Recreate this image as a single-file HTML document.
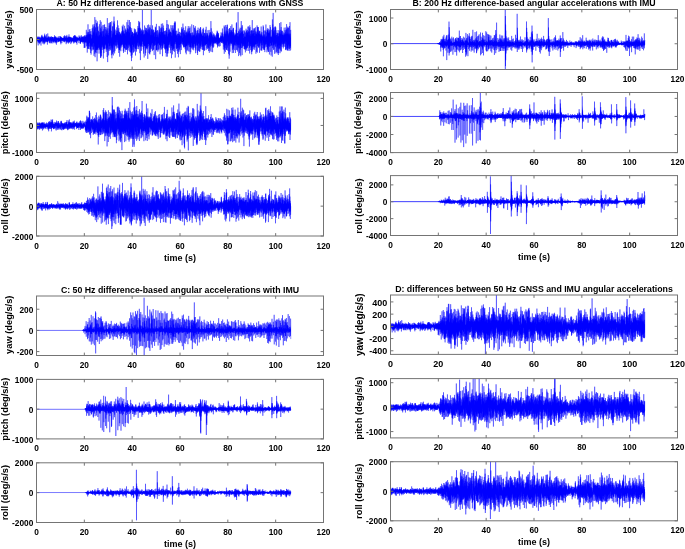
<!DOCTYPE html><html><head><meta charset="utf-8"><style>html,body{margin:0;padding:0;background:#fff;overflow:hidden}svg{display:block;will-change:transform}text{font-family:'Liberation Sans',sans-serif;font-weight:bold}</style></head><body>
<svg width="685" height="549" viewBox="0 0 685 549">
<rect width="685" height="549" fill="#fff"/>
<path transform="translate(36.75 0) scale(0.5 0.1)" d="M0 380l1-3 1 9 1 3 1-6 1 1 1 6 1 11 1-16 1-11 1 6 1-6 1 7 1-4 1 4 1 10 1-35 1 26 1 4 1 1 1-6 1 2 1-9 1 6 1-2 1 5 1 8 1-1 1-17 1 20 1-10 1 0 1 3 1-7 1 15 1 0 1-23 1 10 1 3 1-2 1 0 1 10 1-3 1-8 1 8 1 0 1-4 1-15 1 16 1-1 1-5 1-1 1 3 1 4 1-2 1 4 1-14 1 9 1-1 1-7 1 8 1 5 1-7 1 10 1-16 1-4 1 10 1 0 1-1 1 11 1-7 1-3 1 10 1 1 1-24 1 16 1-18 1 15 1 3 1-6 1 10 1-2 1-4 1 6 1-2 1-16 1 13 1 0 1 5 1-4 1-2 1 0 1-7 1 11 1 4 1-28 1 31 1-26 1 8 1 2 1-13 1-22 1 43 1-50 1 43 1 14 1-52 1 5 1 34 1 9 1 5 1-5 1-37 1-46 1 47 1-25 1 5 1 5 1 32 1-33 1-1 1 16 1 75 1-47 1-13 1-27 1 28 1-30 1-14 1-13 1 32 1 33 1-5 1-35 1 24 1-1 1 31 1-65 1 53 1-19 1-52 1 57 1-35 1 30 1-6 1-12 1-41 1-28 1 75 1 43 1-21 1 22 1-47 1 28 1-39 1-72 1 74 1 18 1 9 1 19 1-43 1-2 1 13 1-67 1 65 1 52 1-45 1-8 1 5 1 7 1 5 1-28 1-16 1 19 1 29 1-28 1-6 1 58 1-68 1 60 1-59 1-11 1 43 1-57 1 81 1-51 1 8 1 53 1-34 1 0 1-11 1-20 1 35 1 11 1 14 1-46 1 27 1-13 1-24 1 25 1 32 1-39 1 5 1-26 1 9 1-32 1-45 1 101 1-16 1 11 1-16 1-21 1 10 1 18 1 24 1-12 1-24 1 37 1-67 1 10 1 46 1-36 1 3 1 39 1-60 1 10 1 43 1-55 1 73 1-14 1-23 1 43 1-73 1 25 1 18 1 30 1-18 1-29 1 59 1-12 1-11 1 6 1-22 1-14 1 51 1-70 1 2 1 42 1-45 1-36 1 53 1-10 1 9 1 15 1 24 1-15 1-13 1 29 1 1 1 4 1-62 1-1 1 63 1-8 1-38 1 2 1-8 1 38 1-43 1 43 1-3 1 7 1-24 1-49 1 39 1 6 1 27 1-60 1 50 1-5 1 7 1 54 1-47 1-4 1-4 1-17 1 21 1 20 1-21 1-5 1-73 1 31 1 72 1-2 1-66 1 18 1 14 1 41 1-42 1 14 1-18 1 16 1-20 1-6 1-14 1 47 1-60 1 33 1 10 1 35 1-36 1 30 1-17 1-8 1-3 1 17 1-47 1 54 1-7 1-27 1 30 1-6 1-45 1 3 1 53 1 21 1-49 1-27 1-33 1 65 1-4 1 5 1 2 1 5 1-24 1 35 1-6 1-1 1-22 1 16 1 22 1-19 1-28 1 39 1 23 1-74 1 30 1 26 1-60 1 14 1 31 1-3 1 29 1-21 1 19 1-16 1-2 1 8 1 16 1-10 1-19 1-25 1 8 1 32 1-2 1 22 1-24 1 7 1-14 1-10 1 13 1-18 1 4 1 31 1-11 1-84 1 80 1 31 1-63 1 5 1-16 1-34 1 37 1 25 1-35 1 13 1-6 1 21 1-18 1-10 1-20 1 58 1-17 1-67 1 81 1-2 1 30 1-35 1 14 1-71 1 46 1 29 1-11 1 12 1-14 1-15 1 18 1-14 1-17 1-15 1 25 1-23 1 4 1 85 1-27 1-22 1 10 1 7 1-20 1-51 1 67 1-52 1 21 1-29 1 53 1-3 1-11 1-19 1 56 1-25 1-15 1-2 1 2 1-12 1 23 1-3 1 12 1-33 1 34 1-7 1-23 1 16 1 28 1-52 1 18 1-6 1 12 1 6 1-3 1-48 1 60 1-11 1 29 1-40 1 26 1-20 1 35 1-41 1 44 1-19 1 2 1-53 1-9 1-3 1 36 1-2 1-12 1 36 1 1 1 5 1 37 1-74 1-48 1 80 1-18 1-30 1 40 1-6 1 4 1 22 1-8 1-23 1 29 1-21 1 17 1-44 1 9 1 23 1-30 1-11 1 31 1-4 1-3 1 63 1-42 1-20 1 24 1-38 1 51 1-43 1 13 1 5 1-37 1 7 1 29 1-20 1 39 1 3 1-22V468l-1-9 -1 6 -1-41 -1 52 -1-62 -1 5 -1 73 -1-56 -1-34 -1 44 -1-42 -1 14 -1-31 -1 42 -1 18 -1-45 -1 24 -1-10 -1 38 -1-33 -1 77 -1-59 -1-23 -1 60 -1-52 -1 59 -1-19 -1-73 -1 101 -1-73 -1 19 -1 10 -1-56 -1 88 -1-54 -1-13 -1-6 -1 41 -1 7 -1-31 -1 7 -1-28 -1 56 -1-3 -1-37 -1 32 -1 1 -1-25 -1-8 -1-9 -1 23 -1 11 -1-30 -1 46 -1-73 -1 30 -1-24 -1 31 -1-6 -1 8 -1-28 -1 56 -1-51 -1-4 -1 5 -1 27 -1 8 -1-42 -1 48 -1-7 -1-3 -1 5 -1 15 -1-1 -1-28 -1 15 -1 22 -1 20 -1-92 -1 67 -1-37 -1 52 -1-61 -1 1 -1 4 -1 2 -1 39 -1 23 -1-95 -1 59 -1 41 -1-30 -1-51 -1 40 -1-21 -1 12 -1 20 -1-43 -1 22 -1 39 -1 0 -1-38 -1-55 -1 92 -1-57 -1-1 -1 66 -1-61 -1-18 -1 32 -1-25 -1 33 -1 3 -1 30 -1-87 -1 28 -1 71 -1-74 -1-8 -1 28 -1-15 -1-12 -1 64 -1-26 -1-14 -1-1 -1-25 -1 7 -1 38 -1-35 -1 36 -1 15 -1-41 -1-5 -1 14 -1-27 -1 14 -1-10 -1 1 -1-7 -1-1 -1 5 -1 17 -1-13 -1 26 -1 18 -1-65 -1 27 -1 2 -1 4 -1-21 -1 12 -1 3 -1 15 -1-12 -1 53 -1-59 -1-5 -1 26 -1 2 -1-4 -1-28 -1 88 -1-16 -1-70 -1 26 -1-16 -1 21 -1-1 -1 6 -1-7 -1 0 -1-21 -1 6 -1 21 -1-32 -1 43 -1-60 -1 41 -1 28 -1-56 -1 20 -1 24 -1-24 -1 10 -1 13 -1 3 -1-40 -1 21 -1 22 -1 0 -1-61 -1 41 -1 6 -1-6 -1 37 -1-34 -1-31 -1 42 -1 9 -1 12 -1-45 -1 39 -1-47 -1 36 -1-7 -1-30 -1 35 -1 2 -1 11 -1 14 -1-10 -1-56 -1 12 -1 15 -1-14 -1-14 -1-59 -1 84 -1 6 -1-6 -1 9 -1 7 -1-31 -1 45 -1-41 -1 55 -1-44 -1 14 -1-56 -1 47 -1-24 -1 36 -1-38 -1 56 -1-24 -1 10 -1 3 -1-1 -1-40 -1-23 -1 15 -1 13 -1-6 -1 57 -1-16 -1 48 -1-34 -1 12 -1-43 -1 39 -1-52 -1 15 -1-18 -1-6 -1 0 -1-9 -1 9 -1-21 -1 19 -1 46 -1-18 -1-35 -1 22 -1-11 -1 19 -1-11 -1 63 -1-54 -1 12 -1-45 -1 13 -1 34 -1-27 -1 33 -1-56 -1 27 -1-3 -1 33 -1 14 -1-6 -1-19 -1-12 -1-3 -1 1 -1 1 -1 5 -1 22 -1-37 -1 31 -1 1 -1-8 -1-40 -1 35 -1 0 -1-47 -1 20 -1-2 -1 44 -1-53 -1 55 -1-7 -1-37 -1-16 -1-18 -1 34 -1 19 -1 27 -1-44 -1 76 -1-112 -1 92 -1-56 -1 46 -1 2 -1-31 -1 12 -1 61 -1 13 -1-57 -1-5 -1-20 -1 4 -1-10 -1-41 -1 59 -1-31 -1 56 -1-46 -1-12 -1 45 -1 7 -1-42 -1 27 -1 9 -1-47 -1-23 -1 3 -1 43 -1-6 -1-18 -1 65 -1 14 -1-60 -1 34 -1-48 -1-28 -1-24 -1 55 -1 0 -1-17 -1 82 -1-93 -1 64 -1-33 -1 36 -1 40 -1-57 -1 25 -1-43 -1-10 -1 42 -1-16 -1-28 -1 14 -1 24 -1 28 -1-69 -1 70 -1-53 -1-9 -1 15 -1 36 -1 11 -1-58 -1 11 -1 37 -1-41 -1-4 -1 145 -1-133 -1 21 -1 34 -1-73 -1 47 -1 20 -1-22 -1-4 -1 28 -1-48 -1 59 -1-10 -1-50 -1-18 -1 0 -1-18 -1 51 -1-13 -1 20 -1-11 -1-25 -1-10 -1 11 -1 8 -1-12 -1 30 -1-29 -1-24 -1 17 -1-7 -1 11 -1-4 -1-2 -1-12 -1 5 -1-2 -1 5 -1-4 -1-11 -1 13 -1 17 -1-36 -1-4 -1 13 -1-5 -1 0 -1 4 -1 12 -1-6 -1-4 -1 10 -1-20 -1 22 -1-7 -1 0 -1 0 -1-6 -1 7 -1 4 -1-7 -1-7 -1 13 -1-4 -1-11 -1 14 -1-16 -1 23 -1-12 -1 9 -1-14 -1-1 -1-1 -1 10 -1-16 -1 9 -1-2 -1-5 -1 5 -1 2 -1 17 -1-27 -1 14 -1 0 -1 3 -1-18 -1 5 -1 3 -1 7 -1 11 -1-2 -1-11 -1 1 -1 3 -1 8 -1-23 -1 12 -1-7 -1 9 -1 5 -1-16 -1 1 -1 7 -1 2 -1-5 -1-6 -1 11 -1 11 -1-10 -1 2 -1-8 -1 3 -1-3 -1 6 -1-4 -1 12 -1-15 -1 0 -1 2 -1 9 -1-11 -1 18 -1 0 -1-18 -1 10 -1 4 -1-10 -1-5 -1 11z" fill="#0000ff"/>
<path transform="scale(0.08333333333333333 0.1)" d="M438 363l1 50 1 22 1-54 1 16 1-35 1 15 1 29 1-5 1-25 1-5 1 35 1-2 1-18 1 6 1 14 1-28 1 43 1 2 1-54 1 85 1-74 1 36 1-27 1-5 1 41 1-53 1 20 1 28 1-56 1 17 1 16 1-10 1 43 1-32 1-26 1 48 1-45 1 67 1-62 1 51 1-25 1-2 1 21 1-25 1 21 1-20 1 6 1-31 1 37 1-37 1 24 1-14 1 62 1 7 1-55 1 13 1-48 1 16 1-9 1-16 1 59 1-23 1-9 1-3 1 24 1-56 1 54 1-12 1-16 1-3 1 52 1-53 1 18 1-25 1 42 1-3 1-7 1 43 1-73 1 24 1 41 1-46 1 33 1-16 1-24 1 38 1-33 1 29 1-37 1 70 1-52 1 17 1-32 1 10 1 30 1-64 1 81 1-97 1 96 1-45 1-32 1 46 1-26 1 22 1-32 1 56 1-40 1 18 1 13 1-41 1 35 1-14 1-38 1 68 1-55 1 19 1 18 1 7 1-29 1 26 1-67 1 41 1 37 1-3 1-36 1 27 1-26 1 37 1-36 1-3 1 66 1-72 1 36 1 11 1-87 1 24 1 50 1 2 1-24 1-2 1-4 1 34 1-51 1 40 1-15 1-19 1 36 1-1 1-33 1 31 1-18 1 42 1-42 1-18 1 17 1 49 1-41 1-17 1 25 1 21 1-28 1 7 1-4 1 13 1-31 1 13 1 43 1-20 1-41 1 31 1-32 1 27 1-25 1 51 1-24 1-40 1 54 1-21 1 12 1 27 1-48 1 14 1-23 1-5 1 39 1-36 1 27 1 34 1-51 1-14 1 29 1-27 1 15 1 32 1-22 1 1 1 14 1-41 1 43 1-40 1 12 1-6 1 34 1-16 1 22 1-29 1 28 1 14 1-44 1 18 1 10 1 5 1-52 1 33 1-18 1-31 1 54 1 3 1-42 1 43 1-32 1-7 1 53 1-30 1 24 1-43 1 18 1 26 1-57 1 21 1 49 1-16 1-49 1 32 1-30 1 50 1-38 1 2 1 63 1-58 1 19 1 19 1-46 1 4 1-6 1 24 1-14 1 4 1 13 1-7 1-7 1-13 1 11 1-1 1 34 1-17 1-32 1 46 1-39 1 25 1-41 1-2 1 27 1 29 1-40 1 32 1-18 1-5 1 16 1 9 1-15 1 10 1-20 1 25 1-31 1 7 1 12 1 7 1-23 1 29 1-54 1 17 1 14 1-28 1 51 1-44 1 34 1 4 1-41 1 61 1-48 1 63 1-45 1-11 1 12 1-26 1 36 1 1 1-32 1-9 1 32 1-24 1 23 1 31 1-50 1 19 1-10 1 14 1-26 1 1 1 18 1 9 1-17 1-7 1 27 1-30 1 23 1 11 1-27 1-5 1 20 1 3 1-19 1 9 1-4 1-8 1 34 1-21 1-33 1 52 1-48 1 45 1-20 1 32 1-35 1-21 1 34 1-49 1 49 1 2 1-28 1 45 1-37 1-20 1 40 1-4 1-17 1 21 1-21 1 22 1-22 1-18 1 44 1-26 1 35 1 25 1-67 1-14 1 62 1-7 1-41 1 29 1-21 1-34 1 59 1 23 1-49 1 7 1 3 1-18 1 46 1-16 1-21 1-2 1 28 1-25 1-9 1 38 1-52 1 39 1 27 1-36 1 45 1-61 1 24 1-26 1 46 1-19 1-34 1-22 1 46 1-19 1 53 1-44 1 31 1 9 1-29 1-23 1 35 1 23 1-59 1 34 1-28 1-1 1 42 1-1 1-32 1 28 1-35 1 30 1-28 1 65 1-61 1 0 1 17 1-21 1 43 1-23 1 22 1-7 1-27 1 45 1-47 1-9 1 34 1 0 1-26 1 28 1-30 1-2 1 22 1-8 1 18 1-20 1 25 1-29 1 29 1-29 1 31 1-24 1 18 1-23 1 28 1-5 1-50 1 37 1 38 1-19 1-58 1 67 1-50 1 6 1 44 1-41 1 19 1-47 1 39 1-42 1 58 1-23 1-22 1 51 1-64 1 67 1-39 1-9 1 43 1-56 1 33 1 27 1-49 1 29 1-15 1 22 1-36 1 59 1-56 1 5 1 46 1 5 1-30 1-15 1 31 1-51 1 82 1-24 1-42 1 23 1-16 1 25 1-37 1 24 1-17 1-8 1 32 1 7 1-33 1 5 1 9 1 3 1 4 1 1 1-18 1 14 1-16 1 22 1-18 1-7 1 52 1-28 1-49 1 37 1-26 1 30 1-21 1 35 1-19 1-6 1-15 1 14 1 24 1-36 1 30 1-21 1 56 1-46 1 48 1-9 1-41 1 40 1-18 1 3 1-52 1 52 1-19 1 4 1-47 1 33 1 20 1 16 1-45 1 7 1 34 1-45 1 41 1-23 1 15 1-39 1 55 1 4 1-53 1 46 1-39 1 33 1-36 1 18 1-23 1 53 1-59 1 73 1-64 1 40 1-17 1-3 1 28 1-21 1-34 1 0 1 35 1 19 1-58 1 118 1-111 1 53 1-70 1 70 1 54 1-80 1-15 1 46 1-32 1-33 1 115 1-43 1-26 1-2 1-43 1-9 1 64 1-47 1 44 1-40 1 43 1-49 1 63 1-34 1-21 1-79 1 153 1 12 1-99 1 41 1-53 1 58 1-60 1 79 1-94 1-18 1 209 1-90 1-55 1 107 1-139 1-15 1 104 1-31 1 51 1-215 1 241 1-163 1 107 1 33 1-117 1 34 1 110 1-86 1-80 1 56 1 62 1 51 1-143 1 56 1-107 1 111 1 24 1-73 1 107 1-42 1-84 1 76 1-126 1 122 1-67 1-30 1 182 1-154 1 147 1-6 1-64 1 110 1-151 1-36 1 108 1-140 1 235 1-66 1-92 1-9 1 74 1-6 1-50 1 29 1-77 1 158 1-114 1 76 1-77 1-108 1 127 1 54 1-44 1-12 1-57 1 86 1-87 1-105 1 251 1-215 1 156 1 55 1-227 1 126 1 35 1 68 1-167 1 62 1 37 1-17 1-93 1 241 1-208 1-109 1 225 1-29 1-179 1 165 1-134 1 206 1 43 1-367 1 166 1 0 1 235 1-117 1-183 1 182 1 71 1-79 1-74 1 150 1-244 1 142 1-222 1 304 1-119 1-11 1-49 1 11 1 166 1-91 1 87 1-264 1 300 1-299 1 219 1-92 1 253 1-71 1-149 1-179 1 228 1 53 1-222 1 153 1 75 1-9 1-228 1 208 1-93 1 97 1-113 1 120 1-176 1 125 1-66 1-52 1 91 1-31 1 54 1-18 1 126 1-186 1 148 1-32 1-224 1 125 1 97 1 22 1-61 1 44 1-148 1 70 1 52 1-106 1-135 1 297 1-101 1 179 1-281 1-18 1 300 1-255 1 234 1-266 1 239 1-312 1 179 1-7 1 81 1-129 1 222 1-129 1-114 1-57 1 120 1 92 1-92 1-12 1 127 1-185 1 131 1-6 1-71 1 2 1 47 1 49 1-217 1 184 1-119 1 114 1-120 1 27 1 250 1-173 1 76 1-109 1 107 1-194 1 239 1-282 1 190 1 55 1-136 1 24 1 107 1-31 1-214 1 164 1-9 1-10 1 93 1-36 1-176 1 173 1-108 1 25 1-67 1 37 1 124 1-77 1 64 1-77 1 51 1 78 1-221 1 86 1 160 1-145 1 113 1-121 1-63 1 145 1-95 1 67 1-133 1 213 1-148 1 219 1-141 1-248 1 297 1-112 1 32 1 223 1-306 1-8 1 153 1-177 1 210 1-19 1-116 1 75 1-52 1 18 1 155 1-135 1-90 1 89 1-187 1 155 1 124 1-62 1-191 1 75 1 51 1 80 1-174 1 10 1 195 1-261 1 260 1-70 1-202 1 109 1-79 1 77 1 130 1-237 1 282 1-58 1-77 1 11 1-70 1 23 1 151 1-176 1 137 1-35 1 143 1-92 1-48 1 34 1-233 1 93 1 277 1-106 1-87 1 90 1 48 1-191 1 78 1 128 1-278 1 139 1 77 1-217 1 202 1-36 1-114 1 53 1 38 1-36 1 183 1-91 1-131 1 49 1-154 1 293 1-248 1-106 1 281 1-234 1 186 1-81 1 127 1-203 1 292 1-42 1-158 1-21 1 196 1-144 1 33 1-51 1 68 1-119 1 114 1-55 1 99 1-103 1 105 1-29 1-62 1 12 1 89 1-61 1-55 1 30 1 74 1-147 1 61 1 118 1-212 1 71 1 27 1-42 1 63 1 3 1-61 1 112 1-144 1-99 1 248 1 25 1-171 1 93 1-51 1 73 1-167 1 19 1 162 1-24 1 71 1-111 1 67 1-92 1 184 1-249 1 135 1 12 1-47 1 117 1-180 1 94 1 88 1-176 1 71 1 172 1-214 1 27 1 121 1-176 1 50 1 109 1-116 1-28 1 112 1-58 1-57 1 128 1-57 1 104 1-162 1 93 1-107 1 139 1-103 1 83 1-86 1 83 1-127 1 56 1 55 1-43 1-81 1 131 1-48 1-5 1-132 1 185 1-133 1 137 1-176 1 149 1-102 1 92 1-111 1 168 1-130 1-91 1 261 1 5 1-195 1 212 1-157 1-32 1 109 1 9 1-150 1 27 1 119 1 26 1-144 1 95 1-93 1 145 1-225 1 31 1 92 1 100 1-103 1 12 1 129 1-56 1 30 1-135 1 87 1-159 1 121 1-103 1 194 1-114 1 69 1-154 1 121 1-95 1 129 1-45 1 24 1 66 1-176 1 172 1-82 1-36 1-155 1 124 1 118 1-152 1 111 1-138 1 145 1 113 1-188 1 134 1-205 1 88 1-173 1 99 1 96 1 110 1-253 1 228 1-186 1 94 1 65 1-73 1 27 1 30 1-118 1 10 1 137 1-50 1-87 1 118 1-246 1 196 1-132 1 174 1 77 1-111 1-130 1 34 1 154 1-33 1 93 1-301 1 240 1-1 1-187 1 34 1 175 1-74 1 117 1-101 1 135 1-199 1-33 1-24 1 277 1 31 1-304 1-25 1 229 1-53 1 120 1-74 1-180 1 223 1-202 1 105 1-132 1 57 1-54 1 77 1 34 1-58 1 123 1-38 1-96 1 61 1 101 1-39 1-123 1 30 1 131 1-193 1 71 1-64 1 129 1-129 1 72 1 11 1-90 1-46 1 150 1-106 1 186 1-66 1-84 1-73 1 186 1-163 1 38 1-11 1 148 1-131 1 114 1 82 1-261 1 189 1-107 1-50 1 99 1-94 1 90 1-86 1 159 1-53 1-68 1 143 1-195 1 120 1 24 1-17 1-67 1-66 1 90 1 85 1-144 1 45 1 63 1-102 1 67 1-69 1 77 1-70 1-96 1 124 1-57 1-46 1 181 1-142 1 10 1 28 1 133 1-283 1 262 1-68 1-121 1 151 1-153 1 23 1 116 1-192 1 227 1-10 1-187 1-39 1 264 1 50 1-220 1 125 1-117 1 143 1-66 1-119 1 323 1-202 1-57 1-51 1 176 1-22 1-40 1-99 1 149 1-79 1 78 1-146 1 200 1-117 1 51 1-145 1 120 1-80 1 122 1-110 1 121 1-77 1-77 1 72 1-293 1 229 1 60 1 29 1-84 1-33 1 144 1-68 1-58 1 21 1 152 1 8 1-149 1 190 1-233 1 88 1-20 1 61 1 22 1-109 1 107 1 123 1-195 1 19 1-54 1 116 1-206 1 206 1-41 1-83 1 63 1-31 1 108 1-175 1 152 1-7 1 109 1-98 1-182 1 255 1-138 1 44 1-135 1 93 1 32 1-141 1 208 1-46 1-136 1 169 1-152 1-49 1 164 1 35 1-95 1 85 1-147 1-5 1 125 1 49 1-239 1 185 1-140 1 13 1 279 1-248 1 134 1-29 1-82 1 95 1-132 1 15 1 94 1-191 1 195 1-5 1-146 1 107 1 59 1 75 1-246 1 71 1 52 1-106 1 158 1 78 1-133 1 46 1-180 1 274 1-215 1-77 1 242 1-25 1-167 1-20 1 171 1-103 1 172 1-148 1 66 1 42 1-107 1 30 1 20 1-47 1-283 1 266 1 127 1 4 1-194 1 149 1-156 1 47 1 90 1 2 1-134 1 135 1-78 1 28 1 130 1-257 1 73 1 52 1 123 1-98 1-96 1 37 1 119 1-22 1-147 1 38 1 164 1-146 1 46 1-97 1 194 1-163 1 96 1-46 1 123 1 47 1-158 1 61 1-126 1 66 1 63 1-41 1-84 1-13 1 58 1 67 1-95 1-32 1 90 1-140 1 131 1-122 1 183 1 133 1-199 1 59 1-146 1 91 1-26 1 15 1 98 1 17 1-262 1 110 1 154 1-193 1 191 1-131 1 124 1-120 1 57 1-85 1 108 1-16 1-40 1-96 1 95 1-22 1-4 1 146 1-111 1-101 1 138 1 60 1-178 1 20 1 78 1-39 1 109 1-70 1 10 1 1 1-52 1 3 1-126 1 62 1 114 1-19 1-74 1 105 1-151 1 156 1-185 1 56 1 172 1-149 1 196 1-176 1 75 1 38 1-132 1 48 1 73 1-148 1 99 1-71 1-67 1 46 1 120 1-163 1 213 1-259 1 162 1 57 1-52 1-72 1 97 1-27 1-131 1 8 1 210 1-163 1 58 1 95 1-160 1 242 1-175 1-153 1 157 1 72 1-122 1 137 1-117 1-43 1 46 1-109 1 191 1-37 1-127 1 145 1-52 1 63 1-86 1 37 1-78 1 91 1 76 1-33 1-98 1 91 1-95 1-32 1 63 1-27 1 141 1-149 1 155 1-116 1 54 1 62 1-184 1 219 1-178 1 26 1 47 1 7 1-129 1 74 1 99 1-101 1 193 1-186 1 105 1-167 1 84 1-123 1 194 1 8 1-281 1 335 1-123 1-173 1 268 1-99 1 157 1-104 1-87 1 20 1 88 1-68 1-57 1 176 1-164 1 136 1-133 1-35 1 113 1-205 1 173 1-44 1-75 1 148 1-68 1-43 1 40 1-91 1 139 1-100 1 152 1-180 1 86 1-39 1 68 1 32 1-129 1 130 1-78 1 5 1 1 1-56 1 215 1-15 1-193 1 82 1-86 1 179 1-248 1 209 1-93 1 48 1 64 1-123 1 70 1 156 1-254 1 118 1-36 1 52 1-181 1 168 1-33 1 42 1-203 1 116 1 173 1-137 1 41 1 52 1-196 1 199 1-160 1-45 1 174 1-220 1 239 1-184 1 176 1-70 1-128 1 225 1-137 1-52 1 95 1-73 1 142 1-153 1 78 1-179 1 288 1-23 1-271 1 145 1 66 1-18 1-113 1-93 1 230 1-132 1 266 1-97 1-255 1 196 1-46 1 20 1-43 1 62 1-90 1-17 1 80 1-41 1 133 1-25 1-98 1 136 1-129 1 75 1-62 1-66 1 176 1-126 1 151 1-29 1-101 1 61 1 48 1 49 1-194 1 40 1 96 1-142 1 88 1-90 1 139 1-8 1-102 1-80 1 288 1-150 1-38 1-47 1 81 1 101 1-159 1 47 1 97 1-185 1 155 1-41 1-90 1 150 1-120 1 72 1-98 1-30 1 131 1-80 1 50 1-62 1 115 1 69 1-116 1-61 1 79 1 31 1-68 1-78 1 82 1-81 1 102 1-74 1 144 1-132 1 68 1-51 1-33 1-5 1-77 1 74 1-60 1 12 1 118 1-16 1-46 1-61 1 135 1 16 1-62 1 33 1-25 1 63 1-216 1 204 1-68 1 49 1-90 1 62 1 68 1-82 1 96 1-198 1 148 1 44 1-148 1 18 1 94 1 33 1-164 1 52 1 59 1-68 1 74 1 53 1-119 1-48 1 145 1-62 1 91 1 14 1-69 1-16 1-26 1-30 1 174 1-263 1 191 1-125 1 136 1-11 1-38 1-98 1 225 1-183 1 100 1-8 1-104 1-24 1 163 1 20 1-176 1 86 1-111 1 80 1-62 1 69 1 52 1-101 1 154 1-51 1-50 1-112 1 178 1-77 1 126 1-58 1-193 1 108 1-45 1 0 1 89 1-24 1 58 1-29 1-134 1 96 1-13 1 149 1-206 1 95 1 66 1-120 1 77 1-95 1 93 1-148 1 117 1-132 1 119 1 160 1-135 1 64 1-127 1 10 1 113 1-134 1 190 1-134 1 38 1-97 1 156 1-85 1 34 1 38 1-84 1-36 1 55 1 23 1-187 1 20 1 110 1 104 1-82 1 30 1-102 1 115 1-63 1 84 1 36 1-139 1 116 1-146 1 135 1-114 1 83 1 5 1-54 1 103 1-127 1 74 1-181 1 252 1-104 1 69 1-113 1-7 1 93 1 37 1-93 1-31 1 82 1-14 1-145 1 48 1 68 1-110 1 155 1-59 1 69 1-43 1 57 1-200 1 196 1-76 1 150 1-168 1 121 1-188 1 159 1 48 1-193 1 14 1 122 1-102 1 65 1 3 1-59 1-22 1 45 1 19 1 53 1 10 1-105 1 99 1-84 1 159 1-174 1-49 1 245 1-79 1-147 1-23 1 136 1-110 1-50 1 57 1 105 1 67 1-113 1-60 1 94 1-19 1 100 1-118 1 37 1-14 1-60 1 124 1-138 1 96 1 83 1-231 1 96 1-28 1 72 1-97 1 185 1-202 1 140 1-75 1 106 1-80 1-128 1-5 1 192 1-188 1 141 1-112 1 184 1-37 1-105 1 83 1 6 1 32 1-110 1-14 1 55 1-64 1 112 1-74 1-19 1 17 1-48 1 59 1 117 1-113 1 81 1-55 1-51 1 104 1-172 1 39 1 166 1-54 1-73 1 128 1-157 1-63 1 274 1-130 1-81 1-44 1 167 1-76 1 71 1-83 1 47 1-27 1 105 1-172 1 72 1 108 1-179 1 29 1 87 1-51 1-11 1-46 1 116 1-85 1 55 1-55 1 80 1 5 1-157 1 31 1 116 1 3 1-100 1-16 1 170 1-233 1 166 1-71 1 75 1-29 1 30 1-64 1 60 1 47 1-150 1 86 1-61 1 70 1-77 1 141 1-106 1-51 1 117 1-98 1 118 1-37 1-132 1 83 1 98 1-75 1-31 1 24 1-44 1 33 1 120 1-55 1-38 1 61 1-78 1-7 1-72 1-22 1 221 1 8 1-73 1-49 1-53 1 102 1-130 1 45 1 42 1-26 1 122 1-147 1 92 1-75 1 46 1-102 1 91 1 54 1-68 1 52 1-240 1 165 1 143 1-52 1-184 1 153 1-100 1 74 1-38 1-26 1 21 1 13 1 58 1 22 1-105 1-39 1 96 1-48 1 51 1 45 1 62 1-153 1 35 1 70 1-128 1 14 1 28 1-37 1 126 1-47 1-38 1 45 1-68 1-35 1 132 1-33 1-36 1-22 1 48 1-45 1 52 1-85 1 51 1 11 1-46 1 30 1 46 1-64 1 60 1-33 1 29 1-76 1 50 1-14 1-23 1 37 1 21 1-47 1 54 1-45 1 39 1-14 1 23 1-47 1 21 1 36 1-98 1 75 1-54 1-33 1 88 1-18 1-20 1 21 1-47 1-51 1 135 1-124 1 73 1 84 1-157 1 10 1 128 1-5 1-100 1 87 1-55 1-31 1 110 1-35 1-89 1 79 1-87 1 82 1-27 1-7 1 54 1-42 1 38 1-38 1 76 1-51 1 10 1-17 1-30 1 1 1 33 1 5 1-41 1 17 1-13 1 81 1-75 1-6 1 39 1-15 1-49 1 34 1 20 1 11 1-54 1 45 1-88 1 33 1 71 1-65 1 46 1-33 1 23 1 29 1-18 1-76 1 98 1-11 1-18 1-45 1 59 1 8 1-139 1 125 1-21 1-64 1 109 1-28 1-45 1-19 1 71 1-12 1 38 1 57 1-131 1 31 1 23 1 21 1-71 1 3 1 95 1-15 1-97 1-100 1 283 1-114 1-156 1 238 1-74 1-93 1 144 1-92 1-35 1 90 1-130 1 167 1-75 1-74 1 187 1-107 1-163 1 164 1-70 1-5 1 86 1 30 1-104 1 97 1-145 1 41 1 153 1-37 1-93 1 127 1-224 1 105 1-60 1 184 1-248 1 162 1-78 1-90 1 135 1-44 1 140 1-48 1-117 1 21 1 154 1 23 1-119 1-29 1 95 1-68 1-34 1 46 1 137 1-107 1-139 1 27 1 125 1-104 1 105 1 142 1-260 1 227 1-274 1 124 1-83 1 50 1-87 1 50 1 104 1-45 1 124 1-162 1 63 1-118 1 121 1-16 1-85 1 113 1-172 1 100 1 94 1-3 1-126 1 30 1 82 1-131 1 78 1 45 1-128 1 33 1 75 1 28 1-194 1 121 1 57 1-67 1 176 1-163 1 130 1-69 1-109 1 80 1-105 1 121 1-53 1 31 1-67 1 61 1-110 1 215 1-212 1 248 1-167 1 113 1-125 1-7 1 51 1 56 1-117 1-7 1 119 1 10 1-95 1 44 1 5 1 93 1-94 1-58 1 40 1-53 1 72 1-54 1 41 1-43 1 177 1-72 1-105 1 96 1-112 1 63 1-31 1 91 1-162 1 42 1 102 1-210 1 170 1 18 1-197 1 276 1-162 1 109 1-102 1-5 1 160 1-126 1 52 1-30 1 120 1-153 1 53 1-84 1 121 1-123 1 103 1-7 1-304 1 171 1 122 1-40 1 75 1-137 1 249 1-185 1 97 1 2 1-108 1 116 1-112 1-53 1 63 1-26 1-61 1 235 1-166 1-26 1 115 1-60 1-47 1 204 1-272 1 168 1-140 1 61 1 129 1-40 1-123 1 48 1 183 1-64 1-188 1-30 1 199 1-5 1-264 1 216 1-110 1 119 1-96 1 73 1-84 1 151 1-138 1-77 1 119 1 167 1-300 1 131 1 74 1-141 1 159 1-11 1-155 1 15 1 113 1-20 1 47 1-12 1-72 1-38 1 83 1-87 1 108 1-64 1 78 1-76 1 74 1-156 1 189 1-85 1-95 1 73 1 81 1 28 1-123 1 44 1 54 1-144 1 78 1 85 1-115 1 130 1-126 1 1 1 148 1-47 1-43 1-108 1 70 1 90 1-101 1-35 1-63 1 99 1-79 1-2 1 179 1 10 1-153 1-28 1 168 1-95 1 124 1-50 1-108 1 124 1-156 1-20 1 85 1-60 1 151 1-135 1 55 1-24 1 87 1-42 1-149 1 123 1-128 1 194 1-145 1 48 1 43 1-38 1 145 1-81 1-76 1 71 1-67 1-37 1 92 1 1 1-51 1 116 1-195 1 252 1-282 1 117 1 103 1-203 1 75 1 96 1-133 1 113 1-7 1 45 1-101 1 31 1 112 1-117 1 74 1-118 1 32 1 2 1 17 1 44 1-126 1 210 1-216 1 240 1-172 1-67 1 179 1-20 1-92 1 128 1-298 1 134 1 179 1-125 1 80 1-162 1 73 1-39 1 102 1-113 1 96 1 8 1-150 1 105 1 82 1-71 1-94 1 155 1-32 1 59 1-88 1 35 1-104 1 169 1-207 1 148 1 16 1-176 1 87 1 105 1-98 1 72 1-56 1 32 1 52 1-56 1-107 1 123 1-162 1 172 1-76 1 69 1-102 1-12 1 213 1 0 1-129 1 35 1-106 1 78 1-74 1-4 1 181 1-93 1-110 1 25 1 56 1 43 1-185 1 101 1 96 1 75 1-257 1 139 1-23 1-53 1 125 1-183 1 186 1-13 1-144 1 101 1-53 1 119 1-200 1 79 1 128 1-151 1 56 1 42 1-80 1 6 1 126 1-133 1 60 1-96 1 153 1 68 1-119 1-93 1 138 1-144 1 154 1-75 1-28 1-9 1 84 1-61 1 23 1-61 1 89 1-3 1 81 1-146 1 41 1-1 1-88 1-45 1 164 1-65 1 87 1-106 1 160 1-81 1-40 1 121 1-183 1 50 1-24 1 8 1 127 1-124 1 67 1 27 1-77 1 17 1-24 1 23 1 43 1-44 1-15 1-122 1 229 1-104 1-112 1 143 1 85 1-120 1 54 1-52 1-69 1 99 1 93 1-91 1-67 1 134 1-122 1 144 1-109 1 55 1-71 1 148 1-184 1-35 1 173 1-44 1-74 1-45 1 130 1-50 1 9 1-16 1 68 1 2 1-210 1 198 1-73 1 3 1 95 1-61 1-84 1 67 1 31 1-62 1 82 1-66 1 148 1-69 1-92 1-67 1 176 1-168 1 108 1-106 1 146 1 41 1-211 1 222 1-172 1 147 1-121 1 159 1-216 1-8 1 127 1 101 1-140 1-50 1 126 1 2 1-129 1 130 1-87 1 18 1-73 1-20 1 248 1-142 1-80 1 147 1-138 1-24 1 80 1-137 1 180 1 0 1-63 1 4 1 88 1-189 1 143 1 10 1-55 1 149 1-144 1 58 1 123 1-86 1-171 1 110 1-34 1 74 1-82 1 86 1-42 1 48 1-37 1-14 1-51 1 15 1 196 1-230 1-143 1 180 1-86 1 193 1-236 1 177 1-67 1 14 1 57 1-297 1 325 1-138 1 131 1-171 1 224 1-166 1 107 1-29 1 80 1-31 1-149 1 104 1-78 1-37 1 89 1-1 1 149 1-177 1 87 1-180 1 149 1 21 1-83 1-79 1 184 1-196 1 119 1-24 1 112 1-6 1-191 1 145 1-28 1 142 1-230 1 78 1 139 1-28 1-142 1 86 1-45 1-5 1-36 1 23 1 18 1-59 1 132 1 49 1-122 1-63 1 205 1-28 1-168 1 123 1-81 1 7 1 98 1-61 1-123 1 58 1 66 1 126 1-179 1 4 1 156 1-171 1 88 1-111 1 154 1-161 1 64 1 22 1-85 1-25 1 176 1-61 1-190 1 254 1-133 1 97 1-128 1 211 1-144 1 110 1-135 1-23 1 106 1 12 1-59 1-101 1 138 1-72 1-143 1 186 1 104 1-240 1 245 1-62 1-145 1 12 1 69 1 33 1-70 1 113 1-84 1-76 1 113 1 15 1-83 1 92 1-94 1 53 1-91 1 73 1 18 1-56 1 96 1-33 1 61 1-146 1 160 1-37 1-92 1 7 1 47 1 35 1-66 1-32 1 117 1-116 1 37 1-108 1 152 1-97 1 56 1 42 1-56 1 67 1-97 1 73 1-67 1 121 1-66 1-104 1 93 1-4 1-72 1 74 1 110 1-55 1-171 1 9 1 213 1-156 1 149 1-11 1-144 1 67 1-105 1 57 1-113 1 161 1 51 1-85 1 99 1 15 1-191 1 211 1-94 1 98 1-165 1 138 1-132 1-70 1 225 1-236 1 153 1-81 1 45 1 70 1-172 1 29 1 131 1-83 1 118 1 11 1-210 1 85 1 147 1-7 1-131 1 111 1-146 1 88 1-135 1-29 1 230 1-84 1-29 1-23 1 111 1-243 1 237 1 48 1-93 1-77 1 128 1 14 1-121 1-59 1 199" fill="none" stroke="#0000ff" stroke-width="0.42" vector-effect="non-scaling-stroke"/>
<path d="M36.50 69.5v-2.9M36.50 9.5v2.9M84.33 69.5v-2.9M84.33 9.5v2.9M132.17 69.5v-2.9M132.17 9.5v2.9M180.00 69.5v-2.9M180.00 9.5v2.9M227.83 69.5v-2.9M227.83 9.5v2.9M275.67 69.5v-2.9M275.67 9.5v2.9M323.50 69.5v-2.9M323.50 9.5v2.9M36.5 69.50h2.9M323.5 69.50h-2.9M36.5 39.50h2.9M323.5 39.50h-2.9M36.5 9.50h2.9M323.5 9.50h-2.9" fill="none" stroke="#747474" stroke-width="1"/>
<rect x="36.5" y="9.5" width="287.0" height="60.00" fill="none" stroke="#747474" stroke-width="1"/>
<text x="36.50" y="82.00" font-size="8.3" text-anchor="middle">0</text>
<text x="84.33" y="82.00" font-size="8.3" text-anchor="middle">20</text>
<text x="132.17" y="82.00" font-size="8.3" text-anchor="middle">40</text>
<text x="180.00" y="82.00" font-size="8.3" text-anchor="middle">60</text>
<text x="227.83" y="82.00" font-size="8.3" text-anchor="middle">80</text>
<text x="275.67" y="82.00" font-size="8.3" text-anchor="middle">100</text>
<text x="323.50" y="82.00" font-size="8.3" text-anchor="middle">120</text>
<text x="33.30" y="73.10" font-size="8.3" text-anchor="end">-500</text>
<text x="33.30" y="43.10" font-size="8.3" text-anchor="end">0</text>
<text x="33.30" y="13.10" font-size="8.3" text-anchor="end">500</text>
<text transform="translate(11.70,39.50) rotate(-90)" font-size="9.3" text-anchor="middle">yaw (deg/s/s)</text>
<text x="180.00" y="6.10" font-size="8.77" text-anchor="middle">A: 50 Hz difference-based angular accelerations with GNSS</text>
<path transform="translate(36.75 0) scale(0.5 0.1)" d="M0 1250l1-8 1 9 1 3 1-11 1-7 1 1 1 8 1-3 1 0 1-2 1-6 1-7 1 25 1-8 1-1 1 1 1 0 1 11 1-5 1 5 1 0 1-9 1 14 1-25 1 0 1 1 1 4 1-16 1 16 1-10 1-6 1 29 1-13 1 9 1-2 1-5 1 0 1-10 1 10 1-9 1 6 1 1 1-25 1 32 1 4 1-4 1 3 1-3 1-19 1 13 1 8 1-8 1 6 1-1 1-2 1-3 1-5 1 14 1-11 1-7 1 15 1 3 1-11 1-3 1-7 1 1 1 0 1 5 1 4 1 9 1-12 1 13 1-19 1 8 1-4 1 8 1-7 1 7 1-7 1 12 1-9 1 5 1-8 1 8 1-6 1 8 1-15 1 8 1 3 1-3 1 20 1-11 1-10 1 3 1-8 1 16 1 1 1 14 1-43 1 2 1-10 1 4 1 1 1-33 1 36 1-41 1 68 1-15 1-31 1 20 1-7 1-1 1 15 1 5 1 15 1-39 1-3 1 58 1-52 1 1 1 18 1-3 1 3 1 34 1-21 1-20 1 9 1-22 1 16 1 30 1-49 1 12 1-22 1-60 1 109 1-25 1-22 1-69 1 96 1-16 1-2 1 43 1-77 1 45 1-39 1 0 1 12 1 26 1-26 1-45 1-67 1 106 1-3 1-48 1 55 1 30 1 35 1-71 1 11 1 45 1-45 1-38 1-8 1 58 1-50 1 39 1-13 1 89 1-81 1 3 1-12 1 39 1-40 1 27 1-52 1 2 1 17 1-32 1 48 1-39 1 49 1 28 1-104 1 71 1-6 1 5 1 2 1 60 1-98 1 65 1-38 1 35 1-32 1-33 1 42 1-131 1 109 1 23 1-11 1-19 1 15 1-15 1-10 1 59 1-3 1-7 1-2 1-4 1-10 1 43 1-106 1 122 1-31 1 26 1-70 1 11 1 24 1-31 1 8 1-36 1 64 1-53 1 54 1-9 1-28 1 43 1-18 1-11 1 16 1 3 1-6 1 19 1-18 1 1 1-42 1-15 1 96 1-20 1-31 1-7 1 32 1 15 1-23 1-35 1 25 1-13 1 43 1 2 1-19 1 8 1-66 1 31 1 29 1-9 1-24 1 41 1-17 1 29 1-21 1-53 1 60 1 33 1-12 1-31 1 11 1-34 1 45 1-35 1 46 1-40 1-25 1 34 1 23 1-65 1 38 1 32 1-45 1 2 1 40 1-53 1 11 1-32 1-3 1 94 1-65 1-27 1 57 1-39 1 48 1-51 1 48 1-6 1-13 1 4 1 10 1-35 1 4 1-42 1 93 1-75 1 22 1 28 1-84 1 84 1-21 1 33 1 10 1-23 1-38 1 48 1 6 1-47 1 24 1-31 1 11 1 31 1-16 1 57 1-88 1 38 1 71 1-58 1-61 1 55 1-24 1 2 1-50 1 25 1-17 1 67 1-7 1 2 1-31 1 11 1 3 1 30 1 3 1-3 1-29 1-3 1 13 1 23 1-2 1-17 1 11 1-30 1 39 1-18 1-10 1 7 1 16 1-5 1 6 1-16 1 41 1-37 1 31 1-17 1-13 1 2 1 7 1-1 1 29 1-39 1 13 1 8 1-2 1-14 1 7 1 11 1-18 1 33 1-59 1 21 1-9 1 4 1-19 1 59 1-37 1-21 1 24 1-29 1-16 1 81 1-64 1-9 1-2 1 6 1-20 1 61 1-35 1-64 1 49 1 13 1 20 1-5 1 2 1-29 1 39 1-11 1-41 1-12 1 91 1-43 1 45 1-50 1 18 1-76 1 32 1 28 1-31 1 76 1-86 1 24 1 15 1 48 1-49 1-6 1 39 1 1 1-43 1 25 1-34 1 25 1 10 1-43 1 40 1-8 1-12 1 35 1-22 1 61 1-27 1-48 1 25 1-17 1 10 1 59 1-72 1 33 1-40 1 21 1-20 1 44 1-23 1-18 1 23 1-37 1 57 1-21 1 20 1-39 1 2 1-22 1 59 1-1 1 1 1-101 1 67 1 20 1-13 1-2 1 5 1-103 1 97 1-12 1-30 1-2 1 1 1 43 1-65 1 80 1 0 1-54 1 31 1 21 1-1 1 21 1 11 1 8 1-39 1 5 1 5 1 27 1-55 1-1 1-81 1 90 1 42 1-90 1 16 1-40 1 88 1-70 1 65 1 44 1-89 1 36 1 4 1 15 1-2 1-32 1 32 1 35 1-31 1 12 1-21 1 60V1290l-1 32 -1-20 -1 1 -1 25 -1-61 -1 10 -1 9 -1 14 -1-22 -1-11 -1 11 -1 44 -1-25 -1-14 -1 3 -1 7 -1 57 -1-25 -1-9 -1-46 -1 68 -1-48 -1-5 -1 85 -1-29 -1-12 -1-38 -1 3 -1 38 -1-13 -1-48 -1 22 -1-4 -1 27 -1-44 -1 41 -1-28 -1-1 -1-2 -1 47 -1-130 -1 92 -1 5 -1 9 -1-52 -1 46 -1 6 -1 1 -1-36 -1 24 -1 52 -1-14 -1-56 -1-10 -1 61 -1-57 -1 42 -1-42 -1-5 -1-6 -1 4 -1 19 -1 119 -1-77 -1 6 -1 1 -1-29 -1-21 -1 4 -1 39 -1-2 -1-64 -1 32 -1-41 -1 37 -1 25 -1-9 -1 3 -1 10 -1-7 -1 19 -1-14 -1 58 -1-79 -1 2 -1 13 -1-23 -1-9 -1 27 -1-31 -1-11 -1 42 -1-25 -1 40 -1-32 -1 20 -1-53 -1 36 -1-46 -1 43 -1 11 -1-20 -1 70 -1-25 -1-35 -1 3 -1 33 -1-16 -1 4 -1 2 -1-17 -1 20 -1-35 -1 28 -1 0 -1 0 -1-20 -1 24 -1 5 -1-35 -1 6 -1 17 -1 12 -1 19 -1-66 -1 118 -1-50 -1-14 -1-19 -1-27 -1 26 -1-27 -1 15 -1-26 -1-12 -1 24 -1-19 -1 25 -1-2 -1 8 -1-2 -1 0 -1-14 -1-14 -1 44 -1-24 -1-26 -1 23 -1 19 -1-24 -1 10 -1 5 -1 20 -1-40 -1 5 -1-15 -1 41 -1-12 -1-25 -1 22 -1-16 -1 17 -1-6 -1 17 -1-4 -1 9 -1-14 -1 2 -1 5 -1 10 -1 17 -1 7 -1-49 -1 31 -1-38 -1 60 -1-73 -1 59 -1-5 -1 38 -1-27 -1-19 -1-32 -1 1 -1 15 -1 39 -1 34 -1-14 -1-62 -1 24 -1 22 -1-17 -1 6 -1-54 -1 68 -1-28 -1 2 -1 9 -1-23 -1 19 -1-20 -1 1 -1-36 -1 21 -1 16 -1 8 -1 72 -1-100 -1 23 -1-33 -1 25 -1 7 -1 42 -1-57 -1 53 -1-4 -1 34 -1-52 -1-24 -1 40 -1-9 -1-1 -1-32 -1 61 -1-107 -1 24 -1 36 -1-14 -1 31 -1 5 -1-78 -1 50 -1-23 -1 46 -1-1 -1-44 -1 30 -1-14 -1 20 -1-42 -1 6 -1 16 -1-18 -1 20 -1 6 -1 11 -1 22 -1-26 -1-34 -1 40 -1-56 -1 37 -1 21 -1-13 -1-23 -1-23 -1 5 -1 24 -1-4 -1 42 -1-43 -1-23 -1 31 -1 7 -1-36 -1 20 -1 32 -1 3 -1-38 -1 50 -1-25 -1 2 -1 7 -1 7 -1-34 -1 22 -1 12 -1-31 -1-23 -1 19 -1-26 -1 33 -1-25 -1 59 -1 7 -1-23 -1-1 -1 51 -1-110 -1 75 -1-9 -1-20 -1-2 -1 20 -1-53 -1 85 -1-85 -1 50 -1 21 -1-33 -1-14 -1-2 -1 49 -1-19 -1 36 -1-71 -1-10 -1 8 -1-13 -1 47 -1 15 -1-103 -1 86 -1 24 -1 37 -1-10 -1-122 -1 97 -1-18 -1-5 -1-26 -1 66 -1-20 -1-72 -1 25 -1 40 -1-5 -1-31 -1-33 -1 76 -1-8 -1-8 -1-9 -1-18 -1 15 -1 3 -1 15 -1-20 -1 24 -1 31 -1-58 -1 19 -1-35 -1 14 -1-10 -1-30 -1 18 -1 48 -1-71 -1 69 -1 26 -1 23 -1-79 -1-2 -1 68 -1-49 -1-33 -1 4 -1 26 -1 14 -1 25 -1-112 -1 59 -1 39 -1 8 -1-47 -1 75 -1-35 -1-27 -1 13 -1 24 -1-44 -1-26 -1 9 -1 11 -1 4 -1-54 -1 46 -1 0 -1 49 -1-34 -1 9 -1 12 -1-4 -1 39 -1-62 -1-3 -1-1 -1-14 -1 43 -1-34 -1 39 -1 3 -1-42 -1 12 -1-15 -1-2 -1 1 -1-25 -1 59 -1 2 -1-42 -1 24 -1-27 -1 27 -1-9 -1-13 -1 18 -1 15 -1-8 -1-15 -1-20 -1-10 -1 23 -1-28 -1 13 -1 10 -1 7 -1-8 -1 7 -1-18 -1-1 -1 4 -1 11 -1-16 -1 18 -1-1 -1-6 -1-6 -1-4 -1-3 -1 13 -1 3 -1-3 -1-15 -1 20 -1-4 -1 9 -1-10 -1 11 -1-19 -1 1 -1 1 -1-4 -1 30 -1 2 -1-28 -1-2 -1-2 -1 8 -1 7 -1 0 -1-10 -1 12 -1 0 -1-10 -1 0 -1 2 -1-7 -1 1 -1 2 -1 8 -1 8 -1-4 -1-2 -1 3 -1-4 -1-14 -1 4 -1-10 -1 17 -1 0 -1-3 -1 12 -1-19 -1 13 -1-3 -1 10 -1-14 -1 5 -1-5 -1-10 -1 26 -1-20 -1 13 -1-7 -1 0 -1-3 -1 14 -1-10 -1 3 -1 6 -1-8 -1 9 -1 1 -1-17 -1 14 -1-1 -1-3 -1-3 -1 10 -1-11 -1 6 -1-2 -1-2 -1 2 -1 2 -1 2z" fill="#0000ff"/>
<path transform="scale(0.08333333333333333 0.1)" d="M438 1250l1 49 1-36 1-12 1 50 1-65 1 3 1 24 1-29 1 54 1-35 1-11 1 47 1-55 1-9 1 35 1 11 1-20 1 3 1 15 1-36 1 56 1-19 1-16 1 30 1-41 1 28 1-25 1-19 1 47 1-2 1-34 1-2 1 60 1-23 1-47 1 11 1 35 1-27 1 50 1-37 1-30 1 14 1 37 1-40 1 49 1-35 1 16 1-1 1-27 1 35 1-12 1-6 1-27 1 46 1-27 1-17 1 51 1-58 1 45 1-7 1 24 1-60 1 36 1-24 1 19 1-28 1 44 1-41 1 43 1-50 1 78 1-49 1 18 1-49 1 40 1-39 1 22 1 46 1-32 1 16 1-11 1-2 1-34 1 32 1 14 1 14 1-52 1 3 1 3 1-24 1 47 1-25 1 30 1 2 1-36 1 26 1-25 1-1 1 44 1-5 1-26 1-22 1 35 1 10 1-25 1 32 1-37 1 17 1-18 1 23 1-24 1 21 1 26 1 0 1-31 1 11 1-22 1-2 1 12 1-32 1 37 1 0 1-21 1 13 1 11 1-37 1 37 1-13 1 15 1-7 1 5 1-20 1 38 1-51 1 21 1-4 1 18 1-19 1 48 1-37 1 13 1 18 1-61 1-11 1 41 1 53 1-57 1 17 1-38 1 48 1-66 1 59 1-53 1 67 1-37 1-14 1 38 1-66 1 37 1 34 1-48 1 24 1-23 1 31 1-26 1 1 1 27 1-50 1 51 1 19 1-44 1 44 1-65 1 36 1-64 1 45 1 33 1-26 1 67 1-11 1-78 1 61 1-66 1 10 1 48 1-78 1 58 1-34 1 47 1-63 1 67 1 3 1-85 1 60 1 18 1 7 1-38 1 33 1-30 1-20 1 17 1 13 1 36 1-26 1-27 1 55 1-49 1 7 1 42 1-11 1-40 1 25 1-13 1-5 1 33 1-38 1 42 1-20 1-45 1 33 1 31 1-45 1 24 1-32 1 50 1-12 1-24 1 14 1-32 1 6 1 24 1-31 1 26 1 45 1-65 1 74 1-53 1-10 1 16 1-52 1 49 1-31 1 33 1-16 1 45 1-49 1 34 1-25 1 19 1 12 1-44 1 26 1-22 1 61 1-73 1 15 1 35 1 8 1-68 1-4 1 85 1-86 1 62 1-42 1 52 1-30 1 13 1-18 1 32 1-1 1 5 1-22 1-30 1 40 1-20 1 19 1-23 1 21 1 27 1-68 1 44 1-31 1 18 1-6 1 32 1-34 1 15 1-16 1 43 1-32 1-15 1-36 1 65 1-31 1-21 1 78 1-43 1-35 1 36 1-49 1 41 1-9 1 19 1-3 1 46 1-49 1 19 1 3 1-32 1-15 1 35 1-23 1 23 1 26 1-38 1-19 1 60 1-25 1-37 1 57 1-18 1-28 1 55 1-11 1-40 1-7 1 58 1-56 1 20 1 24 1-33 1-15 1 54 1-60 1 31 1-13 1 27 1-4 1-32 1 42 1-55 1 61 1-47 1-18 1 63 1-14 1-36 1 11 1 12 1-15 1 35 1-22 1 8 1-8 1-36 1 18 1 47 1-28 1-32 1 49 1-51 1 35 1-42 1 35 1 37 1-89 1 60 1-12 1 14 1 17 1-20 1-10 1 18 1 35 1-62 1 24 1 34 1-1 1-58 1 53 1-42 1-29 1 18 1 8 1-42 1 33 1 33 1-7 1-19 1-10 1 47 1-57 1 66 1-37 1-60 1 88 1-52 1-5 1 32 1 17 1-49 1 16 1 36 1-56 1 67 1-36 1-23 1 4 1 38 1-43 1 52 1 2 1-24 1-14 1 31 1-20 1-32 1 50 1-34 1 7 1 38 1-24 1-30 1 28 1 30 1-54 1 25 1 10 1-46 1 45 1-32 1 8 1 22 1 11 1-12 1-19 1 48 1-38 1-42 1 74 1-58 1-1 1 9 1 25 1-46 1 66 1-46 1 1 1 29 1-45 1 53 1-2 1-39 1-28 1 64 1-31 1 58 1-16 1-48 1 19 1 15 1-14 1-24 1 20 1-14 1 28 1-10 1-16 1 23 1 3 1-21 1-12 1 18 1-1 1-15 1 16 1 18 1-5 1-43 1 73 1-34 1 11 1-26 1 24 1-39 1 53 1-64 1 22 1 35 1-34 1 40 1-5 1-40 1 48 1-47 1 16 1 23 1-14 1-25 1 43 1-34 1-14 1 19 1 17 1-11 1 17 1-34 1 62 1-76 1 38 1-17 1 5 1-24 1 54 1-43 1 15 1 10 1-10 1-22 1-1 1 39 1 0 1-58 1 41 1-39 1 43 1 45 1-16 1-81 1 69 1-38 1 4 1 38 1-12 1 26 1-54 1 24 1 11 1-41 1 47 1-63 1 24 1 43 1-42 1 46 1-26 1-13 1 12 1 27 1-23 1 9 1-16 1-8 1 36 1-31 1-44 1 52 1-13 1-10 1 47 1-49 1 9 1-11 1 29 1 21 1-8 1-39 1 41 1-39 1 31 1-53 1 40 1-33 1 9 1 20 1-8 1 14 1 10 1-22 1 16 1-12 1-5 1 8 1 7 1 37 1-15 1-64 1-2 1 47 1 3 1 57 1-48 1 26 1 5 1-102 1 101 1-77 1 85 1-94 1 111 1-108 1 79 1-81 1-63 1 86 1 29 1-103 1 106 1-33 1-49 1 104 1-81 1 111 1-35 1-105 1 45 1 53 1 29 1-138 1 145 1-74 1 47 1-79 1 40 1-73 1 142 1-153 1 13 1 83 1-55 1 81 1 6 1-79 1-111 1 206 1-207 1 131 1 106 1-120 1-97 1 142 1 42 1-65 1 97 1-89 1 46 1-82 1 31 1 132 1-57 1-126 1 6 1 61 1-77 1 62 1-33 1 64 1-53 1-30 1 131 1-138 1 56 1-39 1 12 1 55 1 18 1-67 1-29 1 77 1-29 1 71 1-117 1 91 1-127 1 113 1 21 1-85 1 47 1-20 1-16 1 125 1-57 1-103 1 15 1 131 1-102 1 54 1-22 1-72 1 33 1 96 1-78 1 85 1 8 1-65 1-94 1 119 1 39 1-142 1 135 1-82 1 56 1-116 1 55 1 33 1 20 1-100 1 68 1 30 1 26 1-169 1 125 1 69 1-63 1-77 1 8 1 111 1-58 1-140 1 11 1 148 1 20 1-65 1-35 1 52 1-82 1 68 1 81 1-92 1 76 1-56 1 77 1-84 1-22 1 67 1 38 1-121 1 25 1 122 1-130 1 222 1-214 1 120 1-159 1 120 1-47 1 104 1-212 1 159 1-7 1-42 1-23 1-71 1 80 1 95 1-76 1-82 1 37 1 86 1 3 1-95 1-3 1 85 1-5 1-65 1-87 1 130 1 75 1-202 1 172 1-162 1 189 1-110 1 46 1-111 1 54 1 41 1-69 1 125 1-85 1 41 1-66 1 57 1 72 1-86 1-48 1 25 1-37 1 64 1-75 1 85 1-67 1 138 1-155 1 116 1-79 1 64 1 31 1-219 1 98 1 92 1-12 1-98 1-59 1 213 1-253 1 229 1-95 1-77 1 108 1 78 1-73 1-48 1 49 1 12 1-19 1 45 1-86 1 207 1-61 1-231 1 215 1-205 1 71 1 163 1-177 1 133 1 6 1-222 1 28 1 179 1-184 1 200 1 29 1-153 1 64 1-80 1 132 1-87 1 9 1-122 1 214 1-124 1 68 1 57 1-124 1 255 1-324 1 69 1 150 1-94 1 19 1-32 1 21 1 44 1-127 1 63 1-59 1 143 1-162 1 245 1-89 1-228 1 114 1 114 1-8 1-142 1 75 1 114 1-34 1-87 1-68 1 183 1-158 1-38 1 106 1-68 1-42 1 80 1-23 1-100 1 72 1 144 1-120 1 137 1 34 1-253 1 4 1 110 1-4 1 101 1-211 1 107 1-102 1 165 1 10 1-131 1 114 1-105 1-23 1 162 1-185 1 125 1-12 1-125 1 117 1 53 1 11 1-346 1 293 1-208 1 244 1-174 1 198 1-175 1 174 1-135 1-21 1 184 1 21 1-187 1-89 1 248 1-160 1 141 1-188 1 162 1-16 1-184 1 204 1-111 1-85 1 250 1-261 1 172 1-46 1 146 1 2 1-142 1 136 1-213 1 219 1-76 1-90 1 170 1-128 1 95 1-132 1 130 1-153 1 66 1-132 1 200 1 3 1-116 1-69 1 86 1-44 1 253 1-209 1 88 1-79 1 167 1-108 1 67 1-150 1 106 1-46 1-194 1 80 1 141 1-64 1-96 1 115 1-183 1 225 1-80 1 79 1-141 1 185 1-268 1 204 1-142 1 79 1 99 1 38 1-198 1 138 1-105 1 232 1-254 1-81 1 279 1-80 1-107 1-67 1 217 1-122 1 114 1-75 1 129 1 34 1-215 1 65 1 138 1-117 1-156 1 236 1-128 1 200 1-264 1 145 1 111 1-282 1 187 1-94 1 89 1-130 1 196 1-82 1-109 1 93 1-87 1-56 1 362 1-186 1-134 1-73 1 218 1 9 1-152 1 138 1-99 1 85 1-97 1 49 1-73 1 29 1-67 1 192 1-103 1 84 1-139 1 161 1-136 1 75 1-73 1-26 1 147 1-102 1 82 1-29 1-136 1-2 1 245 1 33 1-313 1 51 1 156 1-172 1 166 1-45 1 66 1-243 1 230 1 14 1-155 1-38 1 210 1-23 1-221 1 309 1-149 1-15 1-95 1 38 1 111 1-180 1 194 1-172 1 143 1-176 1 242 1-170 1 98 1-98 1 177 1-230 1 182 1 12 1-123 1 116 1-81 1 112 1-195 1 76 1 139 1-261 1 159 1 11 1 120 1-169 1-150 1 276 1-137 1-85 1 70 1 29 1 68 1-118 1 234 1-238 1 109 1-96 1 180 1-154 1 128 1-149 1 199 1-374 1 351 1-195 1 102 1 59 1-231 1 181 1-90 1 122 1-56 1 120 1-191 1 112 1-64 1-17 1 144 1-95 1-151 1 264 1-247 1 83 1 93 1 38 1-168 1 143 1-103 1-1 1-64 1 27 1 71 1 115 1-259 1 239 1-215 1 331 1-272 1 41 1 153 1-139 1-102 1 127 1 112 1-179 1-28 1-25 1 191 1-202 1 180 1-250 1 369 1-246 1 103 1 166 1-255 1 64 1-189 1-94 1 210 1-84 1 128 1 99 1-279 1 91 1 217 1-270 1 200 1-83 1 96 1-15 1-157 1 107 1-54 1 190 1-222 1-30 1 83 1 123 1-205 1 218 1-127 1-130 1 308 1-46 1-302 1 168 1-58 1 54 1 152 1-203 1 190 1-101 1-77 1 121 1-123 1 89 1-133 1 18 1 237 1-285 1 144 1-108 1 222 1-19 1-133 1-49 1 141 1 45 1-172 1 39 1 118 1-142 1 131 1-99 1 107 1-148 1 224 1-318 1 213 1-21 1-137 1 62 1 68 1-149 1 149 1-35 1 21 1-56 1 77 1-137 1 140 1 6 1-90 1-78 1 258 1-190 1 148 1-15 1-129 1 82 1-128 1 173 1-216 1 268 1-170 1 74 1-40 1 15 1-245 1 240 1-120 1 60 1 119 1-81 1 122 1-10 1-73 1-124 1 222 1-144 1 15 1-67 1 74 1 68 1-56 1 57 1-83 1 79 1-110 1 84 1 130 1-142 1-101 1 158 1-150 1-29 1 131 1-60 1-78 1 100 1 66 1-123 1 106 1 20 1-155 1 13 1 139 1-43 1 59 1-65 1 145 1-1 1-138 1 29 1-128 1 186 1-173 1 91 1-80 1 55 1-207 1 95 1 222 1-234 1 261 1-24 1-148 1-36 1 116 1-93 1 214 1-107 1-68 1 106 1-101 1-76 1 134 1-214 1 158 1 98 1-167 1 63 1 83 1 17 1-160 1 33 1 113 1-10 1-122 1 174 1-94 1 123 1-222 1-7 1 106 1-89 1 69 1 11 1-37 1-53 1 115 1 38 1-119 1 1 1 52 1-75 1 64 1 45 1-117 1 104 1-84 1-67 1 217 1-23 1-150 1 142 1-103 1 49 1-121 1 152 1-61 1-31 1 97 1-107 1 94 1 10 1-68 1-133 1 213 1-97 1 149 1-86 1 64 1 17 1-136 1-2 1 88 1-75 1 121 1-75 1-93 1 140 1-40 1-71 1 60 1 50 1-109 1-42 1 96 1-103 1 170 1-115 1-63 1-13 1 200 1-170 1 81 1 49 1-147 1 126 1 66 1-222 1 105 1 21 1 106 1-116 1 59 1 21 1-208 1 245 1-144 1-29 1 140 1-94 1 103 1-59 1-118 1 207 1-164 1-12 1 153 1-165 1 145 1-83 1-50 1 76 1 64 1-169 1 86 1 92 1-81 1-31 1 85 1-70 1 108 1-91 1-31 1-44 1 185 1-73 1-97 1-6 1 200 1-174 1 31 1 78 1-178 1 100 1 25 1-70 1-25 1 29 1 115 1-137 1 116 1-14 1-111 1 80 1-75 1-39 1 146 1-94 1 106 1-55 1 134 1-152 1 32 1 38 1-73 1 44 1 105 1-51 1-110 1 27 1 94 1-53 1-72 1 125 1-105 1-76 1 161 1-25 1-5 1-89 1 98 1-23 1-64 1 67 1-126 1 96 1 38 1-20 1-115 1 63 1 47 1-62 1 139 1-149 1 47 1-29 1 144 1-153 1 94 1-8 1-56 1 5 1 120 1-44 1-130 1-44 1 145 1 62 1-129 1 139 1-157 1 125 1-243 1 128 1 127 1-118 1 85 1-63 1 63 1-93 1 18 1 85 1-104 1 50 1 32 1-93 1 128 1-129 1 84 1-2 1 125 1-173 1 137 1-175 1 89 1 86 1-215 1 145 1-120 1 195 1-196 1 141 1-168 1 88 1 186 1-82 1-232 1 127 1 110 1 21 1-166 1 151 1-46 1-14 1-23 1 27 1-52 1 44 1-70 1 90 1 28 1-144 1 91 1 94 1-157 1 82 1-74 1-53 1 114 1-7 1-102 1 58 1 115 1-149 1 184 1-194 1 196 1-90 1-96 1 80 1-27 1-14 1 90 1-35 1-77 1 30 1-74 1 37 1 76 1-82 1 77 1 0 1 81 1-155 1 109 1-68 1 35 1 13 1-46 1-59 1 138 1-75 1-172 1 132 1 115 1-156 1 86 1 56 1-153 1 209 1-107 1 112 1-151 1 51 1-105 1-42 1 150 1 45 1-42 1-34 1 125 1-76 1-236 1 316 1-144 1-102 1 194 1-201 1 155 1-38 1-18 1-11 1 73 1 93 1-232 1 107 1 41 1-56 1 124 1-7 1-159 1 56 1-35 1-24 1 66 1-61 1 196 1-184 1 173 1-71 1-111 1 123 1-74 1-35 1 118 1 18 1-137 1 88 1-105 1-56 1 166 1-47 1-120 1-3 1 123 1 80 1-106 1-97 1 250 1-226 1 99 1-33 1-125 1 80 1 167 1-176 1 75 1-93 1 190 1-177 1 88 1 11 1 94 1-4 1-57 1 55 1-312 1 251 1-38 1 71 1-195 1 184 1-137 1-4 1 144 1 7 1-174 1-30 1 279 1-145 1 116 1-140 1 179 1-84 1-113 1-30 1 181 1-172 1 151 1-17 1-173 1 190 1-96 1-83 1 131 1-64 1 97 1-159 1 237 1-116 1-116 1 15 1 136 1-83 1 216 1-191 1-86 1-36 1 236 1-131 1 94 1 16 1-138 1 96 1-176 1 137 1 96 1-76 1-93 1 153 1-185 1 85 1-37 1-2 1 74 1-6 1-151 1 80 1 224 1-146 1 50 1-122 1 252 1-316 1 331 1-187 1-179 1 73 1 59 1-102 1 152 1-8 1-10 1-45 1-43 1-41 1 195 1-184 1 197 1-246 1 150 1-70 1 123 1 22 1-72 1-27 1 28 1 28 1-126 1 104 1-129 1 8 1 134 1-210 1 338 1-223 1 204 1-125 1-118 1 3 1 218 1-154 1 82 1 61 1-124 1 149 1-163 1-167 1 161 1 284 1-435 1 210 1-38 1-24 1 62 1-66 1 142 1-149 1-75 1 69 1 58 1 65 1-87 1-3 1 43 1 18 1-90 1-45 1 199 1-28 1-137 1 50 1 135 1-114 1 28 1-72 1 99 1 12 1-121 1 47 1 54 1-184 1 91 1 90 1-82 1-44 1 153 1-138 1 83 1-109 1 168 1 30 1-111 1-46 1 96 1-70 1 70 1-89 1 134 1-212 1 149 1 43 1-250 1 152 1 98 1-167 1 120 1-203 1 376 1-121 1-119 1-60 1 56 1 12 1 57 1 85 1-275 1 177 1-53 1-39 1 173 1-159 1 203 1-137 1 55 1-110 1 178 1-108 1-64 1-6 1 127 1-165 1 214 1-172 1 147 1-55 1-58 1 23 1 45 1-39 1 42 1 47 1-197 1 122 1-108 1 26 1 231 1-219 1 132 1-134 1 178 1 60 1-246 1 220 1-144 1 161 1-403 1 322 1-59 1 73 1-147 1 23 1 76 1-173 1 197 1-247 1 169 1-73 1 101 1-13 1-125 1 31 1 79 1 60 1-74 1-42 1 21 1 84 1-118 1-6 1 74 1 36 1-192 1 94 1 198 1-185 1 81 1-8 1-157 1 218 1-207 1 115 1-210 1 275 1-209 1 54 1 202 1-290 1 315 1-291 1 168 1-349 1 460 1-151 1-81 1-54 1 245 1-71 1-53 1 92 1-160 1 49 1 149 1-105 1-32 1-45 1 71 1-4 1 125 1-232 1 124 1 142 1-167 1 102 1-168 1 47 1 75 1-23 1-76 1-79 1 168 1 39 1-72 1 62 1-108 1-39 1 179 1-151 1 106 1-89 1 42 1 66 1-121 1 179 1-172 1 34 1 94 1 73 1-194 1 114 1-115 1 187 1-204 1 189 1-123 1-3 1 55 1 144 1-388 1 57 1 184 1-120 1 110 1-96 1 206 1-109 1-85 1-24 1 103 1 63 1-111 1-39 1 81 1-27 1-57 1 100 1-114 1 88 1 68 1-40 1-63 1-46 1 184 1-145 1 50 1 11 1-108 1 55 1 110 1-72 1-41 1 71 1-154 1 156 1-69 1-21 1 70 1-59 1 67 1-18 1-48 1-8 1 115 1-140 1 121 1-34 1-88 1 106 1-103 1 6 1 62 1-29 1 54 1-67 1 65 1-119 1 134 1 29 1-114 1 29 1-45 1-9 1 72 1-126 1 178 1-109 1 46 1-66 1 92 1-65 1 69 1-27 1 111 1-56 1-81 1-57 1 94 1-52 1 80 1-36 1-34 1-44 1 73 1 33 1-55 1-48 1 156 1-100 1 29 1 77 1-146 1 50 1-46 1 103 1-94 1 87 1-60 1 17 1 32 1 29 1-14 1-48 1-22 1 56 1-46 1 30 1-66 1 84 1-79 1 41 1 40 1-48 1 20 1 30 1-53 1-10 1 41 1-49 1 50 1-106 1 93 1-47 1 78 1 26 1-82 1-53 1 49 1 3 1 48 1-10 1-76 1 130 1-71 1 9 1-42 1 5 1 32 1-63 1 45 1 34 1-70 1 98 1-79 1 92 1-80 1 90 1-72 1 46 1-125 1 122 1-41 1-43 1 40 1 36 1-41 1 7 1-74 1 76 1-28 1 91 1-95 1 44 1-62 1 76 1-40 1-20 1 108 1-131 1 89 1-40 1 24 1-98 1 120 1 0 1-89 1 20 1 59 1-64 1 65 1-72 1 93 1-32 1-90 1 8 1 84 1-49 1 89 1-72 1 68 1-100 1 116 1-61 1-42 1-31 1 59 1 36 1-48 1-2 1-35 1 56 1 30 1-38 1 36 1-26 1-65 1 6 1 95 1-79 1-55 1 14 1 56 1-30 1 67 1-11 1-46 1 93 1-92 1 71 1-33 1-102 1 97 1 75 1-196 1 26 1 111 1-40 1 57 1-75 1 16 1-1 1-75 1 45 1 133 1 25 1-178 1 79 1 1 1 56 1-101 1 66 1-41 1-18 1 106 1 41 1-87 1-77 1 72 1 132 1-165 1 85 1-238 1 110 1 126 1-162 1 216 1-12 1-34 1-153 1 134 1-135 1 136 1 129 1-166 1-116 1 282 1-214 1-133 1 235 1-96 1-58 1 93 1 66 1-114 1 84 1-103 1 55 1 156 1-37 1-197 1 64 1-60 1 145 1-32 1 37 1-230 1 113 1-57 1 161 1-136 1-30 1 103 1 38 1-118 1 122 1-24 1-117 1 255 1-157 1-49 1-41 1 115 1-108 1 235 1-240 1 148 1 1 1-179 1 82 1 155 1-297 1 183 1 130 1-135 1 19 1-109 1 28 1 186 1-243 1 186 1-91 1 189 1-114 1-209 1 214 1-239 1 146 1 59 1 29 1 41 1-134 1-67 1 45 1 57 1-63 1 225 1-80 1-157 1 176 1-200 1 109 1-47 1-25 1 80 1-39 1 86 1 92 1-236 1 160 1-123 1 173 1-157 1-128 1 156 1-42 1 122 1-151 1 110 1-4 1-115 1 254 1-114 1-30 1 78 1-70 1-72 1-30 1 174 1-173 1 100 1-73 1 109 1 50 1-192 1-18 1 157 1-142 1 205 1-31 1-211 1 8 1 115 1 64 1-174 1 206 1-285 1 182 1 72 1-84 1 37 1 44 1-177 1 44 1 148 1-154 1 60 1 94 1-139 1-85 1 306 1-43 1-138 1 5 1 97 1-166 1 96 1-17 1 69 1-93 1-51 1 60 1 117 1-141 1-13 1-17 1 112 1 14 1-89 1-239 1 212 1-73 1 97 1-51 1 69 1-67 1 87 1-6 1-143 1 117 1 81 1-130 1 85 1 79 1-192 1 99 1-82 1-4 1 163 1-252 1 168 1-61 1 121 1-14 1-121 1 77 1 128 1-20 1-260 1 84 1 149 1-176 1 98 1 67 1-151 1-63 1 217 1-58 1 199 1-203 1-59 1 78 1 80 1-220 1 126 1-16 1 55 1-105 1 126 1-70 1-46 1 96 1-56 1-49 1 51 1-115 1 140 1-3 1-97 1 141 1-150 1 67 1 41 1 58 1-100 1 25 1-55 1 107 1-97 1-60 1 110 1 17 1-112 1 76 1 83 1 9 1-184 1 117 1 12 1-90 1 145 1 4 1-130 1 109 1-137 1 34 1 72 1-146 1 115 1 41 1-147 1 208 1-177 1-9 1 146 1-147 1 132 1-92 1 69 1 115 1-138 1-115 1 230 1-212 1 307 1-305 1 91 1 89 1-144 1-93 1 227 1 24 1-176 1 148 1-155 1 109 1-69 1 96 1-104 1-6 1 138 1-21 1-121 1 77 1-93 1 14 1 127 1 13 1-165 1 13 1 166 1-40 1-63 1-16 1 68 1 7 1-97 1 132 1-151 1 121 1-116 1 89 1-48 1 57 1 109 1-127 1 71 1-59 1-56 1 78 1-105 1 92 1-53 1 17 1-96 1 47 1 58 1-26 1 10 1 22 1-137 1 180 1-124 1 40 1 153 1-194 1 109 1-3 1-177 1 133 1-52 1 123 1-73 1-83 1 177 1 30 1-218 1 87 1 82 1-83 1 105 1-46 1-32 1-124 1 148 1-144 1 137 1 3 1-85 1 53 1 47 1 14 1-126 1 20 1 25 1-30 1 171 1-75 1-182 1 210 1-147 1-18 1 190 1-108 1 96 1-12 1-167 1 188 1-184 1 31 1 184 1-53 1-140 1 42 1 36 1-81 1 259 1-183 1 167 1 17 1-236 1-1 1 205 1-229 1 173 1-102 1-94 1 122 1-92 1 113 1-75 1 32 1-57 1 14 1 57 1-153 1 191 1-81 1-77 1 80 1-58 1 38 1 63 1-41 1 22 1 77 1-161 1 35 1 53 1-119 1 166 1-71 1 29 1-55 1 58 1-41 1 123 1-163 1 120 1 3 1-60 1-51 1 136 1-70 1-74 1-28 1 201 1 29 1-125 1 113 1-245 1 42 1 35 1 70 1-112 1 26 1-33 1 53 1 50 1 70 1-165 1 64 1 35 1-68 1 77 1 61 1-112 1 79 1 25 1-6 1-175 1 189 1-179 1 134 1 106 1-172 1 95 1-36 1-211 1 278 1-146 1 8 1-146 1 135 1 58 1-112 1 112 1-69 1 108 1-136 1 101 1 23 1 21 1-1 1-117 1 177 1-230 1 97 1 61 1 3 1-102 1 34 1 112 1-250 1 211 1-145 1 131 1 17 1-120 1 57 1-42 1 102 1-118 1 71 1 20 1 124 1-318 1 241 1-225 1 222 1-125 1 29 1 62 1-52 1-116 1 93 1-28 1 175 1-235 1 158 1-100 1-22 1 107 1-113 1 98 1-62 1-106 1-30 1 282 1-183 1 167 1-137 1 147 1-227 1 145 1 92 1-189 1 2 1 123 1-53 1 113 1-109 1-33 1 107 1-109 1 119 1-199 1 238 1-207 1 133 1-157 1 261 1-178 1 102 1-89 1 55 1-152 1 48 1 97 1-112 1 236 1-54 1-97 1 21 1-100 1 161 1-177 1 193 1-197 1 84 1 162 1-103 1-125 1 33 1 74 1-71 1 96 1-3 1-62 1-13 1 121 1-78 1 26 1-96 1 35 1 13 1 40 1 33 1-92 1 109 1-49 1-103 1 147 1 38 1-66 1 34 1-81 1-69 1 169 1-109 1 159 1-56 1-86 1-103 1 108 1-54 1 112 1 62 1-183 1 92 1-73 1 30 1 165 1-243 1 86 1 114 1-111 1-63 1 148 1-90 1 87 1 3 1-105 1 16 1 127 1-128 1 160 1-121 1-123 1 30 1 118 1-22 1-180 1 83 1 78 1-98 1 78 1 111 1-120 1 42 1-152 1-74 1 311 1-108 1-100 1-60 1 253 1-133 1 43 1 73 1-151 1 16 1 134 1-26 1-77 1 116 1-105 1-118 1 171 1 127 1-208 1 66 1-128 1-95 1 260 1-260 1 150 1-78 1 262 1-9 1-152 1 127 1-250 1 21 1 149 1 124 1-295 1 64 1 140 1-102 1 75 1-15 1-51 1-5 1 93 1 26 1-114 1 21 1-150 1 187 1-162 1 234 1-162 1 104 1-68 1 37 1 56 1 110 1-247 1 251 1-240 1 82 1-104 1 163 1-196 1-65 1 178 1 104 1-109 1-116 1 152 1-18 1-57 1-7 1 87 1-61 1 64 1-15 1-87 1 115 1-97 1 107 1-87 1 56 1-109 1 51 1 68 1-71 1 34 1 39 1-115 1 123 1-129 1 23 1 106 1-113 1 15 1 60 1-95 1 139 1-98 1 103 1-89 1-41 1 156 1-81 1 75 1-45 1 22 1-102 1 75 1-22 1 56 1-96 1 93 1-58 1-28 1 71 1-180 1 217 1-92 1 153 1-135 1-91 1 95 1 78 1-161 1 104 1 12 1-12 1-96" fill="none" stroke="#0000ff" stroke-width="0.42" vector-effect="non-scaling-stroke"/>
<path d="M36.50 152.5v-2.9M36.50 93.0v2.9M84.33 152.5v-2.9M84.33 93.0v2.9M132.17 152.5v-2.9M132.17 93.0v2.9M180.00 152.5v-2.9M180.00 93.0v2.9M227.83 152.5v-2.9M227.83 93.0v2.9M275.67 152.5v-2.9M275.67 93.0v2.9M323.50 152.5v-2.9M323.50 93.0v2.9M36.5 152.50h2.9M323.5 152.50h-2.9M36.5 125.45h2.9M323.5 125.45h-2.9M36.5 98.41h2.9M323.5 98.41h-2.9" fill="none" stroke="#747474" stroke-width="1"/>
<rect x="36.5" y="93.0" width="287.0" height="59.50" fill="none" stroke="#747474" stroke-width="1"/>
<text x="36.50" y="165.00" font-size="8.3" text-anchor="middle">0</text>
<text x="84.33" y="165.00" font-size="8.3" text-anchor="middle">20</text>
<text x="132.17" y="165.00" font-size="8.3" text-anchor="middle">40</text>
<text x="180.00" y="165.00" font-size="8.3" text-anchor="middle">60</text>
<text x="227.83" y="165.00" font-size="8.3" text-anchor="middle">80</text>
<text x="275.67" y="165.00" font-size="8.3" text-anchor="middle">100</text>
<text x="323.50" y="165.00" font-size="8.3" text-anchor="middle">120</text>
<text x="33.30" y="156.10" font-size="8.3" text-anchor="end">-1000</text>
<text x="33.30" y="129.05" font-size="8.3" text-anchor="end">0</text>
<text x="33.30" y="102.01" font-size="8.3" text-anchor="end">1000</text>
<text transform="translate(7.60,122.75) rotate(-90)" font-size="9.3" text-anchor="middle">pitch (deg/s/s)</text>
<path transform="translate(36.75 0) scale(0.5 0.1)" d="M0 2040l1 22 1-15 1-2 1-6 1 10 1 9 1 2 1-9 1-7 1 14 1-18 1 10 1-7 1 19 1-5 1-3 1-11 1-4 1 7 1 8 1-7 1 8 1 2 1 7 1-7 1-5 1-1 1 8 1-9 1-1 1 2 1 4 1-7 1 3 1 3 1 1 1 1 1 2 1-8 1-6 1 8 1-7 1 11 1-10 1 11 1-5 1 0 1 8 1-17 1 5 1 3 1-7 1 8 1-6 1 10 1 9 1 0 1-19 1 11 1-7 1-1 1 2 1 16 1-9 1-18 1 10 1 5 1 2 1-3 1 3 1-13 1 5 1 6 1-3 1 7 1-10 1 0 1 1 1-10 1 16 1 0 1-17 1 19 1-7 1 4 1-5 1 4 1-4 1 4 1-13 1 7 1 9 1-11 1 4 1 1 1 8 1-6 1-6 1-12 1 29 1-27 1 18 1 4 1-13 1 3 1-13 1 15 1-48 1 18 1 18 1-51 1 33 1-8 1 5 1-8 1 37 1 22 1-15 1-33 1 42 1-24 1-39 1 44 1-11 1-18 1 2 1-6 1 27 1-37 1 32 1-14 1-81 1 51 1 21 1 24 1-18 1 31 1-7 1-29 1-41 1-32 1 50 1 15 1-37 1 71 1-63 1 41 1 10 1 9 1-49 1 26 1-44 1 76 1 12 1-53 1 0 1 32 1-34 1 63 1-98 1 17 1-32 1 173 1-51 1-65 1-60 1 87 1 4 1-4 1-17 1-35 1 2 1 57 1-9 1-40 1-28 1 18 1-16 1 30 1-22 1 21 1 68 1-55 1 30 1 6 1-69 1 58 1 1 1-108 1 69 1 25 1 33 1-48 1-24 1-22 1 48 1 28 1-41 1 71 1-45 1 2 1 41 1-3 1-48 1 25 1-53 1 15 1 24 1-45 1-23 1 88 1-42 1 25 1 28 1-30 1 89 1-132 1 11 1 48 1-30 1 25 1 5 1-17 1 51 1-45 1-22 1 20 1 0 1 18 1-35 1 25 1-8 1-31 1 22 1 5 1-17 1 19 1 29 1-115 1 82 1 0 1-58 1 17 1 24 1 16 1-13 1 1 1-37 1 80 1-44 1-21 1 48 1-37 1 3 1 53 1-22 1-67 1 79 1-20 1-83 1 98 1-34 1-16 1-8 1 35 1-18 1 36 1 23 1-41 1-4 1 13 1-3 1-24 1-54 1 6 1 79 1 27 1-35 1 55 1-74 1 60 1-34 1-36 1 24 1 12 1 22 1-53 1 2 1 33 1-18 1-28 1 24 1-56 1 99 1-32 1 39 1-58 1 22 1 13 1 16 1-32 1-66 1 52 1 22 1-53 1 38 1 6 1-24 1 36 1-5 1-65 1 70 1-107 1 109 1-6 1 17 1-14 1-12 1 11 1 9 1 17 1-77 1 72 1-49 1 36 1 16 1-36 1-1 1 14 1 17 1-73 1-1 1 52 1 57 1-81 1 36 1-25 1 13 1-13 1 10 1 25 1-11 1 0 1 21 1-1 1-28 1 27 1-33 1-14 1 55 1-20 1-24 1 37 1 2 1-15 1-5 1-1 1 16 1 5 1-20 1-9 1 3 1 30 1-15 1 5 1-18 1-2 1 3 1-46 1 52 1-2 1-5 1 6 1-20 1-38 1 60 1-29 1 32 1-116 1 51 1 52 1 6 1-1 1-27 1 7 1 34 1-89 1 55 1 1 1-29 1 67 1-41 1-27 1 10 1 8 1-5 1 29 1-10 1 18 1 14 1-29 1 15 1 27 1-7 1-65 1 13 1 45 1-40 1-13 1 50 1-22 1-18 1 1 1 13 1-1 1 15 1-26 1 16 1 13 1 44 1-72 1 20 1 11 1-13 1-4 1 10 1-29 1-38 1 75 1-12 1-13 1 8 1-15 1 25 1 13 1-55 1-2 1 26 1-20 1-2 1 22 1 27 1-54 1 9 1 30 1-1 1 11 1 14 1 2 1-18 1-35 1 3 1 27 1-6 1 24 1-38 1 40 1-60 1 50 1-6 1 10 1-14 1-16 1-48 1 64 1-78 1 81 1 19 1-41 1 21 1 11 1-13 1 7 1-35 1 34 1 21 1-27 1-15 1 0 1-11 1 59 1-31 1-11 1 5 1-2 1-21 1 18 1-5 1 9 1 14 1-44 1 20 1 20 1 20 1-51 1 33 1-33 1 17 1 21 1-11 1-12 1 21 1-35 1 37 1-22 1-44 1 61 1 29V2079l-1 29 -1-22 -1 24 -1-34 -1 8 -1-3 -1-2 -1 67 -1-36 -1-11 -1 13 -1 10 -1-38 -1 15 -1 2 -1 18 -1-20 -1 3 -1-3 -1-24 -1-2 -1 19 -1-9 -1 35 -1-42 -1 8 -1 16 -1-33 -1 54 -1-52 -1 25 -1 43 -1-52 -1-8 -1 3 -1 8 -1 2 -1-3 -1-12 -1 48 -1-23 -1-62 -1 70 -1-12 -1 23 -1-56 -1 51 -1-42 -1 47 -1 6 -1-30 -1 27 -1-24 -1 6 -1 9 -1-18 -1-22 -1 7 -1 2 -1-1 -1-11 -1 39 -1-17 -1 5 -1 11 -1-11 -1 16 -1-30 -1-21 -1 44 -1-46 -1 72 -1-61 -1 45 -1 2 -1 10 -1-23 -1 18 -1-51 -1 26 -1-2 -1-1 -1 24 -1-37 -1 54 -1-20 -1-2 -1 8 -1 19 -1-32 -1-21 -1 17 -1 0 -1 2 -1 26 -1-20 -1-12 -1-6 -1 14 -1-32 -1 9 -1 7 -1-34 -1 46 -1 24 -1-19 -1 6 -1-23 -1 37 -1-25 -1-28 -1 41 -1-28 -1-1 -1-14 -1 18 -1 47 -1-74 -1 9 -1 31 -1-60 -1 54 -1-6 -1 5 -1 21 -1-22 -1-7 -1-4 -1-48 -1 98 -1-62 -1 36 -1-32 -1 19 -1-11 -1-14 -1-7 -1 5 -1 18 -1-26 -1 8 -1 3 -1 13 -1 13 -1 12 -1-29 -1-8 -1-12 -1 15 -1 3 -1-11 -1 24 -1-11 -1-2 -1 3 -1-9 -1-10 -1 41 -1-20 -1-10 -1 17 -1-9 -1 15 -1 47 -1-40 -1-10 -1 27 -1-38 -1 14 -1 22 -1 3 -1 20 -1-69 -1 36 -1-12 -1 24 -1-7 -1-17 -1-1 -1-7 -1 1 -1 42 -1-29 -1-14 -1 23 -1 7 -1-38 -1 16 -1 27 -1-55 -1 95 -1-54 -1 12 -1-27 -1-22 -1 39 -1 25 -1-39 -1 10 -1-9 -1 4 -1 7 -1 25 -1-15 -1-18 -1-40 -1 15 -1 62 -1-3 -1-33 -1-26 -1 35 -1-4 -1 10 -1-35 -1 52 -1-15 -1-34 -1-4 -1-6 -1 48 -1 10 -1-84 -1 69 -1 12 -1-34 -1 32 -1 10 -1-21 -1 21 -1-27 -1-8 -1-7 -1 1 -1 1 -1-27 -1 33 -1-20 -1 30 -1 16 -1 5 -1-68 -1 25 -1 32 -1-3 -1-51 -1-12 -1 65 -1-78 -1 71 -1-36 -1 21 -1 25 -1-66 -1 91 -1-78 -1 69 -1-49 -1-3 -1 41 -1-38 -1 45 -1-43 -1-39 -1 47 -1-7 -1-42 -1 67 -1-37 -1 76 -1-43 -1-60 -1 68 -1-4 -1-31 -1-7 -1 23 -1-16 -1 44 -1 15 -1 22 -1-46 -1-32 -1 41 -1-14 -1-57 -1 35 -1 4 -1 1 -1-36 -1 22 -1 68 -1-57 -1 36 -1-14 -1-26 -1 31 -1-49 -1 14 -1 40 -1 32 -1 1 -1-55 -1-42 -1 71 -1-45 -1 20 -1 24 -1 25 -1-54 -1 21 -1 1 -1-43 -1 32 -1-23 -1 36 -1-8 -1 16 -1-61 -1 49 -1 2 -1-14 -1-45 -1-3 -1 56 -1-25 -1 13 -1-15 -1-8 -1 13 -1-24 -1-10 -1 34 -1 60 -1-51 -1 22 -1-60 -1-6 -1 17 -1 99 -1-79 -1-52 -1 21 -1 82 -1 24 -1-66 -1-75 -1 24 -1 50 -1 19 -1-47 -1-18 -1 76 -1-10 -1-6 -1-29 -1 67 -1-4 -1 19 -1-91 -1 37 -1-18 -1-35 -1-5 -1 80 -1-69 -1 93 -1-8 -1-2 -1-15 -1-43 -1-25 -1 20 -1-14 -1-55 -1 95 -1-18 -1-18 -1 16 -1 40 -1-80 -1 15 -1 5 -1 21 -1 5 -1-43 -1 30 -1 80 -1-17 -1-64 -1 66 -1-34 -1-29 -1-18 -1-7 -1 0 -1-6 -1 14 -1 28 -1-41 -1 6 -1 44 -1-31 -1 14 -1-13 -1 2 -1-11 -1-1 -1-13 -1 4 -1 8 -1-4 -1-2 -1-4 -1 1 -1-8 -1 3 -1 15 -1-7 -1-5 -1 1 -1 14 -1-20 -1-2 -1 10 -1-4 -1-6 -1 7 -1-4 -1-9 -1 26 -1-23 -1 15 -1-8 -1 7 -1-3 -1-6 -1 3 -1 6 -1-9 -1 5 -1 3 -1-9 -1 1 -1 10 -1-9 -1 10 -1-5 -1 2 -1-9 -1 21 -1-10 -1-11 -1 7 -1-5 -1 1 -1 0 -1 3 -1-15 -1 15 -1-4 -1 17 -1-10 -1-10 -1 0 -1 0 -1 10 -1-8 -1 6 -1-5 -1 7 -1-6 -1 2 -1-9 -1-4 -1 20 -1-10 -1-1 -1 6 -1-1 -1-1 -1 2 -1 9 -1-4 -1 1 -1 11 -1-25 -1 3 -1 12 -1-10 -1-1 -1 0 -1 12 -1-4 -1-16 -1 10 -1-2 -1 14 -1-9 -1-10 -1 13 -1-5 -1-5 -1 5 -1 2 -1 5 -1 9 -1-17z" fill="#0000ff"/>
<path transform="scale(0.08333333333333333 0.1)" d="M438 2091l1-68 1 44 1-20 1-7 1 36 1-24 1 50 1-43 1 16 1-10 1 31 1-49 1 34 1-40 1 41 1-10 1-35 1 48 1-40 1-16 1 65 1-52 1 31 1-42 1 40 1 2 1-47 1 55 1-31 1 23 1-10 1-33 1 38 1-18 1 16 1-28 1 39 1-19 1 22 1-27 1 16 1-4 1 23 1 1 1-41 1 15 1-6 1-8 1 15 1 8 1-21 1-17 1 29 1-19 1 14 1-24 1 61 1-22 1-34 1 17 1 32 1-6 1-19 1 42 1-70 1-3 1 28 1 8 1-28 1 65 1-54 1 19 1-22 1 2 1 16 1 7 1-32 1 2 1 28 1-51 1 31 1 12 1-21 1 18 1 29 1-7 1-20 1-19 1 25 1 6 1-36 1 42 1 9 1-26 1-11 1-3 1 12 1 7 1-10 1 22 1-26 1 22 1-28 1 32 1-37 1 25 1-27 1-4 1 67 1-28 1-56 1 48 1-29 1 26 1-22 1 42 1-39 1 36 1-39 1 21 1-14 1 21 1-24 1 33 1-26 1 10 1-25 1 12 1 25 1-57 1 39 1-31 1 62 1-33 1 46 1-5 1-45 1 35 1-30 1 27 1-30 1 17 1-23 1 31 1-9 1-12 1 8 1-2 1 13 1 8 1-28 1-2 1 40 1-14 1-35 1 7 1 19 1-28 1 16 1 21 1-36 1 23 1-25 1 27 1-19 1-6 1 44 1-12 1-26 1 10 1 12 1-2 1-22 1-2 1 25 1 3 1-25 1-11 1 36 1-7 1-37 1 18 1 13 1 18 1-36 1 0 1 11 1 16 1-19 1-7 1 36 1-25 1-7 1 41 1-36 1 23 1-17 1-8 1 14 1-22 1 11 1 23 1-35 1 31 1-24 1-5 1 23 1-8 1-9 1 18 1-18 1-4 1 29 1-3 1-19 1-5 1 18 1-7 1 24 1-39 1 14 1 21 1-25 1 5 1-4 1-2 1 23 1-11 1 18 1-17 1-12 1-4 1 14 1 7 1-26 1 38 1-40 1 32 1-26 1 16 1-28 1 5 1 43 1-10 1-32 1 8 1 32 1-10 1-24 1 13 1-14 1 25 1-29 1-33 1 69 1-17 1-15 1 15 1-5 1-2 1 28 1-28 1-6 1 19 1-27 1 9 1-24 1 22 1 30 1 2 1-25 1 17 1-16 1 3 1-15 1 6 1 44 1-56 1 45 1-33 1 24 1-20 1 28 1-43 1 26 1-31 1 33 1-9 1 35 1-45 1 22 1-8 1-18 1 4 1-6 1-3 1 29 1-34 1 39 1-15 1-16 1 27 1-26 1 32 1-14 1 5 1-17 1 28 1-41 1 41 1-29 1 18 1-28 1 2 1 20 1 8 1-18 1 11 1-9 1-2 1-21 1 33 1 19 1-9 1-15 1-4 1-15 1 10 1 32 1-24 1 8 1-18 1 10 1 4 1-6 1 21 1-9 1 9 1-33 1 23 1-2 1 21 1-44 1 19 1 24 1-20 1 32 1-32 1-35 1 12 1 23 1 10 1-29 1-6 1 49 1-32 1 15 1 4 1-34 1 0 1 40 1-5 1-31 1 23 1-8 1-23 1 39 1 8 1-37 1 12 1 34 1-17 1-26 1-13 1 33 1-17 1 13 1 20 1-20 1 9 1-19 1 11 1 7 1-14 1-4 1-7 1 33 1-15 1-8 1 11 1-46 1 40 1-25 1-7 1 19 1-28 1 50 1-15 1 41 1-13 1-39 1 42 1-38 1 2 1 8 1 9 1-14 1 9 1-9 1 10 1-20 1 39 1-41 1 21 1-22 1 1 1 30 1 6 1-27 1-2 1 31 1-25 1-1 1-16 1 28 1-12 1 13 1-1 1-27 1 24 1-24 1 28 1-21 1 41 1-35 1 17 1-49 1 24 1 37 1-45 1 28 1 28 1-24 1 11 1-17 1 3 1-27 1 17 1-9 1 10 1 22 1-1 1-39 1 6 1 29 1-37 1 17 1-7 1 28 1 8 1-41 1 5 1 39 1-57 1 46 1-28 1 40 1-19 1-24 1 11 1-8 1 24 1-22 1-24 1 50 1 9 1-42 1 20 1-42 1 50 1-13 1-7 1 45 1-37 1-13 1 16 1-12 1 7 1 19 1-12 1-29 1 3 1 45 1-46 1 32 1-11 1-20 1 51 1-34 1-9 1 26 1-8 1 10 1-25 1 14 1-30 1 48 1-13 1-8 1-4 1 9 1-15 1 14 1-10 1 22 1-43 1 30 1-11 1 36 1-3 1-36 1 34 1-32 1 21 1-19 1 18 1-28 1-4 1 47 1-32 1 23 1-8 1-32 1 30 1-14 1 4 1 25 1-50 1 37 1-1 1 14 1-19 1-43 1 20 1 44 1-37 1 34 1-14 1-22 1 10 1 14 1 1 1-16 1 9 1-7 1 9 1-10 1-11 1 28 1-31 1 41 1-37 1 33 1-29 1 22 1-22 1 48 1-54 1 17 1 8 1 32 1-18 1-43 1-9 1 45 1-51 1 48 1 32 1-62 1 24 1 39 1-13 1-41 1 46 1-68 1 30 1 22 1-8 1-11 1-35 1 54 1-1 1-39 1-11 1 46 1-10 1-32 1 49 1-74 1 73 1-6 1 12 1-59 1 26 1 64 1-90 1 71 1-2 1-99 1 73 1-36 1 23 1-85 1 67 1 39 1 50 1-36 1-22 1 29 1-107 1 66 1-17 1 77 1-71 1 61 1 34 1-127 1 88 1-107 1 100 1-47 1 65 1-71 1 1 1 34 1-35 1 77 1 16 1-159 1 96 1-46 1 73 1-50 1-12 1 47 1-49 1 40 1-79 1 73 1 15 1-85 1-13 1 126 1-95 1 98 1-124 1 119 1-19 1 27 1-46 1-62 1 72 1-71 1 25 1 119 1-181 1 73 1 102 1-103 1-4 1-82 1 59 1 88 1-92 1 49 1-74 1 84 1 51 1-100 1-10 1-41 1 191 1-123 1-2 1-106 1 184 1-87 1 80 1-97 1-13 1 98 1 51 1-180 1 115 1-29 1-32 1 104 1-80 1 88 1 10 1-103 1 119 1-77 1-60 1 162 1 11 1-176 1 25 1 78 1-35 1-94 1 90 1 60 1 14 1-177 1 191 1-134 1 84 1-142 1 75 1 120 1 40 1-124 1-100 1 96 1 8 1-86 1 24 1 50 1 77 1-124 1-20 1 49 1 39 1-110 1 23 1-159 1 331 1-151 1 30 1-75 1 115 1-54 1 91 1-118 1 76 1-106 1 125 1-102 1 52 1-114 1 179 1-151 1 33 1 149 1-91 1-71 1 98 1-166 1 170 1-61 1-60 1 102 1-39 1-34 1-44 1 103 1-43 1 96 1-105 1 150 1-23 1-124 1-19 1 103 1-115 1 236 1-319 1 190 1 2 1-68 1-9 1 59 1 34 1-110 1 27 1-43 1-78 1 225 1-65 1 28 1-273 1 291 1 97 1-287 1 3 1 217 1-126 1-43 1 90 1-103 1 90 1-138 1 64 1 135 1-161 1 104 1-29 1 97 1-116 1 101 1-16 1-104 1 31 1 49 1-67 1 199 1-133 1-68 1 43 1-66 1 139 1-134 1 31 1 84 1-64 1 33 1 17 1 8 1-89 1 187 1-238 1 231 1-133 1 110 1-162 1 236 1-82 1-284 1 55 1 236 1-35 1-208 1 240 1-145 1-157 1 326 1-283 1 269 1-241 1 171 1 67 1-196 1 76 1-110 1 44 1 146 1-98 1 113 1-148 1-158 1 242 1 154 1-170 1-105 1 213 1-256 1 80 1-37 1 68 1 89 1-99 1 121 1-102 1 33 1 29 1 43 1-227 1 209 1-247 1 228 1-96 1 114 1-154 1 213 1-189 1 111 1-141 1 124 1-7 1-226 1 173 1 70 1-29 1 138 1-20 1-278 1 119 1 14 1-78 1 147 1-157 1 331 1-90 1-215 1 211 1-145 1 212 1-349 1 97 1 14 1 70 1-202 1 277 1-176 1-27 1 205 1-129 1 88 1-17 1-139 1 165 1-95 1 10 1 81 1-132 1 202 1-120 1 83 1-293 1 267 1-75 1 164 1-86 1-144 1-17 1 51 1-101 1 151 1-49 1 80 1-83 1 45 1-73 1 101 1-108 1 95 1-159 1 200 1-171 1 278 1-242 1 187 1-71 1-30 1 10 1-33 1 73 1-188 1-12 1 93 1 63 1-127 1-14 1 115 1 44 1-109 1 41 1-117 1 47 1 48 1 108 1-46 1-132 1 183 1-255 1 225 1 56 1-240 1 253 1 14 1-63 1 105 1-43 1-113 1-72 1 159 1-43 1-39 1-117 1 217 1-170 1 58 1-168 1 182 1-146 1 123 1-210 1 303 1-75 1-115 1 106 1-87 1 55 1 213 1-108 1-76 1 18 1 164 1-61 1-251 1 307 1-294 1 24 1 281 1-216 1 34 1 20 1-31 1-49 1 96 1-182 1 137 1-42 1 73 1-148 1 137 1-136 1 98 1 114 1-112 1-214 1 332 1-24 1-153 1 169 1-189 1 151 1-112 1 166 1-119 1 62 1-117 1-10 1 184 1-3 1-134 1 144 1-205 1-15 1 159 1-140 1 112 1 69 1-164 1-53 1 113 1 31 1-119 1 108 1-170 1 80 1 82 1 18 1-138 1 187 1-121 1-76 1 92 1-60 1 249 1-108 1-77 1 126 1-140 1-27 1 119 1-69 1-59 1 229 1-283 1 144 1-34 1-65 1 130 1-149 1 205 1-201 1 163 1-124 1 78 1 44 1-54 1 122 1-136 1 30 1-71 1 154 1-257 1 154 1 115 1-53 1-122 1 42 1 78 1 25 1-106 1 15 1-68 1 68 1 34 1-32 1-50 1-1 1 199 1-228 1 112 1 73 1-93 1-113 1 281 1-249 1 179 1-123 1 92 1-215 1 177 1-35 1 72 1-99 1 188 1-172 1-65 1-151 1 376 1-337 1 185 1 196 1-216 1 205 1-188 1 136 1-196 1-45 1 112 1-86 1 58 1 178 1-139 1-88 1 91 1 39 1-62 1 78 1 8 1-143 1 200 1-108 1-48 1 152 1-192 1 0 1 94 1-68 1 97 1-145 1 148 1 29 1-228 1 115 1 49 1 74 1-258 1 52 1 128 1 42 1-179 1-22 1 272 1-193 1 127 1-1 1-148 1 137 1-90 1 40 1 80 1-158 1 118 1 15 1-142 1 133 1-147 1 81 1 114 1-147 1 216 1-126 1 87 1-207 1 161 1-121 1 116 1-201 1 142 1-117 1 148 1-30 1 43 1-23 1-97 1 193 1-196 1 97 1-41 1 34 1-84 1 145 1-131 1 115 1-77 1 120 1-150 1-23 1-10 1 69 1-49 1 139 1-118 1 70 1-60 1-61 1 152 1-151 1 169 1-55 1-173 1 50 1 218 1-286 1 293 1-302 1 263 1 92 1-179 1-145 1 229 1 3 1-147 1-69 1 181 1 7 1-36 1-152 1 289 1-267 1 119 1 136 1-186 1 36 1-132 1-186 1 416 1-163 1-61 1-10 1 184 1 15 1-95 1 90 1-96 1 52 1 58 1-152 1 23 1 77 1-146 1 72 1 181 1-320 1 257 1-76 1-78 1 63 1 89 1-103 1 99 1-148 1 193 1-276 1 170 1-104 1 129 1 125 1-137 1 22 1 56 1-16 1-138 1 177 1-256 1 109 1 114 1-265 1 365 1-306 1 139 1-22 1-52 1 86 1-112 1 162 1-167 1 53 1 66 1-74 1 130 1-151 1 66 1-67 1 102 1-20 1 75 1-62 1-193 1 136 1 63 1-121 1 195 1-236 1 92 1-15 1 76 1-50 1 41 1-27 1-42 1 183 1-91 1-51 1-84 1 17 1 132 1 9 1-62 1-36 1 100 1-35 1-164 1 147 1-96 1 209 1-173 1 198 1-212 1-8 1-55 1 223 1-142 1 164 1-183 1-5 1 39 1 9 1 132 1 4 1-103 1-56 1 114 1-155 1 203 1-47 1-180 1 49 1 91 1 40 1-55 1 49 1-125 1-8 1 127 1-67 1-68 1 91 1-131 1 152 1-126 1 95 1-158 1 110 1 80 1-40 1-43 1-39 1 208 1-182 1 65 1-212 1 232 1-29 1 41 1-142 1 94 1-50 1 165 1 7 1-200 1 134 1-177 1 90 1-61 1 172 1-125 1 8 1 127 1-98 1-54 1-39 1 198 1-131 1 87 1-167 1 166 1-88 1 116 1-16 1-120 1 46 1 110 1-121 1 116 1 13 1-190 1-63 1 222 1-233 1 124 1-30 1 211 1-311 1 236 1-121 1 17 1-40 1 183 1-181 1 88 1-31 1-31 1 63 1-68 1-110 1 236 1-48 1-136 1 136 1-148 1 110 1 45 1 69 1-195 1 80 1-118 1 62 1 93 1-49 1-63 1 111 1-95 1 93 1 65 1-140 1 71 1 4 1-88 1-14 1 156 1-79 1-84 1 199 1-136 1-47 1 113 1-102 1 39 1-129 1 187 1 119 1-170 1 84 1-178 1-33 1 203 1-83 1 102 1-16 1-193 1 147 1-43 1 22 1 120 1-153 1 88 1-175 1 57 1-35 1 73 1-100 1 178 1 62 1-53 1-56 1-36 1-6 1 105 1-180 1 160 1-21 1-160 1 46 1 154 1-66 1 149 1-219 1 117 1-194 1 204 1-80 1-92 1 112 1-62 1 164 1-125 1 85 1-24 1-133 1 150 1-37 1-97 1 62 1 58 1-141 1-109 1 93 1 269 1-158 1-70 1 162 1-264 1 183 1-32 1 76 1-201 1 309 1-188 1-16 1 32 1-41 1 27 1 108 1-165 1 142 1-214 1 28 1 231 1-120 1 10 1 105 1-128 1 0 1-7 1 42 1-86 1-24 1 81 1 114 1-149 1-21 1 136 1-52 1 104 1-293 1 157 1-5 1-101 1 200 1-7 1-150 1 142 1-148 1 124 1-134 1 215 1-161 1 65 1-16 1-67 1 135 1-191 1 155 1-60 1-37 1 73 1-45 1 85 1-71 1 196 1-99 1-79 1 71 1-78 1-11 1 141 1-64 1-153 1 40 1 172 1-162 1 102 1-80 1 87 1-127 1 181 1-116 1-68 1 30 1 125 1-92 1-52 1 102 1-76 1-53 1 144 1-89 1 41 1 22 1-193 1 164 1-70 1 67 1 122 1-208 1 123 1-28 1-45 1-122 1 255 1-61 1-157 1 156 1-50 1-113 1 154 1 51 1-248 1 213 1-78 1 64 1-83 1 151 1-146 1 123 1-149 1 2 1 197 1-126 1 48 1 32 1-189 1-78 1 323 1-118 1-28 1 82 1-187 1 192 1-193 1 130 1 36 1 30 1-148 1 86 1 56 1 54 1-197 1 95 1 45 1 40 1-178 1 2 1 89 1-58 1 54 1 16 1-164 1 215 1-115 1-49 1 122 1-130 1 211 1-196 1 161 1-24 1-206 1 199 1-110 1 4 1 157 1-142 1 168 1-390 1 240 1 4 1-110 1 79 1 153 1-171 1 155 1-37 1-72 1-153 1 308 1-167 1 166 1-106 1-181 1 162 1-100 1-69 1 301 1-212 1 99 1-51 1 53 1-81 1 49 1 50 1-87 1-25 1 25 1-17 1 75 1 23 1-36 1 114 1-210 1 159 1-174 1 93 1 28 1 16 1-95 1 211 1-137 1 57 1-137 1 181 1-200 1-52 1 115 1-160 1 201 1-99 1 66 1 32 1 46 1 6 1-84 1 40 1-137 1 47 1 113 1-60 1 198 1-98 1-128 1 97 1-161 1 133 1-21 1-88 1 199 1-234 1 94 1-45 1 34 1-14 1 168 1-165 1 81 1 13 1-107 1 165 1-103 1 90 1-151 1 126 1-136 1 198 1-148 1 71 1 64 1-220 1 106 1-53 1 59 1-74 1 216 1-265 1 81 1-132 1 179 1-130 1 110 1-115 1 114 1-57 1 119 1-96 1 75 1-153 1 91 1 82 1-80 1-16 1 94 1 35 1-200 1 196 1-100 1 84 1-173 1-31 1 279 1-84 1-147 1 25 1 10 1-2 1 186 1-191 1 22 1 132 1-115 1 33 1-111 1 106 1-81 1 106 1-134 1 27 1 180 1-48 1-174 1 89 1 44 1-70 1 98 1-88 1 80 1-79 1 88 1-14 1-133 1-66 1 238 1 89 1-224 1-43 1 221 1-68 1-135 1 122 1-70 1-18 1 118 1-246 1 236 1-46 1-203 1 234 1-87 1 78 1-64 1 122 1-126 1 87 1-108 1-11 1 56 1 19 1 52 1-105 1 143 1-71 1-64 1 101 1-84 1 103 1-212 1 223 1-142 1 11 1 161 1-79 1 60 1-247 1 149 1-23 1 62 1-196 1 151 1 75 1-268 1 254 1-83 1-43 1 222 1-184 1 61 1-85 1 80 1 52 1-110 1 70 1-45 1 40 1-168 1 55 1 82 1-113 1 164 1 37 1-159 1-20 1 67 1 8 1 133 1-57 1-80 1-68 1 122 1-65 1 101 1-63 1-101 1 115 1-90 1 104 1-87 1-59 1 134 1-56 1 168 1-152 1 85 1-64 1-78 1 125 1 131 1-195 1 27 1 49 1-177 1 178 1-117 1-27 1 101 1 46 1-197 1 92 1 42 1 24 1-84 1 144 1-166 1 38 1 48 1-53 1 94 1-28 1-44 1 58 1-180 1 208 1-159 1 90 1-146 1 69 1 168 1-69 1 127 1-240 1 158 1-222 1 153 1-106 1 113 1 50 1-94 1-17 1 99 1-71 1 72 1-6 1 32 1 14 1-224 1 23 1 165 1-40 1-102 1 31 1 175 1-59 1-115 1 35 1 39 1 68 1 28 1-211 1 163 1-17 1-18 1-77 1 127 1-12 1-102 1 45 1-68 1 160 1-131 1-64 1 152 1-107 1 94 1-7 1-37 1-60 1 85 1 16 1-37 1 4 1-67 1 109 1-123 1-41 1 175 1 12 1-59 1-40 1 60 1-89 1 91 1-62 1 65 1 5 1-135 1 22 1 119 1-63 1 65 1-55 1 95 1-206 1 201 1-47 1-68 1 82 1-86 1 27 1 42 1 65 1-139 1 59 1-131 1 145 1-66 1-4 1 101 1-91 1 55 1-126 1 159 1-36 1-16 1-78 1 98 1-1 1-162 1 141 1-50 1 64 1-28 1 119 1-177 1 75 1-69 1 133 1-76 1 35 1-115 1 123 1-73 1 26 1-20 1-61 1 87 1-9 1 62 1-99 1 81 1-39 1-73 1 116 1-117 1 36 1 67 1-34 1 17 1-31 1 58 1-19 1-21 1 55 1-71 1-20 1 46 1 17 1-28 1 24 1-40 1 31 1-90 1 98 1-72 1 99 1-106 1 57 1 39 1-56 1 61 1-45 1-46 1 21 1 41 1 10 1-32 1-49 1 77 1 9 1-31 1 49 1-49 1 4 1 15 1-8 1-44 1 40 1-28 1 39 1-41 1 20 1-12 1-15 1 36 1-51 1 66 1-1 1-34 1 51 1-87 1 44 1 2 1-41 1 89 1-69 1 46 1-18 1 77 1-96 1 69 1-12 1-71 1-5 1 86 1-63 1 71 1-2 1-105 1 41 1 48 1-63 1 34 1-37 1 34 1 31 1-69 1-4 1 71 1-12 1-69 1 47 1-33 1 16 1 37 1-48 1 35 1 7 1-54 1 7 1 26 1-35 1 106 1-38 1-115 1 122 1-128 1 111 1-72 1 106 1-80 1 8 1 30 1 2 1-42 1-10 1 38 1-20 1 42 1 9 1-56 1 9 1-16 1 28 1 39 1-32 1-50 1 22 1 35 1 15 1 28 1-14 1-88 1-3 1 100 1 38 1-118 1 116 1-162 1 122 1-121 1-61 1 153 1 64 1-78 1-111 1 138 1 28 1-84 1 166 1-188 1 60 1-42 1 63 1-84 1 100 1-107 1 25 1 190 1-169 1 92 1 24 1-232 1 40 1 44 1 122 1-243 1 293 1-205 1-57 1 165 1-43 1 23 1 24 1-59 1 58 1-93 1 112 1-90 1 101 1-67 1-16 1 60 1-4 1-96 1 39 1 104 1-147 1 88 1 45 1-72 1-51 1 101 1-133 1 155 1-117 1 81 1-18 1-81 1 120 1-95 1 86 1-87 1 84 1-96 1 210 1-163 1 68 1-76 1 32 1-113 1 73 1-80 1 93 1-28 1 102 1-105 1 89 1-82 1 108 1-132 1 69 1-82 1 20 1 168 1-141 1 136 1-221 1 167 1-50 1-77 1 37 1-14 1 44 1 84 1-40 1-98 1 84 1 85 1-38 1-81 1 87 1-124 1-103 1 142 1-82 1 168 1-188 1 92 1 71 1-107 1 59 1-90 1-14 1 126 1 90 1-158 1-41 1 60 1-34 1 99 1-90 1 103 1-203 1 203 1-117 1 148 1-45 1-110 1-13 1 96 1-47 1 20 1 61 1-113 1 155 1-92 1 82 1-158 1 35 1 85 1 112 1-122 1-30 1-166 1 133 1 98 1-158 1 121 1 97 1-122 1-37 1 51 1-23 1-118 1 200 1-134 1 59 1 111 1-60 1-40 1-7 1-102 1 143 1-51 1-1 1 43 1-44 1 108 1-23 1-53 1 25 1-98 1 17 1 172 1-101 1-47 1-89 1 84 1 6 1-73 1 11 1 96 1 0 1-99 1-53 1 208 1-143 1 51 1 0 1 47 1-65 1 61 1-122 1 86 1-65 1 78 1-69 1 60 1-35 1 142 1-208 1 159 1-129 1 112 1 38 1-149 1 97 1-42 1-55 1 128 1 5 1-123 1-22 1 87 1-47 1 166 1-67 1-121 1 160 1-94 1 43 1-105 1-26 1 81 1 44 1-98 1 156 1-189 1 165 1-117 1 83 1-90 1 117 1-143 1 124 1-93 1 22 1 134 1-204 1 71 1-24 1 84 1 84 1-146 1 78 1-108 1 92 1-82 1 65 1-84 1 57 1-58 1 142 1-110 1 87 1-122 1 106 1-80 1-9 1 139 1-236 1 229 1-166 1 159 1-76 1 75 1-49 1 32 1-124 1 122 1 40 1-79 1 31 1-94 1 141 1-125 1 50 1-133 1 139 1-69 1 16 1 117 1-125 1 113 1-8 1-87 1 80 1-232 1 275 1-153 1 67 1-57 1-99 1 142 1 27 1-44 1 94 1-84 1 54 1-130 1 173 1-179 1 147 1-128 1 93 1-60 1 69 1-98 1 166 1-163 1 87 1-100 1-26 1 142 1-2 1-200 1 245 1-110 1-101 1 145 1 78 1-165 1 10 1 60 1-29 1 20 1-43 1 156 1-53 1-133 1 171 1-109 1 95 1-146 1 104 1-63 1-36 1 81 1 68 1-144 1 44 1 73 1 51 1-254 1 156 1-118 1-7 1 192 1-22 1-115 1 77 1-35 1 96 1-190 1 53 1 113 1-18 1-43 1-56 1 93 1-30 1-11 1 0 1-136 1 209 1-155 1 176 1-138 1 64 1-92 1 43 1-129 1 98 1 128 1-106 1 86 1 47 1-152 1 2 1 48 1-53 1 122 1-47 1-59 1 0 1-28 1 95 1-89 1-82 1 184 1 3 1-103 1 147 1-152 1 48 1 74 1 10 1-161 1 83 1 52 1 48 1-80 1-42 1 127 1-42 1-139 1 163 1-101 1 102 1-157 1-29 1 154 1-9 1-96 1 21 1 93 1-112 1 93 1 24 1-63 1 40 1-55 1 25 1 113 1-146 1 72 1 31 1-159 1 125 1-99 1 95 1-80 1 56 1-20 1 4 1 12 1 47 1-32 1-6 1-32 1 74 1-89 1 140 1-110 1 24 1-37 1-26 1 108 1-159 1 82 1 41 1-53 1 56 1-125 1 106 1-122 1 109 1-9 1 26 1-73 1-2 1 161 1-188 1 130 1-109 1 115 1-31 1 65 1-114 1 107 1-36 1-77 1 160 1-107 1 33 1-143 1 119 1-82 1 104 1-60 1 87 1-76 1 38 1-109 1 132 1-127 1 130 1-38 1 7 1-97 1 55 1 36 1 44 1-63 1 157 1-288 1 186 1-190 1 278 1-220 1 150 1-149 1 125 1-78 1 11 1 83 1-69 1 80 1-161 1 87 1-35 1 69 1 18 1-77 1 1 1 66 1 20 1-101 1 13 1 33 1-46 1 73 1-102 1 57 1-58 1 100 1 29 1-115 1 22 1 182 1-269 1 124 1 74 1-173 1 119 1-130 1 67 1 93 1-3 1-64 1 46 1-165 1 108 1-159 1 27 1 197 1-150 1 72 1 127 1-138 1 76 1-64 1 111 1-108 1 69 1-54 1 9 1 98 1-22 1-108 1 45 1-65 1 102 1-99 1 61 1-168 1 122 1 62 1-4 1-48 1-28 1 179 1-192 1 131 1-39 1-44 1 63 1-55 1 6 1-71 1 132 1-64 1 52 1-80 1 12 1 129 1-74 1-59 1 43 1-82 1 79 1-76 1 83 1-88 1 85 1-40 1 72 1-99 1 10 1 61 1 35 1-77 1 17 1 99 1 2 1-66 1-148 1 125 1-7 1 95 1-81 1-130 1 191 1-95 1 188 1-166 1 0 1-10 1-143 1 104 1 150 1-163 1 175 1-129 1-15 1 55 1-36 1-75 1 152 1-146 1 86 1-32 1 64 1-81 1-20 1 99 1-11 1-25 1-35 1 88 1-73 1 54 1-16 1-65 1 103 1-100 1 2 1 31 1 57 1-136 1 142 1-89 1 160 1-234 1 110 1-45 1 7 1 130 1-157 1 67 1-44 1 127 1-185 1 43 1 141 1-169 1 67 1 47 1-108 1 55 1 26 1 29 1-23 1-77 1 21 1 103 1 16 1-161 1 80 1-19 1 66 1-172 1 34 1 157 1-22 1-53 1 56 1-60 1 2 1 20 1-90 1 154 1 8 1-139 1 1 1 101 1 15 1-118 1 123 1-56 1-116 1 160 1 75 1-164 1-45 1 128 1 23 1-76 1-52 1 71 1 26 1-51 1 26 1 97 1-121 1 88 1-126 1 133 1-55 1-77 1-27 1 157 1-127 1 112 1-58 1 68 1-92 1 117 1 29 1-282 1 216 1-113 1-17 1 79 1 30 1-143 1 152 1-56 1-21 1 44 1 35 1-134 1 57 1 40 1 89 1-81 1 83 1-113 1-54 1 161 1-12 1-112 1 45 1-75 1 92 1-48 1-95 1 156 1-28 1-94 1 103 1-68 1 21 1 95 1-41 1-82 1 54 1 15 1-91 1 29 1 23 1 37 1-19 1-24 1 8 1 87 1-76 1-117 1 143 1 26 1-39 1 92 1-67 1-47 1-165 1 232 1-94 1-56 1 153 1-111 1 100 1-65 1 146 1-139 1-18 1 116 1-61 1-24" fill="none" stroke="#0000ff" stroke-width="0.42" vector-effect="non-scaling-stroke"/>
<path d="M36.50 236.0v-2.9M36.50 176.3v2.9M84.33 236.0v-2.9M84.33 176.3v2.9M132.17 236.0v-2.9M132.17 176.3v2.9M180.00 236.0v-2.9M180.00 176.3v2.9M227.83 236.0v-2.9M227.83 176.3v2.9M275.67 236.0v-2.9M275.67 176.3v2.9M323.50 236.0v-2.9M323.50 176.3v2.9M36.5 236.00h2.9M323.5 236.00h-2.9M36.5 206.15h2.9M323.5 206.15h-2.9M36.5 176.30h2.9M323.5 176.30h-2.9" fill="none" stroke="#747474" stroke-width="1"/>
<rect x="36.5" y="176.3" width="287.0" height="59.70" fill="none" stroke="#747474" stroke-width="1"/>
<text x="36.50" y="248.50" font-size="8.3" text-anchor="middle">0</text>
<text x="84.33" y="248.50" font-size="8.3" text-anchor="middle">20</text>
<text x="132.17" y="248.50" font-size="8.3" text-anchor="middle">40</text>
<text x="180.00" y="248.50" font-size="8.3" text-anchor="middle">60</text>
<text x="227.83" y="248.50" font-size="8.3" text-anchor="middle">80</text>
<text x="275.67" y="248.50" font-size="8.3" text-anchor="middle">100</text>
<text x="323.50" y="248.50" font-size="8.3" text-anchor="middle">120</text>
<text x="33.30" y="239.60" font-size="8.3" text-anchor="end">-2000</text>
<text x="33.30" y="209.75" font-size="8.3" text-anchor="end">0</text>
<text x="33.30" y="179.90" font-size="8.3" text-anchor="end">2000</text>
<text transform="translate(8.00,206.15) rotate(-90)" font-size="9.3" text-anchor="middle">roll (deg/s/s)</text>
<text x="180.00" y="260.60" font-size="9" text-anchor="middle">time (s)</text>
<path transform="translate(390.75 0) scale(0.5 0.1)" d="M0 435l1 0 1 0 1 0 1 0 1 0 1 0 1 0 1 0 1 0 1 0 1 0 1 0 1 0 1 0 1 0 1 0 1 0 1 0 1 0 1 0 1 0 1 0 1 0 1 0 1 0 1 0 1 0 1 0 1 0 1 0 1 0 1 0 1 0 1 0 1 0 1 0 1 0 1 0 1 0 1 0 1 0 1 0 1 0 1 0 1 0 1 0 1 0 1 0 1 0 1 0 1 0 1 0 1 0 1 0 1 0 1 0 1 0 1 0 1 0 1 0 1 0 1 0 1 0 1 0 1 0 1 0 1 0 1 0 1 0 1 0 1 0 1 0 1 0 1 0 1 0 1 0 1 0 1 0 1 0 1 0 1 0 1 0 1 0 1 0 1 0 1 0 1 0 1 0 1 0 1 0 1 0 1 0 1 0 1 0 1-1 1 1 1-1 1 0 1-3 1 1 1-2 1-8 1 7 1-18 1 12 1-2 1 2 1 8 1-6 1 0 1 1 1 1 1-2 1-4 1-12 1 1 1-110 1 100 1 19 1 9 1-4 1-9 1 16 1 2 1 0 1-7 1 1 1-2 1-1 1 4 1-9 1 1 1 4 1 7 1-6 1 0 1-6 1 1 1-14 1 9 1 9 1 8 1-6 1-1 1 0 1 3 1 7 1-6 1 1 1-24 1 16 1-7 1 1 1 5 1 7 1 4 1-45 1 2 1 29 1 13 1-4 1 3 1-5 1-15 1 15 1 4 1-4 1 2 1-3 1 5 1 1 1-52 1 35 1 4 1 13 1-3 1-4 1 6 1 2 1-14 1 12 1 0 1-8 1-35 1 37 1 10 1-6 1-7 1 5 1 5 1 1 1-9 1 6 1 1 1-1 1-58 1 44 1 14 1-3 1-7 1 10 1 2 1-1 1-14 1 9 1 0 1-14 1 9 1 10 1-57 1 51 1 9 1-1 1-6 1 4 1 2 1-10 1 0 1 7 1-3 1-12 1 14 1 3 1-8 1 5 1-3 1 7 1 1 1-212 1 89 1 85 1 29 1-12 1 15 1-7 1 10 1 1 1-6 1-3 1 6 1 3 1-3 1 4 1-10 1 5 1 5 1 0 1 1 1-5 1-14 1 12 1 0 1-131 1 99 1 34 1-4 1 8 1-9 1 5 1-10 1 7 1-1 1 6 1 1 1-1 1 4 1-4 1 1 1-1 1-3 1 1 1-108 1 78 1 24 1 9 1-2 1-6 1 10 1-3 1-8 1-14 1 16 1-107 1 81 1 18 1 15 1 0 1 2 1-12 1 10 1-3 1 1 1-1 1 3 1-4 1-3 1 1 1 0 1-1 1 5 1 0 1-19 1 20 1-2 1-3 1 7 1-5 1-5 1 7 1 3 1 1 1-8 1 3 1 0 1-13 1-60 1 57 1 7 1 12 1-3 1 5 1-3 1-1 1 1 1 1 1-1 1 1 1-1 1 0 1-40 1 39 1-10 1-4 1 2 1 7 1 2 1-4 1 2 1-21 1 15 1 11 1-9 1 9 1-6 1 4 1-10 1 13 1-4 1 5 1-6 1 6 1 2 1-1 1-1 1 4 1-3 1 2 1 0 1-1 1-2 1 3 1 1 1-4 1 3 1-2 1 4 1-5 1 3 1-5 1 0 1-4 1 7 1 2 1 1 1-7 1-1 1-3 1 10 1-7 1-3 1 3 1-3 1 3 1-5 1 6 1 4 1-5 1-1 1 6 1-4 1-2 1 0 1 4 1-3 1 4 1-1 1-5 1 8 1-3 1-6 1 6 1 4 1-5 1-24 1 20 1 5 1-5 1 4 1 1 1 6 1-23 1 14 1 0 1-6 1 4 1 1 1-5 1 10 1-1 1 3 1-3 1 1 1-4 1-13 1 10 1-12 1 9 1 7 1 3 1-5 1 4 1-4 1 5 1-4 1 3 1-8 1 4 1 2 1 5 1-2 1-9 1-1 1 7 1 1 1-4 1 4 1 1 1-1 1-1 1-4 1 7 1-1 1-5 1 8 1-2 1 2 1 2 1 1 1-1 1-2 1-4 1 3 1 3 1-1 1-3 1 3 1-3 1 1 1 2 1-9 1 0 1 4 1-11 1 4 1-3 1 1 1 1 1 7 1 7 1-3 1-2 1-1 1-3 1 2 1 0 1 0 1 2 1-7 1 2 1-6 1-6 1 10 1 2 1 4 1-2 1-8 1-5 1 14 1 3 1 1 1-5 1-7 1-6 1 12 1 6 1-6 1-3 1 2V444l-1 6 -1-3 -1-3 -1 5 -1 7 -1 1 -1-8 -1-1 -1-1 -1 11 -1-8 -1 4 -1-2 -1-7 -1 12 -1-9 -1 5 -1-2 -1 10 -1-8 -1-10 -1 9 -1 0 -1-6 -1-2 -1 12 -1-5 -1-2 -1-7 -1 9 -1 7 -1 6 -1-8 -1-3 -1 5 -1-14 -1 5 -1-6 -1 1 -1-3 -1 4 -1-4 -1 0 -1 3 -1-4 -1 3 -1 2 -1-5 -1 1 -1 0 -1-1 -1 2 -1 1 -1 2 -1 7 -1-9 -1 1 -1 2 -1 6 -1-4 -1-4 -1 3 -1 7 -1-8 -1-2 -1 14 -1-6 -1-9 -1 3 -1 0 -1 11 -1-3 -1-5 -1-2 -1-1 -1-2 -1 5 -1-1 -1-1 -1 3 -1 3 -1 3 -1-5 -1 8 -1 5 -1-19 -1-1 -1 3 -1-2 -1 0 -1 3 -1 1 -1 4 -1-4 -1-2 -1 1 -1 2 -1-4 -1 1 -1 1 -1 3 -1-5 -1 1 -1 7 -1-7 -1-3 -1 2 -1 3 -1-1 -1-3 -1 15 -1-13 -1-1 -1 4 -1-5 -1 0 -1 2 -1-2 -1 5 -1-4 -1 2 -1 1 -1-6 -1 5 -1 6 -1-6 -1-2 -1 1 -1-1 -1-5 -1 11 -1-7 -1 0 -1-4 -1 1 -1 5 -1 5 -1-12 -1 5 -1-1 -1-2 -1 0 -1 3 -1-2 -1-2 -1 1 -1 7 -1-8 -1-1 -1 1 -1 2 -1 0 -1 1 -1 0 -1 1 -1 2 -1-2 -1-1 -1 3 -1-2 -1 0 -1 4 -1-3 -1 2 -1 1 -1-2 -1 3 -1 20 -1 23 -1-42 -1-2 -1-2 -1 3 -1 19 -1-20 -1-5 -1 9 -1 15 -1-26 -1 9 -1-9 -1 5 -1 0 -1 5 -1-6 -1-1 -1-5 -1 4 -1-1 -1 16 -1 0 -1 7 -1 19 -1-38 -1 5 -1 5 -1-12 -1 3 -1-3 -1 2 -1 3 -1 3 -1-2 -1-9 -1 7 -1-3 -1 4 -1-4 -1 14 -1-3 -1-9 -1 1 -1-3 -1 1 -1-2 -1 0 -1 3 -1-2 -1 4 -1 2 -1-7 -1 0 -1 9 -1 28 -1 66 -1-85 -1 9 -1-19 -1-10 -1 1 -1 5 -1 3 -1-4 -1 0 -1 8 -1 36 -1-46 -1 0 -1 4 -1 3 -1 1 -1-11 -1 3 -1-1 -1 0 -1 8 -1 7 -1-14 -1 4 -1-5 -1 9 -1 0 -1-3 -1-1 -1 39 -1-41 -1 3 -1 8 -1-11 -1-6 -1 4 -1-4 -1 7 -1 0 -1-5 -1 3 -1-1 -1 9 -1-5 -1 5 -1 3 -1-12 -1 13 -1-11 -1 1 -1 3 -1 23 -1 119 -1-2 -1-143 -1 0 -1 4 -1-1 -1 8 -1-12 -1-3 -1 11 -1-2 -1-5 -1 0 -1 4 -1-4 -1-2 -1-2 -1 1 -1-3 -1 14 -1 48 -1-60 -1 9 -1-4 -1 16 -1-9 -1-5 -1-8 -1 7 -1-3 -1 4 -1-5 -1 0 -1 6 -1 30 -1-37 -1 1 -1-3 -1 19 -1-19 -1-1 -1-1 -1 12 -1-8 -1 4 -1 1 -1 32 -1-34 -1-2 -1 6 -1-2 -1-4 -1 3 -1 2 -1 0 -1-8 -1 6 -1 23 -1 16 -1-46 -1 3 -1 11 -1-10 -1-1 -1 1 -1 2 -1 2 -1 2 -1-7 -1 3 -1-6 -1 9 -1 24 -1-22 -1-12 -1 8 -1-4 -1 7 -1-5 -1 24 -1-1 -1-24 -1-1 -1-5 -1 5 -1 3 -1-3 -1 0 -1-2 -1 3 -1 14 -1 8 -1 10 -1-31 -1 4 -1-6 -1 2 -1 4 -1 3 -1 1 -1-4 -1-8 -1 9 -1-8 -1 3 -1-6 -1 1 -1 4 -1 5 -1-6 -1-4 -1 12 -1 10 -1 52 -1-59 -1-3 -1-6 -1 0 -1 1 -1 1 -1 2 -1-5 -1-3 -1-3 -1 13 -1 7 -1-10 -1 4 -1-2 -1-9 -1 6 -1-6 -1-2 -1-1 -1-1 -1 0 -1 0 -1 0 -1 0 -1 0 -1 0 -1 0 -1 0 -1 0 -1 0 -1 0 -1 0 -1 0 -1 0 -1 0 -1 0 -1 0 -1 0 -1 0 -1 0 -1 0 -1 0 -1 0 -1 0 -1 0 -1 0 -1 0 -1 0 -1 0 -1 0 -1 0 -1 0 -1 0 -1 0 -1 0 -1 0 -1 0 -1 0 -1 0 -1 0 -1 0 -1 0 -1 0 -1 0 -1 0 -1 0 -1 0 -1 0 -1 0 -1 0 -1 0 -1 0 -1 0 -1 0 -1 0 -1 0 -1 0 -1 0 -1 0 -1 0 -1 0 -1 0 -1 0 -1 0 -1 0 -1 0 -1 0 -1 0 -1 0 -1 0 -1 0 -1 0 -1 0 -1 0 -1 0 -1 0 -1 0 -1 0 -1 0 -1 0 -1 0 -1 0 -1 0 -1 0 -1 0 -1 0 -1 0 -1 0 -1 0 -1 0 -1 0 -1 0 -1 0 -1 0 -1 0 -1 0z" fill="#0000ff"/>
<path transform="scale(0.08333333333333333 0.1)" d="M4686 437l1 0 1 0 1 0 1 0 1 0 1 0 1 0 1 0 1 0 1 0 1 0 1 0 1 0 1 0 1 0 1 0 1 0 1 0 1 0 1 0 1 0 1 0 1 0 1 0 1 0 1 0 1 0 1 0 1 0 1 0 1 0 1 0 1 0 1 0 1 0 1 0 1 0 1 0 1 0 1 0 1 0 1 0 1 0 1 0 1 0 1 0 1 0 1 0 1 0 1 0 1 0 1 0 1 0 1 0 1 0 1 0 1 0 1 0 1 0 1 0 1 0 1 0 1 0 1 0 1 0 1 0 1 0 1 0 1 0 1 0 1 0 1 0 1 0 1 0 1 0 1 0 1 0 1 0 1 0 1 0 1 0 1 0 1 0 1 0 1 0 1 0 1 0 1 0 1 0 1 0 1 0 1 0 1 0 1 0 1 0 1 0 1 0 1 0 1 0 1 0 1 0 1 0 1 0 1 0 1 0 1 0 1 0 1 0 1 0 1 0 1 0 1 0 1 0 1 0 1 0 1 0 1 0 1 0 1 0 1 0 1 0 1 0 1 0 1 0 1 0 1 0 1 0 1 0 1 0 1 0 1 0 1 0 1 0 1 0 1 0 1 0 1 0 1 0 1 0 1 0 1 0 1 0 1 0 1 0 1 0 1 0 1 0 1 0 1 0 1 0 1 0 1 0 1 0 1 0 1 0 1 0 1 0 1 0 1 0 1 0 1 0 1 0 1 0 1 0 1 0 1 0 1 0 1 0 1 0 1 0 1 0 1 0 1 0 1 0 1 0 1 0 1 0 1 0 1 0 1 0 1 0 1 0 1 0 1 0 1 0 1 0 1 0 1 0 1 0 1 0 1 0 1 0 1 0 1 0 1 0 1 0 1 0 1 0 1 0 1 0 1 0 1 0 1 0 1 0 1 0 1 0 1 0 1 0 1 0 1 0 1 0 1 0 1 0 1 0 1 0 1 0 1 0 1 0 1 0 1 0 1 0 1 0 1 0 1 0 1 0 1 0 1 0 1 0 1 0 1 0 1 0 1 0 1 0 1 0 1 0 1 0 1 0 1 0 1 0 1 0 1 0 1 0 1 0 1 0 1 0 1 0 1 0 1 0 1 0 1 0 1 0 1 0 1 0 1 0 1 0 1 0 1 0 1 0 1 0 1 0 1 0 1 0 1 0 1 0 1 0 1 0 1 0 1 0 1 0 1 0 1 0 1 0 1 0 1 0 1 0 1 0 1 0 1 0 1 0 1 0 1 0 1 0 1 0 1 0 1 0 1 0 1 0 1 0 1 0 1 0 1 0 1 0 1 0 1 0 1 0 1 0 1 0 1 0 1 0 1 0 1 0 1 0 1 0 1 0 1 0 1 0 1 0 1 0 1 0 1 0 1 0 1 0 1 0 1 0 1 0 1 0 1 0 1 0 1 0 1 0 1 0 1 0 1 0 1 0 1 0 1 0 1 0 1 0 1 0 1 0 1 0 1 0 1 0 1 0 1 0 1 0 1 0 1 0 1 0 1 0 1 0 1 0 1 0 1 0 1 0 1 0 1 0 1 0 1 0 1 0 1 0 1 0 1 0 1 0 1 0 1 0 1 0 1 0 1 0 1 0 1 0 1 0 1 0 1 0 1 0 1 0 1 0 1 0 1 0 1 0 1 0 1 0 1 0 1 0 1 0 1 0 1 0 1 0 1 0 1 0 1 0 1 0 1 0 1 0 1 0 1 0 1 0 1 0 1 0 1 0 1 0 1 0 1 0 1 0 1 0 1 0 1 0 1 0 1 0 1 0 1 0 1 0 1 0 1 0 1 0 1 0 1 0 1 0 1 0 1 0 1 0 1 0 1 0 1 0 1 0 1 0 1 0 1 0 1 0 1 0 1 0 1 0 1 0 1 0 1 0 1 0 1 0 1 0 1 0 1 0 1 0 1 0 1 0 1 0 1 0 1 0 1 0 1 0 1 0 1 0 1 0 1 0 1 0 1 0 1 0 1 0 1 0 1 0 1 0 1 0 1 0 1 0 1 0 1 0 1 0 1 0 1 0 1 0 1 0 1 0 1 0 1 0 1 0 1 0 1 0 1 0 1 0 1 0 1 0 1 0 1 0 1 0 1 0 1 0 1 0 1 0 1 0 1 0 1 0 1 0 1 0 1 0 1 0 1 0 1 0 1 0 1 0 1 0 1 0 1 0 1 0 1 0 1 0 1 0 1 0 1 0 1 0 1 0 1 0 1 0 1 0 1 0 1 0 1 0 1 0 1 0 1 0 1 0 1 0 1 0 1 0 1 0 1 0 1 0 1 0 1 0 1 0 1 0 1 0 1 0 1 0 1 0 1 0 1 0 1 0 1 0 1 0 1 0 1 0 1 0 1 0 1 0 1 0 1 0 1 0 1 0 1 0 1 0 1 0 1 0 1 0 1 0 1 0 1 0 1 0 1 0 1 0 1 0 1 0 1 0 1 0 1 0 1 0 1 0 1 0 1 0 1 0 1 0 1 0 1 0 1 0 1 1 1-1 1 3 1-4 1 0 1 3 1 2 1-8 1 6 1-5 1 8 1-7 1 4 1-9 1 5 1 6 1-6 1 6 1-11 1 14 1-2 1-13 1 10 1-7 1-1 1 11 1-21 1 19 1-5 1 7 1 4 1-23 1 2 1 25 1-19 1 17 1-4 1-16 1 17 1-15 1-18 1 103 1-83 1 46 1-85 1 75 1-24 1-11 1 13 1-16 1-1 1 24 1-54 1 65 1-75 1 66 1 2 1-31 1 48 1-63 1-12 1 80 1-71 1 63 1-81 1 71 1-55 1 45 1 8 1-96 1 136 1-123 1 34 1 153 1-73 1-100 1 31 1 48 1-15 1-106 1 75 1 63 1-95 1 91 1-25 1-47 1 41 1-33 1 13 1 42 1-28 1-28 1-23 1 86 1-55 1 26 1-7 1-34 1 19 1 17 1 13 1-43 1-31 1 120 1-53 1-26 1-60 1 93 1-36 1 45 1-40 1 24 1-99 1 248 1-149 1-98 1 55 1 48 1 5 1-39 1 30 1-32 1-24 1 51 1 4 1-26 1-23 1 124 1-70 1-48 1 76 1-88 1-51 1 135 1-88 1 94 1-97 1 71 1-3 1-54 1-188 1 339 1-21 1-262 1 21 1 238 1-55 1-103 1 91 1-79 1 20 1 56 1-4 1-38 1 36 1-49 1-14 1 126 1-67 1-28 1 4 1 22 1-47 1 40 1-58 1 131 1-101 1 38 1-7 1-18 1-13 1 40 1-25 1 30 1-92 1 139 1-56 1-27 1 0 1 34 1-26 1 10 1-8 1 10 1 10 1-17 1-52 1 163 1-101 1-13 1 14 1-15 1 9 1-41 1-26 1 121 1-35 1-34 1 22 1-22 1 45 1-53 1 24 1-16 1 27 1-26 1 35 1-41 1 7 1 26 1-60 1 127 1-68 1-37 1 17 1 12 1 1 1-65 1 71 1-67 1 91 1-78 1 27 1 45 1-72 1 122 1-91 1 17 1 11 1-40 1 78 1-88 1 149 1-182 1 42 1 40 1-40 1 36 1 4 1-40 1-38 1 118 1-86 1 47 1-9 1-24 1 3 1 25 1-6 1-33 1 49 1-34 1-48 1 126 1-128 1 69 1-67 1 80 1-35 1 40 1-17 1-29 1 50 1-54 1-109 1 217 1-107 1 34 1-4 1-26 1-56 1 141 1-112 1 78 1-1 1-69 1 70 1-54 1-57 1 141 1-91 1 60 1-55 1 46 1-11 1-21 1 17 1-65 1 113 1-93 1 41 1-10 1-11 1 26 1-16 1 20 1-29 1 38 1-35 1 25 1-52 1 45 1-58 1 145 1-130 1 78 1-12 1-55 1 14 1 24 1-33 1 50 1 34 1-133 1 81 1-24 1 40 1-49 1 12 1 45 1-39 1 12 1-21 1 15 1 4 1-14 1-52 1 112 1-60 1 17 1-16 1 23 1 22 1-63 1 7 1 30 1-40 1 40 1-29 1 147 1-170 1 123 1-24 1-167 1 161 1-84 1 115 1-107 1-6 1 147 1-94 1-81 1 157 1-141 1 14 1 37 1-35 1 32 1-29 1 56 1-5 1-125 1 79 1 26 1 1 1-21 1-51 1 187 1-137 1 25 1-21 1 24 1-96 1 134 1-56 1 8 1-1 1-15 1 4 1 13 1 4 1-16 1 2 1 19 1-121 1 176 1-2 1-141 1 111 1-108 1 33 1 63 1-47 1 41 1-6 1-35 1 53 1-81 1 53 1-16 1-10 1 34 1-17 1 13 1 4 1-23 1 89 1-143 1 95 1-45 1 28 1-27 1 5 1 17 1-83 1 138 1-143 1 120 1-58 1 33 1-1 1-27 1-17 1 43 1-25 1 38 1-166 1 209 1-47 1-31 1-13 1 33 1-28 1 33 1 14 1-44 1-23 1 44 1-18 1 41 1-19 1-24 1 101 1-129 1 57 1-43 1 13 1 32 1 1 1-31 1 32 1-32 1 66 1-171 1 160 1-83 1 26 1 41 1-34 1 17 1-64 1 101 1-51 1 12 1 1 1-16 1 14 1-15 1-7 1 23 1 86 1-218 1 211 1-154 1 9 1 98 1-77 1 87 1-77 1 66 1-69 1 53 1-55 1 49 1-94 1 143 1-81 1 20 1-12 1 14 1-26 1 25 1 7 1-23 1-72 1 132 1-63 1 28 1-24 1 23 1-22 1 22 1-109 1 132 1-57 1 54 1-4 1-57 1 39 1-30 1 46 1-37 1-20 1 40 1 3 1-33 1 0 1 35 1-129 1 228 1-92 1-49 1 5 1 40 1-29 1 32 1-93 1 174 1-75 1-56 1-10 1 61 1-13 1-20 1 43 1-46 1 21 1-37 1 55 1-43 1-36 1 112 1-169 1 202 1-19 1-133 1 105 1-82 1 62 1-42 1 30 1-39 1 35 1-95 1 202 1-160 1 53 1-40 1 46 1-19 1 12 1-48 1 16 1 38 1-5 1-21 1 24 1-30 1 42 1-104 1 22 1 92 1-77 1 50 1-17 1 15 1 2 1-25 1 28 1-18 1 0 1 11 1-129 1 192 1-77 1 24 1-19 1 17 1 0 1-41 1 14 1 91 1-189 1 189 1-82 1 34 1 6 1-43 1-6 1 20 1 11 1-36 1 32 1-18 1-91 1 172 1-68 1-13 1-5 1 22 1 5 1-45 1 20 1 21 1-103 1 149 1-125 1 113 1 7 1-144 1 141 1-83 1 51 1-36 1 27 1-26 1 25 1-25 1 27 1-21 1-74 1 125 1-71 1 38 1-40 1 43 1 13 1-39 1-12 1 38 1-29 1 36 1 59 1-156 1 128 1-82 1 26 1 18 1-45 1 48 1-9 1-13 1-30 1 128 1-95 1 24 1-27 1 20 1-4 1-18 1 4 1 17 1-63 1 102 1-75 1 41 1-51 1 63 1-40 1 27 1 8 1-35 1-47 1 97 1-8 1-43 1-5 1 54 1 26 1-77 1-23 1 45 1-22 1 37 1-108 1 199 1-68 1-72 1 94 1-147 1 67 1 27 1 8 1-38 1 28 1-29 1 10 1 25 1-11 1-33 1-109 1 231 1-27 1-167 1 140 1-72 1 51 1-36 1 38 1-33 1 17 1-217 1 275 1-91 1 22 1 11 1 3 1-15 1 23 1-27 1 21 1-23 1 40 1-33 1-4 1 25 1-73 1 107 1-62 1 16 1-15 1 31 1-9 1-48 1 55 1-36 1 49 1-43 1 40 1-34 1 88 1-130 1 61 1-31 1 48 1-46 1 2 1 22 1-26 1 42 1-115 1 162 1-99 1 59 1-89 1 67 1 11 1-63 1 27 1 89 1-86 1 33 1-58 1 111 1-54 1-46 1-21 1 67 1-101 1 122 1-64 1 53 1-65 1 44 1 19 1-46 1 63 1-56 1 29 1-35 1 11 1 24 1-22 1 27 1-103 1 152 1-101 1 71 1-18 1-41 1-24 1 93 1-33 1-31 1 36 1-32 1 27 1-48 1-24 1 127 1-60 1-33 1 14 1 27 1-6 1-19 1-49 1 102 1-82 1 53 1-23 1 18 1-27 1 23 1-7 1-346 1 600 1-535 1 501 1-415 1 357 1-298 1 31 1 199 1-171 1 141 1-121 1 91 1-65 1 55 1-10 1-34 1 2 1 37 1-8 1-23 1 20 1-23 1-49 1 79 1-35 1 30 1-30 1 37 1-26 1 71 1-89 1 33 1 24 1-83 1 89 1-64 1 46 1-42 1 9 1 30 1-82 1 68 1-16 1 33 1-6 1-29 1 50 1-59 1 58 1-50 1-21 1 65 1-5 1-38 1 32 1-35 1 32 1-41 1-4 1 61 1-48 1 36 1-40 1 35 1 9 1-34 1 69 1-95 1 27 1 22 1-21 1 17 1 18 1-36 1 27 1-33 1-63 1 148 1-91 1 33 1-23 1 36 1-35 1 34 1-34 1 21 1-31 1 30 1-55 1 86 1-29 1-28 1 3 1 23 1 18 1-39 1-41 1 83 1-22 1-16 1-4 1 17 1 1 1-19 1 44 1-35 1-5 1 17 1-36 1 65 1-45 1 12 1 1 1-13 1 1 1 19 1-26 1 28 1 34 1-63 1 24 1-21 1-78 1 126 1-75 1 46 1-39 1 62 1-8 1-41 1 32 1-35 1 9 1 59 1-35 1-27 1-2 1 34 1-74 1 93 1-29 1-22 1-284 1 382 1-19 1-223 1 73 1 115 1-73 1 82 1-55 1 30 1 7 1-52 1 23 1 43 1 24 1-71 1-20 1 74 1-13 1-42 1-1 1 33 1-27 1 67 1-80 1 48 1-36 1 27 1-33 1 45 1-68 1 84 1-69 1 32 1 8 1-26 1-8 1 39 1-1 1-76 1-16 1 96 1-48 1 38 1-26 1 28 1 12 1-41 1-9 1 75 1-30 1-37 1 30 1-31 1 43 1-45 1-24 1 69 1-20 1-51 1 36 1 17 1 2 1-19 1 90 1-109 1 22 1 18 1-22 1 14 1 4 1-18 1 56 1-84 1 29 1 20 1-4 1-16 1 21 1-17 1 8 1-18 1 5 1 17 1 12 1-45 1 48 1-37 1 0 1 29 1-25 1 25 1-23 1 36 1-93 1 103 1-51 1 20 1-16 1 25 1 3 1-45 1 38 1-23 1 16 1-30 1 14 1 22 1-4 1-31 1 61 1-92 1-168 1 310 1-246 1 226 1-186 1 171 1-9 1-108 1 83 1-65 1 10 1 49 1 43 1-87 1 15 1 35 1-10 1-31 1 30 1-19 1 2 1 24 1-3 1-24 1 30 1-27 1-40 1 92 1-34 1-18 1 22 1-29 1 72 1-91 1 50 1-27 1 8 1 44 1-31 1-17 1 36 1-56 1 16 1 21 1 19 1-96 1 76 1-29 1 26 1-15 1 20 1-40 1-2 1 54 1-57 1 74 1 11 1-67 1 97 1-193 1 101 1 44 1-62 1 82 1-22 1-70 1-141 1 306 1 62 1-312 1 236 1-207 1 160 1-118 1 22 1 90 1-102 1 72 1 34 1-96 1 13 1 38 1-38 1 28 1 5 1-31 1 5 1 47 1-39 1 22 1-9 1-14 1-36 1 76 1-22 1-17 1-7 1 25 1 15 1-47 1 43 1-24 1 24 1-41 1-7 1 40 1-24 1 22 1-31 1 27 1 1 1-20 1 81 1-99 1 18 1 29 1 6 1-74 1 60 1-37 1 4 1 42 1-44 1 27 1-8 1 15 1-2 1-18 1-89 1 133 1-66 1 49 1 6 1-50 1 39 1-19 1 3 1 14 1 2 1-27 1 34 1-49 1 50 1-31 1 23 1-28 1 35 1-34 1-38 1 96 1-75 1 40 1 16 1-40 1 10 1 27 1-53 1 114 1-112 1 54 1-44 1 42 1-55 1 56 1 29 1-101 1 147 1-113 1 54 1-59 1 29 1-23 1 27 1-22 1 23 1-25 1 31 1-67 1 112 1-94 1 43 1-75 1 46 1 24 1-38 1 74 1-71 1 54 1-41 1 33 1-23 1 15 1-22 1 20 1-3 1-53 1 57 1-22 1 2 1 33 1-42 1 34 1-49 1 64 1-14 1-95 1 62 1 51 1-9 1-38 1 1 1 21 1 20 1-74 1 62 1-38 1-19 1 54 1 7 1-44 1 30 1-16 1 16 1-19 1 16 1-20 1 27 1-20 1 2 1 20 1-46 1 90 1-70 1 26 1-6 1-18 1 21 1-18 1 21 1-46 1 86 1-95 1 26 1 55 1-69 1 70 1 8 1-60 1-37 1 67 1-5 1-29 1 6 1 22 1-6 1-55 1 86 1-57 1 12 1 18 1-34 1 39 1-272 1 330 1-236 1 240 1-49 1-106 1 12 1 98 1-71 1 88 1-99 1 172 1-101 1-60 1 70 1-66 1 12 1 54 1-48 1 98 1-92 1 26 1-23 1 15 1-20 1 18 1 1 1-19 1-29 1 72 1-17 1-24 1 16 1-12 1 17 1-20 1 17 1-27 1 7 1 18 1-12 1 14 1 13 1-64 1 89 1-59 1 7 1 27 1-36 1 24 1 19 1-34 1 32 1-34 1 76 1-93 1 42 1-37 1 27 1-17 1 23 1-25 1 25 1-19 1 15 1-22 1-40 1 87 1-58 1 29 1-23 1 74 1-50 1-13 1 29 1-30 1-57 1 100 1-48 1 27 1-28 1 24 1-23 1 31 1-13 1-18 1-70 1 123 1-99 1 81 1-4 1-49 1 92 1-82 1 27 1-15 1 37 1-40 1 22 1-28 1 27 1-41 1 48 1-43 1 52 1-58 1 45 1-22 1 26 1-47 1 57 1-53 1-4 1 63 1 36 1-99 1 45 1-38 1 38 1-28 1-2 1 35 1-48 1 79 1-69 1 36 1-10 1-57 1 62 1-24 1-25 1 83 1-67 1 39 1 20 1-55 1 31 1-37 1 9 1 28 1-47 1 60 1-2 1-107 1 214 1-187 1 32 1 105 1-131 1 73 1-6 1-38 1 38 1-30 1-4 1 59 1-16 1-44 1-2 1 72 1-110 1 79 1-15 1-22 1 6 1 27 1-4 1-27 1-12 1 34 1-39 1 46 1-28 1 26 1-130 1 159 1-50 1 13 1 8 1-22 1 23 1-67 1 14 1 108 1-91 1 31 1 8 1-55 1 13 1 32 1-17 1 27 1-1 1-31 1 24 1-31 1-2 1 46 1 10 1-42 1 22 1-20 1 26 1-30 1 40 1-46 1 2 1 23 1-1 1-28 1 36 1-20 1-1 1 16 1-2 1-24 1 7 1 24 1-53 1 62 1-6 1-29 1 20 1-22 1 26 1-27 1 18 1-10 1-3 1 20 1-20 1 15 1-32 1 68 1-31 1-18 1 26 1-27 1 20 1-20 1 19 1-14 1 10 1-15 1 16 1-18 1 29 1-29 1 2 1 20 1-18 1 13 1-1 1-13 1 3 1 12 1-12 1 13 1-41 1 55 1-32 1 16 1-12 1 9 1-17 1 20 1-2 1-12 1 18 1-16 1-12 1 24 1-24 1 49 1-19 1-17 1 13 1-31 1 19 1 15 1-6 1-11 1 9 1-7 1-16 1 35 1-23 1 11 1 2 1-13 1 15 1-12 1-8 1 19 1-12 1 13 1 0 1-12 1-3 1 17 1-25 1 31 1-9 1-15 1 15 1-11 1 15 1-15 1 19 1-16 1 36 1-50 1 28 1-20 1 4 1 14 1 0 1-17 1 1 1 12 1-16 1 18 1 1 1-35 1 9 1 24 1-2 1-15 1-6 1 22 1 1 1-24 1-5 1 65 1-59 1 32 1-39 1 46 1-4 1-25 1-9 1 28 1-4 1-32 1 49 1-41 1 21 1-14 1-7 1 19 1 2 1-10 1-6 1 16 1-15 1 17 1-26 1 39 1-30 1 12 1-25 1 37 1-8 1-33 1 9 1 26 1 23 1-69 1 10 1 52 1-9 1-36 1 30 1-30 1-7 1 28 1 2 1-8 1 14 1-28 1 11 1 40 1-98 1 120 1-71 1 27 1 18 1-45 1-8 1 67 1-65 1 36 1-34 1 43 1-14 1-23 1-38 1 89 1-53 1 35 1 11 1-48 1-17 1 64 1-10 1-28 1-11 1 47 1-6 1-37 1-7 1 36 1-98 1 96 1 45 1-86 1 20 1 25 1-29 1 26 1 25 1-51 1 26 1-25 1 0 1 33 1 2 1-31 1-12 1 32 1-41 1 56 1 19 1-57 1-1 1 35 1-34 1 32 1-12 1-36 1 47 1-24 1-4 1 19 1-20 1 32 1-32 1 24 1-27 1 27 1-26 1 18 1-18 1 22 1-70 1 110 1-30 1-54 1 14 1 27 1-20 1 31 1-7 1-20 1 18 1-38 1 21 1 16 1 15 1-44 1-5 1 57 1-63 1 63 1-10 1-40 1 9 1 20 1-24 1 50 1-27 1-25 1-10 1 84 1-70 1 22 1 2 1-43 1 9 1 47 1 19 1-84 1 70 1-61 1 80 1-63 1 30 1-20 1-14 1 26 1-16 1 34 1 43 1-99 1 47 1-25 1-21 1 52 1 22 1-64 1 34 1-29 1 2 1 32 1-61 1 70 1-21 1-13 1 29 1-29 1 22 1-26 1 20 1-17 1-3 1 28 1-42 1 55 1-22 1-31 1 8 1 53 1 28 1-117 1-3 1 52 1-31 1 64 1-11 1-43 1 12 1 26 1-28 1 22 1-2 1-22 1 0 1 24 1 12 1-61 1 0 1 57 1-5 1-36 1 53 1-39 1 19 1-31 1 11 1 28 1-61 1 71 1-8 1-34 1-9 1 35 1 1 1-18 1 15 1-19 1 17 1-18 1 18 1-47 1 28 1 23 1 44 1-92 1 16 1 36 1-4 1-33 1 12 1 17 1 6 1-25 1-5 1 49 1-2 1-55 1 33 1-32 1-13 1 67 1-51 1 55 1 11 1-60 1 36 1-108 1 109 1-57 1 9 1 42 1-5 1-27 1 3 1 24 1-44 1 47 1-44 1 40 1-23 1 25 1-4 1-20 1 23 1-22 1-10 1 37 1 10 1-34 1-34 1 81 1-68 1 38 1 13 1-33 1 2 1 39 1-23 1-23 1 5 1 26 1-8 1-19 1 13 1-27 1 54 1-50 1 10 1 18 1-20 1 24 1 30 1-102 1 50 1 44 1-95 1 113 1-97 1 75 1 4 1-109 1 39 1 70 1-5 1-51 1 36 1-28 1-12 1 48 1 51 1-137 1 83 1-45 1 0 1 88 1-99 1 57 1 42 1-91 1-2 1 53 1-32 1 57 1-92 1 84 1-55 1 32 1 35 1-63 1 25 1-26 1 23 1-28 1 0 1 29 1 42 1-72 1-10 1 42 1-33 1 43 1-11 1-27 1 34 1-23 1 19 1-21 1-13 1 110 1-78 1-25 1-5 1 35 1 16 1-42 1-3 1 29 1-1 1-30 1 5 1 38 1-90 1 72 1-46 1 55 1-36 1 44 1-69 1 48 1-65 1 78 1 1 1-38 1 2 1 27 1 31 1-73 1 50 1-33 1 47 1-55 1 30 1-25 1-1 1 25 1 27 1-61 1 12 1 28 1-20 1 21 1-23 1 16 1 0 1-17 1 2 1 16 1-6 1-16 1 31 1-56 1 74 1-64 1 62 1-48 1-24 1 58 1-59 1 84 1-63 1 41 1-37 1 42 1-47 1 28 1-3 1-20 1 21 1-30 1 33 1-29 1 6 1 31 1-32 1 34 1-3 1-51 1-5 1 67 1-3 1-40 1 5 1 27 1-25 1 28 1 2 1-32 1 22 1-33 1-14 1 46 1-3 1-23 1-33 1 67 1-29 1 26 1-27 1 29 1 17 1-62 1 8 1 38 1-69 1 83 1-49 1 23 1-46 1 47 1-16 1 19 1 26 1-62 1 7 1 42 1-41 1 41 1-18 1-24 1 6 1 19 1-30 1 43 1-5 1-55 1 20 1 27 1-13 1 15 1 5 1-26 1 22 1-25 1-13 1 39 1-6 1-21 1 23 1-23 1 19 1-11 1-1 1 17 1-29 1 25 1 2 1-13 1 20 1-18 1 16 1-13 1 4 1-5 1 10 1-15 1 12 1-7 1 6 1-10 1 3 1 8 1 3 1-13 1-1 1 13 1-4 1-12 1 2 1 15 1-3 1-8 1 13 1-41 1 44 1-26 1 5 1 24 1-34 1 24 1-13 1 12 1-10 1 8 1-8 1 10 1-10 1 12 1 9 1-20 1 14 1-14 1-5 1 18 1-36 1 39 1-5 1-19 1 24 1-21 1-1 1 15 1 5 1-16 1 2 1 11 1-22 1 48 1-57 1 58 1-25 1-26 1 8 1 13 1-13 1 13 1 1 1-23 1 60 1-63 1 17 1 11 1-14 1 16 1 48 1-61 1-15 1 29 1 18 1-41 1-75 1 160 1-95 1 47 1-49 1 37 1-21 1 24 1-8 1-15 1 21 1-36 1 39 1-52 1 61 1-52 1 99 1-97 1 51 1-48 1 52 1-48 1 34 1-33 1 54 1-55 1 51 1-90 1 27 1 56 1-106 1 107 1-49 1 59 1-55 1 68 1-90 1 80 1-57 1 46 1-1 1-100 1 195 1-141 1-19 1 73 1-44 1 16 1 13 1-33 1 22 1-23 1-1 1 19 1-11 1 16 1-35 1 61 1-58 1 41 1-5 1-26 1 43 1-51 1 7 1 36 1-68 1 130 1-72 1-27 1 23 1-12 1 9 1-18 1 20 1-26 1-53 1 94 1-14 1-19 1 33 1-39 1-4 1 38 1 1 1-30 1 39 1-36 1-14 1 37 1-29 1 36 1-93 1 114 1-23 1-30 1-8 1 26 1 0 1-22 1-5 1 27 1 36 1-75 1 14 1 34 1-32 1 42 1-49 1 70 1-84 1 143 1-84 1-42 1-13 1 81 1-10 1-68 1-15 1 58 1 23 1-75 1-9 1 84 1-23 1-45 1 45 1-52 1 23 1 36 1 3 1-86 1 118 1-79 1 8 1 71 1-48 1-52 1 30 1 46 1-13 1-76 1 79 1-43 1 36 1-110 1 51 1 104 1-65 1 25 1-56 1 57 1-30 1 39 1-15 1-46 1 6 1 38 1-72 1 108 1-37 1-46 1 25 1 33 1 1 1-30 1 77 1-121 1 59 1-34 1 11 1 28 1-25 1 21 1 7 1-26 1 19 1-15 1 19 1-23 1-13 1 67 1-21 1-58 1 17 1 22 1 15 1-39 1-53 1 103 1-51 1 47 1-58 1 59 1-19 1-26 1-39 1 108 1-75 1 36 1-31 1 31 1-21 1 23 1-4 1-16 1-4 1 15 1-40 1 44 1 55 1-96 1 17 1 42 1-9 1-41 1 36 1-35 1 38 1-27 1-94 1 149 1-74 1 32 1 6 1-44 1 9 1 0" fill="none" stroke="#0000ff" stroke-width="0.42" vector-effect="non-scaling-stroke"/>
<path d="M390.50 69.5v-2.9M390.50 9.5v2.9M438.33 69.5v-2.9M438.33 9.5v2.9M486.17 69.5v-2.9M486.17 9.5v2.9M534.00 69.5v-2.9M534.00 9.5v2.9M581.83 69.5v-2.9M581.83 9.5v2.9M629.67 69.5v-2.9M629.67 9.5v2.9M677.50 69.5v-2.9M677.50 9.5v2.9M390.5 69.50h2.9M677.5 69.50h-2.9M390.5 43.75h2.9M677.5 43.75h-2.9M390.5 18.00h2.9M677.5 18.00h-2.9" fill="none" stroke="#747474" stroke-width="1"/>
<rect x="390.5" y="9.5" width="287.0" height="60.00" fill="none" stroke="#747474" stroke-width="1"/>
<text x="390.50" y="82.00" font-size="8.3" text-anchor="middle">0</text>
<text x="438.33" y="82.00" font-size="8.3" text-anchor="middle">20</text>
<text x="486.17" y="82.00" font-size="8.3" text-anchor="middle">40</text>
<text x="534.00" y="82.00" font-size="8.3" text-anchor="middle">60</text>
<text x="581.83" y="82.00" font-size="8.3" text-anchor="middle">80</text>
<text x="629.67" y="82.00" font-size="8.3" text-anchor="middle">100</text>
<text x="677.50" y="82.00" font-size="8.3" text-anchor="middle">120</text>
<text x="387.30" y="73.10" font-size="8.3" text-anchor="end">-1000</text>
<text x="387.30" y="47.35" font-size="8.3" text-anchor="end">0</text>
<text x="387.30" y="21.60" font-size="8.3" text-anchor="end">1000</text>
<text transform="translate(361.10,39.50) rotate(-90)" font-size="9.3" text-anchor="middle">yaw (deg/s/s)</text>
<text x="534.00" y="6.10" font-size="8.77" text-anchor="middle">B: 200 Hz difference-based angular accelerations with IMU</text>
<path transform="translate(390.75 0) scale(0.5 0.1)" d="M0 1162l1 0 1 0 1 0 1 0 1 0 1 0 1 0 1 0 1 0 1 0 1 0 1 0 1 0 1 0 1 0 1 0 1 0 1 0 1 0 1 0 1 0 1 0 1 0 1 0 1 0 1 0 1 0 1 0 1 0 1 0 1 0 1 0 1 0 1 0 1 0 1 0 1 0 1 0 1 0 1 0 1 0 1 0 1 0 1 0 1 0 1 0 1 0 1 0 1 0 1 0 1 0 1 0 1 0 1 0 1 0 1 0 1 0 1 0 1 0 1 0 1 0 1 0 1 0 1 0 1 0 1 0 1 0 1 0 1 0 1 0 1 0 1 0 1 0 1 0 1 0 1 0 1 0 1 0 1 0 1 0 1 0 1 0 1 0 1 0 1 0 1 0 1 0 1 0 1 0 1 0 1 0 1 0 1 0 1 0 1 0 1 0 1 0 1-10 1-1 1 0 1 1 1-1 1 2 1 6 1 0 1-12 1-1 1 11 1 0 1 3 1-3 1 2 1-1 1-1 1-10 1 11 1-6 1 10 1-4 1-1 1-5 1 4 1 2 1-5 1 0 1-1 1 1 1-6 1-8 1 11 1-13 1 7 1 4 1 10 1-13 1 12 1-1 1-19 1 21 1-7 1 4 1-1 1-7 1 5 1-4 1-9 1 13 1 1 1 7 1-16 1 9 1 0 1 0 1-2 1 7 1 3 1-4 1 1 1-3 1 3 1-2 1-5 1-5 1 3 1 1 1 5 1-6 1 4 1 0 1 2 1-24 1 23 1 1 1-3 1 1 1 4 1-4 1-19 1 15 1-72 1 64 1 14 1-3 1-2 1 3 1-3 1 5 1 3 1-1 1 2 1-1 1-1 1 1 1-1 1 0 1-4 1 0 1 6 1-2 1-6 1-11 1 16 1-1 1 2 1 1 1-2 1 3 1-5 1-4 1 6 1-3 1 3 1 0 1 0 1 0 1 0 1 2 1-3 1-3 1 4 1 1 1 1 1-3 1-14 1-2 1 17 1 1 1-2 1-2 1 0 1 0 1 4 1-1 1-2 1 0 1-9 1 9 1 2 1-7 1 4 1 8 1-1 1-25 1 9 1 4 1-3 1 3 1 5 1 2 1-2 1-3 1 6 1-5 1-2 1-3 1-1 1 11 1-3 1 1 1-3 1 6 1-6 1 2 1 2 1 6 1-3 1 0 1-1 1-2 1-3 1 6 1-3 1 5 1-1 1-5 1 5 1-4 1-62 1 23 1 40 1-7 1 6 1-2 1 0 1 5 1-6 1-15 1 21 1-1 1 0 1-8 1-5 1 1 1 11 1-4 1 0 1 1 1 2 1-2 1-8 1 7 1 5 1-11 1 3 1 11 1-2 1-5 1 3 1-1 1 2 1-6 1 4 1-1 1-6 1 8 1-3 1 2 1-12 1 11 1 2 1-5 1-6 1 5 1 5 1-5 1 4 1 1 1-85 1 56 1 28 1 2 1-6 1 0 1 4 1-4 1 4 1 5 1-2 1-104 1 54 1 28 1 18 1 6 1-1 1 0 1-1 1-3 1 3 1 2 1-1 1-2 1 4 1 0 1 0 1 1 1 1 1-1 1-1 1 1 1 0 1-2 1-2 1 2 1-1 1 2 1-2 1 4 1-3 1 2 1 0 1-2 1 2 1-6 1-4 1 5 1 4 1-32 1 20 1 11 1 3 1-2 1 2 1-104 1 65 1 34 1 1 1 1 1 1 1-4 1 3 1-2 1 2 1 2 1-4 1 1 1-3 1 2 1 1 1-1 1 3 1 1 1-2 1 0 1-4 1 2 1-2 1 6 1-84 1 57 1 19 1 6 1-1 1 0 1 4 1-3 1 0 1-5 1 1 1 2 1-75 1 50 1 23 1-2 1 7 1-7 1 4 1-2 1 4 1-2 1 3 1-1 1 0 1 1 1-1 1 3 1 0 1-3 1-1 1 2 1-3 1 0 1-32 1 32 1 4 1-1 1 1 1-2 1 2 1-1 1 2 1 0 1-59 1 37 1 19 1 0 1 2 1-7 1 2 1 4 1 0 1-1 1 2 1 1 1-3 1 1 1-3 1 4 1-1 1 0 1-28 1-44 1 65 1 4 1 5 1-2 1 0 1-1 1 1 1-3 1-73 1 65 1 8 1 4 1-3 1-1 1 3 1-2 1-74 1 44 1 24 1 8 1 0 1 1 1-2 1 1 1 0 1 1 1-2 1 2 1-5 1 5 1-1 1-4 1 5 1-3 1-2 1 2 1 3V1168l-1 2 -1 0 -1 1 -1-1 -1-1 -1 1 -1 3 -1 0 -1-1 -1-5 -1 0 -1 0 -1 0 -1 3 -1-1 -1 0 -1 2 -1 3 -1 22 -1 28 -1-52 -1-1 -1 2 -1-1 -1-3 -1 1 -1 16 -1 31 -1-44 -1-2 -1 1 -1 0 -1-3 -1 2 -1 1 -1 11 -1 38 -1 55 -1-108 -1 0 -1 1 -1 2 -1-1 -1-3 -1 0 -1 0 -1 2 -1-2 -1 1 -1 1 -1 1 -1 3 -1-5 -1 6 -1 12 -1 28 -1-47 -1 1 -1 0 -1 1 -1 1 -1-1 -1-1 -1-1 -1 3 -1 35 -1-36 -1 7 -1-9 -1 4 -1 2 -1-6 -1 1 -1 1 -1-2 -1 1 -1 2 -1-1 -1 6 -1 2 -1-8 -1 0 -1 2 -1 5 -1 2 -1-3 -1 13 -1 56 -1-67 -1-8 -1 2 -1-2 -1-2 -1 2 -1-1 -1-1 -1 1 -1 4 -1 14 -1 42 -1-57 -1-1 -1 3 -1-3 -1 1 -1-2 -1-1 -1 2 -1 1 -1 1 -1-4 -1 4 -1 2 -1 0 -1-6 -1 0 -1 3 -1-3 -1 3 -1 0 -1-3 -1 3 -1 1 -1 31 -1 34 -1-69 -1 0 -1 1 -1 5 -1 8 -1 16 -1-26 -1-3 -1 4 -1 3 -1-7 -1 0 -1-1 -1 0 -1-1 -1 5 -1-2 -1-1 -1 3 -1-4 -1 1 -1 6 -1-6 -1-2 -1 0 -1 1 -1 1 -1-2 -1 3 -1-2 -1-1 -1 2 -1 1 -1 2 -1-2 -1 3 -1 3 -1-7 -1 1 -1 0 -1 9 -1 26 -1 68 -1 34 -1-136 -1 0 -1 4 -1 3 -1 1 -1-5 -1 6 -1-5 -1 0 -1 73 -1 31 -1-102 -1-4 -1 1 -1 2 -1 7 -1-9 -1 2 -1-3 -1 5 -1-1 -1-5 -1 2 -1 1 -1 3 -1 6 -1-15 -1 5 -1-1 -1 0 -1 6 -1 1 -1-8 -1-2 -1 15 -1-10 -1-2 -1 6 -1-2 -1 1 -1-4 -1-2 -1 7 -1-6 -1 3 -1 2 -1 10 -1-14 -1 1 -1-4 -1 0 -1 4 -1 14 -1-17 -1-1 -1 2 -1-1 -1 0 -1 9 -1 16 -1 57 -1-81 -1 3 -1-5 -1-2 -1 2 -1 0 -1 5 -1-3 -1 0 -1 3 -1-1 -1-6 -1 2 -1 7 -1 1 -1-7 -1 2 -1 0 -1-1 -1-1 -1 7 -1 2 -1-3 -1-1 -1 0 -1-2 -1 1 -1 5 -1-5 -1 5 -1 6 -1-3 -1 3 -1 25 -1 26 -1-67 -1 2 -1-1 -1 8 -1-7 -1 2 -1-2 -1 4 -1 1 -1-3 -1-4 -1 5 -1-2 -1 1 -1 3 -1-5 -1 4 -1 4 -1-9 -1 1 -1-2 -1 4 -1-1 -1-1 -1-2 -1 2 -1-1 -1 0 -1 3 -1-2 -1 1 -1-2 -1 7 -1-6 -1 6 -1-4 -1-7 -1 7 -1 0 -1-5 -1 8 -1 31 -1-35 -1-3 -1 4 -1-2 -1 0 -1-3 -1 1 -1 6 -1-8 -1 3 -1-1 -1 5 -1-4 -1-1 -1 8 -1-8 -1 7 -1-5 -1 0 -1 30 -1 98 -1-123 -1 7 -1-5 -1 1 -1-4 -1 1 -1-2 -1 1 -1-3 -1-4 -1 2 -1 0 -1 1 -1 8 -1-2 -1-1 -1-6 -1 5 -1 2 -1-6 -1 3 -1-3 -1-2 -1-2 -1 4 -1 1 -1 1 -1 1 -1-4 -1 3 -1-2 -1 7 -1-4 -1 3 -1-2 -1 3 -1-4 -1-5 -1 6 -1 5 -1-9 -1 4 -1-4 -1 2 -1-6 -1 6 -1-4 -1 5 -1 21 -1-15 -1-5 -1 2 -1-1 -1-3 -1 6 -1-5 -1 1 -1-1 -1-4 -1-3 -1 3 -1-4 -1 4 -1 2 -1 8 -1-8 -1-3 -1 2 -1-2 -1-2 -1 2 -1 10 -1-5 -1-5 -1 2 -1 5 -1 4 -1-5 -1-3 -1 0 -1 2 -1 0 -1-9 -1 0 -1 0 -1 0 -1 0 -1 0 -1 0 -1 0 -1 0 -1 0 -1 0 -1 0 -1 0 -1 0 -1 0 -1 0 -1 0 -1 0 -1 0 -1 0 -1 0 -1 0 -1 0 -1 0 -1 0 -1 0 -1 0 -1 0 -1 0 -1 0 -1 0 -1 0 -1 0 -1 0 -1 0 -1 0 -1 0 -1 0 -1 0 -1 0 -1 0 -1 0 -1 0 -1 0 -1 0 -1 0 -1 0 -1 0 -1 0 -1 0 -1 0 -1 0 -1 0 -1 0 -1 0 -1 0 -1 0 -1 0 -1 0 -1 0 -1 0 -1 0 -1 0 -1 0 -1 0 -1 0 -1 0 -1 0 -1 0 -1 0 -1 0 -1 0 -1 0 -1 0 -1 0 -1 0 -1 0 -1 0 -1 0 -1 0 -1 0 -1 0 -1 0 -1 0 -1 0 -1 0 -1 0 -1 0 -1 0 -1 0 -1 0 -1 0 -1 0 -1 0 -1 0 -1 0 -1 0 -1 0z" fill="#0000ff"/>
<path transform="scale(0.08333333333333333 0.1)" d="M4686 1164l1 0 1 0 1 0 1 0 1 0 1 0 1 0 1 0 1 0 1 0 1 0 1 0 1 0 1 0 1 0 1 0 1 0 1 0 1 0 1 0 1 0 1 0 1 0 1 0 1 0 1 0 1 0 1 0 1 0 1 0 1 0 1 0 1 0 1 0 1 0 1 0 1 0 1 0 1 0 1 0 1 0 1 0 1 0 1 0 1 0 1 0 1 0 1 0 1 0 1 0 1 0 1 0 1 0 1 0 1 0 1 0 1 0 1 0 1 0 1 0 1 0 1 0 1 0 1 0 1 0 1 0 1 0 1 0 1 0 1 0 1 0 1 0 1 0 1 0 1 0 1 0 1 0 1 0 1 0 1 0 1 0 1 0 1 0 1 0 1 0 1 0 1 0 1 0 1 0 1 0 1 0 1 0 1 0 1 0 1 0 1 0 1 0 1 0 1 0 1 0 1 0 1 0 1 0 1 0 1 0 1 0 1 0 1 0 1 0 1 0 1 0 1 0 1 0 1 0 1 0 1 0 1 0 1 0 1 0 1 0 1 0 1 0 1 0 1 0 1 0 1 0 1 0 1 0 1 0 1 0 1 0 1 0 1 0 1 0 1 0 1 0 1 0 1 0 1 0 1 0 1 0 1 0 1 0 1 0 1 0 1 0 1 0 1 0 1 0 1 0 1 0 1 0 1 0 1 0 1 0 1 0 1 0 1 0 1 0 1 0 1 0 1 0 1 0 1 0 1 0 1 0 1 0 1 0 1 0 1 0 1 0 1 0 1 0 1 0 1 0 1 0 1 0 1 0 1 0 1 0 1 0 1 0 1 0 1 0 1 0 1 0 1 0 1 0 1 0 1 0 1 0 1 0 1 0 1 0 1 0 1 0 1 0 1 0 1 0 1 0 1 0 1 0 1 0 1 0 1 0 1 0 1 0 1 0 1 0 1 0 1 0 1 0 1 0 1 0 1 0 1 0 1 0 1 0 1 0 1 0 1 0 1 0 1 0 1 0 1 0 1 0 1 0 1 0 1 0 1 0 1 0 1 0 1 0 1 0 1 0 1 0 1 0 1 0 1 0 1 0 1 0 1 0 1 0 1 0 1 0 1 0 1 0 1 0 1 0 1 0 1 0 1 0 1 0 1 0 1 0 1 0 1 0 1 0 1 0 1 0 1 0 1 0 1 0 1 0 1 0 1 0 1 0 1 0 1 0 1 0 1 0 1 0 1 0 1 0 1 0 1 0 1 0 1 0 1 0 1 0 1 0 1 0 1 0 1 0 1 0 1 0 1 0 1 0 1 0 1 0 1 0 1 0 1 0 1 0 1 0 1 0 1 0 1 0 1 0 1 0 1 0 1 0 1 0 1 0 1 0 1 0 1 0 1 0 1 0 1 0 1 0 1 0 1 0 1 0 1 0 1 0 1 0 1 0 1 0 1 0 1 0 1 0 1 0 1 0 1 0 1 0 1 0 1 0 1 0 1 0 1 0 1 0 1 0 1 0 1 0 1 0 1 0 1 0 1 0 1 0 1 0 1 0 1 0 1 0 1 0 1 0 1 0 1 0 1 0 1 0 1 0 1 0 1 0 1 0 1 0 1 0 1 0 1 0 1 0 1 0 1 0 1 0 1 0 1 0 1 0 1 0 1 0 1 0 1 0 1 0 1 0 1 0 1 0 1 0 1 0 1 0 1 0 1 0 1 0 1 0 1 0 1 0 1 0 1 0 1 0 1 0 1 0 1 0 1 0 1 0 1 0 1 0 1 0 1 0 1 0 1 0 1 0 1 0 1 0 1 0 1 0 1 0 1 0 1 0 1 0 1 0 1 0 1 0 1 0 1 0 1 0 1 0 1 0 1 0 1 0 1 0 1 0 1 0 1 0 1 0 1 0 1 0 1 0 1 0 1 0 1 0 1 0 1 0 1 0 1 0 1 0 1 0 1 0 1 0 1 0 1 0 1 0 1 0 1 0 1 0 1 0 1 0 1 0 1 0 1 0 1 0 1 0 1 0 1 0 1 0 1 0 1 0 1 0 1 0 1 0 1 0 1 0 1 0 1 0 1 0 1 0 1 0 1 0 1 0 1 0 1 0 1 0 1 0 1 0 1 0 1 0 1 0 1 0 1 0 1 0 1 0 1 0 1 0 1 0 1 0 1 0 1 0 1 0 1 0 1 0 1 0 1 0 1 0 1 0 1 0 1 0 1 0 1 0 1 0 1 0 1 0 1 0 1 0 1 0 1 0 1 0 1 0 1 0 1 0 1 0 1 0 1 0 1 0 1 0 1 0 1 0 1 0 1 0 1 0 1 0 1 0 1 0 1 0 1 0 1 0 1 0 1 0 1 0 1 0 1 0 1 0 1 0 1 0 1 0 1 0 1 0 1 0 1 0 1 0 1 0 1 0 1 0 1 0 1 0 1 0 1 0 1 0 1 0 1 0 1 0 1 0 1 0 1 0 1 0 1 0 1 0 1 0 1 0 1 0 1 0 1 0 1 0 1 0 1 0 1 0 1 0 1 0 1 0 1 0 1 0 1 0 1 0 1 0 1 0 1 0 1 0 1 0 1 0 1 0 1 0 1 0 1 0 1 0 1 0 1 0 1 0 1 2 1-2 1-2 1 6 1-9 1 13 1-20 1 38 1 2 1-89 1 45 1 45 1-17 1-21 1 29 1-61 1 19 1 35 1-21 1 18 1-51 1 132 1-107 1 34 1-7 1-30 1 34 1-26 1-11 1 33 1-28 1 60 1-64 1 40 1-9 1-27 1 41 1-65 1 99 1-82 1 13 1 29 1-7 1-16 1 34 1-46 1-11 1 47 1-6 1-20 1 18 1-17 1 22 1-33 1 43 1-57 1 125 1-144 1 66 1-33 1-14 1 45 1-34 1 37 1-5 1-38 1 52 1-32 1 21 1-26 1-19 1 88 1-75 1 33 1 0 1-28 1 22 1-23 1 7 1 13 1-14 1 19 1-4 1-44 1 45 1-16 1-29 1 105 1-38 1-42 1 4 1 19 1-18 1 16 1-22 1 22 1-6 1-17 1-1 1 19 1 17 1-36 1-8 1 33 1-15 1 19 1 22 1-52 1 27 1-58 1-10 1 132 1-54 1-39 1 31 1-29 1-1 1 42 1-11 1-34 1 5 1 30 1-76 1 139 1-83 1 11 1-11 1 8 1-9 1 9 1 8 1-15 1 11 1-19 1 22 1-17 1-36 1 106 1-50 1-23 1-2 1 20 1-33 1 38 1-54 1 52 1-24 1 20 1 3 1-42 1 44 1-27 1-66 1 215 1-79 1-79 1 40 1-32 1 11 1 53 1-35 1-20 1 20 1-22 1-8 1 92 1-60 1-26 1-6 1 33 1-185 1 304 1-124 1-22 1-8 1 31 1 4 1-37 1 37 1-29 1 25 1-39 1-10 1 55 1 10 1-37 1 17 1-35 1 49 1-42 1-36 1 71 1 247 1-336 1 57 1 62 1-31 1-40 1 11 1 32 1 29 1-58 1-28 1 74 1-63 1 32 1-32 1 68 1-158 1 349 1-261 1 40 1-39 1 147 1-138 1 35 1-40 1 32 1 0 1-41 1 18 1 25 1 7 1-28 1-4 1 34 1-39 1 41 1-15 1-14 1 221 1-293 1 170 1-116 1 53 1-33 1 20 1-23 1 2 1 66 1-72 1 25 1-20 1 24 1-3 1-32 1 42 1-49 1 8 1 43 1-120 1 287 1-203 1 21 1 0 1-34 1 50 1-43 1-5 1 49 1-36 1 28 1-155 1 399 1-275 1 26 1 8 1-30 1-2 1 37 1-42 1 52 1-20 1-34 1 21 1-13 1 9 1 12 1-78 1 306 1-248 1 34 1-37 1 29 1-28 1 26 1 22 1-58 1-23 1 54 1 26 1-57 1-7 1 74 1-25 1-46 1 332 1-443 1 149 1-29 1 42 1-43 1 35 1-26 1-23 1 48 1 28 1-51 1-99 1 287 1-103 1-90 1 22 1-17 1 17 1-15 1 20 1-24 1 15 1-27 1 33 1-20 1-102 1 379 1-285 1 25 1-23 1 24 1 9 1-29 1 34 1-33 1 21 1-28 1-11 1 73 1-9 1-47 1-122 1 325 1-207 1 25 1 0 1-73 1 25 1 47 1-36 1 44 1-29 1 35 1-11 1-21 1 23 1-24 1 15 1-13 1-1 1 14 1-14 1 15 1-20 1 15 1 16 1-25 1-103 1 281 1-176 1 9 1-14 1 19 1 14 1-31 1-23 1 37 1 11 1-27 1 0 1 77 1-84 1 32 1-24 1 20 1-17 1 15 1 9 1-27 1 181 1-285 1 107 1 20 1 8 1-78 1 46 1 23 1-30 1 40 1-50 1 40 1 37 1-90 1 55 1-31 1-169 1 475 1-299 1 37 1-44 1 29 1-3 1-19 1 26 1-48 1-10 1 70 1-57 1 90 1-80 1 44 1-49 1 53 1 1 1-49 1-73 1 236 1-153 1 24 1-33 1 26 1 11 1-37 1 44 1-55 1 16 1 26 1-27 1 20 1-56 1 71 1-3 1-35 1-13 1 32 1-13 1 23 1 33 1-90 1-23 1 335 1-172 1-142 1 58 1-39 1 44 1-32 1 3 1 37 1-38 1 31 1-1 1-27 1 87 1-93 1 83 1-83 1 71 1-71 1 25 1-72 1 306 1-319 1 58 1 35 1-29 1 37 1-37 1 42 1-40 1 26 1-26 1 49 1-32 1-26 1-5 1 107 1-41 1-54 1-46 1 75 1-115 1 332 1-284 1 208 1-171 1 29 1-3 1-29 1-224 1 446 1 33 1-372 1 269 1-222 1 169 1-133 1 11 1 83 1 65 1-258 1 164 1-35 1 2 1 35 1-27 1 27 1-8 1-25 1 23 1-28 1 79 1-73 1-13 1 38 1-32 1 41 1 115 1-178 1 29 1 29 1-3 1-18 1 19 1-70 1 45 1 25 1-28 1 26 1-26 1 82 1-104 1 52 1-33 1 30 1-3 1-18 1 18 1-26 1 8 1 17 1 30 1-55 1 11 1 18 1-17 1 27 1 1 1-31 1 21 1-22 1-3 1 20 1-45 1 51 1-22 1 16 1 19 1-64 1 45 1-14 1 14 1-14 1-3 1 18 1-21 1 14 1 5 1-14 1 1 1 20 1-21 1 35 1-38 1 26 1-42 1 47 1-33 1 20 1-15 1 21 1 9 1-31 1-7 1 46 1-39 1 14 1-1 1-13 1-2 1 23 1 2 1-53 1 5 1 48 1-6 1-16 1-15 1 31 1-15 1 19 1-5 1-30 1 37 1-31 1 26 1-33 1 5 1 59 1-32 1-24 1 2 1 23 1-13 1 19 1 15 1-103 1 139 1-111 1 100 1-83 1 54 1-43 1 38 1-42 1 12 1 23 1-28 1 20 1-20 1 25 1-7 1-16 1 22 1-35 1 35 1-19 1 41 1-81 1 63 1-18 1-9 1 24 1 16 1-36 1 19 1-18 1-7 1 18 1-12 1 15 1-17 1 17 1-3 1-10 1 43 1-46 1 31 1-33 1-12 1 41 1 3 1-31 1 29 1-31 1 31 1-66 1 22 1 82 1-48 1-40 1 24 1 35 1-39 1 26 1 13 1-34 1-17 1 54 1-43 1 21 1 0 1-24 1 26 1-23 1 8 1 14 1 6 1-38 1 39 1-24 1 19 1-30 1 40 1-54 1 24 1 30 1-38 1 27 1-2 1-20 1 1 1 23 1 3 1-23 1-6 1 25 1-23 1 20 1 7 1-46 1 36 1-22 1 28 1-18 1-2 1 23 1-6 1-16 1-6 1 21 1-28 1 28 1-1 1-29 1 36 1-40 1 38 1-24 1 23 1-24 1 6 1 21 1-1 1-25 1 25 1-24 1 25 1-48 1 15 1 34 1-30 1 26 1-21 1 18 1 2 1-35 1 20 1 14 1-1 1-20 1-12 1 32 1 11 1-47 1-13 1 49 1-31 1 48 1 3 1-74 1 15 1 43 1 36 1-131 1 35 1 71 1-8 1-26 1 24 1-32 1 37 1-32 1 7 1 23 1-28 1 20 1-31 1 40 1-30 1 23 1 41 1-60 1 107 1-107 1 29 1-25 1 18 1-24 1-10 1 29 1 15 1-34 1 54 1-57 1-2 1 33 1-40 1 40 1-56 1 57 1-29 1 24 1 8 1-40 1-1 1 37 1-12 1-12 1 1 1 26 1-30 1 25 1-4 1-45 1 54 1-54 1 53 1-26 1-11 1 45 1-7 1-29 1-7 1 30 1 2 1-70 1 69 1-17 1 11 1-70 1 73 1-39 1 37 1-20 1-5 1 44 1-20 1-29 1 39 1-28 1 4 1 14 1-98 1 102 1-38 1 40 1-40 1 59 1 30 1-72 1 16 1-23 1 25 1-31 1 43 1-33 1 22 1-16 1-2 1 25 1-31 1 46 1-43 1 22 1-20 1 17 1-18 1 14 1-23 1 28 1-60 1 163 1-149 1 111 1 3 1-109 1 81 1-79 1 17 1 64 1-21 1-60 1-9 1 76 1 7 1-95 1 31 1 44 1 21 1-74 1 60 1-96 1 32 1 67 1-64 1 57 1-44 1 44 1-14 1-22 1 33 1-42 1 37 1-45 1 9 1 42 1-103 1 84 1-17 1 33 1-5 1-53 1 21 1 72 1-26 1-49 1 47 1-54 1 45 1-94 1 34 1 56 1-55 1 56 1-31 1 25 1 6 1-27 1 44 1-48 1-4 1 30 1 3 1-32 1 53 1-59 1 42 1-56 1 16 1 33 1 2 1-40 1-18 1 58 1 12 1-58 1-22 1 83 1 4 1-84 1 84 1-46 1 47 1-44 1 32 1-28 1-10 1 31 1-3 1-83 1 78 1-28 1 36 1-27 1-1 1 24 1 0 1-38 1 44 1-29 1 25 1-85 1 52 1 61 1-72 1 35 1 5 1-23 1 27 1-39 1 15 1 20 1 29 1-114 1 83 1-19 1-31 1 54 1 7 1-49 1 7 1 82 1-72 1 43 1 0 1-48 1 2 1 29 1-25 1 26 1-20 1 13 1 7 1-34 1 27 1-16 1 18 1-12 1 8 1-16 1 18 1-16 1 1 1 71 1-73 1 21 1-28 1 32 1-30 1 38 1-32 1 63 1-64 1 24 1-1 1-26 1 30 1-28 1 27 1-25 1-7 1 33 1-36 1 33 1-5 1-37 1 20 1 41 1-40 1 19 1 1 1-21 1 34 1-63 1 28 1 22 1-23 1 17 1 48 1-60 1 1 1 12 1 24 1-44 1 4 1 15 1-16 1 14 1-21 1 27 1-27 1 26 1-28 1 24 1 4 1-20 1 27 1-29 1 37 1-35 1 3 1 20 1-16 1 12 1 8 1-41 1 40 1-55 1 6 1 44 1-131 1 247 1-206 1 169 1-161 1 135 1-97 1 72 1-70 1 51 1-39 1 50 1-45 1 32 1-40 1 34 1 15 1-47 1 30 1-62 1 57 1-23 1 27 1-27 1 7 1 18 1-16 1 24 1 2 1-42 1 33 1-33 1 50 1-45 1-12 1 44 1-27 1 27 1-3 1-20 1 5 1 22 1-7 1-24 1 28 1-23 1 57 1-60 1 38 1-52 1-10 1 69 1-172 1 154 1-41 1 50 1-32 1 25 1-8 1-15 1-1 1 16 1 8 1-23 1-10 1 28 1-3 1-15 1 28 1-31 1 4 1 49 1-79 1 61 1-14 1-21 1 20 1-24 1 26 1-32 1 77 1-76 1-18 1 64 1-58 1 59 1-55 1 98 1-100 1 43 1-40 1 70 1-16 1-50 1 43 1-31 1-7 1 25 1 9 1-19 1 6 1-22 1 3 1 31 1-6 1-22 1-12 1 79 1-68 1 31 1-37 1 56 1-53 1 45 1-13 1-59 1 65 1-32 1 21 1-23 1 24 1-21 1 26 1-27 1-2 1 28 1-2 1-25 1-8 1 54 1-20 1-39 1 0 1 37 1-50 1 81 1-29 1-30 1-46 1 154 1-119 1 41 1-25 1 39 1-13 1-31 1 23 1-15 1 51 1-69 1 3 1 33 1 13 1-53 1 72 1-86 1 28 1 35 1 1 1-47 1 15 1 23 1-16 1 13 1-5 1-13 1 18 1-16 1-6 1 22 1-16 1 50 1-51 1 35 1 56 1-143 1 30 1 36 1 4 1-27 1-11 1 54 1-7 1-27 1 19 1-55 1 64 1-44 1 40 1-28 1 4 1 24 1-9 1-17 1 3 1 22 1-33 1 55 1-3 1-64 1 12 1 38 1-8 1-27 1 7 1 13 1 3 1-30 1-9 1 44 1-57 1 88 1-17 1-35 1 31 1-89 1 50 1 36 1-5 1-65 1 68 1-32 1 35 1-37 1 8 1 16 1-16 1 22 1-1 1-24 1-2 1 23 1-2 1-20 1 23 1-26 1 25 1-39 1 46 1-79 1 80 1-47 1 51 1-60 1 20 1 41 1-33 1 51 1-28 1-23 1-2 1 33 1-15 1-16 1 2 1 23 1 3 1-36 1 5 1 30 1-30 1 28 1-31 1 38 1-55 1 49 1 8 1-51 1 54 1-97 1 92 1-52 1 21 1 73 1-77 1 26 1-26 1 30 1 4 1-44 1 57 1-42 1 34 1-44 1-19 1 47 1-39 1 45 1-9 1-24 1 26 1-24 1 52 1-61 1 42 1-29 1-5 1 29 1-23 1 16 1 3 1-205 1 428 1-354 1 268 1-214 1 23 1 99 1-81 1 63 1-51 1 88 1-62 1-17 1 20 1-26 1 28 1-25 1-2 1 38 1-49 1 46 1 11 1-49 1-14 1 49 1-36 1 24 1 25 1-68 1 49 1-36 1 16 1 24 1-2 1-44 1 9 1 38 1 8 1-39 1-3 1 32 1 1 1-32 1 24 1-47 1 67 1-50 1 38 1-29 1 27 1-40 1 32 1-14 1-11 1 33 1-24 1 14 1 22 1-37 1 16 1-19 1-14 1 31 1 1 1-10 1 9 1-176 1 395 1-354 1 287 1-244 1 20 1 176 1-157 1 123 1-24 1-92 1 10 1 81 1-27 1-58 1 53 1-39 1 6 1 30 1-24 1 23 1-6 1-19 1 3 1 12 1-27 1 30 1 0 1-21 1 5 1 16 1-20 1 16 1 1 1-11 1 17 1-31 1 27 1-13 1-1 1 21 1-23 1 31 1 31 1-75 1 11 1 57 1-30 1-27 1 1 1 19 1-18 1 15 1 2 1-19 1 20 1-17 1-3 1 20 1-13 1 10 1-24 1 28 1-16 1 12 1 11 1-34 1 9 1 30 1-11 1-32 1 13 1 13 1 10 1-23 1-3 1 17 1-3 1-12 1 4 1 9 1-7 1 7 1-10 1 16 1-6 1-11 1 13 1-12 1-1 1 13 1-9 1 11 1-5 1-34 1 38 1-14 1 3 1 10 1 31 1-42 1 3 1 8 1 5 1-13 1-6 1 12 1 4 1-19 1 16 1-10 1 8 1-7 1-2 1 14 1-2 1-9 1-1 1 15 1-6 1-11 1 9 1-16 1-8 1 27 1-8 1 21 1-12 1-12 1 18 1-25 1 32 1-25 1 20 1-20 1 10 1-14 1 0 1 23 1-23 1 16 1 3 1-20 1-1 1 15 1-28 1 28 1-7 1 11 1 0 1-18 1 32 1-26 1 15 1-16 1 13 1-16 1-1 1 14 1-16 1 18 1-15 1 12 1-10 1 13 1 2 1-21 1 17 1-11 1-3 1 34 1-20 1-13 1-13 1 26 1-1 1-6 1 6 1-16 1 4 1 13 1-1 1-20 1 14 1 13 1-15 1 19 1-24 1 14 1-10 1 14 1-18 1 17 1-16 1 34 1-35 1 21 1-25 1 19 1-14 1 14 1 6 1-17 1 20 1-19 1 21 1-34 1 53 1-66 1 41 1-27 1 2 1 23 1 0 1-23 1 19 1-32 1 40 1-15 1-9 1 24 1-20 1 15 1-12 1 22 1-5 1-23 1-62 1 132 1-101 1 81 1-10 1-55 1 5 1 34 1 5 1-52 1 50 1-22 1-1 1 17 1-3 1-17 1 3 1 13 1-18 1 25 1-9 1-13 1-7 1 20 1-15 1 21 1-2 1-12 1 14 1-14 1 10 1-10 1 1 1 6 1-7 1 8 1 0 1-206 1 84 1 241 1-54 1-131 1 24 1 76 1-57 1 38 1-7 1-24 1 19 1-17 1 19 1-17 1-5 1 63 1-43 1-20 1 1 1 22 1-27 1 21 1 2 1-17 1 15 1-14 1 18 1-15 1 14 1-13 1 16 1-23 1 5 1 19 1-4 1-22 1 30 1-25 1 13 1-9 1-1 1 36 1-39 1 17 1-2 1-25 1 32 1-21 1 28 1-28 1 5 1 14 1-20 1 18 1-11 1 6 1 0 1-7 1-3 1 11 1 2 1-14 1 14 1-11 1 26 1-38 1 28 1-19 1 1 1 69 1-53 1-23 1 2 1 29 1-34 1 19 1-40 1 52 1-2 1-21 1-13 1 29 1 8 1-21 1 8 1-17 1 31 1-34 1 35 1-36 1 5 1 21 1-33 1 31 1-11 1 16 1-21 1 21 1-3 1-43 1 30 1 15 1-16 1 18 1-15 1 7 1 2 1-12 1 4 1 12 1-3 1-16 1 15 1-8 1 5 1-16 1 2 1 18 1-16 1 32 1-28 1 21 1-23 1 13 1 0 1-20 1 26 1-62 1 41 1 27 1-22 1 25 1-8 1-28 1 20 1-32 1 47 1-39 1 29 1-14 1 17 1-20 1 14 1-12 1-2 1 14 1-155 1 239 1-16 1-162 1 23 1 105 1-91 1 85 1-11 1-54 1 6 1 48 1-44 1 32 1-3 1-21 1 31 1-25 1-2 1 12 1 28 1-38 1 1 1 13 1-1 1-18 1 3 1 43 1-32 1-14 1-12 1 27 1 3 1-15 1 20 1-27 1 23 1-11 1 9 1-12 1 9 1-7 1-1 1 10 1-12 1 10 1 1 1-10 1 19 1-24 1 15 1-14 1 28 1-25 1 27 1-36 1 5 1 18 1 56 1-79 1-10 1 34 1-17 1 22 1-1 1-27 1 45 1-43 1 1 1 25 1 5 1-159 1 26 1 235 1-213 1 173 1-139 1 109 1-96 1 122 1-115 1 63 1-43 1 31 1 7 1-31 1 36 1-45 1 34 1-21 1-18 1 45 1-41 1 47 1-6 1-31 1 5 1 28 1-9 1-30 1 33 1-21 1-11 1 32 1-1 1-74 1 18 1 47 1 8 1-23 1 20 1-20 1-1 1 20 1-28 1 30 1-2 1-20 1 16 1-10 1 22 1-21 1-1 1 11 1-29 1 49 1-37 1 38 1 8 1-49 1 24 1-21 1 24 1-20 1 12 1-11 1 1 1 13 1-1 1-21 1 20 1-18 1 19 1-14 1 15 1-18 1 18 1-35 1 38 1-16 1 2 1 9 1-14 1 13 1 4 1-19 1 3 1 13 1-12 1 17 1 6 1-23 1 4 1 17 1-21 1 11 1-19 1 19 1-2 1-5 1 4 1-4 1 10 1-14 1-3 1 20 1-17 1 19 1 3 1-23 1 19 1-27 1 9 1 20 1-18 1 11 1-24 1 32 1-10 1-36 1 47 1-22 1-4 1 34 1-33 1 21 1 18 1-42 1 5 1 17 1 17 1-38 1 17 1-127 1 27 1 164 1-22 1-87 1 13 1 44 1 4 1-33 1 5 1 12 1-1 1-13 1 13 1-9 1 0 1 8 1 1 1-7 1-4 1 11 1-1 1-15 1 6 1 12 1 7 1-21 1 13 1-12 1 10 1-9 1 14 1-27 1 11 1 12 1-11 1 17 1-14 1 7 1-9 1 27 1-43 1 26 1 1 1-10 1 8 1-15 1 5 1 9 1-6 1 9 1-11 1 12 1-10 1 7 1 5 1-13 1 12 1-13 1 2 1 6 1 1 1-5 1-123 1 221 1-22 1-143 1 29 1 77 1-62 1 53 1-53 1 35 1 3 1-21 1 19 1-17 1-10 1 25 1-19 1 28 1-24 1 8 1 3 1-12 1 22 1-27 1 20 1-16 1 3 1 21 1-41 1 30 1-24 1 23 1-15 1 27 1-26 1 23 1 3 1-26 1 1 1 15 1-13 1 10 1 3 1-18 1 4 1 18 1 3 1-20 1 0 1 12 1-16 1 13 1-12 1 19 1-4 1-16 1 14 1-11 1 3 1 8 1 1 1-11 1 4 1 6 1 2 1-9 1-2 1 9 1-1 1-5 1 6 1-11 1 4 1 6 1 2 1-10 1 11 1-11 1 17 1-20 1 16 1-20 1 3 1 39 1-40 1 17 1-14 1 23 1-20 1 9 1 0 1-9 1 0 1 28 1-18 1-25 1 14 1 16 1-17 1 23 1-19 1 6 1-11 1 14 1-31 1 29 1 0 1-15 1 16 1-12 1-187 1 362 1-266 1 191 1-158 1 117 1-17 1-81 1 79 1-58 1 43 1-30 1 6 1 38 1-40 1 34 1-38 1 25 1-24 1 28 1-6 1-20 1 18 1-19 1 16 1-9 1-5 1 15 1-1 1-10 1-4 1 13 1 6 1-20 1-15 1 41 1-9 1-13 1 25 1-51 1-8 1 48 1-1 1-14 1-29 1 43 1-15 1 22 1-22 1 21 1 9 1-34 1 2 1 16 1-20 1 25 1-8 1-165 1 272 1-193 1 133 1-96 1 84 1-65 1 44 1-33 1 62 1-78 1 43 1-21 1 62 1-62 1-1 1 14 1 2 1-15 1 5 1 10 1 1 1-16 1 16 1-20 1-13 1 59 1-18 1-26 1 21 1-39 1 40 1-18 1 15 1-16 1 2 1 16 1-4 1-12 1 1 1 13 1 5 1-21 1 16 1-16 1-7 1 25 1 1 1-26 1-115 1 222 1-22 1-151 1 135 1-110 1 17 1 68 1-5 1-51 1 46 1-41 1-3 1 31 1-17 1 20 1-15 1 15 1-37 1 34 1 2 1-13 1-21 1 33 1-12 1 12 1-15 1 11 1-6 1 7 1-12 1 18 1 12 1-25 1 8 1-15 1 2 1 15 1-13 1 11 1-12 1 9 1 6 1-14 1 10 1-12 1 13 1-11 1 2 1 9 1-1 1-12 1 12 1-6 1 14 1-20 1 12 1-9 1-3 1 27 1-23 1 13 1-6 1-12 1 1 1 25 1-23 1 12 1 3 1-13 1 14 1-19 1-9 1 34 1-29 1 34 1-6 1-23 1 4 1 23 1-26 1 15 1-13 1 9 1 3 1-13 1 18 1-23 1 28 1-28 1 16 1-17 1 19 1-23 1 10 1 17 1-24 1 24 1-6 1-12 1 3 1 15 1-21 1 17 1-16 1 10 1-11 1 17 1-16 1 20 1-83 1 80 1-18 1 22 1-19 1 15 1-5 1-28 1 20 1 41 1-27 1-35 1 25 1 0" fill="none" stroke="#0000ff" stroke-width="0.42" vector-effect="non-scaling-stroke"/>
<path d="M390.50 152.6v-2.9M390.50 92.5v2.9M438.33 152.6v-2.9M438.33 92.5v2.9M486.17 152.6v-2.9M486.17 92.5v2.9M534.00 152.6v-2.9M534.00 92.5v2.9M581.83 152.6v-2.9M581.83 92.5v2.9M629.67 152.6v-2.9M629.67 92.5v2.9M677.50 152.6v-2.9M677.50 92.5v2.9M390.5 152.60h2.9M677.5 152.60h-2.9M390.5 134.52h2.9M677.5 134.52h-2.9M390.5 116.45h2.9M677.5 116.45h-2.9M390.5 98.37h2.9M677.5 98.37h-2.9" fill="none" stroke="#747474" stroke-width="1"/>
<rect x="390.5" y="92.5" width="287.0" height="60.10" fill="none" stroke="#747474" stroke-width="1"/>
<text x="390.50" y="165.10" font-size="8.3" text-anchor="middle">0</text>
<text x="438.33" y="165.10" font-size="8.3" text-anchor="middle">20</text>
<text x="486.17" y="165.10" font-size="8.3" text-anchor="middle">40</text>
<text x="534.00" y="165.10" font-size="8.3" text-anchor="middle">60</text>
<text x="581.83" y="165.10" font-size="8.3" text-anchor="middle">80</text>
<text x="629.67" y="165.10" font-size="8.3" text-anchor="middle">100</text>
<text x="677.50" y="165.10" font-size="8.3" text-anchor="middle">120</text>
<text x="387.30" y="156.20" font-size="8.3" text-anchor="end">-4000</text>
<text x="387.30" y="138.12" font-size="8.3" text-anchor="end">-2000</text>
<text x="387.30" y="120.05" font-size="8.3" text-anchor="end">0</text>
<text x="387.30" y="101.97" font-size="8.3" text-anchor="end">2000</text>
<text transform="translate(361.10,122.55) rotate(-90)" font-size="9.3" text-anchor="middle">pitch (deg/s/s)</text>
<path transform="translate(390.75 0) scale(0.5 0.1)" d="M0 2015l1 0 1 0 1 0 1 0 1 0 1 0 1 0 1 0 1 0 1 0 1 0 1 0 1 0 1 0 1 0 1 0 1 0 1 0 1 0 1 0 1 0 1 0 1 0 1 0 1 0 1 0 1 0 1 0 1 0 1 0 1 0 1 0 1 0 1 0 1 0 1 0 1 0 1 0 1 0 1 0 1 0 1 0 1 0 1 0 1 0 1 0 1 0 1 0 1 0 1 0 1 0 1 0 1 0 1 0 1 0 1 0 1 0 1 0 1 0 1 0 1 0 1 0 1 0 1 0 1 0 1 0 1 0 1 0 1 0 1 0 1 0 1 0 1 0 1 0 1 0 1 0 1 0 1 0 1 0 1 0 1 0 1 0 1 0 1 0 1 0 1 0 1 0 1 0 1 0 1 0 1 0 1 0 1 0 1 0 1 0 1-1 1 1 1 0 1 0 1-1 1-2 1 2 1-1 1 2 1-4 1 3 1-1 1-3 1 2 1 2 1-7 1 5 1 1 1-3 1-3 1 5 1-7 1 4 1 1 1 0 1 1 1 1 1 2 1-1 1-3 1 0 1 3 1 0 1 2 1-1 1 0 1 0 1-2 1 0 1 1 1-2 1 1 1-4 1-2 1 5 1-24 1 21 1 1 1-2 1-1 1 7 1-3 1-2 1 4 1-2 1 3 1-1 1 1 1-5 1-1 1 2 1 1 1-2 1 4 1-4 1 1 1 2 1-2 1 0 1-2 1 1 1 6 1 0 1-3 1-4 1 4 1-2 1 4 1-3 1 2 1-2 1-2 1-2 1 1 1-3 1-4 1 9 1 2 1-1 1-7 1 2 1 6 1-2 1-5 1 6 1 1 1-3 1-35 1 12 1 20 1 2 1 4 1 0 1-7 1-83 1 67 1 19 1 4 1 0 1 0 1 1 1 0 1 0 1-4 1 5 1-3 1-5 1 2 1 2 1 5 1-4 1 3 1-2 1 1 1 1 1-2 1-6 1 5 1-1 1 2 1-7 1 2 1 2 1 3 1 0 1 2 1-2 1 1 1-1 1-5 1 7 1 1 1-4 1-1 1-2 1-133 1 45 1 66 1 24 1-1 1 4 1-2 1 3 1 0 1 1 1-3 1-11 1-47 1 21 1 27 1 9 1 0 1-1 1-1 1 3 1-72 1 63 1 9 1-2 1 3 1 0 1-7 1 2 1 4 1-2 1-78 1 34 1 35 1 11 1 5 1-4 1 0 1 0 1-2 1 1 1 1 1-3 1 3 1-46 1 33 1 12 1 3 1 0 1 0 1-3 1 2 1-2 1 0 1-2 1-6 1 7 1 4 1-2 1-2 1 0 1 3 1-3 1-1 1-3 1 6 1-1 1-5 1 7 1-2 1-5 1 8 1-1 1 0 1-2 1-25 1 21 1 7 1-3 1-2 1 0 1 3 1-3 1 1 1 3 1 1 1-1 1 0 1-3 1-1 1 0 1 1 1 4 1-1 1-2 1 3 1 0 1 2 1-1 1-4 1 0 1-37 1 23 1 10 1 0 1 4 1 3 1-1 1-1 1 1 1 1 1-1 1 1 1 0 1 1 1 0 1 0 1 0 1 0 1 0 1-1 1 1 1 0 1 0 1-1 1 1 1 0 1 0 1 0 1 0 1 0 1 0 1-1 1-2 1 3 1-1 1-2 1-1 1 2 1-3 1-7 1 6 1 5 1-2 1-3 1 2 1-1 1-8 1 8 1 1 1-1 1 3 1-2 1-4 1 4 1 2 1-2 1 3 1-2 1-2 1-4 1 1 1 1 1-2 1 8 1 0 1-7 1 3 1 0 1 2 1-1 1-1 1-3 1 0 1 3 1 2 1-1 1-1 1 4 1-1 1 1 1-45 1 35 1 0 1-1 1 6 1 2 1 2 1-11 1 8 1-6 1 3 1 6 1-1 1-6 1-3 1-2 1 13 1-8 1 2 1 4 1-4 1 5 1-3 1 1 1-1 1 3 1 2 1-4 1-4 1-3 1 8 1-28 1 8 1 18 1 1 1 4 1 0 1 0 1 0 1 0 1-1 1 1 1-1 1 1 1 0 1 0 1 0 1-1 1-4 1 4 1-3 1-1 1-1 1 0 1 4 1 0 1-5 1 0 1 2 1-3 1 2 1-2 1 4 1 1 1 2 1-2 1-4 1 1 1 2 1-5 1 4 1 0 1-2 1-2 1-6 1 13 1-3 1-2 1 1 1-2 1-7 1 4 1-3 1 2 1 6 1-2 1 4 1-11V2027l-1 0 -1-4 -1 2 -1 0 -1 2 -1 3 -1-3 -1 1 -1 6 -1-5 -1-4 -1 3 -1-2 -1 7 -1-3 -1-4 -1-4 -1 5 -1-2 -1 1 -1-1 -1-2 -1 0 -1 0 -1 5 -1 0 -1 4 -1-7 -1-3 -1 3 -1-1 -1-1 -1 1 -1 0 -1 1 -1 2 -1-3 -1 2 -1 2 -1-6 -1-2 -1 0 -1 0 -1 1 -1-1 -1 1 -1-1 -1 0 -1 1 -1 0 -1 0 -1 0 -1 1 -1 3 -1 5 -1 19 -1-22 -1-3 -1 3 -1 1 -1-5 -1 0 -1 0 -1 0 -1 1 -1 1 -1-2 -1 4 -1-5 -1 2 -1 1 -1 5 -1-6 -1 2 -1-4 -1 5 -1 0 -1 10 -1-11 -1 1 -1 5 -1-6 -1 3 -1-5 -1 5 -1 10 -1 28 -1-45 -1 2 -1-2 -1 1 -1 1 -1 0 -1-2 -1 3 -1-1 -1-1 -1 1 -1 1 -1-1 -1 1 -1-1 -1-3 -1 2 -1 6 -1 1 -1 3 -1-5 -1-2 -1 0 -1-1 -1-4 -1 7 -1-4 -1 6 -1-6 -1-2 -1 5 -1-2 -1 1 -1 0 -1-3 -1 1 -1 0 -1-1 -1 0 -1 0 -1 0 -1 3 -1-2 -1-2 -1-2 -1 3 -1-3 -1-1 -1 0 -1 1 -1 1 -1 0 -1 0 -1-1 -1 1 -1-1 -1 1 -1-1 -1 0 -1 1 -1-1 -1 0 -1 0 -1 1 -1-1 -1 0 -1 2 -1-2 -1 0 -1 2 -1 0 -1 4 -1-2 -1-3 -1-1 -1 1 -1 6 -1 5 -1 10 -1 19 -1-36 -1-2 -1-1 -1-1 -1 0 -1-1 -1 4 -1-2 -1-1 -1 2 -1 0 -1 4 -1-1 -1-2 -1-1 -1 0 -1 0 -1 1 -1 1 -1 7 -1-6 -1-3 -1 1 -1-1 -1 3 -1 26 -1-31 -1 1 -1 0 -1 0 -1 0 -1-1 -1 0 -1 5 -1-2 -1-4 -1 5 -1 4 -1-3 -1 0 -1 3 -1-1 -1-3 -1-3 -1 4 -1 4 -1-5 -1 1 -1 3 -1-7 -1 1 -1-3 -1 2 -1 0 -1 2 -1 19 -1 4 -1-17 -1-1 -1-6 -1 1 -1-1 -1-1 -1 5 -1-5 -1 3 -1-1 -1 17 -1 74 -1-63 -1-28 -1 2 -1-3 -1 2 -1-1 -1-1 -1 2 -1-2 -1 2 -1 37 -1-36 -1-1 -1-1 -1 4 -1 5 -1 5 -1 34 -1 35 -1-84 -1 1 -1 1 -1 0 -1-1 -1-1 -1 0 -1-1 -1 8 -1 6 -1 40 -1 47 -1-96 -1 2 -1-4 -1-4 -1 1 -1 2 -1 4 -1-2 -1-1 -1-1 -1-1 -1 1 -1 2 -1 0 -1 11 -1-11 -1-2 -1 3 -1-2 -1 0 -1 3 -1-3 -1 3 -1-6 -1 0 -1 7 -1-5 -1 6 -1-4 -1-1 -1 1 -1-3 -1 1 -1-2 -1 10 -1-8 -1-1 -1 2 -1 3 -1 22 -1 150 -1-172 -1-3 -1 1 -1-3 -1 6 -1 36 -1-19 -1-21 -1-2 -1 1 -1 2 -1 2 -1-3 -1-2 -1 8 -1-5 -1-4 -1 3 -1 5 -1 1 -1 1 -1-1 -1 1 -1-8 -1 2 -1-5 -1 2 -1 1 -1-1 -1 1 -1 0 -1-2 -1-1 -1 6 -1-3 -1 3 -1 0 -1-1 -1-2 -1-1 -1 2 -1 2 -1-3 -1 1 -1-3 -1 5 -1-3 -1-4 -1 5 -1 1 -1 4 -1-3 -1-2 -1-3 -1 7 -1 3 -1-5 -1 8 -1 2 -1-12 -1 5 -1-4 -1-2 -1-2 -1 2 -1-1 -1-1 -1-1 -1 1 -1-1 -1 0 -1 1 -1 5 -1-1 -1-3 -1-2 -1 0 -1 0 -1 1 -1 3 -1-2 -1 1 -1-3 -1 2 -1 2 -1-3 -1 4 -1-3 -1 1 -1-2 -1 1 -1 2 -1-1 -1-3 -1-1 -1 1 -1 1 -1 0 -1-2 -1 1 -1 0 -1-1 -1 0 -1 0 -1 0 -1 0 -1 0 -1 0 -1 0 -1 0 -1 0 -1 0 -1 0 -1 0 -1 0 -1 0 -1 0 -1 0 -1 0 -1 0 -1 0 -1 0 -1 0 -1 0 -1 0 -1 0 -1 0 -1 0 -1 0 -1 0 -1 0 -1 0 -1 0 -1 0 -1 0 -1 0 -1 0 -1 0 -1 0 -1 0 -1 0 -1 0 -1 0 -1 0 -1 0 -1 0 -1 0 -1 0 -1 0 -1 0 -1 0 -1 0 -1 0 -1 0 -1 0 -1 0 -1 0 -1 0 -1 0 -1 0 -1 0 -1 0 -1 0 -1 0 -1 0 -1 0 -1 0 -1 0 -1 0 -1 0 -1 0 -1 0 -1 0 -1 0 -1 0 -1 0 -1 0 -1 0 -1 0 -1 0 -1 0 -1 0 -1 0 -1 0 -1 0 -1 0 -1 0 -1 0 -1 0 -1 0 -1 0 -1 0 -1 0 -1 0 -1 0 -1 0 -1 0 -1 0 -1 0 -1 0z" fill="#0000ff"/>
<path transform="scale(0.08333333333333333 0.1)" d="M4686 2018l1 0 1 0 1 0 1 0 1 0 1 0 1 0 1 0 1 0 1 0 1 0 1 0 1 0 1 0 1 0 1 0 1 0 1 0 1 0 1 0 1 0 1 0 1 0 1 0 1 0 1 0 1 0 1 0 1 0 1 0 1 0 1 0 1 0 1 0 1 0 1 0 1 0 1 0 1 0 1 0 1 0 1 0 1 0 1 0 1 0 1 0 1 0 1 0 1 0 1 0 1 0 1 0 1 0 1 0 1 0 1 0 1 0 1 0 1 0 1 0 1 0 1 0 1 0 1 0 1 0 1 0 1 0 1 0 1 0 1 0 1 0 1 0 1 0 1 0 1 0 1 0 1 0 1 0 1 0 1 0 1 0 1 0 1 0 1 0 1 0 1 0 1 0 1 0 1 0 1 0 1 0 1 0 1 0 1 0 1 0 1 0 1 0 1 0 1 0 1 0 1 0 1 0 1 0 1 0 1 0 1 0 1 0 1 0 1 0 1 0 1 0 1 0 1 0 1 0 1 0 1 0 1 0 1 0 1 0 1 0 1 0 1 0 1 0 1 0 1 0 1 0 1 0 1 0 1 0 1 0 1 0 1 0 1 0 1 0 1 0 1 0 1 0 1 0 1 0 1 0 1 0 1 0 1 0 1 0 1 0 1 0 1 0 1 0 1 0 1 0 1 0 1 0 1 0 1 0 1 0 1 0 1 0 1 0 1 0 1 0 1 0 1 0 1 0 1 0 1 0 1 0 1 0 1 0 1 0 1 0 1 0 1 0 1 0 1 0 1 0 1 0 1 0 1 0 1 0 1 0 1 0 1 0 1 0 1 0 1 0 1 0 1 0 1 0 1 0 1 0 1 0 1 0 1 0 1 0 1 0 1 0 1 0 1 0 1 0 1 0 1 0 1 0 1 0 1 0 1 0 1 0 1 0 1 0 1 0 1 0 1 0 1 0 1 0 1 0 1 0 1 0 1 0 1 0 1 0 1 0 1 0 1 0 1 0 1 0 1 0 1 0 1 0 1 0 1 0 1 0 1 0 1 0 1 0 1 0 1 0 1 0 1 0 1 0 1 0 1 0 1 0 1 0 1 0 1 0 1 0 1 0 1 0 1 0 1 0 1 0 1 0 1 0 1 0 1 0 1 0 1 0 1 0 1 0 1 0 1 0 1 0 1 0 1 0 1 0 1 0 1 0 1 0 1 0 1 0 1 0 1 0 1 0 1 0 1 0 1 0 1 0 1 0 1 0 1 0 1 0 1 0 1 0 1 0 1 0 1 0 1 0 1 0 1 0 1 0 1 0 1 0 1 0 1 0 1 0 1 0 1 0 1 0 1 0 1 0 1 0 1 0 1 0 1 0 1 0 1 0 1 0 1 0 1 0 1 0 1 0 1 0 1 0 1 0 1 0 1 0 1 0 1 0 1 0 1 0 1 0 1 0 1 0 1 0 1 0 1 0 1 0 1 0 1 0 1 0 1 0 1 0 1 0 1 0 1 0 1 0 1 0 1 0 1 0 1 0 1 0 1 0 1 0 1 0 1 0 1 0 1 0 1 0 1 0 1 0 1 0 1 0 1 0 1 0 1 0 1 0 1 0 1 0 1 0 1 0 1 0 1 0 1 0 1 0 1 0 1 0 1 0 1 0 1 0 1 0 1 0 1 0 1 0 1 0 1 0 1 0 1 0 1 0 1 0 1 0 1 0 1 0 1 0 1 0 1 0 1 0 1 0 1 0 1 0 1 0 1 0 1 0 1 0 1 0 1 0 1 0 1 0 1 0 1 0 1 0 1 0 1 0 1 0 1 0 1 0 1 0 1 0 1 0 1 0 1 0 1 0 1 0 1 0 1 0 1 0 1 0 1 0 1 0 1 0 1 0 1 0 1 0 1 0 1 0 1 0 1 0 1 0 1 0 1 0 1 0 1 0 1 0 1 0 1 0 1 0 1 0 1 0 1 0 1 0 1 0 1 0 1 0 1 0 1 0 1 0 1 0 1 0 1 0 1 0 1 0 1 0 1 0 1 0 1 0 1 0 1 0 1 0 1 0 1 0 1 0 1 0 1 0 1 0 1 0 1 0 1 0 1 0 1 0 1 0 1 0 1 0 1 0 1 0 1 0 1 0 1 0 1 0 1 0 1 0 1 0 1 0 1 0 1 0 1 0 1 0 1 0 1 0 1 0 1 0 1 0 1 0 1 0 1 0 1 0 1 0 1 0 1 0 1 0 1 0 1 0 1 0 1 0 1 0 1 0 1 0 1 0 1 0 1 0 1 0 1 0 1 0 1 0 1 0 1 0 1 0 1 0 1 0 1 0 1 0 1 0 1 0 1 0 1 0 1 0 1 0 1 0 1 0 1 0 1 0 1 0 1 0 1 0 1 0 1 0 1 0 1 0 1 0 1 0 1 0 1 0 1 0 1 0 1 0 1 0 1 0 1 0 1 0 1 0 1 0 1 0 1 0 1 0 1 0 1 0 1 0 1 0 1 0 1 0 1 0 1 0 1 0 1 0 1 0 1 0 1 0 1 0 1 0 1 0 1 0 1 0 1 0 1 0 1 1 1-2 1 2 1-2 1 2 1-2 1 2 1-6 1-1 1 12 1-5 1-3 1 5 1-5 1 1 1 2 1-3 1 5 1-16 1 16 1-6 1 5 1-4 1 4 1-5 1 7 1 10 1-19 1 0 1 7 1-6 1 13 1-3 1-11 1 9 1-10 1 7 1-22 1 11 1 15 1-2 1-17 1 19 1-12 1 15 1-15 1 12 1-19 1 8 1 15 1-14 1 10 1-2 1-8 1 18 1-18 1 8 1-6 1-12 1 19 1-14 1 13 1 1 1-27 1 26 1-11 1-1 1 16 1-12 1 15 1-2 1-21 1 7 1 16 1-3 1-13 1-1 1 14 1-15 1 46 1-59 1 31 1-5 1-20 1 28 1-54 1 33 1 13 1-1 1-8 1 10 1-19 1 36 1-42 1 23 1-13 1 24 1-37 1 30 1-23 1 17 1-21 1 13 1 17 1-24 1 29 1-13 1-36 1 28 1 19 1-4 1-22 1 24 1-41 1 40 1-22 1 15 1-14 1-15 1 28 1-20 1 33 1-27 1 24 1-6 1-33 1 31 1-56 1 45 1 19 1-30 1 31 1-69 1 68 1-1 1-33 1 29 1-20 1 1 1 32 1-30 1 23 1-6 1-33 1 14 1 23 1-40 1 43 1-7 1-17 1 1 1 23 1-27 1 17 1-13 1 13 1 18 1-39 1 7 1 13 1 1 1-19 1 9 1 25 1-28 1 12 1-9 1 14 1-1 1-14 1 2 1 10 1 14 1-26 1 12 1-29 1 17 1 15 1 3 1-27 1 27 1-20 1-2 1 17 1-19 1 20 1-22 1 24 1-18 1 28 1-28 1 22 1-1 1-21 1 31 1-37 1 18 1-12 1 16 1-22 1 18 1-13 1 7 1 8 1-4 1-8 1-2 1 15 1-1 1-10 1-12 1 19 1 9 1-16 1 8 1-13 1 13 1-8 1-2 1 11 1 0 1-9 1 13 1-13 1-5 1 14 1 0 1-10 1-7 1 27 1-22 1 14 1-17 1 31 1-12 1-17 1-6 1 27 1-3 1-17 1 11 1-10 1 0 1 16 1-5 1-12 1-7 1 18 1 2 1-20 1 10 1 39 1-7 1-45 1 24 1-14 1 17 1-28 1 3 1 25 1 18 1-39 1 19 1-32 1 45 1-33 1 42 1-40 1 3 1 19 1-6 1-20 1 22 1-19 1 19 1-15 1 11 1-72 1 124 1-96 1 63 1-40 1 35 1-28 1-15 1 31 1 18 1-36 1 21 1-23 1 24 1-21 1-24 1 49 1 29 1-57 1-4 1 54 1-60 1 39 1-27 1 68 1-70 1 25 1-5 1-15 1 1 1 14 1-11 1 15 1-7 1-16 1 49 1-47 1-1 1 27 1-25 1 18 1 13 1-70 1 36 1 24 1 18 1-34 1 19 1-27 1-7 1 25 1-19 1 24 1 4 1-34 1-21 1 47 1-14 1 17 1-2 1-18 1 0 1 32 1-19 1-9 1 2 1 7 1 5 1-14 1 9 1-7 1 18 1-28 1 3 1 21 1-24 1 23 1-25 1 28 1-20 1 23 1 3 1-30 1 26 1-35 1 18 1 16 1-7 1-15 1-34 1 54 1-27 1 67 1-63 1 25 1-21 1 21 1 14 1-44 1-7 1 37 1-28 1 25 1-19 1 31 1-25 1 13 1-26 1 18 1-5 1 13 1 0 1-20 1 22 1-37 1 31 1-15 1-5 1 29 1-26 1 36 1-33 1 15 1-12 1 14 1 3 1-22 1-6 1 39 1-36 1 36 1-1 1-27 1-8 1 25 1-31 1 39 1-36 1 34 1-33 1 26 1-23 1 29 1-27 1 17 1 8 1-43 1 14 1 24 1-17 1 24 1-26 1 21 1-33 1 28 1-4 1-11 1 3 1 12 1 1 1-15 1 13 1-14 1-2 1 26 1-31 1 18 1 6 1-16 1 3 1 13 1 1 1-24 1 70 1-72 1 29 1-48 1 52 1-32 1 24 1-26 1 23 1-10 1 13 1-23 1 30 1-24 1 26 1-37 1 42 1-51 1 24 1 15 1-4 1-22 1 20 1-17 1 22 1-21 1 17 1-13 1 13 1-19 1 8 1 26 1-28 1 19 1 4 1-30 1 26 1-23 1 25 1-32 1 45 1-32 1 27 1-40 1-11 1 52 1-4 1-49 1 11 1 43 1 11 1-57 1 48 1-32 1-8 1 34 1-5 1-50 1 28 1 21 1-43 1 58 1-44 1 37 1-42 1 42 1-41 1 31 1 6 1-37 1 27 1-23 1 9 1 14 1 4 1-23 1 29 1-40 1 35 1-19 1 11 1-51 1 68 1-27 1 14 1-17 1-2 1 28 1-51 1 78 1-31 1-28 1 38 1-36 1-4 1 24 1-29 1 29 1-21 1 20 1 3 1-19 1-3 1 24 1 0 1-23 1 32 1-77 1 63 1-10 1-6 1 23 1-37 1 41 1-41 1 31 1-36 1 45 1-37 1 31 1-23 1 18 1-17 1 18 1 2 1-19 1 21 1-19 1 17 1-14 1 22 1-34 1 25 1-22 1 24 1-20 1 3 1 17 1 7 1-21 1-95 1 210 1-32 1-136 1 112 1-87 1 11 1 49 1-51 1 49 1-69 1 59 1-28 1 26 1-36 1 75 1-47 1-16 1-7 1 39 1-8 1-19 1 16 1-19 1 0 1 25 1-36 1 35 1-8 1-14 1 1 1 14 1-19 1 74 1-77 1 38 1-19 1-259 1 576 1-496 1 370 1-296 1 38 1 143 1-26 1-97 1 3 1 73 1-13 1-41 1 7 1 38 1-8 1-43 1 20 1 19 1-1 1-14 1 19 1-30 1-21 1 41 1-20 1 20 1 3 1-20 1 17 1-14 1 34 1-36 1 0 1 12 1-21 1 32 1-30 1 40 1-38 1 43 1-45 1 30 1-23 1 19 1-6 1-18 1 4 1 16 1 26 1-39 1-6 1 22 1-6 1-8 1-28 1 50 1-31 1 19 1 7 1-22 1 2 1 23 1-21 1 14 1-19 1 24 1-4 1-28 1 10 1 24 1-8 1-26 1 30 1-33 1 65 1-52 1-11 1 54 1-48 1 41 1-43 1 32 1-40 1 44 1-14 1-17 1 7 1 24 1-34 1 76 1-68 1 25 1-32 1 20 1-16 1 20 1-28 1 25 1-4 1-14 1-10 1 26 1 3 1-19 1 21 1-16 1-5 1 14 1-19 1 26 1-17 1 17 1 4 1-28 1-11 1 32 1 23 1-44 1 39 1-35 1 23 1-39 1 13 1 32 1-11 1-24 1-39 1 68 1-19 1 13 1-29 1 46 1-34 1 20 1-4 1-24 1 25 1-26 1 30 1-30 1 17 1 18 1-2 1-27 1-27 1 42 1 4 1-19 1 25 1-27 1 23 1-18 1-30 1 50 1-22 1 25 1-28 1 75 1-29 1-74 1 109 1-86 1 0 1 37 1-13 1-19 1 29 1-27 1 29 1-34 1 5 1 21 1-14 1 14 1 15 1-39 1 4 1 20 1-3 1-22 1 9 1 17 1 3 1-22 1 23 1-21 1 17 1-21 1-6 1 22 1-10 1 23 1-52 1 45 1-18 1 14 1 1 1-19 1-17 1 38 1-1 1-18 1 22 1-17 1-15 1 100 1-59 1-38 1 27 1-35 1 8 1 34 1-46 1 36 1-15 1 14 1 2 1-17 1 0 1 16 1-13 1 5 1-8 1 12 1-7 1 9 1-3 1-12 1 20 1-21 1 17 1-17 1 0 1 23 1-27 1 22 1-19 1 29 1-4 1-28 1-16 1 66 1-51 1 28 1-6 1-18 1 64 1-68 1-247 1 367 1 42 1-347 1 46 1 240 1-195 1 182 1-28 1-113 1 109 1-81 1 4 1 54 1-45 1 38 1 3 1-38 1 7 1 38 1-32 1 27 1-33 1 23 1 13 1-29 1-2 1 17 1 13 1-27 1-11 1 32 1-16 1 14 1 7 1-27 1 23 1-25 1 29 1-56 1 58 1-30 1-29 1 47 1 2 1-21 1 19 1-17 1-29 1 48 1-15 1 63 1-50 1-11 1 18 1-31 1 11 1 20 1-26 1 17 1 3 1-51 1 50 1-19 1 14 1-54 1 57 1-23 1 42 1-42 1 36 1-23 1-101 1 249 1-227 1 187 1-163 1 141 1-19 1-103 1 6 1 77 1-15 1-44 1-14 1 61 1-10 1-56 1 21 1 49 1-44 1 31 1-5 1-23 1 56 1-60 1 25 1-30 1 27 1-37 1 13 1 26 1-26 1 18 1 9 1-78 1 84 1-53 1 21 1 19 1-14 1 11 1-11 1 27 1-17 1-16 1-11 1 35 1-182 1 281 1-209 1 150 1-104 1 86 1-55 1 39 1-49 1 39 1-13 1 14 1-3 1-14 1 3 1 16 1-2 1-21 1 22 1-18 1 23 1-31 1 5 1 22 1-1 1-17 1-9 1 24 1-34 1 29 1 4 1-15 1-2 1 30 1-31 1 18 1 4 1-32 1 25 1-35 1 11 1 32 1-3 1-29 1 6 1 20 1-20 1 26 1 6 1-28 1 23 1-21 1 0 1 28 1-34 1 24 1-19 1 24 1-7 1-30 1 10 1 19 1-15 1 17 1-172 1 387 1-63 1-233 1 181 1-164 1 19 1 96 1-103 1 88 1-7 1-55 1-6 1 40 1-31 1 24 1 0 1-30 1 19 1 11 1-1 1-12 1 16 1-14 1 8 1-9 1-1 1 13 1-1 1-15 1 11 1-19 1 10 1 17 1-3 1-18 1-1 1 15 1-12 1 13 1-12 1 11 1-16 1 16 1 7 1-21 1 20 1-18 1-6 1 17 1 4 1-23 1-2 1 29 1-9 1-13 1 31 1-33 1 1 1 16 1-22 1 29 1 0 1-36 1 14 1 22 1-41 1 45 1-39 1 48 1 1 1-46 1 15 1 26 1-8 1-34 1 50 1-124 1 154 1-114 1 93 1-69 1 57 1-50 1 9 1 34 1-12 1-17 1 2 1 24 1-23 1 20 1-24 1 16 1-12 1 12 1-9 1 9 1-11 1 15 1-3 1-13 1 9 1-9 1 0 1 10 1 0 1-8 1-2 1 15 1-3 1-13 1 4 1 9 1-20 1 25 1 23 1-39 1-14 1 24 1 2 1-18 1 33 1-29 1-6 1 39 1-46 1 39 1 4 1-30 1 0 1 30 1-10 1-20 1-11 1 26 1-13 1 20 1-3 1-23 1 5 1 21 1-1 1-49 1 17 1 73 1-31 1-30 1 19 1-30 1 19 1-22 1 24 1-7 1 11 1-22 1 6 1 17 1-1 1-16 1 18 1-14 1 20 1-22 1 15 1-19 1 3 1 22 1-30 1 29 1 12 1-33 1-18 1 42 1-41 1 41 1-24 1 30 1-26 1 12 1-12 1 12 1 4 1-42 1 72 1-51 1-6 1 28 1-30 1 21 1-39 1 41 1 28 1-43 1-11 1 22 1-15 1 26 1-25 1 27 1-21 1 13 1-19 1 15 1 1 1-14 1 5 1 11 1 2 1-19 1-14 1 35 1 2 1-37 1 54 1-39 1-3 1 24 1-3 1-16 1 15 1-13 1 9 1-11 1-3 1 16 1 1 1-16 1 14 1-11 1-6 1 25 1-32 1 28 1 1 1-31 1 26 1-11 1 1 1 16 1 6 1-20 1 9 1-18 1 8 1 10 1 2 1-16 1 14 1-11 1-2 1 15 1 2 1-15 1-4 1 14 1 10 1-49 1 42 1-14 1-49 1 85 1 20 1-89 1 5 1 60 1-45 1 36 1-8 1-20 1 47 1-45 1 22 1-20 1 18 1-22 1 19 1-11 1-5 1 21 1-21 1 19 1-20 1 23 1-24 1 18 1 3 1-22 1 18 1-27 1 9 1 20 1 4 1-22 1 23 1-25 1 33 1-34 1 33 1-34 1 6 1 21 1-28 1 23 1-13 1 14 1-30 1 44 1-1 1-57 1 20 1 21 1 1 1-18 1 19 1-18 1 23 1-18 1 10 1-14 1 15 1-11 1 11 1-15 1 14 1-12 1 14 1-14 1 4 1 8 1-14 1 14 1-10 1 14 1-17 1 14 1 5 1-24 1 8 1 18 1-1 1-40 1 34 1-17 1 17 1-12 1 16 1-26 1 5 1 35 1-18 1-18 1 24 1-34 1 32 1-17 1-2 1 19 1-19 1 24 1-29 1 19 1 3 1-11 1-5 1 12 1 3 1-13 1 1 1 7 1-10 1 18 1-3 1-13 1-8 1 26 1 4 1-23 1-7 1 36 1-25 1 7 1-2 1-32 1 33 1-7 1-1 1 8 1 1 1-19 1 10 1 9 1-6 1 3 1 3 1-9 1 12 1-10 1 0 1 14 1-18 1 14 1-2 1-11 1 1 1 13 1-3 1-14 1-39 1 60 1-2 1-20 1 7 1 22 1-29 1 16 1-16 1 24 1-97 1 164 1 2 1-136 1 13 1 76 1-15 1-40 1-2 1 43 1-49 1 51 1-37 1 24 1-26 1 59 1-9 1-58 1 32 1-48 1 28 1 25 1-10 1-13 1-1 1 19 1-3 1-12 1 1 1 8 1-7 1 8 1-2 1-7 1 9 1-6 1 6 1-12 1 0 1 11 1-7 1 14 1-5 1-15 1 20 1-32 1 15 1 18 1-19 1 18 1 1 1-19 1 18 1-15 1-3 1 9 1 12 1-23 1 18 1-13 1 9 1-17 1 1 1 21 1-7 1-9 1 14 1-12 1 1 1 12 1-4 1-9 1 7 1-5 1 0 1 6 1 1 1-28 1 43 1-22 1 9 1-14 1 13 1-9 1 6 1-4 1-1 1 4 1 6 1-12 1 11 1-24 1 16 1 4 1 0 1-4 1 6 1-6 1 3 1-4 1 4 1-3 1 11 1-12 1 9 1-12 1 10 1-6 1-1 1 12 1-17 1 10 1-13 1 23 1-11 1-5 1 7 1-8 1 6 1-3 1-1 1 7 1-2 1-4 1 4 1-7 1 9 1-7 1 6 1-5 1 5 1-11 1 10 1-6 1-3 1 9 1-13 1 15 1 1 1-8 1-2 1 10 1-8 1 6 1-6 1 3 1 2 1-6 1 2 1 3 1 1 1-3 1-1 1 5 1-5 1 4 1-4 1 9 1-6 1-6 1 1 1 9 1-7 1 5 1-8 1 8 1-10 1 9 1 1 1-10 1 5 1 6 1-1 1-10 1 1 1 9 1-6 1 7 1-8 1 6 1 0 1-10 1 10 1-5 1 1 1 6 1-9 1 8 1-8 1 5 1-9 1 11 1 0 1-6 1 7 1-9 1 10 1-6 1 4 1-5 1 6 1-8 1 2 1 17 1-19 1 12 1-12 1 7 1-8 1 11 1-14 1 12 1 4 1-16 1 0 1 15 1-15 1 14 1-31 1 35 1-20 1 22 1-16 1 19 1 6 1-32 1 6 1 15 1-1 1-18 1-5 1 77 1-84 1 32 1-2 1-26 1 9 1 17 1 18 1-62 1 31 1 8 1 32 1-48 1 7 1 8 1 12 1-18 1 0 1 11 1 4 1-18 1 2 1 10 1-16 1 16 1-22 1 25 1-39 1 52 1-44 1 29 1 16 1-35 1 23 1-21 1-2 1 26 1-22 1 17 1-3 1-13 1-12 1 29 1-29 1 31 1-42 1 53 1-15 1-23 1 34 1-31 1-2 1 36 1-33 1 27 1-4 1-26 1 10 1 24 1-13 1-18 1 0 1 20 1-20 1 51 1-71 1 49 1-7 1-18 1 13 1-17 1 3 1 13 1-10 1 15 1 0 1-35 1 19 1 13 1-18 1 17 1 9 1-28 1-26 1 68 1-17 1-24 1 21 1-16 1 15 1-15 1 22 1-22 1 30 1-54 1 27 1 23 1-47 1 37 1-28 1 23 1 2 1-16 1 5 1 21 1-10 1-20 1 11 1 14 1-19 1 17 1-13 1 25 1-10 1-24 1 30 1-26 1 15 1-14 1-13 1 31 1 28 1-59 1 12 1 20 1 16 1-46 1 46 1-47 1-9 1 45 1-32 1 38 1 14 1-44 1 25 1-34 1-45 1 75 1 4 1-34 1 5 1 24 1 13 1-48 1 37 1-21 1 4 1 9 1-9 1 9 1-15 1 13 1-7 1 9 1-14 1 21 1-25 1 23 1-26 1 22 1 3 1-20 1 1 1 21 1-6 1-22 1 27 1-21 1 2 1 33 1 19 1-80 1 48 1-14 1-13 1 39 1-16 1-17 1-1 1 23 1-19 1 14 1-15 1 13 1 7 1-20 1 13 1-17 1 22 1-25 1-4 1 32 1-28 1 31 1-1 1-26 1 16 1-25 1 6 1 26 1-5 1-21 1 29 1-34 1 23 1-22 1 30 1-26 1 8 1 12 1-21 1 25 1-4 1-12 1 0 1 15 1-25 1 22 1-20 1 25 1-20 1 23 1-28 1 25 1-6 1-17 1 29 1-25 1 1 1 16 1-13 1 17 1-30 1 21 1 5 1-14 1-1 1 21 1-8 1-37 1 26 1 8 1-11 1 11 1 9 1-22 1 12 1-20 1-97 1 221 1-172 1 114 1-76 1 62 1-10 1-37 1 24 1-26 1 72 1-91 1 16 1 34 1-26 1 21 1-50 1 106 1-91 1 29 1-26 1 29 1-26 1 38 1-9 1-21 1-11 1 38 1-28 1 22 1-3 1-20 1 29 1-33 1 36 1-29 1 89 1-86 1 11 1-32 1 38 1-31 1-20 1 50 1 0 1-27 1 28 1-23 1 3 1 18 1-22 1 25 1 9 1-49 1 15 1 36 1-96 1 110 1-26 1-24 1 21 1-26 1 5 1 28 1-8 1-23 1 7 1 25 1-26 1 18 1 13 1-30 1-6 1 23 1-19 1 13 1 5 1-36 1 14 1 61 1-38 1-24 1 3 1 21 1-26 1 30 1-34 1 61 1-17 1-40 1 28 1-44 1 45 1-31 1 16 1 23 1-16 1-20 1 3 1 23 1-4 1-53 1 35 1 29 1-53 1 53 1 3 1-54 1 38 1-14 1 19 1-26 1 24 1-15 1 0 1 24 1-7 1-19 1 23 1-52 1 45 1-23 1 3 1 38 1-28 1 9 1-15 1 28 1-6 1-21 1 21 1-20 1 0 1 14 1-17 1 17 1-20 1 19 1 16 1-30 1 31 1-31 1 1 1 13 1-24 1 38 1-29 1 15 1-10 1 16 1-17 1 9 1 3 1-14 1 16 1-16 1 13 1-9 1 16 1-15 1-5 1 16 1 12 1-31 1-7 1 40 1-45 1 47 1-42 1 36 1-9 1-32 1-4 1 36 1 1 1-36 1 16 1 18 1 0 1-25 1 33 1-35 1 3 1 29 1-13 1-10 1-58 1 118 1 12 1-112 1 74 1-61 1 48 1-37 1 35 1-21 1 2 1 18 1-21 1 21 1-15 1 30 1-40 1 21 1 4 1-17 1 13 1-11 1 13 1-13 1 4 1 7 1-9 1 8 1-12 1 13 1-8 1 9 1-7 1 4 1-8 1 10 1 3 1-8 1-14 1 17 1-4 1 7 1-3 1-8 1 3 1 6 1 0 1-5 1-1 1 4 1 0 1-11 1 4 1 7 1-9 1 9 1 2 1-8 1 2 1 7 1-9 1 10 1-2 1-8 1 7 1-6 1 1 1 5 1-7 1 6 1 1 1-5 1 6 1-12 1 14 1-8 1 0 1 4 1 1 1-4 1 0 1 4 1-4 1 6 1-13 1 12 1-1 1-5 1 8 1-15 1-10 1 22 1-4 1 6 1 5 1-15 1-9 1 20 1-9 1 26 1-31 1 31 1-9 1-24 1 34 1-35 1 43 1-40 1 5 1 41 1-43 1 14 1 9 1-24 1-2 1 17 1-2 1-16 1 19 1-49 1 60 1-28 1-7 1 20 1-17 1 23 1 12 1-55 1 48 1-33 1 23 1-20 1 22 1-25 1 23 1-20 1 24 1-25 1-22 1 44 1 9 1-30 1 19 1-12 1 2 1 11 1-1 1-14 1 27 1-27 1 29 1-32 1 30 1-31 1 30 1-23 1 13 1-22 1 24 1-21 1 16 1-12 1-7 1 21 1-25 1 29 1-21 1 28 1-36 1 29 1-23 1 19 1-29 1 58 1-48 1 24 1 12 1-38 1 36 1-46 1-8 1 56 1-8 1-21 1-8 1 28 1-24 1 31 1-10 1-18 1-26 1 40 1-2 1-12 1-2 1 15 1-12 1 16 1-7 1-16 1 28 1-18 1-9 1 22 1-18 1 13 1-14 1 17 1-3 1-22 1 30 1-38 1 35 1-25 1 6 1 32 1-16 1-24 1 5 1 38 1-18 1-15 1 14 1-16 1 17 1-18 1-6 1 49 1-15 1-35 1-4 1 35 1-11 1-26 1 28 1-19 1 4 1 18 1-30 1 31 1 4 1-26 1-7 1 36 1 4 1-46 1 10 1 46 1-37 1 15 1 9 1-31 1 42 1-55 1 50 1-39 1-82 1 108 1-51 1 59 1 50 1-86 1 13 1 46 1-54 1 23 1 5 1-45 1 35 1-19 1 3 1 21 1-42 1 40 1 24 1-54 1 45 1-64 1 58 1-27 1-4 1 33 1-3 1-27 1-7 1 41 1-11 1-24 1-11 1 35 1 13 1-60 1 53 1-61 1 52 1-50 1 23 1 77 1-79 1 32 1 6 1-33 1 33 1-32 1-19 1 55 1-106 1 105 1-39 1 27 1-28 1 31 1 1 1-31 1-11 1 42 1-21 1 26 1-13 1-20 1 23 1-52 1 28 1 23 1-22 1 28 1-47 1 43 1-14 1 14 1-17 1 25 1-36 1 31 1-116 1 132 1-12 1-80 1 56 1 0" fill="none" stroke="#0000ff" stroke-width="0.42" vector-effect="non-scaling-stroke"/>
<path d="M390.50 235.5v-2.9M390.50 175.6v2.9M438.33 235.5v-2.9M438.33 175.6v2.9M486.17 235.5v-2.9M486.17 175.6v2.9M534.00 235.5v-2.9M534.00 175.6v2.9M581.83 235.5v-2.9M581.83 175.6v2.9M629.67 235.5v-2.9M629.67 175.6v2.9M677.50 235.5v-2.9M677.50 175.6v2.9M390.5 235.50h2.9M677.5 235.50h-2.9M390.5 218.63h2.9M677.5 218.63h-2.9M390.5 201.75h2.9M677.5 201.75h-2.9M390.5 184.88h2.9M677.5 184.88h-2.9" fill="none" stroke="#747474" stroke-width="1"/>
<rect x="390.5" y="175.6" width="287.0" height="59.90" fill="none" stroke="#747474" stroke-width="1"/>
<text x="390.50" y="248.00" font-size="8.3" text-anchor="middle">0</text>
<text x="438.33" y="248.00" font-size="8.3" text-anchor="middle">20</text>
<text x="486.17" y="248.00" font-size="8.3" text-anchor="middle">40</text>
<text x="534.00" y="248.00" font-size="8.3" text-anchor="middle">60</text>
<text x="581.83" y="248.00" font-size="8.3" text-anchor="middle">80</text>
<text x="629.67" y="248.00" font-size="8.3" text-anchor="middle">100</text>
<text x="677.50" y="248.00" font-size="8.3" text-anchor="middle">120</text>
<text x="387.30" y="239.10" font-size="8.3" text-anchor="end">-4000</text>
<text x="387.30" y="222.23" font-size="8.3" text-anchor="end">-2000</text>
<text x="387.30" y="205.35" font-size="8.3" text-anchor="end">0</text>
<text x="387.30" y="188.48" font-size="8.3" text-anchor="end">2000</text>
<text transform="translate(361.60,206.05) rotate(-90)" font-size="9.3" text-anchor="middle">roll (deg/s/s)</text>
<text x="534.00" y="260.10" font-size="9" text-anchor="middle">time (s)</text>
<path transform="translate(36.75 0) scale(0.5 0.1)" d="M0 3303l1 0 1 0 1 0 1 0 1 0 1 0 1 0 1 0 1 0 1 0 1 0 1 0 1 0 1 0 1 0 1 0 1 0 1 0 1 0 1 0 1 0 1 0 1 0 1 0 1 0 1 0 1 0 1 0 1 0 1 0 1 0 1 0 1 0 1 0 1 0 1 0 1 0 1 0 1 0 1 0 1 0 1 0 1 0 1 0 1 0 1 0 1 0 1 0 1 0 1 0 1 0 1 0 1 0 1 0 1 0 1 0 1 0 1 0 1 0 1 0 1 0 1 0 1 0 1 0 1 0 1 0 1 0 1 0 1 0 1 0 1 0 1 0 1 0 1 0 1 0 1 0 1 0 1 0 1 0 1 0 1 0 1 0 1 0 1 0 1 0 1 0 1 0 1 0 1 0 1 0 1 0 1 0 1-1 1-3 1 4 1-3 1 2 1-5 1 1 1-1 1-7 1-28 1 34 1-6 1-12 1 24 1-52 1 14 1 7 1 17 1 4 1 3 1-22 1 25 1 2 1-6 1-10 1-158 1 148 1-28 1 49 1-32 1 39 1-21 1 9 1 8 1-7 1-13 1 1 1 5 1 11 1-26 1 26 1-28 1 34 1-2 1 3 1 0 1-20 1 6 1 2 1 10 1 3 1-14 1-10 1 18 1-2 1-7 1 16 1-11 1 3 1 8 1-22 1 19 1-19 1-11 1 25 1 1 1-7 1-5 1 12 1-14 1 0 1 16 1-5 1-14 1 12 1 1 1-4 1 14 1-9 1 0 1-2 1-1 1-16 1-11 1 31 1-1 1-1 1-2 1 2 1 13 1-29 1 17 1 0 1 0 1 9 1-16 1 6 1 10 1-38 1 21 1-10 1 25 1-49 1 39 1 9 1-54 1 55 1-13 1 24 1-51 1 31 1 1 1-5 1-38 1 33 1-30 1 37 1 11 1-38 1 28 1-15 1 24 1-91 1 53 1 37 1 2 1-5 1-5 1-8 1 12 1-27 1 31 1-22 1 14 1-5 1 12 1-143 1 121 1-8 1 30 1-23 1 22 1 5 1-38 1 31 1-31 1 37 1-28 1 25 1 0 1-39 1 33 1-6 1 2 1-33 1 42 1-37 1 20 1 11 1 3 1-6 1 5 1-19 1 28 1-51 1 48 1-77 1 66 1-18 1 26 1-20 1-3 1 28 1-30 1 9 1 3 1-6 1 8 1 15 1-107 1 58 1 6 1 20 1 7 1-7 1 19 1-53 1 54 1-68 1 61 1-11 1 3 1 11 1-48 1 38 1 24 1-54 1 34 1 3 1-4 1 10 1-53 1 38 1 7 1-9 1 14 1 0 1-33 1 42 1-15 1-1 1-14 1 27 1-31 1 28 1-5 1 2 1-51 1 11 1 30 1 3 1-25 1 19 1-41 1 11 1 28 1 22 1-15 1-4 1 14 1-31 1 30 1-46 1 46 1 5 1-4 1 2 1-31 1 30 1-4 1 0 1 6 1-22 1 22 1-7 1 10 1-45 1 39 1-13 1 14 1-11 1-3 1 12 1-4 1 9 1-35 1 34 1-18 1 9 1 15 1-4 1-35 1 0 1 32 1-1 1-2 1 3 1-14 1 21 1-39 1 36 1-17 1 21 1-38 1 34 1-19 1 13 1-16 1 18 1-10 1 9 1 5 1-4 1 2 1 8 1-27 1-2 1 25 1-4 1-16 1 12 1-14 1 9 1-4 1 2 1-13 1 16 1-4 1 0 1 14 1-12 1 13 1-14 1-7 1 16 1-6 1-11 1 22 1-4 1-3 1-7 1-10 1 8 1 11 1-7 1-8 1 11 1-16 1 32 1-19 1-2 1 3 1-9 1 19 1-9 1 10 1-17 1 15 1-26 1 27 1-21 1 18 1-2 1-8 1 10 1 10 1-19 1 4 1 3 1-8 1 6 1-16 1-2 1 8 1 6 1-16 1 21 1-19 1 13 1 6 1-1 1-22 1 14 1 7 1-8 1-4 1 12 1-26 1 34 1-5 1-22 1 19 1-2 1-7 1 11 1-12 1 4 1 7 1 1 1-26 1 27 1-46 1 47 1-19 1 15 1 1 1-10 1-2 1-7 1 31 1-20 1 3 1-11 1 16 1-19 1 16 1-32 1 24 1-3 1 15 1-2 1 2 1-17 1-9 1 24 1-2 1-6 1-16 1 40 1-17 1-5 1-8 1 15 1-3 1-15 1 25 1-10 1 7 1-46 1 20 1-13 1 46 1-13 1-4 1 2 1-40V3362l-1-48 -1-1 -1 6 -1-2 -1-8 -1-3 -1 11 -1 8 -1-21 -1 39 -1-14 -1-18 -1 20 -1-24 -1 4 -1 25 -1-15 -1 20 -1-22 -1-9 -1-3 -1 12 -1 22 -1-34 -1 28 -1-23 -1 2 -1-6 -1 75 -1-78 -1-8 -1 12 -1 2 -1 8 -1-11 -1 5 -1 17 -1-5 -1-18 -1 13 -1-11 -1 14 -1-3 -1-17 -1 0 -1 20 -1-18 -1 2 -1 12 -1 14 -1-19 -1-4 -1 1 -1-2 -1 13 -1-9 -1-3 -1 7 -1 7 -1-9 -1 7 -1-8 -1-13 -1 23 -1-6 -1-6 -1 7 -1 3 -1-10 -1 12 -1-9 -1 2 -1-13 -1 4 -1 8 -1-3 -1-4 -1 10 -1-2 -1 1 -1-4 -1-5 -1 3 -1-9 -1 19 -1-9 -1 0 -1 5 -1-7 -1-2 -1-4 -1 11 -1-1 -1-3 -1 8 -1 10 -1-6 -1-6 -1 6 -1-15 -1 3 -1 6 -1 1 -1-12 -1 6 -1 0 -1 0 -1 0 -1 5 -1-3 -1-2 -1-4 -1 2 -1 7 -1-11 -1 13 -1-2 -1 0 -1-9 -1 18 -1-11 -1 0 -1-13 -1 9 -1 0 -1 5 -1 4 -1-4 -1 11 -1-7 -1-8 -1 7 -1-11 -1 4 -1-4 -1 11 -1-4 -1-7 -1 4 -1 12 -1-12 -1 17 -1-14 -1-4 -1-3 -1 18 -1-13 -1-3 -1-4 -1 5 -1-1 -1 2 -1 18 -1-20 -1-1 -1 10 -1-13 -1 1 -1 4 -1 7 -1-5 -1 10 -1-13 -1 7 -1-4 -1-6 -1 8 -1 0 -1 7 -1-10 -1 7 -1 1 -1-13 -1 15 -1-20 -1 8 -1 4 -1 9 -1-12 -1 8 -1-10 -1 5 -1 6 -1 9 -1-20 -1 6 -1-3 -1-5 -1 5 -1 9 -1-6 -1-24 -1 18 -1 38 -1 1 -1-38 -1 13 -1-3 -1 3 -1-13 -1 10 -1-4 -1 1 -1-15 -1 11 -1 27 -1-31 -1 6 -1 4 -1-9 -1 6 -1-7 -1 7 -1 5 -1-14 -1 13 -1 7 -1-21 -1 16 -1-2 -1-15 -1 14 -1-5 -1 31 -1-44 -1 16 -1 8 -1-14 -1 15 -1-20 -1-1 -1 4 -1 11 -1-9 -1 42 -1-17 -1-28 -1 24 -1-4 -1-8 -1-1 -1 7 -1 4 -1-15 -1-12 -1 6 -1 17 -1-17 -1 11 -1-8 -1 15 -1-7 -1-2 -1-16 -1 9 -1 13 -1-9 -1-13 -1 19 -1-4 -1-1 -1 0 -1-4 -1-8 -1 10 -1-10 -1 1 -1 10 -1-4 -1 0 -1 1 -1 5 -1-2 -1 3 -1 7 -1-15 -1 6 -1-2 -1 5 -1-14 -1 12 -1-8 -1 14 -1-10 -1 4 -1 14 -1-16 -1 8 -1-18 -1 8 -1 6 -1 27 -1 20 -1-51 -1-9 -1 6 -1 31 -1-31 -1-1 -1 2 -1-9 -1 38 -1-27 -1 4 -1-10 -1-3 -1 15 -1 8 -1-5 -1-6 -1-6 -1 0 -1 19 -1-19 -1 9 -1-10 -1 3 -1-2 -1-4 -1 34 -1-29 -1 14 -1-14 -1-7 -1 1 -1 12 -1-3 -1-14 -1 27 -1-16 -1 2 -1-12 -1 36 -1-28 -1 15 -1-21 -1 21 -1-8 -1-14 -1 3 -1 0 -1 3 -1-1 -1 3 -1 1 -1-6 -1-2 -1 5 -1 0 -1 1 -1-4 -1 0 -1 21 -1-18 -1 2 -1-1 -1 8 -1 5 -1-2 -1-16 -1 4 -1 15 -1 15 -1-26 -1 6 -1-8 -1-7 -1 9 -1 12 -1-18 -1 2 -1 8 -1 5 -1-13 -1 1 -1 7 -1-3 -1 4 -1-10 -1 6 -1-7 -1 11 -1 0 -1-11 -1 9 -1-5 -1-3 -1 15 -1 11 -1 4 -1-29 -1 1 -1 1 -1-2 -1 21 -1-16 -1-2 -1 5 -1 19 -1-3 -1-34 -1 12 -1 5 -1-7 -1 7 -1 1 -1-11 -1 0 -1 15 -1-16 -1 2 -1 0 -1 0 -1-3 -1-1 -1 0 -1 0 -1 0 -1 0 -1 0 -1 0 -1 0 -1 0 -1 0 -1 0 -1 0 -1 0 -1 0 -1 0 -1 0 -1 0 -1 0 -1 0 -1 0 -1 0 -1 0 -1 0 -1 0 -1 0 -1 0 -1 0 -1 0 -1 0 -1 0 -1 0 -1 0 -1 0 -1 0 -1 0 -1 0 -1 0 -1 0 -1 0 -1 0 -1 0 -1 0 -1 0 -1 0 -1 0 -1 0 -1 0 -1 0 -1 0 -1 0 -1 0 -1 0 -1 0 -1 0 -1 0 -1 0 -1 0 -1 0 -1 0 -1 0 -1 0 -1 0 -1 0 -1 0 -1 0 -1 0 -1 0 -1 0 -1 0 -1 0 -1 0 -1 0 -1 0 -1 0 -1 0 -1 0 -1 0 -1 0 -1 0 -1 0 -1 0 -1 0 -1 0 -1 0 -1 0 -1 0 -1 0 -1 0 -1 0 -1 0 -1 0 -1 0 -1 0 -1 0z" fill="#0000ff"/>
<path transform="scale(0.08333333333333333 0.1)" d="M438 3304l1 0 1 0 1 0 1 0 1 0 1 0 1 0 1 0 1 0 1 0 1 0 1 0 1 0 1 0 1 0 1 0 1 0 1 0 1 0 1 0 1 0 1 0 1 0 1 0 1 0 1 0 1 0 1 0 1 0 1 0 1 0 1 0 1 0 1 0 1 0 1 0 1 0 1 0 1 0 1 0 1 0 1 0 1 0 1 0 1 0 1 0 1 0 1 0 1 0 1 0 1 0 1 0 1 0 1 0 1 0 1 0 1 0 1 0 1 0 1 0 1 0 1 0 1 0 1 0 1 0 1 0 1 0 1 0 1 0 1 0 1 0 1 0 1 0 1 0 1 0 1 0 1 0 1 0 1 0 1 0 1 0 1 0 1 0 1 0 1 0 1 0 1 0 1 0 1 0 1 0 1 0 1 0 1 0 1 0 1 0 1 0 1 0 1 0 1 0 1 0 1 0 1 0 1 0 1 0 1 0 1 0 1 0 1 0 1 0 1 0 1 0 1 0 1 0 1 0 1 0 1 0 1 0 1 0 1 0 1 0 1 0 1 0 1 0 1 0 1 0 1 0 1 0 1 0 1 0 1 0 1 0 1 0 1 0 1 0 1 0 1 0 1 0 1 0 1 0 1 0 1 0 1 0 1 0 1 0 1 0 1 0 1 0 1 0 1 0 1 0 1 0 1 0 1 0 1 0 1 0 1 0 1 0 1 0 1 0 1 0 1 0 1 0 1 0 1 0 1 0 1 0 1 0 1 0 1 0 1 0 1 0 1 0 1 0 1 0 1 0 1 0 1 0 1 0 1 0 1 0 1 0 1 0 1 0 1 0 1 0 1 0 1 0 1 0 1 0 1 0 1 0 1 0 1 0 1 0 1 0 1 0 1 0 1 0 1 0 1 0 1 0 1 0 1 0 1 0 1 0 1 0 1 0 1 0 1 0 1 0 1 0 1 0 1 0 1 0 1 0 1 0 1 0 1 0 1 0 1 0 1 0 1 0 1 0 1 0 1 0 1 0 1 0 1 0 1 0 1 0 1 0 1 0 1 0 1 0 1 0 1 0 1 0 1 0 1 0 1 0 1 0 1 0 1 0 1 0 1 0 1 0 1 0 1 0 1 0 1 0 1 0 1 0 1 0 1 0 1 0 1 0 1 0 1 0 1 0 1 0 1 0 1 0 1 0 1 0 1 0 1 0 1 0 1 0 1 0 1 0 1 0 1 0 1 0 1 0 1 0 1 0 1 0 1 0 1 0 1 0 1 0 1 0 1 0 1 0 1 0 1 0 1 0 1 0 1 0 1 0 1 0 1 0 1 0 1 0 1 0 1 0 1 0 1 0 1 0 1 0 1 0 1 0 1 0 1 0 1 0 1 0 1 0 1 0 1 0 1 0 1 0 1 0 1 0 1 0 1 0 1 0 1 0 1 0 1 0 1 0 1 0 1 0 1 0 1 0 1 0 1 0 1 0 1 0 1 0 1 0 1 0 1 0 1 0 1 0 1 0 1 0 1 0 1 0 1 0 1 0 1 0 1 0 1 0 1 0 1 0 1 0 1 0 1 0 1 0 1 0 1 0 1 0 1 0 1 0 1 0 1 0 1 0 1 0 1 0 1 0 1 0 1 0 1 0 1 0 1 0 1 0 1 0 1 0 1 0 1 0 1 0 1 0 1 0 1 0 1 0 1 0 1 0 1 0 1 0 1 0 1 0 1 0 1 0 1 0 1 0 1 0 1 0 1 0 1 0 1 0 1 0 1 0 1 0 1 0 1 0 1 0 1 0 1 0 1 0 1 0 1 0 1 0 1 0 1 0 1 0 1 0 1 0 1 0 1 0 1 0 1 0 1 0 1 0 1 0 1 0 1 0 1 0 1 0 1 0 1 0 1 0 1 0 1 0 1 0 1 0 1 0 1 0 1 0 1 0 1 0 1 0 1 0 1 0 1 0 1 0 1 0 1 0 1 0 1 0 1 0 1 0 1 0 1 0 1 0 1 0 1 0 1 0 1 0 1 0 1 0 1 0 1 0 1 0 1 0 1 0 1 0 1 0 1 0 1 0 1 0 1 0 1 0 1 0 1 0 1 0 1 0 1 0 1 0 1 0 1 0 1 0 1 0 1 0 1 0 1 0 1 0 1 0 1 0 1 0 1 0 1 0 1 0 1 0 1 0 1 0 1 0 1 0 1 0 1 0 1 0 1 0 1 0 1 0 1 0 1 0 1 0 1 0 1 0 1 0 1 0 1 0 1 0 1 0 1 0 1 0 1 0 1 0 1 0 1 0 1 0 1 0 1 0 1 0 1 0 1 0 1 0 1 0 1 0 1 0 1 0 1 0 1 0 1 0 1 0 1 0 1 0 1 0 1 0 1 0 1 0 1 0 1 0 1 0 1 0 1 0 1 0 1 0 1 0 1 0 1 0 1 0 1 0 1 0 1 0 1 0 1 0 1 0 1 0 1 0 1 0 1 0 1 0 1 0 1 0 1 0 1-6 1 12 1-9 1 4 1 1 1-4 1 3 1-4 1 2 1-13 1 35 1-29 1 10 1-7 1 1 1 9 1-6 1 5 1-3 1 6 1-16 1 12 1-7 1 14 1-3 1-33 1 64 1-83 1 50 1-4 1 3 1-6 1 8 1-18 1 5 1 11 1-6 1-11 1 32 1-25 1-86 1 155 1-102 1 63 1-31 1 11 1 14 1-21 1 8 1-15 1 16 1-20 1 0 1 18 1 4 1-64 1 144 1-130 1-20 1 77 1-23 1 8 1-85 1 162 1-108 1 81 1-54 1 18 1-23 1 16 1-26 1 37 1-11 1-23 1-10 1 40 1-138 1 233 1-71 1-57 1 28 1-44 1 38 1-1 1 14 1-23 1-7 1-25 1-61 1 212 1-26 1-140 1-5 1 131 1-39 1-73 1 71 1-87 1 90 1-46 1 25 1-168 1 297 1-218 1 30 1 69 1 14 1-39 1 17 1-36 1 21 1-12 1-69 1 191 1-111 1 11 1-21 1 23 1 2 1-25 1 15 1-11 1-134 1 274 1-43 1-121 1 22 1 26 1-30 1 17 1 8 1-18 1 7 1 10 1-5 1-10 1 18 1-15 1-120 1 269 1-104 1-81 1 27 1 18 1-19 1 16 1 2 1-30 1 3 1 28 1 24 1-60 1-162 1 137 1 283 1-408 1 273 1-210 1 161 1-114 1 102 1-64 1-4 1 49 1 6 1-129 1 204 1-161 1 67 1-10 1 14 1-12 1-5 1 20 1-30 1 31 1-30 1-82 1 215 1-184 1 32 1 48 1-26 1 51 1-20 1-16 1-132 1 198 1-125 1 114 1-48 1-28 1 40 1-48 1 18 1 34 1-5 1-30 1 150 1-260 1 189 1-99 1 28 1 9 1 34 1-53 1 21 1-14 1 1 1-32 1 54 1-30 1 14 1 14 1-139 1 213 1-44 1-68 1 33 1-147 1 249 1-223 1 117 1-28 1 65 1-71 1 43 1 17 1-28 1-91 1 172 1-159 1 47 1 42 1-2 1-19 1 22 1-89 1 174 1-190 1 57 1 50 1 15 1-39 1 18 1-26 1 23 1-23 1-20 1 54 1-28 1 5 1 91 1-133 1 95 1-50 1 26 1-32 1 5 1 23 1-16 1 14 1-5 1-17 1 26 1-70 1 131 1-158 1 83 1-9 1 7 1-15 1 11 1 2 1-8 1 10 1-7 1 23 1 2 1-116 1 152 1-139 1 61 1 65 1-25 1-37 1-3 1 37 1-34 1 17 1-56 1 123 1-66 1-2 1-14 1 16 1 7 1-13 1-1 1 18 1-7 1-16 1 10 1 13 1-14 1 18 1-87 1 104 1-34 1 27 1-58 1 42 1-36 1 53 1-41 1 58 1-16 1-54 1-40 1 150 1-134 1 74 1-24 1-26 1 25 1 22 1 0 1-31 1 6 1 6 1-8 1-20 1 27 1-66 1 143 1-102 1 26 1-2 1-1 1 19 1-6 1-108 1 57 1 78 1-36 1-22 1 7 1 33 1-1 1-33 1 26 1-22 1 24 1-29 1 73 1-100 1 51 1-21 1 18 1-8 1 9 1-19 1 8 1-55 1 152 1-135 1 37 1 12 1 16 1-43 1 52 1-31 1-9 1 13 1-51 1 107 1-33 1-52 1 28 1-19 1 23 1-78 1 49 1 23 1 52 1-104 1 88 1-66 1 19 1 14 1-7 1-8 1 26 1-17 1 6 1-18 1-52 1 130 1-128 1 80 1-27 1 11 1 6 1-23 1 21 1-82 1 140 1-87 1 22 1 5 1 1 1-17 1 6 1-2 1 12 1-15 1-32 1 122 1-127 1 77 1-31 1 5 1-49 1 57 1-14 1-12 1-44 1 100 1-3 1-73 1 29 1 21 1-17 1 6 1-22 1 23 1 3 1-18 1-1 1 16 1-52 1 103 1-22 1-64 1 17 1 19 1-8 1-11 1 12 1 32 1-120 1 176 1-108 1 21 1 7 1-36 1 17 1 9 1 1 1-11 1-63 1 150 1-123 1 82 1-48 1 18 1 1 1 22 1-44 1 39 1-90 1 122 1-118 1 87 1-33 1 34 1-43 1 32 1-25 1 22 1-9 1-11 1 12 1 21 1 3 1-50 1-9 1 122 1-155 1 98 1-47 1 21 1 14 1-30 1-56 1 116 1-82 1 28 1-9 1 52 1-39 1-16 1-24 1 37 1-69 1 138 1-99 1 45 1 11 1-40 1 30 1-19 1 16 1-12 1-8 1 22 1-37 1 29 1 7 1-45 1 91 1-97 1 32 1 34 1-38 1-5 1 21 1-9 1-2 1 6 1-77 1 168 1-71 1-27 1-3 1 24 1-7 1 15 1 4 1-35 1 8 1 18 1-12 1-12 1-82 1 158 1-124 1 90 1-42 1 11 1 1 1-14 1-67 1 119 1-12 1-66 1 44 1 2 1-20 1 46 1-157 1 224 1-147 1 98 1-35 1-22 1-7 1 29 1-11 1 11 1-26 1 15 1-25 1 56 1-219 1 342 1-178 1 15 1 13 1-23 1 10 1-4 1 82 1-229 1 227 1-139 1 56 1 17 1 21 1-23 1-3 1-12 1-113 1 302 1-88 1-132 1 37 1 19 1-52 1 32 1-16 1 27 1-187 1 326 1-253 1 136 1-52 1 27 1 3 1-11 1 4 1 11 1 0 1-33 1 29 1 20 1-168 1 358 1-270 1 47 1 24 1-22 1-10 1 22 1-145 1 365 1-171 1-85 1 36 1-16 1 17 1-13 1-189 1 345 1-62 1-149 1 73 1-17 1-3 1 20 1-17 1 42 1-19 1-187 1 417 1-404 1 151 1 28 1-20 1-22 1 33 1-9 1-29 1 43 1-26 1 43 1-36 1-199 1 374 1-281 1 102 1-30 1 10 1 25 1 13 1-22 1 38 1-45 1 1 1 27 1 5 1-27 1-118 1 225 1-21 1-106 1 38 1-28 1-200 1 379 1-282 1 199 1-134 1 93 1-204 1 279 1-27 1-187 1 108 1-29 1 22 1-4 1 13 1-9 1 154 1-339 1 293 1-160 1 65 1-56 1 23 1 33 1-10 1-18 1 26 1-15 1 31 1-40 1 18 1-6 1 155 1-314 1 218 1-100 1 22 1 59 1-53 1 17 1 36 1-53 1-69 1 240 1-287 1 199 1-91 1 44 1-20 1-31 1 67 1-56 1 13 1 13 1 3 1-18 1 16 1-337 1 578 1-377 1 241 1-210 1 167 1-138 1 144 1-146 1 98 1-72 1 69 1-29 1 18 1-21 1-145 1 329 1-70 1-140 1 41 1-4 1 9 1-20 1 20 1-24 1 1 1 20 1-15 1-93 1 265 1-291 1 125 1-16 1 16 1 17 1-41 1 55 1-25 1-46 1 60 1-269 1 159 1 192 1-77 1-32 1 17 1-22 1 23 1-8 1-122 1 286 1-310 1 242 1-118 1 34 1-12 1-11 1 15 1-28 1 3 1 22 1 13 1-146 1 304 1-295 1 87 1 26 1-9 1 63 1-258 1 413 1-274 1 173 1-122 1 48 1-16 1-26 1-1 1 14 1-19 1 20 1-2 1 20 1-35 1 36 1-42 1-167 1 329 1-311 1 230 1-130 1 25 1 63 1-28 1-6 1 6 1 21 1 2 1-162 1 324 1-283 1 102 1 12 1 24 1-41 1 18 1-26 1 41 1-31 1-205 1 329 1-233 1 228 1-106 1-21 1 5 1 26 1-21 1 40 1-34 1 36 1-41 1 18 1 3 1-20 1-109 1 269 1-274 1 215 1-97 1-6 1 24 1-25 1 10 1-15 1 22 1-22 1-1 1 22 1-12 1-36 1-162 1 317 1-1 1-156 1 50 1-11 1 15 1-15 1-22 1 37 1-142 1 209 1-175 1 133 1-22 1-39 1 10 1 16 1 8 1-16 1-14 1 19 1 2 1-12 1 19 1-13 1-194 1 350 1-257 1 198 1-82 1-19 1-7 1 17 1-13 1 21 1-18 1 16 1 3 1-8 1-20 1 20 1 122 1-299 1 235 1-89 1 49 1-50 1 14 1 29 1 0 1-115 1 298 1-273 1 28 1 62 1 5 1-26 1 1 1 19 1 5 1-28 1-181 1 377 1-107 1-122 1 28 1 28 1-41 1 32 1-4 1-23 1 29 1-178 1 320 1-223 1 67 1 21 1-24 1-27 1 84 1-64 1-1 1 119 1-104 1 22 1-187 1 255 1-97 1 18 1 2 1-24 1 6 1-1 1-6 1 31 1-9 1-17 1-2 1-89 1 266 1-281 1 88 1 45 1-47 1 57 1-8 1-19 1 0 1 54 1-241 1 324 1-220 1 122 1-57 1 44 1-14 1-15 1 9 1 5 1 1 1-31 1 20 1-27 1-140 1 310 1-224 1 99 1-33 1 35 1-12 1-5 1-50 1 46 1-1 1 26 1-196 1 316 1-243 1 150 1-58 1 14 1-16 1 13 1-18 1 45 1-30 1-8 1-88 1 220 1-218 1 166 1-86 1 24 1 4 1-23 1-88 1 247 1-64 1-92 1 33 1-42 1 12 1 31 1-5 1-44 1-86 1 243 1-36 1-133 1 58 1-49 1 17 1 30 1-33 1-42 1 69 1-125 1 189 1-204 1 102 1 24 1 43 1-51 1-27 1 57 1-2 1-58 1 60 1-35 1-178 1 321 1-229 1 189 1-88 1-22 1 13 1 10 1-8 1 8 1 27 1-50 1 152 1-300 1 227 1-173 1 49 1 181 1-87 1-56 1 82 1-160 1 163 1-116 1 57 1-62 1 91 1-34 1 98 1-210 1 182 1-94 1 38 1-12 1-20 1 26 1-25 1 54 1-57 1 29 1-10 1-11 1-90 1 219 1-185 1 136 1-73 1 10 1 14 1-26 1 28 1-33 1 11 1-84 1 166 1-186 1 131 1-15 1 0 1-27 1 12 1 29 1-9 1-39 1 48 1-27 1-115 1 218 1-173 1 83 1 7 1-40 1 14 1 13 1-27 1 41 1-18 1-10 1 45 1-60 1 57 1-157 1 248 1-192 1 49 1 20 1 44 1-66 1 12 1 18 1 13 1-39 1 46 1-37 1-102 1 239 1-55 1-130 1 48 1-8 1 34 1-36 1 18 1 5 1-115 1 214 1 3 1-137 1 36 1 14 1 3 1-17 1 16 1-28 1-73 1 203 1-78 1-94 1 42 1 14 1-35 1 33 1-27 1 28 1-1 1 21 1-10 1-163 1 307 1-280 1 104 1 35 1-48 1 42 1-16 1 31 1-49 1 42 1-20 1 17 1-12 1-8 1-154 1 351 1-175 1-79 1 40 1 41 1-22 1 15 1-6 1-113 1 231 1-235 1 94 1 29 1-5 1-27 1-3 1 28 1 7 1-20 1 141 1-222 1 140 1-77 1 9 1 23 1-18 1 18 1 4 1-98 1 198 1-218 1 81 1 42 1-17 1 7 1-21 1 27 1 62 1-190 1 145 1-73 1 44 1-12 1 22 1-12 1 36 1-44 1-7 1 27 1-14 1 41 1-140 1 241 1-156 1 31 1-52 1 52 1-18 1 15 1-11 1-19 1-125 1 171 1-134 1 193 1-90 1 34 1-7 1-97 1 80 1-28 1 35 1-110 1 175 1-120 1 7 1 49 1 8 1-31 1 27 1-29 1 29 1-25 1 10 1 6 1-21 1 23 1-3 1-95 1 188 1-206 1 111 1-16 1 31 1-24 1-94 1 198 1-171 1 154 1-66 1-66 1 49 1-51 1 71 1-31 1 198 1-294 1 87 1 15 1-17 1 42 1-13 1-110 1 222 1-197 1 138 1-72 1-17 1 42 1-106 1 176 1-160 1 130 1-56 1-7 1-14 1 25 1-22 1 48 1-307 1 350 1-201 1 253 1-218 1 121 1-89 1 52 1-50 1 84 1-10 1-57 1-89 1 266 1-202 1 95 1-51 1 44 1-24 1 54 1-50 1 38 1-57 1 30 1-33 1 34 1-92 1 171 1-162 1 111 1-42 1 8 1-12 1 19 1-2 1-32 1-86 1 261 1-120 1-50 1 6 1 24 1-5 1-13 1-83 1 158 1-179 1 141 1-25 1-39 1 19 1 51 1-47 1 10 1 32 1-49 1 34 1-73 1-51 1 227 1-100 1-39 1 22 1-13 1 1 1 27 1-158 1 227 1-40 1-65 1 13 1 11 1-10 1-7 1 27 1-25 1 1 1 17 1 60 1-149 1 122 1-53 1 10 1 14 1-5 1-18 1-85 1 117 1-71 1 114 1-45 1-44 1 61 1-37 1 11 1-28 1 38 1-29 1-4 1 19 1 0 1-19 1-72 1 194 1-157 1 97 1-64 1 10 1-8 1 27 1 4 1-29 1 10 1 38 1-44 1 17 1-7 1-15 1-96 1 189 1-50 1-60 1 37 1-15 1 31 1-24 1-78 1 158 1-12 1-100 1 7 1 54 1-42 1 28 1-13 1 9 1-14 1-11 1 37 1-27 1 22 1-52 1-33 1 166 1-59 1-91 1 73 1-42 1 19 1 12 1-32 1 37 1-19 1 11 1-101 1 151 1-113 1 82 1 6 1-49 1-8 1 31 1-4 1-8 1 29 1-44 1-3 1 32 1-76 1 157 1-174 1 125 1-28 1-36 1 40 1-35 1 10 1 14 1-34 1 52 1-48 1 46 1-26 1 18 1 37 1-114 1 101 1-53 1 9 1 18 1-3 1-34 1 29 1 8 1 2 1-112 1 145 1-88 1-9 1 56 1 0 1-13 1 22 1-28 1 50 1-43 1-59 1 104 1-108 1 88 1-16 1-11 1 5 1-19 1 25 1-2 1 9 1-78 1 171 1-158 1 44 1 26 1-5 1-11 1-11 1 15 1 23 1-37 1 6 1 10 1-101 1 156 1-109 1 58 1-28 1 22 1 14 1-35 1 82 1-134 1 144 1-114 1 32 1 29 1-53 1 56 1-34 1 13 1-12 1 15 1-15 1 9 1-70 1 130 1-74 1 22 1-21 1 20 1 3 1-9 1 1 1-13 1-6 1 16 1-7 1 17 1 62 1-130 1 107 1-70 1 26 1-20 1-9 1 31 1 13 1-17 1-3 1 10 1-2 1-47 1-36 1 119 1 12 1-83 1 30 1-6 1-16 1 31 1-27 1 20 1 3 1-16 1-114 1 198 1-122 1 88 1-30 1 13 1-33 1 12 1 4 1-15 1-56 1 168 1-174 1 99 1-5 1-33 1 15 1-11 1 14 1-25 1 24 1-8 1 25 1-37 1-54 1 131 1-105 1 60 1-17 1-20 1 3 1 29 1-10 1 28 1-32 1-95 1 152 1-104 1 20 1 30 1 13 1-43 1 24 1 29 1-32 1-5 1 19 1 6 1-125 1 157 1-85 1 60 1-40 1 51 1-29 1-13 1-1 1 15 1-79 1 136 1-90 1 59 1-32 1 9 1-1 1-10 1-5 1 11 1-83 1 158 1-37 1-97 1 60 1 19 1-27 1-9 1 31 1-16 1 16 1-21 1 11 1-65 1 119 1-105 1 5 1 36 1 28 1-30 1-11 1 38 1-91 1 183 1-155 1 69 1-42 1 27 1-16 1 14 1-23 1 59 1-26 1-57 1 34 1 22 1-9 1-123 1 185 1-139 1 57 1-14 1 44 1-48 1 49 1-33 1 17 1-15 1-27 1 52 1-10 1-20 1-76 1 180 1-143 1 88 1-51 1 15 1 6 1-30 1-20 1 37 1 18 1-30 1 18 1-48 1 102 1-103 1 59 1-27 1-18 1 56 1-32 1 35 1-65 1 117 1-19 1-89 1 23 1 32 1-14 1-11 1 10 1-21 1 9 1-88 1 172 1-120 1 22 1 26 1 6 1-31 1 13 1 18 1-101 1 150 1-80 1 27 1-3 1-19 1 30 1-35 1 15 1 28 1-23 1-18 1 20 1-16 1-74 1 182 1-50 1-74 1 41 1-11 1-6 1 17 1 12 1-49 1 10 1 20 1-12 1-22 1 32 1-28 1-67 1 193 1-85 1-31 1 37 1-26 1-12 1 14 1-104 1 158 1-127 1 104 1 4 1-46 1-2 1 24 1 49 1-140 1 107 1-40 1 27 1-17 1 0 1 7 1 5 1-18 1 7 1 30 1-70 1 93 1-56 1 8 1-9 1 15 1-11 1 16 1-40 1 67 1-54 1 20 1 2 1-25 1-1 1 27 1-114 1 203 1-129 1 65 1-67 1 35 1 20 1-48 1 40 1-17 1 62 1-112 1 18 1 38 1 10 1-7 1-14 1 14 1-23 1 59 1-79 1 66 1-44 1 23 1-14 1 13 1-30 1 22 1 16 1-17 1-91 1 148 1-81 1 40 1-17 1 27 1-2 1-36 1 6 1 21 1-82 1 128 1-11 1-76 1 18 1 31 1-33 1 22 1 0 1 23 1-91 1 104 1-15 1-57 1 46 1-35 1 49 1-23 1-39 1 43 1-32 1 30 1-79 1 114 1-5 1-57 1 6 1 8 1 10 1-21 1-80 1 132 1-80 1 67 1-20 1-12 1-2 1 23 1-85 1 154 1-116 1 65 1-29 1-19 1 13 1-7 1 15 1-19 1 11 1 4 1-56 1 126 1-97 1 63 1-60 1 13 1-1 1 26 1-24 1 28 1 12 1-34 1 13 1-20 1 19 1-28 1-19 1 69 1-66 1 36 1 28 1-40 1-8 1 30 1-6 1-12 1 78 1-145 1 46 1 25 1-9 1 26 1-20 1-4 1-52 1 139 1-135 1 110 1-65 1 18 1-42 1 41 1-16 1 16 1-63 1 165 1-126 1 32 1-11 1-19 1 15 1 9 1-60 1 114 1-95 1 54 1-22 1 13 1 1 1-10 1-83 1 132 1-98 1 57 1-24 1 60 1-79 1 46 1-15 1-12 1-44 1 159 1-148 1 59 1-18 1 18 1-10 1-24 1 29 1-6 1-42 1 147 1-161 1 78 1-17 1-22 1 19 1 6 1-31 1 35 1-29 1 25 1-12 1-71 1 32 1 90 1-77 1 30 1-30 1 27 1-1 1-28 1 67 1-93 1 67 1-35 1 2 1 37 1 11 1-51 1 51 1-41 1 24 1-48 1 58 1-35 1-16 1 39 1-43 1 109 1-35 1-47 1 15 1-17 1 12 1-18 1 27 1-28 1 34 1-46 1-50 1 123 1-82 1 69 1-10 1-40 1 0 1 24 1-21 1 58 1-48 1 8 1-17 1 27 1-35 1 20 1-42 1 109 1-71 1-4 1 24 1-20 1-13 1 8 1-80 1 126 1-67 1 52 1-41 1 26 1 7 1-20 1-22 1 23 1-4 1 20 1-52 1 53 1 4 1-70 1 129 1-134 1 99 1-73 1 19 1 24 1 4 1-35 1 9 1 4 1-42 1 119 1-19 1-73 1 45 1-36 1 45 1-40 1 24 1-50 1-9 1 99 1-110 1 107 1-61 1 21 1-4 1-9 1 1 1 13 1 8 1-27 1 4 1-10 1 27 1-17 1-68 1 98 1 21 1-77 1 19 1 29 1-29 1 32 1-21 1-19 1 26 1-72 1 141 1-89 1 20 1-27 1-2 1 28 1-42 1 42 1-7 1-75 1 56 1 66 1-47 1 13 1-9 1-20 1 0 1 31 1-28 1 26 1-71 1 90 1 0 1-50 1 2 1 44 1-49 1 32 1-23 1 42 1-27 1-12 1 13 1-80 1 163 1-131 1 14 1 49 1-26 1 9 1 6 1-33 1-9 1 160 1-211 1 140 1-53 1 18 1-25 1 23 1-21 1-27 1 13 1 40 1-80 1 189 1-206 1 178 1-157 1 50 1-6 1 26 1-7 1-16 1-55 1 168 1-167 1 116 1-29 1-52 1-4 1 49 1-18 1-84 1 200 1-189 1 61 1 16 1-15 1 26 1-9 1-65 1 139 1-140 1 39 1 29 1-36 1 18 1 27 1-23 1 26 1-37 1 67 1-108 1 88 1-53 1-94 1 198 1-45 1-66 1 23 1 11 1-3 1 8 1-6 1-15 1 20 1-6 1-1 1-20 1 22 1-69 1-21 1 134 1-102 1 69 1-29 1 20 1 20 1-41 1 22 1-4 1-159 1 296 1-166 1 27 1-4 1 29 1-41 1 28 1-43 1 31 1-30 1 22 1 6 1-25 1-69 1 195 1 12 1-145 1 25 1 65 1-70 1 14 1 52 1-62 1 21 1-118 1 257 1-237 1 116 1-56 1 2 1 28 1 7 1-32 1 31 1-121 1 193 1-116 1 10 1 26 1-6 1 39 1-26 1-21 1 19 1-17 1-93 1 197 1-105 1 15 1 27 1-40 1 23 1-19 1-4 1 12 1-123 1 286 1-124 1-80 1 38 1 37 1 5 1-72 1 45 1-19 1-94 1 165 1-20 1-82 1 24 1 20 1-6 1-15 1-85 1 195 1-172 1 121 1-60 1 24 1-12 1-26 1 41 1-33 1 15 1 20 1-69 1 68 1-8 1-27 1 72 1-172 1 167 1-82 1 56 1-16 1-17 1 39 1-13 1 3 1-170 1 228 1-165 1 130 1-8 1-22 1-11 1 14 1-30 1 24 1 142 1-250 1 163 1-111 1 12 1 42 1-27 1 25 1-10 1 34 1-30 1-85 1 193 1-158 1 15 1 57 1-13 1 14 1-16 1-17 1-9 1 47 1-140 1 219 1-210 1 162 1-47 1 46 1-137 1 89 1-12 1 18 1-18 1-8 1 16 1-16 1 16 1-127 1 234 1-181 1 19 1 66 1 7 1-21 1-50 1 63 1-97 1 164 1-48 1-84 1 50 1-32 1-13 1 49 1-15 1 38 1-20 1-50 1-118 1 221 1 0 1-82 1 25 1 5 1 7 1-16 1-2 1 28 1-8 1-27 1 2 1 29 1-162 1 211 1-4 1-97 1 0 1 38 1-6 1 17 1-3 1-41 1 20 1 12 1-18 1 25 1 47 1-176 1 43 1 162" fill="none" stroke="#0000ff" stroke-width="0.42" vector-effect="non-scaling-stroke"/>
<path d="M36.50 355.5v-2.9M36.50 296.0v2.9M84.33 355.5v-2.9M84.33 296.0v2.9M132.17 355.5v-2.9M132.17 296.0v2.9M180.00 355.5v-2.9M180.00 296.0v2.9M227.83 355.5v-2.9M227.83 296.0v2.9M275.67 355.5v-2.9M275.67 296.0v2.9M323.50 355.5v-2.9M323.50 296.0v2.9M36.5 351.58h2.9M323.5 351.58h-2.9M36.5 330.41h2.9M323.5 330.41h-2.9M36.5 309.23h2.9M323.5 309.23h-2.9" fill="none" stroke="#747474" stroke-width="1"/>
<rect x="36.5" y="296.0" width="287.0" height="59.50" fill="none" stroke="#747474" stroke-width="1"/>
<text x="36.50" y="368.00" font-size="8.3" text-anchor="middle">0</text>
<text x="84.33" y="368.00" font-size="8.3" text-anchor="middle">20</text>
<text x="132.17" y="368.00" font-size="8.3" text-anchor="middle">40</text>
<text x="180.00" y="368.00" font-size="8.3" text-anchor="middle">60</text>
<text x="227.83" y="368.00" font-size="8.3" text-anchor="middle">80</text>
<text x="275.67" y="368.00" font-size="8.3" text-anchor="middle">100</text>
<text x="323.50" y="368.00" font-size="8.3" text-anchor="middle">120</text>
<text x="33.30" y="355.18" font-size="8.3" text-anchor="end">-200</text>
<text x="33.30" y="334.01" font-size="8.3" text-anchor="end">0</text>
<text x="33.30" y="312.83" font-size="8.3" text-anchor="end">200</text>
<text transform="translate(12.30,324.75) rotate(-90)" font-size="9.3" text-anchor="middle">yaw (deg/s/s)</text>
<text x="180.00" y="292.60" font-size="8.77" text-anchor="middle">C: 50 Hz difference-based angular accelerations with IMU</text>
<path transform="translate(36.75 0) scale(0.5 0.1)" d="M0 4090l1 0 1 0 1 0 1 0 1 0 1 0 1 0 1 0 1 0 1 0 1 0 1 0 1 0 1 0 1 0 1 0 1 0 1 0 1 0 1 0 1 0 1 0 1 0 1 0 1 0 1 0 1 0 1 0 1 0 1 0 1 0 1 0 1 0 1 0 1 0 1 0 1 0 1 0 1 0 1 0 1 0 1 0 1 0 1 0 1 0 1 0 1 0 1 0 1 0 1 0 1 0 1 0 1 0 1 0 1 0 1 0 1 0 1 0 1 0 1 0 1 0 1 0 1 0 1 0 1 0 1 0 1 0 1 0 1 0 1 0 1 0 1 0 1 0 1 0 1 0 1 0 1 0 1 0 1 0 1 0 1 0 1 0 1 0 1 0 1 0 1 0 1 0 1 0 1 0 1 0 1 0 1 0 1 0 1 0 1 0 1 0 1-2 1 0 1 5 1-34 1 25 1-7 1-14 1 8 1 10 1-37 1 35 1 6 1-13 1-14 1-1 1 28 1-11 1 9 1-16 1 18 1-11 1 4 1 11 1-12 1-1 1 2 1-18 1 0 1 23 1-30 1 27 1-39 1 32 1 17 1-33 1 14 1 13 1-46 1 39 1-2 1 2 1-16 1 15 1-19 1 10 1 26 1-45 1 27 1 3 1-12 1 2 1 2 1-2 1-1 1 21 1-22 1 13 1 4 1-17 1-11 1 32 1-52 1 34 1 16 1-13 1-11 1-6 1 32 1-53 1 27 1-1 1 11 1-11 1 40 1-88 1 30 1 36 1-27 1 38 1-15 1-22 1 18 1 13 1-25 1-29 1 43 1-11 1 26 1-19 1 18 1-15 1 13 1-24 1 21 1-18 1 15 1 0 1 9 1 7 1-16 1 9 1-11 1 4 1 0 1 5 1-1 1-20 1 14 1-17 1 16 1 6 1 0 1-13 1 29 1-29 1-11 1 24 1 1 1-25 1 23 1 1 1-39 1 41 1-14 1 5 1 7 1-10 1 4 1 7 1-12 1-2 1 17 1 3 1 0 1-10 1 6 1-7 1 4 1-20 1 5 1 21 1-31 1-1 1 17 1-2 1 6 1 2 1-10 1 6 1 3 1-5 1 13 1-1 1-9 1-14 1 13 1 11 1-13 1 9 1-3 1 1 1-11 1 9 1-4 1 3 1-3 1 3 1-13 1 5 1 16 1-12 1-9 1 16 1-17 1-3 1 23 1-13 1 4 1 3 1 5 1-11 1 3 1 7 1-3 1 10 1-31 1 23 1-13 1 5 1 0 1-31 1 23 1 22 1-5 1 1 1-5 1-5 1 6 1-12 1 13 1 12 1 4 1-15 1 2 1 4 1-1 1-17 1-1 1-7 1 18 1 9 1-14 1 3 1 8 1-19 1 4 1 9 1 2 1-1 1 9 1-9 1 10 1-17 1 11 1-1 1-5 1 9 1-41 1 34 1-42 1 29 1-43 1 52 1 6 1-5 1-2 1-9 1 21 1-15 1-24 1 7 1 13 1 11 1-2 1 6 1 0 1-17 1 18 1-1 1 6 1-6 1-12 1 4 1 8 1 5 1-5 1-3 1 4 1 4 1-9 1 4 1-1 1 7 1-3 1 1 1-2 1-2 1 8 1-15 1 3 1-1 1-3 1 10 1-12 1 13 1 0 1-3 1-10 1 16 1-2 1-3 1-6 1 2 1 2 1-3 1 3 1 4 1 3 1-9 1 0 1-1 1 4 1-9 1 6 1 5 1-6 1 3 1 4 1-23 1 16 1 3 1-1 1-4 1 8 1 1 1 2 1-4 1 3 1-11 1 3 1 3 1-2 1 4 1 9 1-12 1 8 1-12 1-2 1 7 1-11 1 15 1-17 1 14 1-40 1 29 1 16 1-9 1 2 1-1 1 5 1 3 1-4 1 8 1-21 1 13 1-14 1 10 1 1 1 4 1 1 1 3 1-6 1-6 1 9 1-3 1-2 1-4 1 7 1-8 1 1 1-7 1 18 1-10 1 6 1 5 1-26 1 20 1 1 1 3 1-2 1-6 1 2 1 2 1 4 1-9 1 4 1 0 1-13 1 10 1 3 1 3 1 0 1 5 1-19 1-16 1 35 1-3 1 0 1 2 1-12 1 9 1-11 1-10 1-22 1 6 1 47 1-20 1-1 1 17 1-4 1-10 1 3 1-30 1 33 1-3 1 3 1 9 1-16 1 6 1-4 1 3 1 1 1 4 1-6 1 4 1 4 1-7 1-5 1 5 1-1 1-4 1 16V4097l-1 3 -1 3 -1-8 -1-1 -1 9 -1-8 -1 14 -1-14 -1 1 -1 0 -1 0 -1 3 -1-1 -1-3 -1 4 -1-1 -1-1 -1 8 -1-24 -1 33 -1-12 -1-3 -1 10 -1-5 -1 4 -1 4 -1-7 -1 32 -1-45 -1 5 -1 3 -1 2 -1 3 -1 3 -1-10 -1 3 -1 7 -1-10 -1-1 -1-4 -1-1 -1 9 -1 1 -1-6 -1 3 -1-3 -1-1 -1 4 -1 2 -1-1 -1-6 -1 6 -1 2 -1-4 -1 4 -1 26 -1-28 -1 3 -1 4 -1-6 -1-5 -1 5 -1-12 -1 13 -1-6 -1 18 -1-18 -1 0 -1 5 -1 5 -1-9 -1-4 -1 3 -1-2 -1 3 -1 5 -1-7 -1-1 -1 4 -1-1 -1-3 -1 2 -1 15 -1-8 -1-6 -1-6 -1 11 -1 40 -1-43 -1 10 -1-11 -1 7 -1-6 -1 4 -1-5 -1 0 -1-7 -1 18 -1-9 -1-2 -1-7 -1 10 -1-8 -1 5 -1-7 -1 6 -1 9 -1-10 -1-2 -1 2 -1 0 -1-1 -1-2 -1 5 -1 0 -1 3 -1-6 -1 2 -1-3 -1 7 -1-6 -1 5 -1 2 -1 15 -1 0 -1-21 -1 14 -1-9 -1-7 -1 1 -1 10 -1-10 -1 7 -1-4 -1 13 -1-9 -1 7 -1-4 -1-11 -1 6 -1-1 -1-2 -1 4 -1 5 -1-8 -1-6 -1 1 -1 13 -1-3 -1-12 -1 5 -1-2 -1-1 -1 1 -1 7 -1-4 -1 2 -1 1 -1-1 -1-6 -1 4 -1 2 -1 1 -1 3 -1-7 -1 14 -1 10 -1 35 -1-50 -1 17 -1-15 -1 5 -1-9 -1 0 -1-2 -1-9 -1 9 -1-2 -1 14 -1 95 -1-76 -1 1 -1-37 -1-3 -1 15 -1-9 -1 5 -1-3 -1 14 -1-4 -1-3 -1-1 -1-6 -1-6 -1 5 -1-10 -1 6 -1 10 -1 6 -1-13 -1 0 -1 2 -1 1 -1-4 -1-3 -1 10 -1 0 -1-3 -1 0 -1 13 -1-14 -1 4 -1-10 -1 0 -1 14 -1-9 -1-1 -1-5 -1 11 -1-7 -1 16 -1-15 -1 8 -1 4 -1-11 -1 1 -1-1 -1 1 -1 6 -1 18 -1-23 -1 1 -1-9 -1 3 -1 13 -1-4 -1-9 -1 16 -1-8 -1-12 -1 13 -1 0 -1 7 -1-13 -1 10 -1-7 -1-8 -1-5 -1 22 -1-7 -1 3 -1-5 -1-8 -1 22 -1 1 -1-17 -1 2 -1-8 -1 10 -1 23 -1-13 -1 10 -1-24 -1 10 -1-14 -1 1 -1 4 -1-2 -1 3 -1-7 -1 11 -1-3 -1 6 -1-1 -1-15 -1 6 -1-6 -1 3 -1 19 -1 1 -1-3 -1-9 -1-1 -1 8 -1-25 -1 17 -1 6 -1-2 -1-3 -1-13 -1 11 -1 3 -1-13 -1 13 -1-11 -1 4 -1 4 -1 16 -1-22 -1 16 -1-5 -1 11 -1-16 -1-5 -1 7 -1-1 -1-2 -1 3 -1-7 -1 8 -1 5 -1 3 -1 4 -1-4 -1-24 -1 17 -1 4 -1-16 -1-3 -1 30 -1-17 -1-7 -1 8 -1-4 -1 16 -1-11 -1 10 -1-11 -1 3 -1-15 -1 9 -1-2 -1 9 -1 2 -1-5 -1-6 -1 19 -1 11 -1-30 -1-3 -1-7 -1 41 -1-25 -1 0 -1-6 -1 7 -1-24 -1 23 -1-14 -1 12 -1-3 -1 0 -1-7 -1 18 -1-15 -1 15 -1-19 -1 13 -1-1 -1 24 -1-4 -1-17 -1-10 -1 16 -1 6 -1-16 -1-5 -1 6 -1-2 -1 27 -1-13 -1-19 -1 0 -1 9 -1-13 -1 0 -1 10 -1-2 -1-8 -1 30 -1-17 -1 12 -1 6 -1-22 -1-8 -1 3 -1-1 -1 9 -1-6 -1-5 -1 15 -1-13 -1 4 -1 5 -1-3 -1-5 -1 11 -1 2 -1-7 -1 5 -1 0 -1 1 -1-11 -1-8 -1 9 -1 2 -1-2 -1-5 -1 12 -1-12 -1-4 -1 0 -1 0 -1 0 -1 0 -1 0 -1 0 -1 0 -1 0 -1 0 -1 0 -1 0 -1 0 -1 0 -1 0 -1 0 -1 0 -1 0 -1 0 -1 0 -1 0 -1 0 -1 0 -1 0 -1 0 -1 0 -1 0 -1 0 -1 0 -1 0 -1 0 -1 0 -1 0 -1 0 -1 0 -1 0 -1 0 -1 0 -1 0 -1 0 -1 0 -1 0 -1 0 -1 0 -1 0 -1 0 -1 0 -1 0 -1 0 -1 0 -1 0 -1 0 -1 0 -1 0 -1 0 -1 0 -1 0 -1 0 -1 0 -1 0 -1 0 -1 0 -1 0 -1 0 -1 0 -1 0 -1 0 -1 0 -1 0 -1 0 -1 0 -1 0 -1 0 -1 0 -1 0 -1 0 -1 0 -1 0 -1 0 -1 0 -1 0 -1 0 -1 0 -1 0 -1 0 -1 0 -1 0 -1 0 -1 0 -1 0 -1 0 -1 0 -1 0 -1 0 -1 0 -1 0 -1 0 -1 0z" fill="#0000ff"/>
<path transform="scale(0.08333333333333333 0.1)" d="M438 4092l1 0 1 0 1 0 1 0 1 0 1 0 1 0 1 0 1 0 1 0 1 0 1 0 1 0 1 0 1 0 1 0 1 0 1 0 1 0 1 0 1 0 1 0 1 0 1 0 1 0 1 0 1 0 1 0 1 0 1 0 1 0 1 0 1 0 1 0 1 0 1 0 1 0 1 0 1 0 1 0 1 0 1 0 1 0 1 0 1 0 1 0 1 0 1 0 1 0 1 0 1 0 1 0 1 0 1 0 1 0 1 0 1 0 1 0 1 0 1 0 1 0 1 0 1 0 1 0 1 0 1 0 1 0 1 0 1 0 1 0 1 0 1 0 1 0 1 0 1 0 1 0 1 0 1 0 1 0 1 0 1 0 1 0 1 0 1 0 1 0 1 0 1 0 1 0 1 0 1 0 1 0 1 0 1 0 1 0 1 0 1 0 1 0 1 0 1 0 1 0 1 0 1 0 1 0 1 0 1 0 1 0 1 0 1 0 1 0 1 0 1 0 1 0 1 0 1 0 1 0 1 0 1 0 1 0 1 0 1 0 1 0 1 0 1 0 1 0 1 0 1 0 1 0 1 0 1 0 1 0 1 0 1 0 1 0 1 0 1 0 1 0 1 0 1 0 1 0 1 0 1 0 1 0 1 0 1 0 1 0 1 0 1 0 1 0 1 0 1 0 1 0 1 0 1 0 1 0 1 0 1 0 1 0 1 0 1 0 1 0 1 0 1 0 1 0 1 0 1 0 1 0 1 0 1 0 1 0 1 0 1 0 1 0 1 0 1 0 1 0 1 0 1 0 1 0 1 0 1 0 1 0 1 0 1 0 1 0 1 0 1 0 1 0 1 0 1 0 1 0 1 0 1 0 1 0 1 0 1 0 1 0 1 0 1 0 1 0 1 0 1 0 1 0 1 0 1 0 1 0 1 0 1 0 1 0 1 0 1 0 1 0 1 0 1 0 1 0 1 0 1 0 1 0 1 0 1 0 1 0 1 0 1 0 1 0 1 0 1 0 1 0 1 0 1 0 1 0 1 0 1 0 1 0 1 0 1 0 1 0 1 0 1 0 1 0 1 0 1 0 1 0 1 0 1 0 1 0 1 0 1 0 1 0 1 0 1 0 1 0 1 0 1 0 1 0 1 0 1 0 1 0 1 0 1 0 1 0 1 0 1 0 1 0 1 0 1 0 1 0 1 0 1 0 1 0 1 0 1 0 1 0 1 0 1 0 1 0 1 0 1 0 1 0 1 0 1 0 1 0 1 0 1 0 1 0 1 0 1 0 1 0 1 0 1 0 1 0 1 0 1 0 1 0 1 0 1 0 1 0 1 0 1 0 1 0 1 0 1 0 1 0 1 0 1 0 1 0 1 0 1 0 1 0 1 0 1 0 1 0 1 0 1 0 1 0 1 0 1 0 1 0 1 0 1 0 1 0 1 0 1 0 1 0 1 0 1 0 1 0 1 0 1 0 1 0 1 0 1 0 1 0 1 0 1 0 1 0 1 0 1 0 1 0 1 0 1 0 1 0 1 0 1 0 1 0 1 0 1 0 1 0 1 0 1 0 1 0 1 0 1 0 1 0 1 0 1 0 1 0 1 0 1 0 1 0 1 0 1 0 1 0 1 0 1 0 1 0 1 0 1 0 1 0 1 0 1 0 1 0 1 0 1 0 1 0 1 0 1 0 1 0 1 0 1 0 1 0 1 0 1 0 1 0 1 0 1 0 1 0 1 0 1 0 1 0 1 0 1 0 1 0 1 0 1 0 1 0 1 0 1 0 1 0 1 0 1 0 1 0 1 0 1 0 1 0 1 0 1 0 1 0 1 0 1 0 1 0 1 0 1 0 1 0 1 0 1 0 1 0 1 0 1 0 1 0 1 0 1 0 1 0 1 0 1 0 1 0 1 0 1 0 1 0 1 0 1 0 1 0 1 0 1 0 1 0 1 0 1 0 1 0 1 0 1 0 1 0 1 0 1 0 1 0 1 0 1 0 1 0 1 0 1 0 1 0 1 0 1 0 1 0 1 0 1 0 1 0 1 0 1 0 1 0 1 0 1 0 1 0 1 0 1 0 1 0 1 0 1 0 1 0 1 0 1 0 1 0 1 0 1 0 1 0 1 0 1 0 1 0 1 0 1 0 1 0 1 0 1 0 1 0 1 0 1 0 1 0 1 0 1 0 1 0 1 0 1 0 1 0 1 0 1 0 1 0 1 0 1 0 1 0 1 0 1 0 1 0 1 0 1 0 1 0 1 0 1 0 1 0 1 0 1 0 1 0 1 0 1 0 1 0 1 0 1 0 1 0 1 0 1 0 1 0 1 0 1 0 1 0 1 0 1 0 1 0 1 0 1 0 1 0 1 0 1 0 1 0 1 0 1 0 1 0 1 0 1 0 1 0 1 0 1 0 1 0 1 0 1 0 1 0 1 0 1 0 1 0 1 0 1 0 1 0 1 0 1 0 1 0 1 0 1 0 1 0 1 0 1 0 1 0 1 0 1 0 1 0 1 0 1 0 1 0 1 0 1 0 1 0 1 0 1 0 1 0 1 0 1 0 1 0 1 0 1 0 1 0 1 0 1 0 1 0 1 0 1 0 1 0 1 0 1 0 1-3 1-5 1 7 1-5 1 7 1 11 1-15 1-8 1 16 1-17 1 16 1 21 1-15 1-11 1 8 1-7 1 16 1-52 1 102 1-58 1-62 1 38 1 20 1 31 1-46 1 12 1 9 1-11 1-11 1-39 1 92 1-17 1-53 1 27 1-5 1 22 1-44 1-52 1 99 1-9 1-34 1-12 1 102 1-103 1 42 1-4 1-13 1-1 1 32 1-13 1-16 1-8 1 32 1 6 1-14 1-58 1 118 1-41 1-72 1 66 1 3 1-69 1 61 1 5 1-35 1 6 1 29 1-25 1 43 1-56 1 23 1 10 1-33 1 0 1 17 1-35 1 91 1-90 1 85 1-28 1-61 1 63 1-35 1 31 1-69 1 78 1-62 1 31 1-42 1 28 1 49 1-24 1-13 1-35 1 39 1-23 1 37 1-58 1 120 1-84 1 93 1-51 1-41 1 29 1-34 1 14 1-20 1 30 1-30 1-6 1 52 1-68 1 58 1 27 1-101 1 61 1-17 1 34 1-17 1-35 1 102 1-40 1-48 1-8 1 41 1-13 1-16 1 18 1-36 1 39 1-5 1 7 1-12 1-11 1 21 1-44 1 100 1-39 1-80 1 90 1-41 1-16 1 36 1-4 1-35 1 26 1-24 1 35 1-27 1 23 1-21 1 20 1-42 1 114 1-106 1-19 1 67 1-16 1-13 1 28 1-53 1-8 1 55 1-38 1 45 1-8 1-86 1 188 1-166 1 48 1 23 1 15 1-43 1-68 1 116 1-93 1 84 1-43 1 22 1 39 1-74 1 20 1 22 1-6 1-43 1 5 1 61 1-60 1-70 1 283 1-237 1 26 1 29 1 11 1-34 1 22 1-30 1 28 1 14 1-22 1 14 1 12 1-27 1-6 1 27 1 5 1-81 1 275 1-254 1 19 1 38 1-43 1 31 1-11 1 15 1-12 1 8 1-21 1 17 1 22 1-21 1-32 1 48 1-150 1 362 1-293 1 195 1-126 1-19 1-4 1 36 1-33 1 23 1-42 1 61 1-22 1 3 1-25 1 27 1-36 1 53 1-19 1 22 1 4 1-52 1-107 1 294 1-225 1 151 1-72 1-42 1 32 1-58 1 82 1-44 1-30 1 52 1-20 1-29 1 226 1-235 1 99 1-106 1-32 1 123 1-46 1-65 1 77 1 11 1-26 1 22 1-10 1-4 1 11 1 12 1-35 1 42 1-73 1 169 1-22 1-162 1 42 1 58 1-71 1 71 1-18 1-28 1 3 1 38 1-48 1 39 1-27 1-23 1 25 1-28 1-39 1 296 1-286 1 124 1-62 1-60 1 90 1-49 1 56 1-29 1 23 1-38 1-77 1 84 1 31 1-64 1 15 1-39 1 67 1-42 1 43 1-16 1 176 1-257 1 246 1-155 1 3 1-40 1 50 1-25 1 2 1-6 1 17 1-17 1 30 1-60 1 2 1 53 1 4 1-51 1 31 1-17 1 117 1-127 1-9 1 37 1 26 1-52 1 11 1 12 1-8 1 26 1-18 1-22 1-33 1 54 1-79 1 157 1-124 1 99 1-74 1-20 1 53 1-51 1 47 1-13 1-15 1 26 1 8 1-17 1 14 1-29 1 16 1-104 1 372 1-325 1 61 1-12 1 2 1-45 1 28 1 60 1-36 1 25 1-16 1-23 1 28 1-41 1 16 1-34 1 1 1 36 1 15 1-28 1-11 1 47 1-12 1-129 1 335 1-303 1 106 1-96 1 48 1 54 1-15 1-62 1 68 1-14 1 25 1-68 1 70 1-40 1 32 1-63 1 218 1-279 1 125 1-78 1 28 1 9 1 165 1-174 1 80 1-55 1-23 1 39 1 38 1-53 1 7 1-44 1 26 1 30 1 8 1-40 1 27 1-127 1 336 1-226 1-46 1 66 1-12 1-42 1 77 1-56 1 32 1 31 1 10 1-55 1 2 1-104 1 103 1 40 1 115 1-230 1 140 1-123 1 72 1-59 1-2 1 70 1-2 1-7 1-36 1 30 1-6 1 50 1-27 1-70 1 220 1-273 1 85 1 37 1-22 1-17 1 27 1 13 1-19 1 24 1-44 1 30 1-2 1-11 1-21 1 42 1-27 1 19 1 168 1-246 1 206 1-179 1 39 1-35 1 28 1 15 1-29 1 37 1-24 1 24 1-237 1 281 1-63 1 36 1-73 1 76 1-21 1-35 1 45 1-58 1-29 1 92 1-70 1 178 1-226 1 63 1-30 1 60 1 43 1-50 1-21 1 34 1 11 1-55 1 60 1-25 1-54 1 196 1-173 1 42 1 6 1-53 1 45 1-9 1 25 1-41 1 6 1-15 1 38 1-53 1 15 1 25 1 48 1-55 1 3 1 8 1-34 1 38 1-13 1 24 1-2 1-39 1 60 1-133 1 61 1 59 1 79 1-101 1 4 1-69 1 29 1 38 1-40 1 34 1-18 1 25 1-5 1 2 1-5 1-15 1 31 1 8 1-8 1-53 1-14 1 75 1 25 1-90 1 33 1-35 1 59 1-14 1-15 1 12 1-30 1 52 1-19 1-23 1 22 1 22 1-27 1 16 1 35 1-72 1 102 1-65 1 4 1-38 1 25 1 24 1-27 1-13 1 20 1 53 1-37 1-50 1 32 1 32 1-1 1-40 1-17 1 41 1-11 1-7 1-47 1 69 1-69 1 100 1-69 1 21 1-18 1 34 1-38 1 20 1 18 1-48 1 26 1-5 1-8 1 26 1 5 1-26 1-16 1 39 1-5 1-16 1 18 1-22 1 2 1 34 1-11 1-33 1 31 1-41 1 115 1-111 1 43 1-53 1-2 1 51 1 3 1-46 1 30 1-16 1 22 1-10 1 19 1-48 1 64 1-98 1 92 1-60 1 18 1 51 1-9 1-45 1 34 1-31 1 10 1 31 1-52 1 49 1-22 1 23 1-35 1 46 1-43 1-3 1-23 1 44 1-24 1 22 1-31 1 28 1 2 1 18 1-62 1 71 1-47 1 89 1-65 1-11 1 39 1-93 1 19 1 49 1-52 1 45 1-40 1 91 1-95 1 36 1-8 1 12 1 6 1-19 1 29 1-21 1 32 1-51 1 5 1 40 1-30 1 18 1-89 1 66 1 17 1-25 1-19 1 61 1-22 1 16 1 23 1-65 1 39 1-46 1 32 1 15 1-24 1 37 1-45 1 14 1-49 1 76 1-72 1 49 1-8 1-48 1 3 1 65 1-20 1 23 1-13 1-12 1-34 1 43 1-24 1 46 1-43 1 42 1-42 1 39 1-86 1 85 1 10 1-43 1-6 1 50 1-41 1 17 1-13 1 21 1-21 1-41 1 50 1-21 1 3 1 14 1 31 1-42 1 69 1-74 1 40 1-41 1-55 1 104 1-33 1 21 1-16 1-51 1 49 1 15 1 30 1-92 1 31 1-28 1 24 1 48 1-4 1-31 1 43 1-61 1 16 1 57 1-21 1-19 1 0 1-13 1-9 1 26 1 14 1-20 1 30 1-59 1 17 1 18 1-14 1 11 1-9 1 7 1-5 1-11 1 13 1-31 1 17 1 27 1-8 1-9 1-13 1 37 1-14 1-34 1 28 1-26 1 3 1 50 1-24 1-18 1-20 1 50 1 6 1-17 1 25 1-69 1-2 1 69 1-8 1-50 1-4 1 51 1 0 1-49 1 7 1 27 1 10 1-51 1 53 1-17 1-1 1 24 1 7 1-57 1-26 1 65 1-109 1 95 1 13 1-32 1 34 1-32 1 80 1-132 1 81 1-45 1-11 1 125 1-76 1-26 1 38 1-31 1 8 1 27 1-37 1 37 1-31 1-23 1 43 1-30 1 29 1 17 1-77 1 49 1-9 1 29 1-14 1-16 1 55 1-38 1 22 1-47 1 53 1-33 1 10 1-57 1 66 1-43 1 14 1 23 1-58 1 84 1-5 1-75 1 97 1-55 1-31 1 67 1 7 1-58 1 5 1 33 1 3 1-67 1 80 1-97 1 39 1 49 1-32 1 48 1-53 1 36 1-38 1 25 1-19 1 16 1-44 1 41 1-22 1 18 1-42 1 53 1-3 1-40 1 40 1-80 1 85 1-66 1 27 1 33 1-29 1 33 1-29 1 24 1-26 1 22 1 21 1-32 1 45 1-30 1 15 1-40 1 41 1-43 1-28 1 93 1-51 1 7 1-24 1 37 1-18 1-8 1-14 1 38 1-18 1-17 1 23 1 16 1-23 1-24 1 47 1-34 1 44 1-31 1 19 1-17 1 14 1-40 1 57 1-52 1 1 1 31 1-13 1 39 1-16 1-39 1 19 1-29 1 29 1-17 1 15 1-13 1 6 1 23 1-2 1-20 1-31 1 25 1 26 1-66 1 65 1-29 1 38 1-37 1 47 1-33 1 37 1-78 1 62 1-46 1 31 1-149 1 170 1-51 1 12 1 23 1 15 1-37 1 46 1-77 1 66 1-54 1 17 1 57 1-69 1 59 1-36 1 15 1 11 1-39 1 54 1-83 1 56 1-35 1-22 1 32 1 17 1-62 1 42 1 32 1-4 1-31 1-39 1 70 1-8 1 28 1-57 1 28 1-57 1 96 1-68 1 50 1-16 1-54 1 24 1 29 1-13 1 26 1-6 1 15 1-43 1 39 1-30 1 15 1 12 1-70 1 23 1 41 1-22 1 27 1-29 1 37 1-46 1 27 1-11 1-24 1 33 1-19 1-20 1 49 1-43 1 30 1 15 1-8 1-25 1 12 1-5 1 35 1-16 1-16 1 6 1-24 1 34 1-101 1 167 1-125 1 32 1 50 1-52 1 52 1-43 1 36 1-50 1 40 1-21 1 20 1-14 1 52 1-76 1 26 1-17 1 22 1 0 1-27 1 21 1-10 1 38 1-33 1 28 1-59 1 52 1-27 1-41 1 59 1-16 1 28 1-11 1-19 1-2 1-12 1 54 1-55 1 36 1-46 1 9 1 72 1-32 1-22 1 33 1-45 1 29 1-42 1-37 1 62 1 25 1-11 1-4 1-17 1-1 1 37 1 17 1-89 1 74 1-74 1 56 1-33 1-43 1 76 1-42 1 51 1-20 1 36 1-27 1-10 1-2 1 44 1-15 1-45 1 23 1 3 1-26 1 25 1 12 1-22 1 1 1 9 1-22 1 30 1-42 1 30 1-11 1 48 1-47 1 21 1 9 1-36 1-2 1 50 1-12 1-36 1 12 1 10 1-11 1-29 1 37 1 15 1-40 1 42 1 34 1-56 1 3 1-36 1 51 1-62 1 57 1-20 1 76 1-54 1-8 1 30 1-5 1-48 1-11 1 41 1 26 1-31 1 34 1-69 1 26 1 28 1 0 1-38 1-2 1 27 1-17 1 35 1-24 1-18 1 27 1-3 1-4 1-27 1 48 1-45 1 13 1 14 1-1 1 15 1-10 1-32 1 39 1-26 1-2 1 23 1-31 1 19 1 9 1-35 1 26 1-33 1-17 1 71 1-46 1 43 1-15 1-34 1-16 1 36 1 25 1-48 1 50 1-21 1-11 1 21 1 15 1-14 1-33 1 31 1 4 1-15 1 0 1 13 1-17 1 12 1 2 1 3 1-47 1 43 1-29 1 36 1-29 1 31 1 18 1-13 1 1 1-46 1 47 1-43 1 49 1-33 1 20 1-21 1-39 1 45 1 15 1-16 1-24 1 45 1-28 1-13 1-14 1 64 1-41 1-21 1 42 1-21 1 12 1-20 1 22 1 13 1-32 1 21 1 33 1-54 1 7 1 7 1-4 1 19 1-2 1-14 1 1 1-18 1 19 1 18 1 3 1-15 1-13 1 8 1-10 1 29 1-1 1-33 1 33 1-29 1 21 1-10 1-34 1 55 1 3 1-52 1 11 1-33 1 98 1-58 1 85 1-70 1 22 1-33 1 17 1-25 1 5 1 30 1-16 1-31 1 40 1-29 1 51 1-30 1 25 1-48 1-12 1 49 1-16 1 5 1-19 1 28 1 0 1-45 1 53 1-29 1 11 1-52 1-13 1 38 1-21 1 55 1 11 1-31 1 23 1-49 1 37 1-34 1-24 1 127 1-32 1-62 1-37 1 106 1 8 1-57 1 64 1-88 1 25 1-100 1-1 1 334 1-323 1 333 1-285 1 158 1-193 1 150 1-132 1 97 1-17 1-21 1-1 1-20 1 50 1-45 1 6 1 29 1 0 1-48 1 18 1 18 1 4 1-37 1 21 1-91 1 108 1-34 1 5 1 37 1-47 1 43 1-7 1-46 1 11 1 51 1-30 1 22 1-6 1-19 1-12 1 26 1-31 1 25 1 1 1-56 1 87 1-27 1-67 1 78 1-106 1 89 1 51 1-30 1 12 1-101 1 96 1-67 1 39 1-36 1 46 1-61 1 95 1-67 1 52 1-52 1 23 1-32 1 46 1-100 1 345 1-267 1-33 1 183 1-170 1 187 1-170 1 75 1-59 1 24 1 11 1-48 1 0 1-27 1 64 1-68 1 53 1-35 1 55 1-42 1-4 1-23 1 53 1-31 1 19 1-34 1 16 1 24 1 9 1-27 1 2 1 45 1-58 1 25 1 19 1-35 1 21 1-41 1 36 1-18 1 22 1-14 1-18 1 34 1-3 1-18 1-1 1 14 1-28 1 42 1-63 1 52 1-4 1-20 1 16 1-46 1-7 1 60 1 5 1-29 1 50 1-34 1-18 1 44 1-17 1-2 1-2 1-18 1 10 1 7 1 1 1 11 1-27 1 23 1-14 1-6 1-30 1 40 1 4 1 18 1-55 1 28 1-42 1 57 1 40 1-57 1 11 1-24 1-2 1 23 1 0 1-2 1-6 1 6 1-4 1 4 1 6 1-7 1-15 1 18 1 6 1-15 1 9 1-30 1 32 1-24 1 23 1-12 1-15 1 40 1-17 1-8 1 19 1-31 1 1 1 19 1-7 1 38 1-24 1-5 1 10 1-22 1 26 1-21 1 31 1-39 1-3 1 18 1 1 1-8 1 4 1 3 1-1 1-6 1-6 1 9 1-4 1 6 1 1 1 9 1-19 1 16 1-15 1 17 1-2 1-9 1-13 1 25 1 8 1-36 1 38 1-20 1-21 1 29 1-68 1 86 1-12 1-17 1 2 1 7 1-15 1-16 1 35 1-22 1 20 1-21 1 26 1-16 1-41 1 47 1-19 1 36 1 3 1-41 1 22 1-29 1 37 1-11 1 1 1-16 1 19 1-15 1-8 1 38 1-6 1-36 1 40 1-58 1 48 1 30 1-21 1-22 1-30 1 53 1-30 1 23 1 6 1-42 1 43 1-14 1-25 1 23 1-9 1 28 1-32 1 35 1-12 1-70 1 50 1-32 1 33 1 27 1-43 1 62 1-48 1 21 1-2 1-12 1 19 1-41 1 30 1-9 1-6 1 13 1-19 1 33 1-28 1 12 1-9 1 29 1-4 1-44 1 30 1-17 1 30 1-31 1-1 1 12 1-7 1 29 1-21 1 12 1-25 1 37 1-6 1-15 1 2 1-14 1-1 1 31 1-34 1 38 1 10 1-47 1 9 1 39 1-39 1 14 1-40 1 26 1 31 1-23 1-3 1-84 1 145 1-133 1 98 1-65 1 15 1 46 1-24 1 29 1-59 1 43 1-37 1 77 1-17 1-37 1-15 1 28 1-1 1-19 1 20 1-21 1-13 1 16 1-4 1 16 1-6 1 6 1 6 1-18 1 4 1 27 1-12 1-31 1 23 1-29 1-7 1 32 1 15 1-31 1 35 1-37 1 16 1-18 1 10 1 17 1-12 1 12 1-14 1 12 1-23 1 31 1-7 1-22 1 27 1-23 1 46 1-45 1 37 1-20 1-12 1-2 1 16 1-44 1 30 1 15 1-13 1 16 1-33 1 29 1-5 1-42 1 42 1-9 1 10 1-47 1 32 1 15 1-50 1 52 1-8 1 7 1-5 1 14 1-22 1 10 1 8 1-26 1 6 1 12 1-10 1 15 1 1 1-25 1 31 1-12 1-7 1-10 1 28 1-31 1 30 1-31 1 8 1 17 1-11 1 29 1-37 1 29 1 10 1-21 1-31 1 37 1-35 1 31 1-11 1 15 1-5 1-8 1 4 1-8 1-8 1 15 1 4 1-7 1-1 1 11 1-20 1 15 1 11 1-13 1-15 1 17 1 6 1-33 1 27 1-17 1 25 1-21 1-1 1 38 1-57 1 26 1 17 1-24 1 3 1 14 1-5 1-12 1-114 1 166 1-84 1 56 1-23 1 12 1-23 1 30 1-7 1 12 1-4 1-26 1 39 1-20 1 4 1-7 1 12 1-23 1-25 1 45 1-6 1-20 1 15 1-7 1 17 1-15 1 18 1-14 1 15 1-6 1 2 1-8 1 2 1-15 1-35 1 56 1-16 1 22 1-11 1-34 1 45 1-40 1 35 1-13 1-11 1 9 1 38 1-55 1 27 1-10 1 25 1-48 1 47 1-10 1-1 1-15 1 21 1-17 1 4 1 18 1-45 1 50 1-1 1-44 1 25 1 13 1-12 1-31 1 29 1 7 1 21 1-131 1 153 1-130 1 141 1-127 1 17 1 85 1-63 1 58 1-11 1-48 1 38 1-30 1 19 1-11 1 18 1-20 1 12 1 12 1-6 1-18 1 13 1 6 1-28 1 31 1-19 1 35 1-63 1 50 1-18 1 11 1 24 1-29 1-22 1 50 1-59 1 43 1 4 1-33 1 21 1-10 1-19 1 29 1-13 1 12 1-12 1 15 1 7 1-16 1-8 1 14 1-5 1 12 1-27 1 27 1-9 1 4 1-28 1 35 1-24 1 27 1-38 1 37 1-34 1 23 1-16 1-8 1 9 1 22 1-6 1-11 1 9 1-16 1 29 1-33 1-24 1 56 1-23 1-17 1 7 1 15 1-43 1 63 1-16 1 5 1-5 1-10 1 20 1-28 1 8 1 13 1 16 1-24 1 13 1-23 1 15 1-7 1 6 1 4 1 1 1-9 1 4 1-5 1-11 1 42 1-20 1 1 1-9 1 1 1 2 1-13 1 14 1 18 1-61 1 67 1-40 1 34 1-29 1 8 1 15 1-31 1 13 1 17 1-7 1-17 1 12 1-15 1 9 1 19 1-21 1 25 1-15 1-69 1 108 1-89 1 78 1-41 1 24 1-23 1-4 1 23 1-29 1 25 1 2 1-34 1 7 1 19 1 22 1-28 1 30 1-26 1-12 1 34 1-46 1 29 1-21 1 17 1-14 1 30 1-10 1 14 1-8 1-32 1 40 1-39 1-12 1 31 1 44 1-93 1 44 1 19 1-5 1-10 1 16 1-12 1-1 1-14 1 1 1 29 1 7 1-69 1 60 1-21 1 20 1-29 1-3 1 28 1 3 1-14 1 15 1-39 1 20 1 6 1-16 1 25 1-99 1 127 1 30 1-112 1 14 1 42 1 4 1-17 1-6 1 25 1-4 1-21 1 1 1 9 1-9 1 12 1-9 1 39 1-22 1-12 1 1 1-9 1 14 1-17 1 19 1-31 1 21 1 13 1-7 1-25 1 14 1 9 1 21 1-41 1 24 1-17 1 26 1-30 1 11 1 13 1-11 1 15 1 2 1-27 1 12 1-15 1 28 1-21 1 15 1-10 1 15 1-23 1-3 1 21 1-6 1-21 1 24 1-12 1 11 1 2 1-16 1 12 1 4 1-16 1 24 1-13 1-10 1 24 1-42 1 33 1-1 1-32 1-3 1 39 1 0 1-22 1-8 1 41 1 1 1-33 1 19 1-23 1-5 1 38 1-3 1-23 1-13 1 32 1-16 1 4 1 1 1 9 1-3 1-16 1 2 1 11 1-8 1 16 1-21 1 16 1 3 1-9 1-9 1 11 1-2 1 10 1-2 1-27 1 11 1 15 1-126 1 211 1-152 1 117 1-92 1 61 1-82 1 70 1-35 1 34 1-2 1-13 1 2 1 12 1-17 1 13 1-12 1 10 1-9 1 14 1-23 1 28 1 2 1 31 1-68 1 32 1-35 1 27 1 12 1-18 1 9 1-16 1 29 1-54 1 38 1-18 1 25 1-31 1 33 1-15 1-3 1 18 1-35 1 31 1-1 1-28 1 24 1 2 1-12 1-10 1 14 1 11 1-10 1-34 1 36 1-27 1 45 1-151 1 223 1-171 1 127 1-95 1 6 1 81 1-4 1-39 1-61 1 77 1-42 1 52 1-16 1 20 1-38 1 33 1-28 1 28 1-36 1 27 1 5 1-71 1 71 1-58 1 54 1-38 1 29 1-3 1 0 1 26 1-11 1-14 1 15 1-37 1 3 1 27 1-13 1 14 1-3 1-11 1 17 1-17 1 10 1 5 1-15 1-29 1 36 1-14 1-57 1 146 1-107 1 54 1-10 1-50 1-12 1 36 1 12 1-52 1 44 1 27 1-17 1-11 1-30 1 51 1-31 1 27 1-36 1 34 1-3 1-15 1 5 1 42 1-45 1 14 1-23 1 35 1-32 1 21 1 6 1-13 1 2 1 12 1 1 1-24 1-14 1 48 1-21 1-27 1 4 1 61 1-49 1 36 1-23 1-25 1 27 1-20 1-8 1 33 1 3 1-48 1 20 1 3 1 30 1-17 1-13 1 13 1 1 1-27 1 15 1 17 1 6 1-24 1-2 1 19 1 2 1-10 1-2 1-8 1 2 1-4 1 12 1 8 1-5 1-20 1 38 1-42 1 33 1-21 1 29 1-12 1 1 1-17 1 0 1 23 1-15 1 3 1 6 1-25 1 27 1-21 1 25 1-19 1-11 1 49 1-51 1 30 1-11 1-14 1 1 1 15 1-9 1 5 1-13 1 23 1 1 1-34 1 34 1-25 1 13 1 19 1-10 1-23 1-2 1 26 1 7 1-42 1 13 1 21 1 2 1-11" fill="none" stroke="#0000ff" stroke-width="0.42" vector-effect="non-scaling-stroke"/>
<path d="M36.50 438.9v-2.9M36.50 379.4v2.9M84.33 438.9v-2.9M84.33 379.4v2.9M132.17 438.9v-2.9M132.17 379.4v2.9M180.00 438.9v-2.9M180.00 379.4v2.9M227.83 438.9v-2.9M227.83 379.4v2.9M275.67 438.9v-2.9M275.67 379.4v2.9M323.50 438.9v-2.9M323.50 379.4v2.9M36.5 438.90h2.9M323.5 438.90h-2.9M36.5 409.15h2.9M323.5 409.15h-2.9M36.5 379.40h2.9M323.5 379.40h-2.9" fill="none" stroke="#747474" stroke-width="1"/>
<rect x="36.5" y="379.4" width="287.0" height="59.50" fill="none" stroke="#747474" stroke-width="1"/>
<text x="36.50" y="451.40" font-size="8.3" text-anchor="middle">0</text>
<text x="84.33" y="451.40" font-size="8.3" text-anchor="middle">20</text>
<text x="132.17" y="451.40" font-size="8.3" text-anchor="middle">40</text>
<text x="180.00" y="451.40" font-size="8.3" text-anchor="middle">60</text>
<text x="227.83" y="451.40" font-size="8.3" text-anchor="middle">80</text>
<text x="275.67" y="451.40" font-size="8.3" text-anchor="middle">100</text>
<text x="323.50" y="451.40" font-size="8.3" text-anchor="middle">120</text>
<text x="33.30" y="442.50" font-size="8.3" text-anchor="end">-1000</text>
<text x="33.30" y="412.75" font-size="8.3" text-anchor="end">0</text>
<text x="33.30" y="383.00" font-size="8.3" text-anchor="end">1000</text>
<text transform="translate(7.60,409.15) rotate(-90)" font-size="9.3" text-anchor="middle">pitch (deg/s/s)</text>
<path transform="translate(36.75 0) scale(0.5 0.1)" d="M0 4926l1 0 1 0 1 0 1 0 1 0 1 0 1 0 1 0 1 0 1 0 1 0 1 0 1 0 1 0 1 0 1 0 1 0 1 0 1 0 1 0 1 0 1 0 1 0 1 0 1 0 1 0 1 0 1 0 1 0 1 0 1 0 1 0 1 0 1 0 1 0 1 0 1 0 1 0 1 0 1 0 1 0 1 0 1 0 1 0 1 0 1 0 1 0 1 0 1 0 1 0 1 0 1 0 1 0 1 0 1 0 1 0 1 0 1 0 1 0 1 0 1 0 1 0 1 0 1 0 1 0 1 0 1 0 1 0 1 0 1 0 1 0 1 0 1 0 1 0 1 0 1 0 1 0 1 0 1 0 1 0 1 0 1 0 1 0 1 0 1 0 1 0 1 0 1 0 1 0 1 0 1 0 1 0 1 0 1 0 1 0 1 0 1 0 1-1 1-2 1-1 1-1 1-1 1 0 1 2 1 1 1 0 1-4 1-1 1 6 1-4 1 8 1-18 1 11 1-2 1-3 1 4 1 4 1-6 1 1 1 1 1-3 1-4 1-1 1-5 1 15 1-2 1 6 1-7 1-7 1 7 1 5 1-10 1 5 1-1 1 3 1 0 1 3 1-1 1-5 1 1 1-28 1 27 1-4 1 16 1-3 1-7 1-2 1 1 1-5 1 4 1 6 1-5 1-1 1-1 1 6 1-5 1-9 1 13 1-4 1 6 1-13 1 7 1 3 1-6 1 5 1 5 1-6 1-4 1-1 1 9 1-7 1 6 1 3 1 0 1-6 1-9 1 10 1-7 1 7 1 5 1-10 1 4 1 1 1 3 1 0 1-1 1-5 1 16 1-22 1 7 1-1 1 1 1-12 1 4 1 1 1 14 1 4 1-9 1-17 1-32 1 35 1 7 1 5 1-2 1 0 1 5 1 1 1 2 1-10 1 5 1 1 1 6 1-7 1-3 1 7 1 0 1-8 1-20 1 24 1 7 1-10 1 0 1 2 1 9 1-13 1 0 1 2 1 0 1-6 1 0 1 11 1-3 1-1 1-3 1 9 1-12 1 9 1 1 1 4 1-6 1-8 1 11 1-4 1-6 1-21 1 25 1 8 1-9 1 4 1-17 1 10 1 3 1-1 1-3 1 12 1 1 1-12 1 5 1-7 1 7 1-6 1 6 1 1 1-10 1 6 1-1 1 11 1 11 1-16 1 7 1-16 1-7 1 23 1-4 1-3 1-3 1 3 1-2 1 6 1-7 1 3 1-15 1 14 1-5 1-8 1 19 1 0 1-2 1-6 1 7 1-6 1 7 1-4 1-2 1 2 1 0 1-3 1 3 1-5 1 0 1 0 1 3 1 6 1-6 1 4 1-18 1 13 1 0 1 3 1-5 1 10 1 1 1-14 1 8 1-9 1 3 1 2 1 6 1-10 1 14 1-5 1-10 1 10 1 4 1-3 1 8 1-11 1 3 1-1 1-13 1 14 1 0 1-6 1 4 1-8 1 8 1-7 1 7 1 4 1-3 1-24 1 24 1-26 1 22 1-1 1 10 1-6 1-3 1 1 1 5 1-5 1-10 1 14 1 4 1-6 1 9 1-9 1 3 1 1 1-1 1 2 1-6 1 0 1 5 1-2 1-4 1 6 1-8 1 7 1 2 1-7 1 2 1-1 1 9 1-12 1 2 1 3 1-2 1-2 1-5 1 8 1 4 1-2 1-8 1-11 1 6 1 10 1-2 1 1 1 13 1-20 1 13 1-3 1 6 1-9 1-12 1 14 1-9 1-9 1 15 1-1 1 4 1-2 1-7 1 13 1-8 1 7 1 2 1-4 1 2 1-1 1-13 1 12 1 2 1-12 1 11 1-3 1-7 1 7 1 0 1-32 1 14 1 16 1 3 1-2 1-3 1 2 1-4 1 11 1-3 1 5 1-12 1 1 1 10 1-7 1 4 1-5 1 0 1 0 1-2 1 6 1 6 1-10 1 10 1-24 1 19 1-5 1 9 1-4 1-1 1-1 1-2 1-2 1 2 1 2 1 5 1-1 1-4 1 2 1 1 1 2 1 0 1-1 1-1 1 7 1-16 1-1 1 2 1 6 1 2 1-2 1-2 1 1 1-8 1 13 1-3 1-1 1-4 1-1 1 5 1-2 1 0 1 4 1-10 1 4 1 7 1-9 1 0 1 12 1-10 1-2 1 2 1 1 1 3 1 2 1-2 1-6 1 1 1 1 1-5 1 3 1-1 1 5 1 0 1-3 1 10 1-9 1 2V4927l-1 7 -1 6 -1-1 -1-10 -1 10 -1-1 -1-8 -1 10 -1 25 -1-26 -1-3 -1-4 -1-3 -1 17 -1-21 -1 8 -1-9 -1 12 -1 24 -1-33 -1 6 -1-2 -1 7 -1-9 -1 7 -1-5 -1 2 -1 3 -1 2 -1-3 -1 7 -1-11 -1 4 -1-5 -1 7 -1-4 -1-1 -1 10 -1-12 -1 0 -1-3 -1 3 -1 3 -1-3 -1-1 -1 6 -1-6 -1 0 -1-3 -1 2 -1 5 -1-2 -1 0 -1 2 -1 3 -1-7 -1 4 -1-4 -1 1 -1 7 -1-8 -1 3 -1 1 -1 12 -1-5 -1-2 -1 0 -1-14 -1 19 -1-2 -1-5 -1-4 -1 15 -1-8 -1-9 -1 6 -1 7 -1-9 -1 0 -1-2 -1-1 -1-4 -1 9 -1-9 -1 12 -1 12 -1-2 -1-9 -1-8 -1-8 -1 12 -1-1 -1-7 -1 14 -1-9 -1-2 -1 12 -1-15 -1 4 -1 0 -1 2 -1-4 -1 8 -1 4 -1-5 -1-7 -1 4 -1 11 -1-6 -1-15 -1 35 -1-20 -1-4 -1-1 -1-1 -1 6 -1-10 -1 10 -1 1 -1-12 -1 0 -1 11 -1 0 -1-6 -1 7 -1-10 -1 10 -1-3 -1 5 -1-8 -1-2 -1 2 -1-4 -1 2 -1-4 -1-2 -1 2 -1 3 -1 5 -1-5 -1 0 -1 0 -1-4 -1 4 -1-3 -1 5 -1-1 -1 0 -1-2 -1-1 -1 8 -1-3 -1-9 -1 9 -1-3 -1 3 -1-4 -1 4 -1-5 -1 2 -1-3 -1 17 -1-11 -1 4 -1-1 -1 15 -1-18 -1-4 -1 18 -1-17 -1-5 -1 2 -1 2 -1-5 -1 7 -1-1 -1-2 -1 4 -1 2 -1-6 -1 9 -1 16 -1-11 -1-11 -1 2 -1-1 -1-1 -1 6 -1 13 -1-23 -1 0 -1 9 -1 3 -1-5 -1-6 -1 11 -1 1 -1-3 -1-8 -1 5 -1 6 -1 1 -1-3 -1-4 -1-3 -1 5 -1-12 -1 5 -1 3 -1 6 -1-5 -1 7 -1-9 -1 3 -1 0 -1 5 -1-7 -1 1 -1 7 -1-8 -1-4 -1 8 -1 4 -1-1 -1-8 -1 0 -1 0 -1-4 -1-1 -1 5 -1-5 -1 5 -1 2 -1-1 -1 11 -1-4 -1-1 -1-4 -1-6 -1 11 -1-11 -1 0 -1-2 -1 10 -1 0 -1 20 -1-15 -1-11 -1-4 -1 21 -1-10 -1 4 -1-1 -1-8 -1 7 -1-7 -1-1 -1-8 -1 20 -1-13 -1 0 -1-1 -1 8 -1-9 -1-2 -1 10 -1-3 -1 0 -1-3 -1 1 -1-2 -1 38 -1-42 -1 0 -1 11 -1 1 -1-8 -1 17 -1-7 -1-6 -1 17 -1-17 -1 4 -1-1 -1-3 -1 1 -1 1 -1 17 -1-20 -1 8 -1-14 -1 10 -1-7 -1 2 -1 0 -1 1 -1 2 -1-10 -1 8 -1 5 -1-5 -1 0 -1-1 -1 0 -1 4 -1-2 -1 28 -1 57 -1-84 -1 1 -1-1 -1-5 -1 5 -1 3 -1 8 -1-9 -1-5 -1-3 -1 6 -1 6 -1-9 -1 1 -1-3 -1 6 -1-3 -1-5 -1 0 -1 12 -1-1 -1-6 -1 2 -1 6 -1-6 -1-1 -1 3 -1-3 -1 7 -1-10 -1 3 -1 1 -1 0 -1-8 -1 19 -1-15 -1 11 -1-10 -1-1 -1 2 -1 4 -1-1 -1-10 -1 6 -1-2 -1 15 -1-8 -1 6 -1 9 -1-15 -1-10 -1 12 -1-7 -1 4 -1-2 -1 6 -1-6 -1 4 -1 11 -1-20 -1 1 -1 12 -1-4 -1-1 -1-6 -1 1 -1-3 -1 11 -1-8 -1 4 -1-2 -1-5 -1 3 -1-1 -1 13 -1-10 -1-1 -1 2 -1-5 -1-5 -1 3 -1-2 -1 13 -1-3 -1-9 -1-3 -1 7 -1 9 -1-2 -1-9 -1 5 -1-5 -1 2 -1-2 -1-2 -1 2 -1 15 -1-11 -1-3 -1 2 -1-4 -1 1 -1-1 -1 0 -1 0 -1 0 -1 0 -1 0 -1 0 -1 0 -1 0 -1 0 -1 0 -1 0 -1 0 -1 0 -1 0 -1 0 -1 0 -1 0 -1 0 -1 0 -1 0 -1 0 -1 0 -1 0 -1 0 -1 0 -1 0 -1 0 -1 0 -1 0 -1 0 -1 0 -1 0 -1 0 -1 0 -1 0 -1 0 -1 0 -1 0 -1 0 -1 0 -1 0 -1 0 -1 0 -1 0 -1 0 -1 0 -1 0 -1 0 -1 0 -1 0 -1 0 -1 0 -1 0 -1 0 -1 0 -1 0 -1 0 -1 0 -1 0 -1 0 -1 0 -1 0 -1 0 -1 0 -1 0 -1 0 -1 0 -1 0 -1 0 -1 0 -1 0 -1 0 -1 0 -1 0 -1 0 -1 0 -1 0 -1 0 -1 0 -1 0 -1 0 -1 0 -1 0 -1 0 -1 0 -1 0 -1 0 -1 0 -1 0 -1 0 -1 0 -1 0 -1 0 -1 0 -1 0 -1 0 -1 0z" fill="#0000ff"/>
<path transform="scale(0.08333333333333333 0.1)" d="M438 4926l1 0 1 0 1 0 1 0 1 0 1 0 1 0 1 0 1 0 1 0 1 0 1 0 1 0 1 0 1 0 1 0 1 0 1 0 1 0 1 0 1 0 1 0 1 0 1 0 1 0 1 0 1 0 1 0 1 0 1 0 1 0 1 0 1 0 1 0 1 0 1 0 1 0 1 0 1 0 1 0 1 0 1 0 1 0 1 0 1 0 1 0 1 0 1 0 1 0 1 0 1 0 1 0 1 0 1 0 1 0 1 0 1 0 1 0 1 0 1 0 1 0 1 0 1 0 1 0 1 0 1 0 1 0 1 0 1 0 1 0 1 0 1 0 1 0 1 0 1 0 1 0 1 0 1 0 1 0 1 0 1 0 1 0 1 0 1 0 1 0 1 0 1 0 1 0 1 0 1 0 1 0 1 0 1 0 1 0 1 0 1 0 1 0 1 0 1 0 1 0 1 0 1 0 1 0 1 0 1 0 1 0 1 0 1 0 1 0 1 0 1 0 1 0 1 0 1 0 1 0 1 0 1 0 1 0 1 0 1 0 1 0 1 0 1 0 1 0 1 0 1 0 1 0 1 0 1 0 1 0 1 0 1 0 1 0 1 0 1 0 1 0 1 0 1 0 1 0 1 0 1 0 1 0 1 0 1 0 1 0 1 0 1 0 1 0 1 0 1 0 1 0 1 0 1 0 1 0 1 0 1 0 1 0 1 0 1 0 1 0 1 0 1 0 1 0 1 0 1 0 1 0 1 0 1 0 1 0 1 0 1 0 1 0 1 0 1 0 1 0 1 0 1 0 1 0 1 0 1 0 1 0 1 0 1 0 1 0 1 0 1 0 1 0 1 0 1 0 1 0 1 0 1 0 1 0 1 0 1 0 1 0 1 0 1 0 1 0 1 0 1 0 1 0 1 0 1 0 1 0 1 0 1 0 1 0 1 0 1 0 1 0 1 0 1 0 1 0 1 0 1 0 1 0 1 0 1 0 1 0 1 0 1 0 1 0 1 0 1 0 1 0 1 0 1 0 1 0 1 0 1 0 1 0 1 0 1 0 1 0 1 0 1 0 1 0 1 0 1 0 1 0 1 0 1 0 1 0 1 0 1 0 1 0 1 0 1 0 1 0 1 0 1 0 1 0 1 0 1 0 1 0 1 0 1 0 1 0 1 0 1 0 1 0 1 0 1 0 1 0 1 0 1 0 1 0 1 0 1 0 1 0 1 0 1 0 1 0 1 0 1 0 1 0 1 0 1 0 1 0 1 0 1 0 1 0 1 0 1 0 1 0 1 0 1 0 1 0 1 0 1 0 1 0 1 0 1 0 1 0 1 0 1 0 1 0 1 0 1 0 1 0 1 0 1 0 1 0 1 0 1 0 1 0 1 0 1 0 1 0 1 0 1 0 1 0 1 0 1 0 1 0 1 0 1 0 1 0 1 0 1 0 1 0 1 0 1 0 1 0 1 0 1 0 1 0 1 0 1 0 1 0 1 0 1 0 1 0 1 0 1 0 1 0 1 0 1 0 1 0 1 0 1 0 1 0 1 0 1 0 1 0 1 0 1 0 1 0 1 0 1 0 1 0 1 0 1 0 1 0 1 0 1 0 1 0 1 0 1 0 1 0 1 0 1 0 1 0 1 0 1 0 1 0 1 0 1 0 1 0 1 0 1 0 1 0 1 0 1 0 1 0 1 0 1 0 1 0 1 0 1 0 1 0 1 0 1 0 1 0 1 0 1 0 1 0 1 0 1 0 1 0 1 0 1 0 1 0 1 0 1 0 1 0 1 0 1 0 1 0 1 0 1 0 1 0 1 0 1 0 1 0 1 0 1 0 1 0 1 0 1 0 1 0 1 0 1 0 1 0 1 0 1 0 1 0 1 0 1 0 1 0 1 0 1 0 1 0 1 0 1 0 1 0 1 0 1 0 1 0 1 0 1 0 1 0 1 0 1 0 1 0 1 0 1 0 1 0 1 0 1 0 1 0 1 0 1 0 1 0 1 0 1 0 1 0 1 0 1 0 1 0 1 0 1 0 1 0 1 0 1 0 1 0 1 0 1 0 1 0 1 0 1 0 1 0 1 0 1 0 1 0 1 0 1 0 1 0 1 0 1 0 1 0 1 0 1 0 1 0 1 0 1 0 1 0 1 0 1 0 1 0 1 0 1 0 1 0 1 0 1 0 1 0 1 0 1 0 1 0 1 0 1 0 1 0 1 0 1 0 1 0 1 0 1 0 1 0 1 0 1 0 1 0 1 0 1 0 1 0 1 0 1 0 1 0 1 0 1 0 1 0 1 0 1 0 1 0 1 0 1 0 1 0 1 0 1 0 1 0 1 0 1 0 1 0 1 0 1 0 1 0 1 0 1 0 1 0 1 0 1 0 1 0 1 0 1 0 1 0 1 0 1 0 1 0 1 0 1 0 1 0 1 0 1 0 1 0 1 0 1 0 1 0 1 0 1 0 1 0 1 0 1 0 1 0 1 0 1 0 1 0 1 0 1 0 1 0 1 0 1 0 1 0 1 0 1 0 1 0 1 0 1 0 1 0 1 0 1 0 1 0 1 0 1 0 1 0 1 0 1 0 1 0 1 0 1 0 1 0 1 0 1 0 1 1 1-1 1 0 1 2 1-3 1 1 1 3 1 1 1-4 1-3 1 2 1 7 1-10 1 1 1 5 1-6 1 4 1-4 1 4 1 6 1-11 1 15 1-16 1 5 1 23 1-25 1-10 1 25 1-20 1 16 1-18 1 48 1-37 1-5 1-7 1-10 1 27 1-24 1 41 1-5 1-24 1 15 1-13 1 11 1-11 1 7 1-7 1-3 1 17 1-13 1 2 1-4 1 6 1-3 1 6 1-7 1 6 1 6 1-14 1 13 1-6 1 3 1-25 1 9 1 7 1 7 1-15 1 10 1 9 1 0 1-18 1 22 1-12 1 8 1-19 1 6 1 16 1-6 1-9 1-4 1 20 1-17 1 7 1 10 1-30 1 19 1 12 1 3 1-12 1-28 1 40 1-35 1 33 1-26 1 37 1-7 1-22 1-1 1 13 1-11 1 9 1 7 1-23 1 19 1-15 1 4 1 1 1-9 1 15 1-6 1 7 1-15 1 6 1 26 1-44 1 25 1-9 1 26 1-42 1-11 1 56 1-25 1 12 1-10 1 33 1-36 1-7 1 15 1-25 1 31 1-18 1 16 1-18 1 0 1 11 1-5 1 19 1-18 1-4 1-1 1 20 1-14 1-10 1-10 1 37 1-12 1-11 1-2 1 18 1-4 1-26 1 35 1-24 1 23 1-58 1 31 1 23 1-7 1 5 1 3 1-31 1 29 1-22 1 29 1-40 1 1 1 33 1-17 1 38 1-32 1 20 1-16 1-11 1-14 1 33 1-8 1-8 1-2 1 13 1 2 1-10 1 20 1-16 1-10 1 15 1-5 1-8 1 18 1-11 1 3 1-13 1 4 1 14 1-22 1 31 1-24 1-12 1 36 1-26 1 20 1-18 1 17 1-40 1 27 1 6 1-34 1 39 1-10 1 15 1-24 1 25 1-28 1 31 1 19 1-50 1 52 1-80 1 35 1 28 1-45 1 27 1 13 1-21 1 6 1-16 1 21 1-15 1 14 1-4 1-13 1 19 1-7 1-5 1 0 1 21 1 5 1-29 1 19 1-27 1 25 1-13 1 12 1 6 1-2 1-15 1-5 1 31 1-26 1 15 1 6 1-22 1 5 1-10 1 13 1-11 1 16 1-19 1 5 1 7 1 33 1-60 1 28 1-10 1-28 1 64 1-6 1-37 1 48 1-86 1 65 1-5 1-2 1-15 1 1 1 47 1-22 1-29 1-2 1 16 1-20 1 45 1-16 1 16 1-46 1 54 1-31 1 10 1 3 1-22 1 7 1 4 1-9 1 13 1 11 1-15 1-12 1 16 1-14 1-9 1 7 1 12 1-20 1 34 1-28 1 21 1-2 1-43 1 54 1-29 1 1 1 25 1-38 1 25 1-27 1 40 1-31 1 9 1 24 1-29 1 28 1-26 1 6 1-21 1 19 1 37 1-9 1-42 1 26 1 37 1-34 1-25 1 3 1 30 1-28 1 36 1-18 1-26 1 14 1 30 1-45 1 26 1-27 1 55 1-40 1-12 1 14 1 23 1-13 1-28 1 26 1-16 1 12 1-7 1 11 1-16 1 23 1-20 1-5 1 16 1-12 1-13 1-1 1 35 1-5 1-19 1 5 1 14 1-13 1 3 1-14 1 40 1-44 1 29 1-16 1 34 1-13 1-24 1 15 1-9 1-11 1 28 1-29 1 20 1 5 1-13 1-22 1 37 1-11 1-22 1 15 1-8 1 3 1 23 1-10 1 4 1 14 1-35 1 12 1 18 1 2 1-23 1 10 1-13 1-7 1 32 1-13 1-17 1-1 1 37 1-29 1 46 1-62 1 42 1-20 1 12 1-13 1 2 1-13 1 16 1 13 1-61 1 64 1-26 1-14 1 26 1 8 1-25 1 20 1-21 1 19 1-18 1 21 1-25 1 23 1-27 1 33 1-23 1 21 1-15 1 18 1-38 1 28 1-8 1-7 1 30 1 1 1-61 1 55 1-17 1 9 1-38 1 22 1 24 1-19 1 33 1-18 1-12 1 39 1-45 1 1 1 15 1 7 1-39 1 25 1 6 1-9 1 17 1-22 1 15 1-18 1 20 1-23 1 30 1-12 1-12 1-10 1 34 1 4 1-62 1 32 1 16 1 20 1-34 1-3 1 12 1 29 1-63 1 9 1 32 1-3 1-20 1 26 1-12 1-21 1 70 1-30 1-26 1-56 1 82 1-10 1-11 1 10 1-18 1 24 1-33 1 7 1 8 1 5 1-14 1 14 1-20 1 15 1 6 1-14 1 14 1-3 1-34 1 41 1-6 1 6 1-11 1 16 1-15 1-13 1 18 1-5 1 13 1-13 1 11 1 0 1-12 1 8 1-8 1 0 1 13 1-5 1-8 1 13 1-15 1-12 1 27 1-18 1 7 1 17 1-20 1 20 1-6 1-12 1 19 1 3 1-9 1-29 1 28 1-20 1-4 1-12 1 53 1-29 1-6 1 46 1-67 1 23 1 27 1-8 1-22 1 16 1-17 1 17 1-15 1-3 1 33 1-54 1 28 1 28 1-21 1 21 1-44 1 1 1 40 1-84 1 119 1-77 1 34 1-9 1 45 1-47 1-16 1 18 1 15 1-7 1-27 1-4 1 29 1-17 1 11 1 1 1-5 1 13 1-27 1 26 1-5 1-50 1 51 1 12 1-16 1-24 1 31 1-14 1 31 1-24 1-26 1 0 1 26 1-28 1 41 1 24 1-268 1 505 1-367 1 35 1 129 1-137 1 156 1-46 1-62 1 51 1-58 1 0 1 37 1-57 1 71 1-28 1-14 1 21 1-47 1 31 1 73 1-78 1 15 1-27 1 33 1-2 1-8 1 17 1-25 1-22 1 36 1-9 1-14 1 9 1 48 1-41 1 19 1-2 1-19 1-6 1 18 1 1 1-23 1-4 1 29 1-14 1 7 1 10 1-32 1 34 1-5 1-6 1-11 1 5 1 14 1-16 1-11 1 11 1 11 1-23 1 39 1-24 1-2 1 1 1-19 1-10 1 34 1-31 1 41 1-19 1 9 1 8 1-19 1 4 1 27 1-22 1-7 1 20 1-14 1-12 1 9 1 13 1-22 1 22 1-17 1 1 1 12 1-21 1 13 1-8 1 23 1-7 1-25 1 19 1-10 1 9 1 6 1-15 1 21 1-10 1 14 1-23 1 22 1-26 1 27 1 9 1-35 1-5 1 15 1-87 1 103 1 17 1-40 1 3 1-28 1 65 1-36 1 5 1-23 1 32 1-22 1 24 1 18 1-45 1 46 1-40 1 25 1-28 1 20 1 2 1-15 1 33 1-40 1 10 1 34 1-63 1 21 1 27 1-24 1 17 1-10 1-9 1 17 1-19 1 21 1-9 1 8 1 13 1-30 1 29 1-56 1 49 1-28 1-7 1 29 1 33 1-52 1 4 1 26 1-46 1 45 1-35 1 17 1-19 1 23 1-8 1 44 1-57 1 56 1-29 1-9 1-26 1 47 1-14 1-32 1 41 1-25 1-13 1 39 1-4 1-31 1 40 1-39 1-17 1 45 1-48 1 58 1-30 1 7 1-4 1 15 1-2 1-19 1-9 1 32 1 10 1-36 1 19 1-13 1 18 1-20 1 21 1 9 1-29 1 13 1-30 1 63 1-49 1 8 1-3 1 7 1-3 1 3 1 0 1-8 1 7 1 6 1 55 1-75 1 0 1 39 1 25 1-82 1 27 1 14 1 2 1-10 1 2 1-14 1 27 1-20 1 1 1 21 1-11 1-46 1 40 1 24 1-39 1 22 1-2 1-6 1 14 1-20 1 14 1-21 1 19 1 8 1-28 1 23 1 4 1-226 1 277 1-165 1 127 1-58 1 32 1 12 1-15 1 20 1-24 1 9 1 6 1-25 1 29 1-13 1-2 1 18 1-15 1-34 1 8 1 28 1 34 1-47 1 24 1-63 1 9 1 51 1-22 1 11 1-9 1 25 1-24 1 16 1-9 1 7 1 1 1-7 1-23 1 38 1-26 1 22 1-27 1 18 1-3 1 27 1-51 1 41 1-24 1 36 1-8 1-25 1-2 1-23 1 24 1 32 1-63 1 37 1 9 1-27 1 26 1-20 1-2 1 36 1-13 1-8 1 5 1-41 1 56 1-34 1 29 1-26 1-55 1 65 1 94 1-114 1 60 1-66 1 35 1-35 1 58 1-34 1 3 1 25 1-5 1-47 1 19 1 6 1 21 1-32 1 36 1-24 1 10 1-21 1-5 1 26 1-26 1 34 1-30 1 22 1-6 1 29 1-56 1 47 1-33 1 20 1-47 1 46 1-39 1 30 1-3 1 11 1-19 1 19 1-2 1-8 1 14 1-19 1-72 1 138 1-5 1-82 1 45 1-31 1-10 1 64 1-8 1-40 1 52 1-40 1-19 1 27 1 2 1-13 1-8 1 20 1-33 1 34 1 7 1-46 1 8 1 29 1-18 1 12 1-3 1-24 1 10 1 10 1 4 1-19 1 10 1 22 1-4 1-27 1 26 1-12 1 5 1-5 1-7 1 16 1 7 1-3 1-61 1 77 1-8 1-10 1-8 1-7 1-3 1 14 1 8 1-21 1 15 1-16 1 24 1-12 1-3 1 16 1-3 1-29 1 5 1 29 1-182 1 284 1-183 1 102 1-101 1 76 1 0 1-26 1-10 1 40 1-10 1 24 1-30 1-11 1-7 1 23 1 3 1-14 1 13 1-7 1 6 1-17 1 25 1-19 1-12 1 27 1-24 1 18 1 9 1-25 1-11 1 27 1-15 1 10 1-10 1 16 1-13 1-1 1-2 1 15 1 3 1-25 1 27 1-24 1 6 1 5 1 4 1-7 1 5 1 4 1-6 1-10 1-8 1 48 1-26 1-10 1 13 1-21 1-5 1 40 1-26 1 13 1-29 1 34 1-33 1 15 1-41 1 60 1-30 1 30 1 1 1-21 1 11 1-21 1 9 1 23 1-23 1-88 1 142 1-101 1 9 1 76 1-1 1-53 1 36 1-18 1-6 1 32 1-38 1 34 1-8 1-9 1 5 1-14 1 10 1-6 1 5 1 10 1-12 1 15 1-5 1-13 1 20 1-27 1 30 1-40 1 16 1-14 1 45 1-15 1 0 1 4 1-5 1-16 1 28 1-23 1 7 1-9 1 13 1-16 1-11 1 40 1-6 1-17 1-4 1 28 1 5 1-28 1 16 1-20 1 3 1-14 1 2 1 32 1-15 1-10 1-4 1 34 1-30 1 23 1-21 1 14 1-7 1-22 1 29 1-15 1 24 1-32 1 9 1 11 1 10 1-21 1 29 1-37 1 29 1-13 1-11 1 4 1-23 1 42 1 3 1-25 1 2 1 19 1-38 1 39 1-11 1-14 1 29 1-31 1-9 1 32 1-21 1 15 1-15 1 9 1-2 1-10 1 3 1 20 1-7 1-41 1 50 1-19 1 19 1-23 1 30 1-23 1-16 1 25 1-6 1 11 1-2 1-2 1-27 1 38 1-32 1 25 1-13 1 26 1 1 1-27 1 17 1-20 1 2 1 27 1-44 1 39 1 15 1-51 1-11 1 18 1 27 1-10 1 29 1-47 1 37 1-34 1-16 1 47 1-28 1-19 1 21 1 14 1-23 1 13 1 22 1-23 1 7 1-9 1-3 1 20 1 3 1-30 1 1 1 25 1 3 1-16 1 21 1-18 1 14 1-32 1 17 1-13 1 26 1-15 1 33 1-32 1-10 1-4 1 17 1-23 1 12 1 13 1-11 1 16 1-16 1 22 1-7 1-28 1-44 1 122 1-74 1 36 1-42 1 35 1 2 1-28 1 27 1-28 1 14 1-13 1-1 1 15 1-2 1-11 1 1 1 13 1-6 1-12 1 33 1-20 1 15 1-26 1-12 1 42 1 10 1-44 1 46 1-43 1 32 1-18 1 9 1-8 1 11 1-55 1 60 1-13 1-6 1-9 1 1 1 18 1-5 1 13 1-21 1-13 1 33 1-40 1 20 1 13 1-21 1 21 1-21 1 28 1-4 1-12 1-5 1 12 1 4 1-12 1 19 1-29 1 15 1-30 1 45 1-11 1-3 1 31 1-14 1-16 1-4 1 27 1-14 1-24 1 6 1 39 1-24 1-27 1 25 1-17 1 6 1 14 1-20 1 5 1-5 1 17 1-11 1 12 1-16 1 15 1-19 1 36 1-59 1 30 1 10 1-37 1 33 1-5 1-4 1 3 1 16 1-22 1 14 1-6 1-48 1 61 1-16 1 6 1 4 1-18 1 2 1 20 1 12 1-38 1 27 1-17 1 7 1-7 1 5 1-19 1 28 1-24 1-2 1 36 1-32 1 18 1-5 1-11 1 29 1-19 1-5 1 19 1-12 1-42 1 38 1-7 1-3 1 23 1-14 1 35 1-50 1 25 1 6 1-18 1 5 1 24 1-12 1 19 1 4 1-51 1 18 1-5 1 38 1-70 1 32 1 10 1 8 1-26 1-30 1 51 1 34 1-71 1 61 1-67 1 70 1-40 1 20 1-29 1 22 1-45 1 48 1-12 1 19 1-51 1 24 1 25 1-27 1 28 1-30 1 20 1-12 1 21 1-19 1 11 1-20 1 2 1 29 1-25 1 14 1-8 1-2 1 28 1-12 1-21 1 15 1-14 1 0 1 3 1-4 1 14 1-23 1 16 1-11 1 26 1-36 1 35 1-11 1-13 1 9 1 27 1-10 1-36 1 28 1-3 1-5 1 15 1-5 1-21 1 3 1 18 1-21 1 13 1 12 1-33 1 27 1-37 1 35 1-24 1 37 1-19 1-7 1 11 1-8 1 6 1 9 1-12 1 4 1 5 1-21 1 27 1-28 1 11 1-3 1 5 1 3 1-5 1 8 1-6 1 25 1-21 1-3 1 8 1-33 1 48 1-37 1 19 1-11 1 16 1-10 1 3 1-8 1 3 1 12 1-10 1 10 1-10 1 3 1-8 1 3 1 8 1-8 1-3 1 18 1-18 1 7 1-5 1-2 1 12 1 3 1-11 1 1 1 3 1-3 1-9 1 13 1 3 1-21 1 25 1-21 1 12 1-14 1 31 1-22 1 5 1 3 1-9 1 11 1-9 1 7 1-8 1 2 1-3 1 7 1-7 1 8 1-18 1-4 1 23 1-5 1 6 1 1 1-15 1 11 1-14 1 17 1-8 1 7 1-9 1 5 1-15 1 11 1 11 1-19 1 32 1-24 1-13 1 27 1-13 1 14 1-5 1 0 1-24 1 22 1-6 1 7 1-8 1-7 1 18 1-1 1-14 1-3 1 10 1 5 1-12 1 8 1-12 1-8 1 17 1-8 1 11 1-9 1 13 1-14 1 10 1 1 1-1 1 9 1-21 1 15 1 1 1-3 1-16 1 17 1-14 1 21 1-18 1 27 1-19 1-12 1 21 1-18 1 14 1-3 1-13 1 19 1-14 1 7 1 7 1-1 1-15 1 19 1-25 1 19 1 4 1-21 1 26 1 28 1-44 1 17 1-65 1 53 1 7 1 8 1-35 1 18 1-26 1 11 1 48 1-19 1-10 1-15 1 23 1-16 1-6 1 6 1 3 1 9 1-10 1 5 1 11 1-29 1 29 1-2 1-18 1-1 1-11 1 27 1-9 1-16 1 32 1-5 1-23 1-16 1 68 1-49 1 36 1-47 1 27 1 4 1-16 1-18 1 45 1-38 1 9 1 13 1-15 1 0 1 12 1-16 1 12 1 1 1-17 1 30 1-20 1-18 1 27 1 15 1-26 1-1 1 26 1 4 1-26 1 13 1-7 1 3 1 10 1-18 1-16 1 31 1-38 1 11 1 25 1 8 1-23 1 14 1-14 1 18 1-15 1 12 1-20 1 5 1 6 1-10 1 16 1 6 1-12 1-6 1 33 1-25 1-14 1 19 1-18 1 2 1 18 1-20 1 58 1-31 1-15 1 11 1-46 1 13 1 48 1 10 1-44 1 39 1-69 1 80 1-52 1-7 1 13 1 41 1-42 1-37 1 30 1-20 1 18 1 25 1-18 1-17 1 70 1-66 1 92 1-29 1-60 1 34 1-28 1-17 1 32 1-18 1 31 1-11 1-18 1-12 1 20 1-13 1 26 1-16 1 10 1-37 1 51 1-38 1 30 1-18 1 10 1 32 1-47 1 18 1-32 1 38 1-28 1 55 1-46 1 5 1 18 1-14 1-12 1 29 1-32 1 17 1-12 1 22 1-25 1 22 1-6 1 5 1-16 1 5 1-2 1 9 1-12 1-2 1 13 1 11 1-14 1-7 1 16 1-18 1 13 1-11 1 3 1-1 1 5 1-14 1 11 1 11 1-13 1 13 1-27 1 17 1 18 1-1 1-21 1 9 1-25 1 19 1-37 1 48 1-27 1 13 1 11 1 16 1-37 1 24 1-30 1 15 1 22 1-20 1 19 1-16 1-3 1-12 1 20 1-28 1 18 1 38 1-39 1-4 1 9 1-4 1 20 1-4 1-14 1 14 1-33 1 27 1 9 1-24 1 15 1-1 1-33 1 15 1 11 1-13 1 23 1-1 1-15 1-16 1 48 1-20 1 16 1-6 1-12 1 13 1-27 1 38 1-14 1 12 1-45 1-64 1 176 1-163 1 153 1-122 1 79 1-63 1 55 1-5 1-49 1 14 1 26 1-20 1 37 1-44 1 20 1-10 1-4 1-4 1 17 1-7 1 21 1-33 1 24 1-21 1 19 1 3 1-11 1-21 1 19 1-6 1 12 1-3 1-14 1 3 1 16 1 11 1-33 1-3 1 18 1 17 1-31 1 22 1-20 1 10 1-16 1 25 1-5 1 7 1-17 1 12 1-13 1 16 1-23 1 10 1 15 1-15 1 18 1-1 1-26 1 34 1-29 1 18 1 11 1-34 1 17 1 13 1-28 1-3 1 35 1-31 1 36 1-44 1 23 1 0 1-14 1 4 1 7 1 12 1 17 1-20 1-22 1 16 1-19 1 7 1 36 1-3 1-18 1-1 1-22 1 39 1-34 1 22 1-15 1 0 1 14 1-19 1 23 1-60 1 61 1-18 1 18 1-38 1 52 1-17 1-50 1 22 1 33 1-15 1 16 1-27 1 35 1-2 1-43 1 5 1 8 1-5 1 27 1-1 1-21 1 4 1 20 1-35 1 19 1 3 1-10 1 6 1 12 1-10 1 9 1 2 1-20 1 28 1-51 1 20 1 28 1 0 1-18 1 18 1-35 1 17 1 21 1-16 1-34 1 35 1-30 1-5 1 44 1-17 1-3 1 16 1-19 1 20 1-22 1 23 1-45 1 22 1 16 1-7 1-11 1 26 1-15 1 24 1-24 1 11 1-13 1 17 1-17 1-7 1 13 1-18 1 14 1-5 1 7 1 4 1-10 1 16 1-31 1 11 1 14 1 18 1-33 1 3 1 23 1-37 1 23 1 0 1-38 1 63 1-36 1 17 1-19 1 43 1-46 1 3 1 23 1-22 1 14 1-12 1 14 1-24 1 29 1-10 1-16 1 42 1-34 1 20 1-32 1 27 1-9 1-6 1 12 1-3 1-4 1-2 1 2 1 0 1 8 1 4 1-15 1 8 1-10 1 6 1-21 1 27 1-10 1 11 1-11 1-4 1 8 1-4 1 6 1 5 1-8 1 4 1-7 1 1 1 6 1 0 1-4 1-2 1 4 1 5 1-7 1 12 1-9 1-13 1 20 1 5 1-17 1-5 1 21 1-16 1 3 1-1 1 4 1 6 1-12 1-1 1 16 1-8 1-8 1 8 1 6 1-14 1 8 1 0 1 3 1-12 1 11 1-18 1 18 1-23 1 19 1 2 1-8 1 5 1-15 1-6 1 23 1-8 1 13 1-28 1 45 1-40 1 19 1-18 1 15 1 5 1-6 1-13 1 17 1 12 1-19 1-2 1 8 1 2 1 32 1-35 1-14 1 25 1-18 1 2 1 9 1 8 1-15 1-6 1 7 1 3 1-17 1 32 1-24 1-3 1 11 1-16 1 29 1-23 1 18 1 3 1-36 1 9 1 18 1 0 1 11 1-28 1 19 1-7 1 16 1-16 1-6 1 16 1-4 1 3 1-21 1 29 1-3 1-24 1 30 1-7 1-21 1 26 1-28 1 21 1-17 1 16 1-21 1-20 1 33 1 4 1 38 1-54 1 23 1 0 1-38 1 36 1-33 1 34 1-16 1 33 1-28 1 4 1-15 1 13 1-11 1 7 1-5 1 23 1-28 1 5 1 24 1-45 1 51 1-26 1 3 1-10 1 21 1-26 1 10 1-15 1 45 1-20 1-18 1-4 1 23 1-7 1 13 1-17 1 25 1-8 1-26 1 12 1 9 1-3 1-20 1 2 1 21 1-1 1-19 1 2 1 35 1-23 1-8 1 12 1-36 1 49 1-50 1 76 1-37 1 27 1-55 1 28 1-18 1 0 1 28 1-37 1 30 1-19 1 22 1-20 1-11 1 31 1-30 1 15 1-8 1 29 1-29 1 24 1-12 1-11 1 14 1-29 1 21 1 10 1-27 1 14 1 17 1-16 1 29 1-10 1-36 1 15 1 27 1-32 1 15 1-6 1 20 1-39 1 20 1 1 1 7 1-13 1 16 1-21 1 27 1-5 1-6 1 24 1-39 1-2 1 25 1 1 1-20 1-5 1 25 1-29 1 34 1-6 1 27 1-53 1 61 1-58 1 50 1-76 1 54 1 1 1-32 1 19 1-40 1 63 1-41 1 16 1-14 1-2 1 33 1-45 1 34 1 3 1-34 1 37 1-26 1 4 1 18 1-21 1 30 1-2 1-31 1 7 1 15 1-40 1 34 1-7 1 34 1-26 1 14 1-4 1-24 1 23 1-32 1 33 1-8 1-9 1 39 1-37 1 8 1 6 1-23 1-12 1 30 1 12 1-29 1 0 1 25 1-28 1 13" fill="none" stroke="#0000ff" stroke-width="0.42" vector-effect="non-scaling-stroke"/>
<path d="M36.50 522.5v-2.9M36.50 462.8v2.9M84.33 522.5v-2.9M84.33 462.8v2.9M132.17 522.5v-2.9M132.17 462.8v2.9M180.00 522.5v-2.9M180.00 462.8v2.9M227.83 522.5v-2.9M227.83 462.8v2.9M275.67 522.5v-2.9M275.67 462.8v2.9M323.50 522.5v-2.9M323.50 462.8v2.9M36.5 522.50h2.9M323.5 522.50h-2.9M36.5 492.65h2.9M323.5 492.65h-2.9M36.5 462.80h2.9M323.5 462.80h-2.9" fill="none" stroke="#747474" stroke-width="1"/>
<rect x="36.5" y="462.8" width="287.0" height="59.70" fill="none" stroke="#747474" stroke-width="1"/>
<text x="36.50" y="535.00" font-size="8.3" text-anchor="middle">0</text>
<text x="84.33" y="535.00" font-size="8.3" text-anchor="middle">20</text>
<text x="132.17" y="535.00" font-size="8.3" text-anchor="middle">40</text>
<text x="180.00" y="535.00" font-size="8.3" text-anchor="middle">60</text>
<text x="227.83" y="535.00" font-size="8.3" text-anchor="middle">80</text>
<text x="275.67" y="535.00" font-size="8.3" text-anchor="middle">100</text>
<text x="323.50" y="535.00" font-size="8.3" text-anchor="middle">120</text>
<text x="33.30" y="526.10" font-size="8.3" text-anchor="end">-2000</text>
<text x="33.30" y="496.25" font-size="8.3" text-anchor="end">0</text>
<text x="33.30" y="466.40" font-size="8.3" text-anchor="end">2000</text>
<text transform="translate(8.00,492.65) rotate(-90)" font-size="9.3" text-anchor="middle">roll (deg/s/s)</text>
<text x="180.00" y="547.10" font-size="9" text-anchor="middle">time (s)</text>
<path transform="translate(390.75 0) scale(0.5 0.1)" d="M0 3249l1-4 1 9 1 3 1-5 1 0 1 7 1 11 1-16 1-12 1 6 1-6 1 7 1-4 1 4 1 11 1-36 1 26 1 4 1 1 1-6 1 3 1-10 1 6 1-2 1 5 1 9 1-2 1-17 1 20 1-10 1 0 1 3 1-7 1 16 1 0 1-24 1 10 1 3 1-2 1 0 1 10 1-3 1-7 1 7 1 0 1-4 1-15 1 17 1-2 1-5 1 0 1 2 1 4 1-1 1 3 1-14 1 9 1 0 1-7 1 7 1 5 1-7 1 10 1-16 1-4 1 10 1 1 1-2 1 11 1-6 1-4 1 10 1 2 1-25 1 16 1-18 1 15 1 3 1-6 1 10 1-2 1-4 1 7 1-3 1-15 1 12 1 0 1 5 1-4 1-2 1 0 1-4 1 9 1 1 1-25 1 32 1-28 1 9 1-11 1-4 1-18 1 34 1-42 1 39 1 16 1-51 1 5 1 44 1-17 1 24 1-46 1-4 1-15 1 19 1-28 1 8 1 11 1 26 1-27 1-33 1 50 1 33 1-15 1-3 1-31 1 24 1-23 1 9 1-45 1 20 1 41 1 12 1-45 1 50 1-38 1 32 1-49 1 44 1-25 1-40 1 55 1-40 1 36 1-12 1-6 1-41 1-31 1 77 1 45 1-16 1 15 1-40 1 17 1-25 1-61 1 61 1 7 1 6 1 23 1-36 1-2 1 6 1-53 1 57 1 53 1-50 1-2 1 4 1 2 1-3 1-20 1-14 1 13 1 33 1 7 1-32 1 70 1-95 1 60 1-43 1-19 1 32 1-47 1 81 1-63 1 6 1 67 1-58 1 26 1-19 1-6 1 28 1 0 1 25 1-86 1 28 1 17 1-17 1 18 1 29 1-39 1 17 1-25 1 8 1-37 1-53 1 113 1-19 1 9 1-13 1-8 1 6 1 13 1 20 1-21 1-2 1 10 1-51 1 11 1 70 1-34 1-38 1 45 1-51 1 4 1 47 1-73 1 90 1-4 1-25 1 32 1-65 1 59 1-21 1 33 1-50 1 2 1 30 1 9 1-9 1 11 1-13 1-13 1 51 1-87 1 17 1 27 1-43 1-68 1 109 1-28 1-3 1-7 1 68 1-17 1-26 1 46 1-14 1 54 1-121 1 70 1 2 1-5 1-48 1 0 1-6 1 43 1-43 1 50 1-31 1 33 1 23 1-110 1 30 1 18 1 48 1-70 1 46 1-7 1 11 1 25 1-26 1 7 1-16 1-18 1 13 1 33 1-19 1-1 1-66 1 22 1 68 1-4 1-67 1 19 1 33 1 21 1-31 1 9 1-7 1 9 1-22 1-3 1-12 1 35 1-66 1 41 1 13 1 45 1-71 1 24 1 11 1-9 1 8 1 18 1-59 1 50 1 5 1-34 1 49 1-9 1-62 1 9 1 44 1 22 1-42 1-16 1-39 1 67 1 5 1-18 1-29 1 36 1-12 1 23 1-12 1 1 1-7 1-10 1 45 1-15 1-27 1 29 1 39 1-86 1 37 1 20 1-55 1 12 1 37 1-8 1 26 1-15 1 8 1-14 1 2 1-13 1 36 1-8 1-9 1-45 1 31 1 16 1 0 1 20 1-32 1 15 1-18 1-4 1 13 1-24 1 7 1 13 1 0 1-46 1 38 1 44 1-61 1 6 1-14 1-46 1 75 1 2 1-29 1 7 1 12 1-9 1-13 1-10 1-21 1 71 1-41 1-35 1 44 1 17 1 35 1-35 1 0 1-66 1 44 1 35 1-18 1 15 1-8 1-37 1 30 1-16 1 2 1-21 1 28 1-45 1 40 1 52 1-18 1-27 1 18 1 8 1-37 1-35 1 64 1-54 1 15 1-20 1 55 1-1 1-16 1-14 1 46 1-25 1-29 1 15 1-7 1-7 1 70 1-38 1 5 1-33 1 30 1-8 1-14 1 1 1 35 1-60 1 45 1-15 1 1 1 2 1 4 1-31 1 18 1 14 1 22 1-33 1 31 1-21 1 47 1-51 1 39 1-9 1-1 1-53 1-1 1-21 1 49 1-5 1-10 1 7 1-1 1 33 1 35 1-103 1-24 1 82 1-22 1-30 1 54 1-6 1-64 1 95 1-14 1-36 1 30 1-18 1 11 1-43 1 16 1 22 1-27 1-23 1 42 1-15 1-3 1 66 1-35 1-29 1 30 1-35 1 50 1-39 1-54 1 73 1-49 1 23 1 13 1-4 1 29 1-1 1-3V3294l-1 44 -1-13 -1 16 -1 2 -1-19 -1-45 -1 126 -1-104 -1-1 -1 41 -1-48 -1-4 -1-52 -1 69 -1 44 -1-57 -1-7 -1 25 -1 23 -1-35 -1 72 -1-79 -1-10 -1 123 -1-90 -1 36 -1-23 -1-56 -1 66 -1-45 -1 31 -1-3 -1-30 -1 44 -1-41 -1-17 -1 66 -1-31 -1 21 -1-37 -1 7 -1-22 -1 26 -1 23 -1-38 -1 39 -1-7 -1-32 -1 9 -1-10 -1 8 -1 15 -1-30 -1 33 -1-35 -1-1 -1-17 -1 37 -1-10 -1 17 -1-32 -1 42 -1-43 -1 10 -1-8 -1 24 -1 14 -1-51 -1 48 -1 6 -1-8 -1-10 -1 52 -1-50 -1-9 -1 22 -1 19 -1 11 -1-79 -1 62 -1-41 -1 63 -1-68 -1-6 -1 25 -1-11 -1 32 -1 29 -1-86 -1 50 -1 20 -1-10 -1-14 -1 15 -1-24 -1 11 -1 4 -1-20 -1 22 -1 5 -1 23 -1-37 -1-35 -1 60 -1-51 -1-3 -1 94 -1-84 -1-21 -1 34 -1-30 -1 39 -1-3 -1 30 -1-77 -1 17 -1 41 -1-47 -1 15 -1 25 -1-38 -1-13 -1 90 -1-40 -1-18 -1 7 -1-19 -1-3 -1 49 -1-33 -1 20 -1 16 -1-16 -1 9 -1-18 -1-26 -1 3 -1 13 -1-19 -1 1 -1-8 -1 16 -1 7 -1-12 -1 23 -1 38 -1-85 -1 25 -1 6 -1 3 -1-6 -1 1 -1-14 -1 34 -1-21 -1 52 -1-42 -1-7 -1-6 -1 55 -1-40 -1-28 -1 97 -1-18 -1-41 -1-5 -1-19 -1 27 -1 25 -1-25 -1-2 -1 1 -1-16 -1-13 -1 12 -1-15 -1 40 -1-33 -1 12 -1 27 -1-50 -1 45 -1 8 -1-21 -1 7 -1 1 -1 13 -1-27 -1 3 -1-4 -1 32 -1-47 -1 48 -1-37 -1 4 -1 54 -1-10 -1-23 -1 2 -1 13 -1-4 -1-27 -1 28 -1-41 -1 46 -1-25 -1-26 -1 28 -1 13 -1 22 -1-5 -1-7 -1-42 -1 44 -1-25 -1-15 -1-17 -1-49 -1 72 -1 21 -1 29 -1-62 -1 37 -1-29 -1 51 -1-66 -1 68 -1-44 -1-5 -1-35 -1 50 -1-34 -1 35 -1-3 -1 25 -1-28 -1 14 -1 58 -1-79 -1 38 -1-74 -1 1 -1 5 -1 18 -1 64 -1-26 -1 28 -1-22 -1 6 -1-40 -1 23 -1-31 -1 5 -1-5 -1 21 -1-30 -1 14 -1 0 -1 27 -1-43 -1 51 -1-7 -1-28 -1 2 -1-18 -1 27 -1-12 -1 64 -1-58 -1 19 -1-46 -1 16 -1 21 -1-39 -1 34 -1-44 -1 38 -1 0 -1 47 -1-2 -1-10 -1-25 -1 31 -1-49 -1 11 -1-18 -1 25 -1 4 -1-15 -1 12 -1 29 -1-42 -1-2 -1 12 -1 13 -1-69 -1 18 -1 15 -1 57 -1-55 -1 65 -1-2 -1-71 -1 8 -1-33 -1 24 -1 1 -1 35 -1-23 -1 128 -1-169 -1 130 -1-75 -1 28 -1 23 -1-42 -1 20 -1 40 -1-30 -1 44 -1-64 -1 3 -1-20 -1-23 -1 5 -1 24 -1-18 -1 44 -1-38 -1-18 -1 53 -1 10 -1-46 -1 33 -1-5 -1-50 -1 20 -1-34 -1 34 -1 3 -1 7 -1 57 -1-8 -1-79 -1 36 -1-46 -1-7 -1 11 -1 39 -1 4 -1-40 -1 65 -1-67 -1 38 -1-18 -1 36 -1 32 -1-50 -1 24 -1-50 -1-12 -1 39 -1-15 -1-3 -1-5 -1 23 -1 36 -1-63 -1 51 -1-42 -1-27 -1 40 -1 19 -1 20 -1-62 -1 30 -1 49 -1-65 -1 27 -1 112 -1-132 -1 19 -1 45 -1-103 -1 65 -1 22 -1-25 -1 34 -1-1 -1-14 -1 19 -1-12 -1-25 -1-36 -1-13 -1-4 -1 49 -1-5 -1 39 -1-13 -1 5 -1-73 -1 32 -1-11 -1-6 -1 22 -1-21 -1-22 -1 25 -1-16 -1 12 -1-8 -1-5 -1-10 -1 4 -1-1 -1 5 -1-4 -1-11 -1 13 -1 17 -1-36 -1-5 -1 14 -1-5 -1-1 -1 5 -1 12 -1-7 -1-3 -1 9 -1-20 -1 23 -1-7 -1 0 -1-1 -1-5 -1 6 -1 4 -1-6 -1-8 -1 14 -1-4 -1-11 -1 14 -1-16 -1 23 -1-12 -1 9 -1-15 -1 0 -1-1 -1 9 -1-15 -1 8 -1-1 -1-5 -1 5 -1 2 -1 17 -1-28 -1 15 -1 0 -1 3 -1-18 -1 5 -1 2 -1 8 -1 11 -1-2 -1-12 -1 2 -1 3 -1 7 -1-22 -1 11 -1-6 -1 9 -1 4 -1-15 -1 0 -1 8 -1 2 -1-5 -1-6 -1 11 -1 10 -1-9 -1 2 -1-8 -1 3 -1-3 -1 5 -1-4 -1 13 -1-15 -1 0 -1 1 -1 10 -1-11 -1 18 -1 0 -1-18 -1 10 -1 4 -1-10 -1-5 -1 10z" fill="#0000ff"/>
<path transform="scale(0.08333333333333333 0.1)" d="M4686 3231l1 51 1 22 1-55 1 17 1-37 1 16 1 30 1-5 1-25 1-6 1 36 1-3 1-18 1 7 1 14 1-28 1 43 1 2 1-55 1 87 1-76 1 37 1-28 1-5 1 42 1-54 1 21 1 28 1-57 1 17 1 17 1-11 1 44 1-33 1-26 1 49 1-46 1 68 1-63 1 52 1-26 1-2 1 22 1-26 1 22 1-20 1 6 1-32 1 38 1-38 1 24 1-14 1 63 1 7 1-55 1 13 1-49 1 16 1-9 1-16 1 60 1-24 1-9 1-3 1 24 1-56 1 55 1-13 1-16 1-3 1 53 1-54 1 18 1-25 1 43 1-3 1-7 1 44 1-75 1 24 1 43 1-47 1 33 1-17 1-24 1 38 1-33 1 30 1-38 1 72 1-54 1 17 1-31 1 9 1 31 1-66 1 83 1-99 1 98 1-46 1-32 1 46 1-26 1 23 1-33 1 57 1-41 1 19 1 12 1-41 1 36 1-14 1-39 1 69 1-56 1 19 1 18 1 8 1-30 1 27 1-68 1 41 1 38 1-3 1-37 1 28 1-26 1 36 1-35 1-3 1 66 1-73 1 37 1 11 1-89 1 25 1 51 1 2 1-24 1-3 1-4 1 35 1-52 1 41 1-15 1-20 1 36 1 0 1-34 1 32 1-19 1 44 1-44 1-18 1 17 1 51 1-42 1-18 1 26 1 21 1-29 1 7 1-3 1 12 1-31 1 13 1 44 1-20 1-41 1 31 1-33 1 28 1-26 1 52 1-25 1-40 1 54 1-21 1 12 1 28 1-49 1 14 1-23 1-5 1 40 1-37 1 28 1 34 1-52 1-14 1 29 1-27 1 15 1 33 1-22 1 1 1 14 1-42 1 43 1-40 1 12 1-6 1 35 1-17 1 23 1-29 1 27 1 15 1-45 1 19 1 10 1 5 1-53 1 34 1-19 1-31 1 55 1 3 1-43 1 44 1-33 1-7 1 54 1-31 1 25 1-44 1 18 1 27 1-58 1 21 1 50 1-16 1-50 1 32 1-30 1 51 1-39 1 3 1 63 1-59 1 20 1 19 1-46 1 4 1-6 1 23 1-13 1 3 1 14 1-7 1-8 1-12 1 10 1-1 1 36 1-19 1-32 1 47 1-39 1 24 1-41 1-2 1 27 1 30 1-41 1 33 1-19 1-5 1 16 1 10 1-16 1 11 1-20 1 25 1-31 1 7 1 12 1 7 1-24 1 30 1-56 1 19 1 14 1-29 1 51 1-44 1 35 1 3 1-41 1 62 1-48 1 64 1-47 1-11 1 13 1-26 1 35 1 2 1-33 1-9 1 32 1-24 1 24 1 31 1-51 1 20 1-11 1 14 1-26 1 2 1 17 1 10 1-18 1-7 1 28 1-31 1 24 1 11 1-28 1-5 1 20 1 3 1-18 1 8 1-4 1-8 1 35 1-21 1-34 1 53 1-49 1 45 1-20 1 33 1-36 1-21 1 35 1-50 1 50 1 1 1-28 1 46 1-38 1-20 1 40 1-3 1-18 1 21 1-20 1 22 1-23 1-18 1 45 1-27 1 36 1 26 1-68 1-15 1 63 1-7 1-42 1 30 1-22 1-34 1 60 1 23 1-50 1 7 1 4 1-19 1 47 1-17 1-21 1-2 1 29 1-26 1-9 1 39 1-53 1 40 1 27 1-37 1 46 1-62 1 25 1-27 1 47 1-20 1-34 1-22 1 46 1-19 1 54 1-45 1 31 1 10 1-30 1-23 1 35 1 24 1-60 1 34 1-28 1-1 1 43 1-1 1-32 1 28 1-36 1 31 1-29 1 66 1-62 1 0 1 17 1-21 1 43 1-23 1 23 1-7 1-27 1 45 1-48 1-8 1 34 1 0 1-27 1 29 1-31 1-2 1 22 1-8 1 18 1-19 1 25 1-30 1 30 1-29 1 31 1-24 1 18 1-24 1 29 1-5 1-51 1 38 1 38 1-19 1-60 1 69 1-51 1 6 1 45 1-42 1 20 1-48 1 39 1-42 1 59 1-24 1-22 1 52 1-66 1 69 1-40 1-9 1 43 1-56 1 34 1 27 1-50 1 30 1-16 1 22 1-36 1 60 1-57 1 5 1 47 1 5 1-31 1-14 1 31 1-53 1 84 1-24 1-43 1 24 1-17 1 26 1-38 1 24 1-17 1-8 1 33 1 7 1-33 1 4 1 10 1 2 1 4 1 2 1-18 1 14 1-17 1 23 1-19 1-6 1 52 1-29 1-50 1 38 1-26 1 30 1-21 1 35 1-19 1-6 1-15 1 14 1 25 1-37 1 30 1-21 1 58 1-48 1 49 1-8 1-43 1 41 1-18 1 3 1-53 1 53 1-20 1 4 1-48 1 34 1 20 1 17 1-46 1 7 1 35 1-46 1 42 1-23 1 14 1-39 1 56 1 4 1-54 1 47 1-40 1 34 1-36 1 18 1-27 1 59 1-62 1 73 1-64 1 40 1-14 1-4 1 29 1-29 1-33 1 3 1 37 1 21 1-60 1 119 1-114 1 51 1-68 1 72 1 53 1-77 1-23 1 48 1-14 1-70 1 147 1-55 1-24 1-2 1-43 1-12 1 75 1-53 1 47 1-44 1 46 1-57 1 71 1 15 1-111 1-58 1 173 1 14 1-108 1 46 1-65 1 75 1-70 1 87 1-99 1-11 1 203 1-94 1-39 1-21 1 76 1-115 1 133 1-54 1 47 1-215 1 197 1-136 1 120 1 38 1-129 1 39 1 113 1-73 1-103 1 76 1 51 1 70 1-153 1 121 1-244 1 167 1 27 1-47 1 89 1-44 1-85 1 70 1-117 1 129 1-54 1-117 1 272 1-210 1 211 1-31 1-70 1 98 1-132 1-40 1 137 1-175 1 246 1-154 1 113 1-218 1 201 1-39 1-62 1 9 1-61 1 161 1-121 1 86 1-72 1 32 1-122 1 159 1-52 1-1 1-70 1 86 1-74 1-115 1 257 1-295 1 299 1 10 1-265 1 149 1 22 1 77 1-165 1 52 1 49 1-25 1-91 1 245 1-215 1-115 1 237 1 40 1-337 1 245 1-130 1 207 1 54 1-376 1 171 1-2 1 232 1-120 1-178 1 170 1 100 1 13 1-154 1 114 1-163 1 46 1-138 1 251 1-90 1-70 1-37 1 12 1 172 1-102 1 162 1-386 1 399 1-344 1 229 1-99 1 259 1-67 1-153 1-174 1 213 1 72 1-224 1 104 1 103 1 25 1-255 1 207 1-95 1 96 1-110 1 121 1-213 1 201 1-89 1-57 1 82 1-34 1 76 1-45 1 125 1-187 1 168 1-257 1 156 1-78 1 156 1 6 1-66 1 24 1-138 1 78 1 55 1-103 1-120 1 272 1-101 1 190 1-294 1 62 1 269 1-321 1 277 1-270 1 225 1-303 1 237 1-75 1 98 1-162 1 261 1-156 1-126 1-33 1 166 1 86 1-168 1 154 1-139 1-63 1 145 1-68 1 69 1-96 1 66 1 43 1-222 1 172 1-103 1 115 1-111 1 16 1 266 1-183 1 88 1-121 1 109 1-197 1 190 1-265 1 222 1 52 1-149 1 40 1 96 1-31 1-214 1 168 1-4 1-23 1 135 1-106 1-147 1 185 1-109 1 24 1-70 1 40 1 126 1-74 1 58 1-74 1 47 1 96 1-184 1 0 1 185 1-125 1 78 1-170 1 83 1 85 1-118 1 87 1-141 1 242 1-197 1 240 1-144 1-243 1 296 1-118 1 29 1 235 1-316 1-9 1 165 1-192 1 212 1-11 1-129 1 80 1-62 1 28 1 148 1-113 1-98 1 102 1-221 1 171 1 104 1-55 1-162 1 42 1 101 1 38 1-178 1 26 1 201 1-282 1 274 1-80 1-188 1 107 1-83 1 94 1 127 1-252 1 325 1-165 1 51 1-51 1-71 1 24 1 144 1-176 1 202 1-68 1 100 1-60 1-61 1 24 1-237 1 110 1 272 1-109 1-75 1 79 1 63 1-204 1 55 1 153 1-273 1 131 1 83 1-227 1 212 1-36 1-113 1-5 1 107 1-49 1 180 1-102 1-109 1 21 1-140 1 299 1-247 1-86 1 224 1-219 1 220 1-100 1 131 1-189 1 281 1-31 1-164 1-23 1 161 1-137 1 72 1-66 1 66 1-119 1 121 1-62 1 100 1-108 1 118 1 0 1-138 1 40 1 116 1-72 1-62 1 29 1 73 1-148 1 109 1 40 1-198 1 92 1 26 1-45 1 70 1 4 1-61 1 106 1-143 1-97 1 273 1 28 1-218 1 113 1-56 1 84 1-184 1 28 1 172 1-24 1 87 1-127 1 78 1-110 1 179 1-251 1 137 1 25 1-52 1 109 1-173 1 96 1 85 1-82 1-115 1 243 1-198 1 35 1 119 1-182 1 56 1 106 1-136 1-9 1 138 1-83 1-60 1 129 1-59 1 110 1-162 1 91 1-103 1 178 1-191 1 108 1-60 1 85 1-140 1 57 1 43 1-19 1-100 1 139 1-78 1 56 1-162 1 193 1-156 1 153 1-168 1 137 1-98 1 98 1-114 1 164 1-135 1-86 1 270 1-7 1-200 1 204 1-145 1-21 1 112 1-11 1-135 1 59 1 55 1 72 1-149 1 89 1-124 1 170 1-229 1 55 1 72 1 142 1-185 1 70 1 113 1-56 1 15 1-131 1 99 1-170 1 125 1-96 1 185 1-96 1 62 1-156 1 136 1-133 1 154 1-46 1 12 1 82 1-177 1 166 1-81 1-36 1-161 1 120 1 141 1-168 1 116 1-143 1 148 1 100 1-189 1 132 1-189 1 78 1-179 1 111 1 102 1 106 1-296 1 251 1-172 1 102 1 61 1-73 1 33 1 11 1-62 1-51 1 175 1-73 1-90 1 124 1-270 1 290 1-264 1 210 1 104 1-242 1 121 1-99 1 165 1-36 1 94 1-301 1 245 1-4 1-210 1 324 1-360 1 322 1-125 1 14 1 136 1-199 1-32 1-23 1 366 1-100 1-266 1-26 1 233 1-57 1 108 1-243 1 223 1-212 1 141 1-75 1-70 1 39 1-57 1 97 1 46 1-76 1 118 1 70 1-287 1 135 1 124 1-42 1-135 1 29 1 139 1-204 1 74 1-65 1 147 1-147 1 62 1 83 1-182 1 167 1-176 1 40 1 192 1-61 1-99 1 200 1-306 1 66 1 36 1-11 1 148 1-131 1 115 1 134 1-406 1 314 1-144 1-50 1 99 1-99 1 101 1-113 1 162 1-99 1 106 1 28 1-172 1 107 1 19 1-10 1-70 1-76 1 94 1 84 1-150 1 59 1 54 1-71 1 156 1-255 1 165 1-85 1-82 1 117 1-59 1-64 1 198 1-160 1 28 1 28 1 135 1-297 1 265 1-41 1-91 1 114 1-169 1 31 1 107 1 86 1-280 1 291 1-263 1 237 1-276 1 417 1-385 1 246 1-222 1 191 1-60 1-125 1 332 1-208 1-60 1 202 1-287 1 130 1 52 1-139 1 184 1-113 1 90 1-149 1 205 1-129 1 60 1-166 1 145 1-89 1 126 1-116 1 219 1-204 1-33 1 72 1-317 1 249 1 51 1-47 1 72 1-118 1 104 1 26 1-88 1 2 1 159 1 3 1-148 1 170 1-218 1 95 1-28 1 63 1 30 1-120 1 304 1-267 1 77 1-120 1 94 1 10 1-225 1 196 1 64 1-129 1 64 1-54 1 126 1-187 1 162 1-97 1 268 1-356 1 181 1 78 1-139 1 44 1-131 1 84 1 45 1-147 1 206 1-39 1-138 1 115 1-157 1 11 1 171 1 24 1-94 1 81 1-162 1 11 1 136 1-63 1 94 1-76 1-101 1 5 1 287 1-250 1 137 1-40 1-86 1 104 1-232 1 95 1 127 1-213 1 194 1 2 1-143 1 106 1 71 1 71 1-259 1 77 1 124 1-283 1 331 1 29 1-150 1 42 1-209 1 305 1-244 1-111 1 330 1-46 1-191 1-7 1 171 1-98 1 178 1-154 1 72 1 39 1-121 1 65 1-34 1 92 1-327 1 120 1 287 1-56 1-173 1 108 1-162 1 61 1 95 1-2 1-139 1 78 1 63 1-158 1 215 1-241 1 68 1 39 1 128 1-179 1 90 1-69 1 135 1-22 1-218 1 174 1 35 1-87 1 58 1-101 1 191 1-162 1 76 1-29 1 105 1 71 1-171 1 60 1-122 1 200 1-193 1 153 1-209 1 45 1 60 1 58 1-85 1-30 1 89 1-153 1 146 1-124 1 177 1 142 1-184 1 153 1-218 1-34 1 104 1-37 1 103 1 12 1-261 1 125 1 134 1-188 1 249 1-210 1 165 1-145 1 65 1-87 1 110 1-14 1-45 1-96 1 98 1-27 1 5 1 137 1-109 1-57 1 70 1 148 1-296 1 68 1 88 1-43 1 118 1-71 1-2 1 8 1-58 1 3 1-131 1 72 1 112 1 54 1-196 1 173 1-166 1 163 1-204 1 71 1 160 1-152 1 266 1-351 1 202 1 54 1-152 1 35 1 83 1-56 1-105 1 25 1-67 1-53 1 279 1-190 1 181 1-244 1 149 1 81 1-70 1 30 1-89 1-79 1 169 1-157 1 194 1-142 1 56 1 102 1-162 1 212 1-155 1-165 1 184 1 64 1-136 1-16 1 203 1-201 1 44 1-113 1 203 1-35 1-129 1 143 1-45 1 56 1-89 1 16 1 31 1-91 1 237 1-81 1-126 1-10 1 103 1-131 1 75 1-33 1 118 1 26 1-68 1 43 1-74 1 107 1-198 1 239 1-185 1 24 1 46 1 14 1-121 1 74 1 91 1 136 1-202 1 16 1 50 1-171 1 99 1-131 1 197 1 40 1-312 1 340 1-139 1-163 1 189 1 114 1-107 1 32 1-87 1 17 1 88 1-60 1-65 1 178 1-163 1 141 1-144 1-75 1 173 1-225 1 170 1-33 1-89 1 213 1-174 1-44 1 92 1-107 1 138 1-84 1 152 1-196 1 100 1-76 1 154 1-20 1-120 1 140 1-84 1 0 1-16 1-32 1 235 1-52 1-125 1 92 1-163 1 199 1-267 1 188 1-75 1 75 1 32 1-123 1 96 1 131 1-238 1 187 1-181 1 180 1-293 1 235 1-43 1 44 1-212 1 122 1 172 1-149 1 52 1 56 1-141 1 143 1-137 1-114 1 251 1-265 1 235 1-167 1 236 1-104 1-138 1 226 1-155 1-71 1 117 1 126 1-249 1 50 1 81 1-198 1 287 1-19 1-278 1 162 1 37 1 4 1-105 1-106 1 241 1-141 1 329 1-118 1-285 1 187 1-45 1 14 1-36 1 55 1-89 1-11 1 125 1-30 1 109 1-69 1-97 1 154 1-143 1 81 1-66 1-76 1 192 1-135 1 158 1 38 1-179 1 69 1 43 1 63 1-191 1 126 1-95 1-37 1 66 1-81 1 147 1 1 1-118 1-101 1 384 1-186 1-113 1-6 1 88 1 87 1-145 1 34 1 96 1-197 1 181 1-161 1 104 1 130 1-261 1 116 1-71 1-23 1 138 1-101 1 72 1-76 1 118 1 69 1-164 1-75 1 159 1 9 1-75 1-81 1 89 1-88 1 120 1-47 1 152 1-198 1 99 1-55 1-38 1 15 1-95 1 72 1-49 1-11 1 132 1-29 1 54 1-142 1 137 1 9 1-71 1 59 1-48 1 74 1-239 1 228 1-67 1 43 1-95 1 65 1 73 1-181 1 246 1-265 1 168 1 50 1-171 1 19 1 96 1 37 1-139 1-44 1 169 1-97 1 59 1-48 1 110 1-167 1 141 1-63 1 96 1 59 1-134 1-27 1 29 1-54 1 171 1-258 1 185 1-126 1 191 1-126 1 88 1-147 1 205 1-177 1 99 1-13 1-102 1-64 1 276 1-63 1-137 1 62 1-106 1 74 1-68 1 72 1 40 1-88 1 152 1-43 1-75 1-123 1 191 1-48 1 111 1-29 1-227 1 113 1-42 1 6 1 98 1-34 1 141 1-146 1-86 1 82 1-29 1 152 1-154 1 51 1 73 1-123 1 133 1-198 1 164 1-166 1 103 1-140 1 139 1 148 1-127 1 54 1-125 1 13 1 116 1-133 1 199 1-148 1 93 1-206 1 195 1-68 1 44 1 20 1-71 1 69 1-110 1 122 1-221 1 0 1 132 1 107 1-84 1 9 1-95 1 167 1-200 1 186 1 34 1-163 1 138 1-161 1 201 1-238 1 146 1-29 1-14 1 116 1-153 1 76 1-226 1 349 1-160 1 85 1-116 1-10 1 93 1 50 1-115 1 139 1-147 1 130 1-198 1 115 1-81 1-17 1 131 1-38 1 74 1-53 1 31 1-205 1 279 1-164 1 193 1-208 1 130 1-189 1 132 1 76 1-218 1 47 1 115 1-112 1 68 1 25 1-130 1 115 1-107 1 85 1 55 1 9 1-111 1 114 1-83 1 215 1-303 1 24 1 229 1-64 1-163 1-21 1 146 1-113 1-60 1 233 1-187 1 190 1-93 1-85 1 86 1 2 1 96 1-139 1 66 1 8 1-98 1 193 1-272 1 156 1 107 1-248 1 99 1-23 1 58 1-87 1 197 1-243 1 166 1-70 1 107 1-82 1-129 1-17 1 210 1-198 1 140 1-64 1 118 1-38 1-87 1 95 1-13 1 50 1-111 1 36 1-12 1-90 1 151 1-97 1 18 1-11 1-36 1 71 1 118 1-127 1 90 1-63 1-43 1 95 1-165 1 251 1-248 1 125 1-50 1 128 1-154 1-72 1 286 1-151 1-68 1-49 1 159 1-68 1 69 1-74 1 45 1-77 1 182 1-221 1 107 1 89 1-179 1 28 1 92 1-7 1-103 1 9 1 111 1-23 1-83 1 94 1-83 1 92 1-166 1 40 1 125 1-10 1-94 1-24 1 180 1-297 1 255 1-124 1 129 1-55 1 32 1-70 1 54 1 67 1-167 1 87 1-64 1 8 1 68 1 96 1-155 1-52 1 134 1-84 1 108 1-40 1-137 1 73 1 125 1-85 1-33 1 62 1-136 1 62 1 177 1-94 1-28 1 60 1-71 1-13 1-81 1-12 1 219 1 21 1-100 1-41 1-59 1 127 1-146 1 53 1 24 1-13 1 114 1-139 1 104 1-49 1-45 1-48 1 144 1 21 1-115 1 105 1-273 1 164 1 153 1-66 1-173 1 129 1-77 1 37 1 56 1-46 1-29 1 27 1 60 1 20 1-96 1-53 1 98 1-54 1 96 1-52 1 122 1-120 1-39 1 105 1-125 1 15 1 28 1-36 1 133 1-53 1-43 1 50 1-66 1-12 1 129 1-51 1-36 1-31 1 46 1-25 1 66 1-144 1 67 1 13 1-39 1 31 1 37 1-51 1 66 1-13 1-26 1-43 1 46 1 26 1-98 1 70 1 30 1-59 1 58 1-49 1 43 1-14 1 31 1-52 1 30 1 31 1-101 1 97 1-109 1-32 1 128 1-19 1-31 1 37 1-64 1-62 1 147 1-124 1 73 1 100 1-150 1-38 1 179 1-61 1-54 1 74 1-58 1-19 1 97 1-23 1-101 1 78 1-84 1 126 1-104 1 57 1-17 1-10 1 32 1-25 1 78 1-56 1 20 1-16 1-94 1 121 1-80 1 8 1 49 1-30 1-7 1 76 1-63 1-20 1 45 1-60 1 42 1 30 1-60 1 47 1-52 1 43 1-78 1 31 1 68 1-72 1 45 1-28 1 67 1-67 1 78 1-118 1 93 1-37 1 43 1-87 1 68 1 11 1-139 1 117 1-23 1 116 1-180 1 105 1-64 1-14 1 69 1-14 1 45 1 52 1-132 1 97 1-92 1 87 1-87 1 2 1 94 1-12 1-101 1-96 1 282 1-91 1-228 1 192 1 128 1-211 1 148 1-84 1-30 1 79 1-138 1 178 1-72 1-79 1 226 1-118 1-200 1 198 1-90 1-15 1 96 1 16 1-91 1 113 1-230 1 247 1-139 1 126 1-110 1 130 1-224 1 110 1-89 1 202 1-220 1 146 1-92 1-87 1 182 1-50 1 104 1-38 1-114 1 168 1-99 1 5 1 118 1-149 1 93 1-57 1-54 1 59 1 133 1-105 1-91 1-36 1 140 1-97 1 105 1 142 1-272 1 259 1-298 1 122 1-76 1 41 1-61 1 52 1 81 1-40 1 111 1-166 1 67 1-114 1 107 1 21 1-154 1 177 1-226 1 220 1-86 1 89 1-126 1 37 1 86 1-126 1 101 1 33 1-150 1 41 1 61 1 25 1-180 1 109 1 55 1-87 1 227 1-177 1 117 1-68 1-100 1 70 1-94 1 109 1-64 1 52 1-75 1-49 1 118 1 46 1-138 1 203 1-159 1 126 1-131 1 3 1 43 1 77 1-137 1 6 1 109 1 22 1-101 1 39 1 21 1 113 1-93 1-104 1 59 1-67 1 75 1-43 1 33 1-41 1 147 1-61 1-80 1-18 1 93 1-28 1-45 1 126 1-192 1 28 1 126 1-225 1 168 1 29 1-205 1 282 1-159 1 98 1-112 1-17 1 212 1-146 1 50 1-31 1 117 1-154 1 50 1-79 1 101 1-97 1 96 1 6 1-319 1 184 1 109 1 25 1-40 1-73 1 259 1-185 1 82 1-10 1-102 1 111 1-109 1-42 1 82 1-32 1-85 1 234 1-165 1-25 1 116 1-48 1-82 1 254 1-282 1 162 1-146 1 58 1 127 1-37 1-125 1 40 1 196 1-12 1-248 1-21 1 188 1 3 1-267 1 207 1-94 1 106 1-88 1 112 1-119 1 163 1-146 1-83 1 104 1 177 1-303 1 130 1 73 1 12 1-115 1 133 1-181 1 31 1 116 1-47 1 60 1 9 1-72 1-45 1 67 1-79 1 143 1-101 1 76 1-70 1 72 1-161 1 201 1-55 1-158 1 83 1 98 1 23 1-118 1 36 1 52 1-143 1 89 1 62 1-94 1 126 1-120 1-4 1 153 1-54 1-32 1-118 1 71 1 123 1-176 1 6 1-63 1 112 1-87 1-3 1 176 1 16 1-171 1-19 1 174 1-94 1 128 1-157 1 105 1 33 1-199 1 104 1-94 1-4 1 177 1-150 1 63 1-28 1 89 1-1 1-204 1 155 1-142 1 190 1-142 1 49 1 47 1-41 1 179 1-119 1-72 1 65 1-68 1-31 1 111 1-23 1-43 1 146 1-294 1 311 1-276 1 115 1 111 1-214 1 79 1 101 1-109 1 104 1-38 1 58 1-110 1 32 1 118 1 5 1-138 1 21 1-55 1 65 1-41 1 75 1-133 1 229 1-223 1 273 1-267 1 17 1 149 1-11 1-104 1 136 1-293 1 123 1 187 1-22 1-161 1 1 1 56 1 59 1-101 1-21 1 96 1 20 1-169 1 118 1 76 1-65 1-97 1 173 1-77 1 104 1-106 1 52 1-121 1 186 1-224 1 127 1 71 1-218 1 96 1 100 1-102 1 66 1-28 1 3 1 67 1-38 1-132 1 120 1-155 1 182 1-88 1 87 1-95 1-27 1 201 1 16 1-139 1 37 1-97 1 65 1-61 1-24 1 211 1-107 1-89 1 20 1 17 1 69 1-185 1 92 1 95 1 89 1-295 1 169 1-28 1-57 1 124 1-167 1 183 1 7 1-181 1 116 1-52 1 109 1-205 1 98 1 126 1-84 1-39 1 63 1-93 1 22 1 122 1-129 1 58 1-89 1 150 1 72 1-133 1-65 1 110 1-149 1 197 1-150 1 51 1-69 1 108 1-64 1 34 1-78 1 110 1 73 1-81 1-112 1 107 1-56 1-48 1-71 1 188 1-92 1 111 1-122 1 192 1-96 1-50 1 130 1-191 1 56 1-26 1 0 1 134 1-131 1 65 1 40 1-88 1 23 1-18 1 12 1 45 1-1 1-72 1-92 1 216 1-99 1-131 1 163 1 78 1-120 1 66 1-63 1-77 1 62 1 146 1-103 1-69 1 153 1-141 1 51 1 97 1-97 1 45 1 89 1-198 1-36 1 169 1-109 1 70 1-110 1 128 1-47 1-8 1-5 1 89 1-10 1-242 1 228 1-74 1-4 1 89 1-65 1-70 1 66 1 28 1-64 1 127 1-108 1 123 1-30 1-120 1-54 1 177 1-178 1 130 1 13 1-116 1 165 1-212 1 228 1-180 1 155 1-121 1 162 1-217 1-8 1 128 1 101 1-172 1-67 1 184 1-8 1-131 1 135 1-103 1 22 1-69 1-22 1 290 1-171 1-78 1 122 1-111 1-21 1 52 1-128 1 186 1-117 1 156 1-95 1 83 1-198 1 156 1 8 1-26 1-64 1 217 1-111 1 109 1-67 1-184 1 105 1-30 1 60 1-62 1 107 1-90 1 65 1-45 1 63 1-166 1 41 1 206 1-216 1-147 1 176 1-85 1 200 1-235 1 169 1-65 1 15 1 58 1-303 1 370 1-203 1 185 1-169 1 196 1-160 1 97 1-41 1 105 1-43 1-153 1 161 1-161 1 8 1 74 1 151 1-158 1-13 1 84 1-170 1 138 1 35 1-93 1-88 1 200 1-47 1-224 1 95 1 185 1-15 1-192 1 148 1-34 1 147 1-267 1 136 1 109 1-46 1-201 1 152 1-18 1-11 1-44 1 18 1 38 1-67 1 123 1 76 1-181 1-14 1 199 1-30 1-194 1 150 1-92 1 8 1 109 1-19 1-199 1 83 1 70 1 126 1-199 1 14 1 170 1-172 1 83 1 99 1-306 1 83 1 85 1 5 1-105 1-2 1 153 1-47 1-184 1 274 1-180 1 101 1-84 1 199 1-156 1 120 1-141 1 87 1-137 1 138 1-46 1-111 1 138 1-66 1-132 1 167 1 124 1-264 1 259 1-53 1-166 1 32 1 62 1 96 1-168 1 49 1 75 1-146 1 117 1 25 1-96 1 90 1-97 1 61 1-87 1 123 1-57 1-43 1 90 1-24 1 67 1-137 1 150 1 20 1-234 1 58 1 112 1 29 1-92 1-31 1 120 1-126 1 31 1-89 1 199 1-168 1 50 1 80 1-52 1 50 1-108 1 90 1-64 1 127 1-67 1-111 1 98 1 47 1-167 1 102 1 87 1 22 1-226 1 8 1 214 1-147 1 152 1-14 1-140 1-49 1 139 1-142 1-29 1 197 1-54 1-48 1 113 1 12 1-199 1 271 1-190 1 176 1-191 1 136 1-117 1-93 1 230 1-232 1 133 1-48 1 32 1 160 1-303 1 65 1 145 1-101 1 120 1 7 1-205 1 73 1 149 1-3 1-126 1 103 1-133 1 168 1-260 1-27 1 289 1-84 1-51 1-21 1 103 1-245 1 258 1 45 1-97 1-88 1 141 1 41 1-141 1-121 1 255" fill="none" stroke="#0000ff" stroke-width="0.42" vector-effect="non-scaling-stroke"/>
<path d="M390.50 354.4v-2.9M390.50 295.0v2.9M438.33 354.4v-2.9M438.33 295.0v2.9M486.17 354.4v-2.9M486.17 295.0v2.9M534.00 354.4v-2.9M534.00 295.0v2.9M581.83 354.4v-2.9M581.83 295.0v2.9M629.67 354.4v-2.9M629.67 295.0v2.9M677.50 354.4v-2.9M677.50 295.0v2.9M390.5 350.79h2.9M677.5 350.79h-2.9M390.5 338.57h2.9M677.5 338.57h-2.9M390.5 326.35h2.9M677.5 326.35h-2.9M390.5 314.13h2.9M677.5 314.13h-2.9M390.5 301.91h2.9M677.5 301.91h-2.9" fill="none" stroke="#747474" stroke-width="1"/>
<rect x="390.5" y="295.0" width="287.0" height="59.40" fill="none" stroke="#747474" stroke-width="1"/>
<text x="390.50" y="367.39" font-size="9" text-anchor="middle">0</text>
<text x="438.33" y="367.39" font-size="9" text-anchor="middle">20</text>
<text x="486.17" y="367.39" font-size="9" text-anchor="middle">40</text>
<text x="534.00" y="367.39" font-size="9" text-anchor="middle">60</text>
<text x="581.83" y="367.39" font-size="9" text-anchor="middle">80</text>
<text x="629.67" y="367.39" font-size="9" text-anchor="middle">100</text>
<text x="677.50" y="367.39" font-size="9" text-anchor="middle">120</text>
<text x="387.30" y="354.39" font-size="9" text-anchor="end">-400</text>
<text x="387.30" y="342.17" font-size="9" text-anchor="end">-200</text>
<text x="387.30" y="329.95" font-size="9" text-anchor="end">0</text>
<text x="387.30" y="317.73" font-size="9" text-anchor="end">200</text>
<text x="387.30" y="305.51" font-size="9" text-anchor="end">400</text>
<text transform="translate(363.00,324.70) rotate(-90)" font-size="10" text-anchor="middle">yaw (deg/s/s)</text>
<text x="534.00" y="291.60" font-size="8.77" text-anchor="middle">D: differences between 50 Hz GNSS and IMU angular accelerations</text>
<path transform="translate(390.75 0) scale(0.5 0.1)" d="M0 4068l1-8 1 9 1 2 1-10 1-6 1 1 1 7 1-2 1 0 1-3 1-5 1-7 1 24 1-8 1-1 1 1 1 0 1 10 1-5 1 5 1-1 1-7 1 13 1-23 1 0 1 0 1 5 1-15 1 14 1-9 1-5 1 26 1-12 1 8 1-1 1-5 1 0 1-8 1 8 1-8 1 5 1 2 1-24 1 30 1 4 1-4 1 2 1-2 1-18 1 12 1 8 1-7 1 5 1-2 1-1 1-3 1-5 1 13 1-10 1-6 1 14 1 3 1-10 1-3 1-7 1 1 1 1 1 4 1 4 1 8 1-11 1 12 1-17 1 6 1-3 1 7 1-6 1 6 1-6 1 11 1-8 1 4 1-7 1 7 1-5 1 7 1-14 1 7 1 3 1-2 1 18 1-11 1-9 1 4 1-8 1 14 1 2 1 11 1-39 1 19 1-22 1 16 1-17 1-28 1 37 1-53 1 62 1 4 1-27 1-1 1 34 1-29 1 15 1-14 1 39 1-46 1 9 1 53 1-62 1 4 1 20 1 17 1 7 1-6 1-43 1 28 1-8 1-44 1 31 1 34 1-34 1 11 1-23 1-74 1 112 1-25 1-20 1-78 1 122 1-4 1 6 1-9 1-34 1 46 1-52 1-36 1 34 1 18 1-14 1-52 1-58 1 106 1 16 1-55 1 45 1 61 1 10 1-79 1 24 1 22 1-30 1-53 1 34 1 15 1-34 1 14 1 1 1 78 1-69 1-13 1-11 1 49 1-41 1 27 1-43 1 6 1 16 1-15 1 28 1-26 1 54 1 28 1-138 1 98 1 2 1-30 1 36 1 34 1-76 1 61 1-63 1 37 1 0 1-61 1 18 1-86 1 81 1 21 1 4 1-1 1 3 1-7 1-10 1 49 1-11 1-3 1-18 1 13 1 2 1-18 1-3 1 59 1-14 1 17 1-8 1-51 1 32 1 0 1-40 1-10 1 70 1-73 1 60 1-23 1-12 1 45 1-38 1 10 1 3 1 8 1-10 1 12 1-12 1-10 1-6 1-42 1 84 1-5 1-43 1 28 1 31 1-14 1-39 1 6 1 14 1-16 1 29 1 7 1-22 1 24 1-66 1 36 1 11 1-4 1-26 1 34 1 1 1 5 1-14 1-28 1 74 1 0 1-13 1-19 1 5 1-38 1 28 1-5 1 31 1-12 1-50 1 42 1 21 1-58 1 18 1 40 1-53 1-4 1 51 1-56 1-7 1-12 1 11 1 53 1-27 1 26 1 20 1-15 1-6 1-22 1 26 1-6 1 2 1-6 1 15 1-63 1 47 1-83 1 103 1-62 1 6 1 19 1-40 1 67 1-3 1 1 1 13 1-23 1-41 1 56 1 2 1-27 1-2 1-21 1 27 1 12 1-20 1 47 1-62 1 26 1 61 1-45 1-59 1 53 1-16 1-19 1 18 1-112 1 60 1 72 1-23 1 25 1-21 1-3 1-2 1 21 1 42 1-59 1-22 1 13 1 11 1 14 1 8 1-11 1 14 1-34 1 42 1-27 1 4 1-10 1 16 1-3 1 13 1-13 1 26 1-21 1 23 1-17 1-3 1-18 1 19 1 4 1 22 1-28 1 2 1 9 1-14 1-3 1 3 1 10 1-3 1 6 1-52 1 60 1-45 1 20 1-24 1 48 1-16 1-30 1 22 1-6 1-56 1 75 1-41 1-9 1 10 1-7 1-13 1 71 1-53 1-45 1 38 1 7 1 18 1-5 1-4 1-9 1 37 1-19 1-31 1-3 1 78 1-54 1 48 1-24 1-10 1-68 1 29 1 17 1-17 1 58 1-54 1-3 1 28 1 28 1-32 1 11 1 16 1-8 1-18 1 12 1-39 1 37 1-8 1-38 1 44 1-6 1 8 1 25 1-40 1 65 1-22 1-41 1 10 1-5 1 7 1 39 1-42 1 20 1-32 1-19 1 25 1 44 1-38 1-17 1 30 1-37 1 52 1-9 1 23 1-47 1-11 1-10 1 24 1 30 1-9 1-91 1 65 1 23 1-15 1 6 1-5 1-80 1 66 1 15 1-43 1-3 1 2 1 62 1-92 1 80 1-3 1-49 1 27 1 25 1-4 1 27 1 29 1-48 1 12 1-33 1 10 1 30 1-54 1 14 1-66 1 66 1 59 1-97 1 9 1-44 1 88 1-53 1 53 1 36 1-74 1 39 1-1 1 10 1 3 1-35 1 27 1 48 1-43 1 7 1 1 1 34V4104l-1 26 -1-12 -1 8 -1-4 -1-43 -1 5 -1 2 -1 36 -1-28 -1-2 -1 12 -1 26 -1-17 -1-14 -1-5 -1 7 -1 53 -1-30 -1 33 -1-66 -1 57 -1-51 -1-5 -1 83 -1-34 -1-6 -1-35 -1 19 -1 24 -1-16 -1-40 -1 16 -1-9 -1 19 -1-31 -1 35 -1-23 -1 21 -1-20 -1 45 -1-123 -1 80 -1 15 -1 21 -1-48 -1 22 -1 19 -1-13 -1-36 -1 25 -1 58 -1-16 -1-55 -1 0 -1 44 -1-36 -1 19 -1-26 -1 6 -1-31 -1 20 -1 7 -1 133 -1-85 -1-5 -1-5 -1-8 -1-17 -1-13 -1 47 -1-8 -1-52 -1 22 -1-32 -1 36 -1 39 -1-21 -1-3 -1 1 -1-3 -1 18 -1-15 -1 65 -1-87 -1 11 -1 10 -1-10 -1-47 -1 49 -1-35 -1-3 -1 45 -1-20 -1 37 -1-32 -1 10 -1-29 -1 3 -1-11 -1 44 -1-1 -1-26 -1 73 -1-35 -1-26 -1-11 -1 25 -1 1 -1-1 -1 19 -1-17 -1 10 -1-24 -1 11 -1 9 -1-23 -1-1 -1 35 -1-10 -1-41 -1 11 -1 27 -1-15 -1 49 -1-36 -1 92 -1-56 -1-28 -1-8 -1-29 -1 18 -1-19 -1 10 -1-10 -1-17 -1 23 -1-21 -1 17 -1 4 -1-2 -1 6 -1-6 -1-7 -1-6 -1 38 -1-26 -1-23 -1 22 -1-2 -1-5 -1 11 -1-1 -1 22 -1-32 -1 10 -1-19 -1 33 -1-9 -1-18 -1 30 -1-32 -1 16 -1-24 -1 27 -1 31 -1-7 -1-26 -1-31 -1 39 -1 26 -1-8 -1 44 -1-65 -1 25 -1-58 -1 81 -1-80 -1 62 -1-2 -1 96 -1-112 -1 32 -1-59 -1 23 -1-23 -1 57 -1-2 -1 15 -1-72 -1 25 -1 13 -1-14 -1 20 -1-71 -1 76 -1-10 -1-8 -1-8 -1-26 -1 37 -1-12 -1-14 -1-12 -1 37 -1 10 -1-16 -1 74 -1-109 -1 21 -1-17 -1 11 -1 14 -1 42 -1-61 -1 39 -1 13 -1 30 -1-36 -1-34 -1 44 -1-21 -1 13 -1-34 -1 63 -1-104 -1 33 -1 18 -1-34 -1 41 -1 23 -1-82 -1 41 -1-14 -1 42 -1 2 -1-34 -1 23 -1-21 -1 18 -1-33 -1-7 -1 22 -1-19 -1 42 -1-30 -1 34 -1 18 -1-24 -1-48 -1 30 -1-42 -1 41 -1 20 -1-32 -1-16 -1 3 -1 9 -1 13 -1-5 -1 14 -1-16 -1-22 -1 21 -1-3 -1-5 -1 25 -1 3 -1 3 -1-12 -1 32 -1-32 -1 33 -1-36 -1 22 -1-28 -1 23 -1 8 -1-32 -1-25 -1 13 -1-5 -1 49 -1-52 -1 66 -1 3 -1-25 -1-18 -1 67 -1-104 -1 78 -1-27 -1-7 -1-6 -1 8 -1-36 -1 99 -1-101 -1 34 -1 28 -1-50 -1 14 -1 9 -1 42 -1-32 -1 24 -1-56 -1 0 -1 1 -1-15 -1 39 -1 5 -1-88 -1 80 -1 34 -1 25 -1-29 -1-84 -1 88 -1-19 -1-22 -1-13 -1 85 -1-25 -1-83 -1 14 -1 45 -1 6 -1-4 -1-16 -1 31 -1-9 -1-3 -1-3 -1-9 -1-15 -1 37 -1 3 -1-51 -1 34 -1 67 -1-59 -1 18 -1-8 -1-19 -1-21 -1-57 -1 72 -1 16 -1-63 -1 58 -1 22 -1-9 -1-31 -1-10 -1 39 -1-22 -1-34 -1-5 -1 37 -1 4 -1 46 -1-105 -1 21 -1 51 -1-13 -1-19 -1 62 -1-30 -1-9 -1 30 -1-7 -1-35 -1-27 -1 6 -1 6 -1 16 -1-30 -1 7 -1 20 -1 45 -1-56 -1 34 -1-4 -1 22 -1 28 -1-90 -1 3 -1 1 -1 0 -1 32 -1-19 -1 30 -1-3 -1-49 -1 3 -1 12 -1-5 -1 9 -1-17 -1 17 -1 22 -1 2 -1-20 -1-12 -1 45 -1-40 -1-10 -1 40 -1-26 -1 9 -1-15 -1-18 -1-9 -1 21 -1-25 -1 11 -1 10 -1 5 -1-6 -1 6 -1-16 -1-1 -1 3 -1 10 -1-14 -1 16 -1-1 -1-5 -1-5 -1-4 -1-3 -1 12 -1 2 -1-2 -1-14 -1 19 -1-5 -1 9 -1-9 -1 10 -1-18 -1 2 -1 0 -1-3 -1 27 -1 2 -1-26 -1-1 -1-2 -1 7 -1 7 -1-1 -1-9 -1 11 -1 0 -1-9 -1 0 -1 2 -1-7 -1 1 -1 3 -1 6 -1 8 -1-4 -1-2 -1 3 -1-4 -1-12 -1 4 -1-10 -1 16 -1-1 -1-2 -1 11 -1-17 -1 12 -1-4 -1 9 -1-12 -1 4 -1-4 -1-9 -1 23 -1-17 -1 12 -1-7 -1 0 -1-2 -1 12 -1-9 -1 2 -1 6 -1-8 -1 9 -1 1 -1-16 -1 13 -1-1 -1-3 -1-3 -1 10 -1-10 -1 5 -1-2 -1-2 -1 2 -1 3 -1 1z" fill="#0000ff"/>
<path transform="scale(0.08333333333333333 0.1)" d="M4686 4067l1 45 1-33 1-10 1 45 1-59 1 2 1 23 1-27 1 49 1-32 1-10 1 42 1-49 1-8 1 31 1 10 1-17 1 2 1 13 1-32 1 51 1-17 1-15 1 27 1-37 1 25 1-23 1-16 1 42 1-2 1-30 1-2 1 54 1-21 1-42 1 10 1 31 1-25 1 46 1-33 1-27 1 12 1 34 1-36 1 44 1-32 1 15 1-2 1-24 1 32 1-11 1-5 1-25 1 42 1-24 1-16 1 46 1-52 1 40 1-6 1 22 1-54 1 32 1-22 1 18 1-26 1 40 1-37 1 38 1-44 1 70 1-44 1 16 1-44 1 36 1-35 1 20 1 42 1-30 1 15 1-10 1-2 1-31 1 29 1 13 1 13 1-47 1 2 1 3 1-22 1 42 1-22 1 27 1 2 1-33 1 24 1-23 1 0 1 40 1-6 1-23 1-20 1 32 1 9 1-23 1 30 1-34 1 15 1-16 1 21 1-22 1 19 1 23 1 1 1-29 1 10 1-20 1-1 1 10 1-28 1 33 1 0 1-19 1 12 1 10 1-34 1 34 1-12 1 13 1-6 1 5 1-18 1 34 1-46 1 19 1-4 1 17 1-17 1 43 1-33 1 12 1 15 1-55 1-10 1 38 1 47 1-51 1 15 1-34 1 44 1-61 1 54 1-48 1 60 1-33 1-12 1 34 1-60 1 33 1 31 1-43 1 22 1-21 1 28 1-23 1 0 1 25 1-45 1 45 1 17 1-39 1 40 1-59 1 32 1-57 1 40 1 31 1-24 1 60 1-10 1-70 1 55 1-60 1 9 1 43 1-70 1 52 1-30 1 42 1-57 1 61 1 3 1-77 1 54 1 17 1 6 1-35 1 31 1-28 1-18 1 15 1 12 1 33 1-24 1-24 1 49 1-44 1 6 1 39 1-10 1-37 1 23 1-12 1-4 1 29 1-34 1 38 1-18 1-41 1 30 1 28 1-41 1 22 1-28 1 44 1-10 1-22 1 13 1-29 1 6 1 21 1-28 1 23 1 41 1-58 1 66 1-47 1-10 1 15 1-48 1 45 1-28 1 30 1-15 1 41 1-44 1 30 1-23 1 18 1 10 1-39 1 24 1-20 1 55 1-66 1 14 1 31 1 7 1-62 1-3 1 77 1-78 1 56 1-38 1 47 1-27 1 12 1-16 1 29 1-1 1 4 1-19 1-28 1 36 1-17 1 16 1-20 1 18 1 25 1-62 1 40 1-28 1 17 1-5 1 28 1-31 1 14 1-15 1 39 1-29 1-13 1-33 1 59 1-28 1-19 1 71 1-39 1-32 1 32 1-44 1 38 1-9 1 17 1-2 1 41 1-44 1 17 1 3 1-29 1-13 1 31 1-20 1 20 1 23 1-34 1-17 1 54 1-22 1-34 1 52 1-17 1-24 1 49 1-10 1-36 1-6 1 52 1-51 1 18 1 22 1-30 1-13 1 49 1-55 1 28 1-11 1 23 1-3 1-29 1 38 1-50 1 56 1-42 1-17 1 56 1-11 1-34 1 11 1 11 1-14 1 32 1-20 1 7 1-7 1-33 1 16 1 43 1-26 1-28 1 44 1-46 1 32 1-39 1 32 1 33 1-80 1 54 1-11 1 13 1 16 1-19 1-9 1 17 1 32 1-56 1 21 1 30 1 0 1-52 1 47 1-38 1-26 1 17 1 7 1-38 1 29 1 30 1-6 1-17 1-9 1 42 1-51 1 60 1-34 1-54 1 80 1-48 1-4 1 28 1 16 1-44 1 14 1 33 1-51 1 61 1-33 1-21 1 4 1 35 1-40 1 47 1 2 1-21 1-13 1 28 1-18 1-29 1 45 1-30 1 6 1 34 1-21 1-28 1 26 1 27 1-49 1 22 1 9 1-41 1 41 1-29 1 7 1 20 1 10 1-11 1-17 1 43 1-35 1-37 1 66 1-51 1-1 1 7 1 23 1-41 1 59 1-41 1 0 1 27 1-41 1 48 1-1 1-36 1-25 1 57 1-27 1 51 1-13 1-44 1 17 1 14 1-13 1-22 1 18 1-13 1 27 1-10 1-15 1 21 1 3 1-19 1-11 1 17 1-1 1-14 1 15 1 16 1-4 1-40 1 67 1-31 1 10 1-24 1 22 1-35 1 48 1-58 1 20 1 31 1-30 1 35 1-4 1-36 1 44 1-43 1 14 1 21 1-12 1-23 1 38 1-30 1-13 1 18 1 14 1-9 1 15 1-31 1 57 1-69 1 35 1-17 1 6 1-22 1 49 1-39 1 14 1 8 1-9 1-19 1-2 1 36 1 0 1-53 1 37 1-35 1 39 1 41 1-15 1-73 1 63 1-35 1 3 1 35 1-11 1 23 1-48 1 22 1 9 1-36 1 41 1-56 1 22 1 38 1-38 1 42 1-23 1-13 1 12 1 24 1-21 1 8 1-14 1-8 1 33 1-28 1-40 1 47 1-11 1-10 1 43 1-45 1 9 1-10 1 26 1 19 1-7 1-36 1 38 1-36 1 29 1-48 1 36 1-30 1 26 1-7 1 0 1 13 1 9 1-20 1 14 1-11 1-4 1 9 1 10 1 31 1-17 1-59 1-1 1 42 1 6 1 50 1-19 1-24 1 11 1-85 1 100 1-75 1 82 1-85 1 108 1-159 1 144 1-62 1-88 1 82 1 31 1-104 1 97 1-37 1-29 1 98 1-42 1 25 1-5 1-96 1 50 1 50 1 36 1-140 1 172 1-121 1 51 1-65 1 53 1-136 1 214 1-168 1 9 1 86 1 12 1-69 1 84 1-76 1-89 1 172 1-204 1 130 1 144 1-206 1-25 1 159 1-16 1-61 1 102 1-58 1 31 1-87 1 24 1 130 1-50 1-149 1 38 1 50 1-78 1 83 1-30 1 53 1-53 1-77 1 191 1-153 1 34 1 14 1-34 1 72 1-29 1 24 1-99 1 71 1 3 1 94 1-151 1 93 1-123 1 113 1 19 1-80 1 43 1-21 1-24 1 137 1-58 1-169 1 89 1 103 1-101 1 77 1-30 1-51 1 30 1 68 1-72 1 75 1 35 1-93 1-80 1 163 1-15 1-114 1 106 1-73 1 58 1-82 1 3 1 64 1 25 1-124 1 85 1 26 1 23 1-136 1 81 1 62 1-55 1-63 1 16 1 83 1-17 1-157 1 57 1 80 1-38 1 52 1-13 1-59 1-32 1 79 1 53 1-74 1 63 1-40 1 66 1-75 1-35 1 95 1-60 1-93 1 97 1 101 1-138 1 208 1-174 1 108 1-132 1 100 1-69 1 78 1-185 1 215 1-161 1 117 1-98 1-54 1 78 1 83 1-25 1-147 1 166 1-91 1 75 1-97 1 3 1 99 1-39 1-50 1-72 1 143 1 35 1-204 1 204 1-89 1 116 1-195 1 133 1-123 1 39 1 59 1-75 1 138 1-100 1 25 1-50 1 57 1-20 1 90 1-117 1 5 1-41 1 101 1-271 1 285 1-75 1 93 1-130 1 115 1-20 1-62 1 87 1-192 1 96 1 71 1-28 1-71 1-56 1 222 1-116 1-120 1 155 1-168 1 139 1 85 1-62 1-72 1 71 1-15 1 35 1-42 1-38 1 185 1-35 1-209 1 203 1-228 1 77 1 130 1-162 1 162 1 72 1-421 1 356 1-239 1 24 1 216 1-1 1-93 1 28 1-71 1 124 1-77 1 0 1-86 1 178 1-246 1 180 1 43 1 137 1-208 1-73 1 100 1 73 1-95 1 33 1-41 1 28 1 40 1-124 1 50 1 70 1-104 1 18 1 82 1 70 1-284 1 100 1 127 1 22 1-182 1 106 1 82 1-19 1-80 1-77 1 195 1-139 1-35 1 83 1-38 1 49 1-226 1 178 1-86 1 46 1 179 1-145 1 126 1-15 1-220 1 21 1 83 1 41 1 137 1-285 1 131 1-86 1 181 1-155 1 143 1-48 1-84 1 170 1-323 1 73 1 143 1-114 1 109 1-23 1 66 1 15 1-313 1 263 1-187 1 206 1-117 1 157 1-166 1 150 1-95 1-41 1 173 1-134 1 106 1-179 1 193 1-159 1 164 1-180 1 137 1-9 1-178 1 193 1-84 1-88 1 263 1-296 1 200 1 18 1-50 1 115 1-114 1 83 1-190 1 195 1-58 1-91 1 165 1-132 1 99 1-123 1 134 1-152 1 133 1-316 1 215 1-6 1 94 1-158 1 99 1-65 1 230 1-213 1 89 1-68 1 155 1-106 1 95 1-148 1 99 1-48 1-146 1 43 1 130 1-72 1-79 1 19 1 98 1-150 1 212 1-2 1-136 1 166 1-278 1 189 1-78 1 15 1 102 1 35 1-200 1 28 1 114 1 102 1-229 1-186 1 466 1-111 1-155 1-32 1 201 1-173 1 167 1-96 1 125 1 49 1-226 1 58 1 138 1-106 1-133 1 214 1-114 1 167 1-224 1 109 1 205 1-529 1 337 1-32 1 27 1-108 1 211 1-123 1-67 1 58 1-94 1-69 1 373 1-251 1 166 1-298 1 224 1 14 1-210 1 88 1 132 1-129 1 102 1-121 1 79 1-67 1-66 1 198 1-107 1 40 1-99 1 177 1-138 1-76 1 158 1-94 1 121 1-85 1 71 1-44 1-128 1 14 1 201 1 66 1-283 1 23 1 150 1-143 1 155 1-66 1 57 1-344 1 397 1-251 1 241 1-207 1 219 1-47 1-196 1 260 1-122 1-8 1-105 1 229 1-183 1-87 1 188 1-109 1 124 1-187 1 236 1-191 1 137 1-83 1 157 1-113 1-92 1 215 1-132 1 60 1-35 1 17 1-150 1 101 1 97 1-235 1 135 1 11 1 123 1-363 1 237 1 113 1-158 1-82 1 101 1-6 1 70 1-119 1 202 1-185 1 110 1-80 1 128 1-132 1 135 1-193 1 195 1-311 1 311 1-148 1 61 1 57 1-221 1 164 1-49 1 119 1-65 1 125 1-221 1 97 1-119 1 64 1 142 1-78 1-154 1 44 1 213 1-168 1 99 1 23 1-151 1 140 1-91 1-24 1-62 1 64 1 71 1 116 1-276 1 191 1-135 1 272 1-243 1 18 1 146 1-113 1-103 1 140 1 86 1-170 1-30 1-39 1 188 1-180 1 167 1-209 1 291 1-235 1 119 1 177 1-252 1 49 1-160 1-83 1 189 1 6 1-103 1 244 1-288 1 97 1 170 1-227 1 189 1-53 1 53 1-5 1-137 1 136 1-105 1 229 1-284 1 30 1 67 1 117 1-203 1 218 1-122 1-142 1 281 1-22 1-273 1 150 1-43 1 23 1 158 1-202 1 190 1-167 1 71 1 28 1-92 1 69 1-139 1 43 1 224 1-283 1 137 1-74 1 173 1 10 1-138 1-59 1 138 1 66 1-183 1 42 1 116 1-146 1 118 1-92 1 132 1-187 1 284 1-342 1 220 1-34 1-131 1 48 1 79 1-141 1 119 1-37 1 26 1 42 1-106 1-36 1 110 1-6 1-55 1-61 1 233 1-187 1 156 1-34 1-105 1 67 1-105 1 142 1-207 1 290 1-205 1 99 1-109 1 75 1-228 1 207 1-47 1 4 1 128 1 37 1-110 1 114 1-142 1-63 1 206 1-129 1 5 1 8 1-65 1 77 1 42 1-57 1 72 1-30 1-91 1 79 1 122 1-114 1-39 1 89 1-130 1-14 1 73 1-41 1-79 1 70 1 115 1-144 1 115 1 3 1-132 1 18 1 96 1-3 1 47 1 77 1-107 1 94 1-125 1 33 1-110 1 157 1-168 1 99 1-92 1 61 1-178 1 291 1-212 1 9 1 198 1-17 1-107 1-61 1 118 1-70 1 180 1-150 1 34 1 34 1-52 1-91 1 124 1-185 1 126 1 139 1-177 1 42 1 89 1 17 1-156 1 3 1 137 1-24 1-127 1 161 1-73 1 178 1-266 1 0 1 78 1-61 1 77 1-9 1-36 1-59 1 151 1 14 1-85 1-46 1 70 1-99 1 83 1-67 1 87 1-23 1-41 1-91 1 212 1-20 1-126 1 120 1-92 1 27 1-93 1 68 1 74 1-93 1 95 1-97 1 83 1 13 1-66 1-109 1 194 1-98 1 159 1-99 1 43 1 30 1-123 1-18 1 98 1-78 1 137 1-86 1-88 1 144 1-77 1-44 1 69 1 62 1-120 1-51 1 89 1-84 1 180 1-138 1-64 1 2 1 201 1-150 1 31 1 84 1-167 1 121 1 75 1-224 1 136 1-16 1 102 1-110 1 50 1 49 1-207 1 237 1-134 1-31 1 118 1-92 1 95 1-61 1-79 1 190 1-199 1 48 1 139 1-242 1 192 1-74 1-33 1 47 1 73 1-165 1 94 1 92 1-96 1 7 1 69 1-85 1 109 1-98 1-42 1 24 1 126 1-74 1-95 1 6 1 184 1-189 1 53 1 77 1-146 1 49 1 50 1-47 1-31 1 11 1 130 1-150 1 120 1-30 1-55 1 69 1-93 1 58 1-102 1 72 1 42 1-55 1 128 1-112 1 11 1-24 1 82 1-62 1 128 1-72 1-76 1 28 1 50 1-14 1-80 1 134 1-115 1-58 1 147 1 3 1-37 1-63 1 74 1 13 1-101 1 83 1-112 1 65 1 100 1-61 1-106 1 37 1 64 1-57 1 129 1-157 1 42 1-5 1 112 1-129 1 80 1-22 1-58 1 39 1 76 1-123 1 96 1-112 1 55 1 97 1-122 1 114 1-133 1 119 1-213 1 128 1 83 1-92 1 91 1-83 1 65 1-74 1 27 1 51 1-101 1 36 1 54 1-88 1 113 1-123 1 106 1-14 1 124 1-183 1 130 1-98 1-56 1 140 1-167 1 123 1-112 1 189 1-177 1 127 1-160 1 72 1 160 1-59 1-224 1 158 1 79 1-3 1-128 1 115 1-20 1-61 1 46 1-10 1-56 1 34 1-9 1 31 1 63 1-117 1 84 1 27 1-129 1 22 1 71 1-136 1 124 1-21 1-52 1 30 1 95 1-153 1 183 1-174 1 146 1-56 1-95 1 48 1 25 1-40 1 131 1-49 1-93 1 58 1-83 1 20 1 119 1-108 1 43 1 7 1 86 1-99 1 41 1-78 1 39 1 51 1-64 1 43 1-97 1 72 1-187 1 161 1 120 1-175 1 91 1 38 1-160 1 194 1-110 1 106 1-111 1 45 1-107 1-35 1 166 1 30 1-66 1-12 1 90 1-58 1-231 1 321 1-146 1-87 1 195 1-193 1 140 1-30 1-44 1 3 1 65 1 71 1-204 1 118 1 27 1-47 1 84 1 6 1-135 1 51 1-13 1-49 1 142 1-181 1 190 1-114 1 116 1-22 1-143 1 147 1-75 1-42 1 103 1 20 1-109 1 74 1-102 1-24 1 129 1-29 1-126 1-4 1 134 1 55 1-87 1-119 1 253 1-227 1 137 1-72 1-91 1 107 1 117 1-161 1 45 1-71 1 169 1-145 1 90 1-35 1 118 1 17 1-77 1 62 1-289 1 187 1 37 1 3 1-153 1 157 1-89 1 26 1 90 1-24 1-148 1-24 1 266 1-131 1 97 1-130 1 202 1-236 1 115 1-129 1 189 1-39 1-93 1 106 1-195 1 175 1-92 1-65 1 124 1-62 1 58 1-132 1 216 1-88 1-107 1 34 1 111 1-85 1 192 1-167 1-71 1 171 1-194 1 106 1 70 1 5 1-147 1 117 1-177 1 145 1 71 1-51 1-124 1 159 1-173 1 86 1-28 1-1 1 91 1-41 1-144 1 105 1 195 1-163 1 68 1-86 1 230 1-287 1 310 1-209 1-152 1 2 1 98 1-90 1 142 1-27 1 37 1-65 1-46 1-58 1 196 1-189 1 235 1-251 1 143 1-87 1 129 1 30 1-70 1-23 1-4 1 56 1-116 1 81 1-117 1 22 1 132 1-229 1 343 1-219 1 179 1-112 1-119 1 28 1 196 1-161 1 92 1 50 1-121 1 158 1-160 1-159 1 175 1 235 1-371 1 199 1-75 1 29 1-25 1 0 1 134 1-127 1-93 1 83 1 37 1 32 1-61 1-3 1 32 1 12 1-91 1-1 1 154 1-16 1-133 1 52 1 125 1-101 1 25 1-76 1 88 1 32 1-129 1 52 1 40 1-150 1 85 1 40 1-63 1-32 1 129 1-125 1 110 1-128 1 162 1 19 1-103 1-6 1 82 1-81 1 63 1-82 1 119 1-173 1 137 1 21 1-249 1 171 1 89 1-164 1 105 1-177 1 356 1-127 1-119 1-27 1 33 1-17 1 97 1 65 1-249 1 147 1-38 1-43 1 168 1-130 1 176 1-146 1 50 1-92 1 163 1-87 1-60 1-24 1 114 1-149 1 220 1-173 1 140 1-57 1-47 1 54 1-34 1-13 1 81 1-134 1 186 1-218 1 106 1-83 1 167 1-137 1 125 1-135 1 181 1 38 1-221 1 224 1-151 1 151 1-358 1 250 1-43 1 59 1-104 1 1 1 95 1-170 1 175 1-208 1 130 1-58 1 120 1-39 1-105 1 23 1 98 1 77 1-78 1-71 1 34 1 56 1-114 1 12 1 61 1 26 1-174 1 67 1 208 1-162 1 44 1 57 1-191 1 152 1-175 1 139 1-202 1 284 1-132 1 198 1-422 1-22 1 474 1-343 1 163 1-294 1 400 1-81 1-128 1-51 1 231 1-64 1-44 1 87 1-140 1 16 1 144 1-130 1 36 1-60 1 54 1-8 1 128 1-209 1 152 1 85 1-153 1 103 1-162 1 38 1 80 1-75 1 38 1-111 1 133 1 36 1-81 1-24 1 89 1-134 1 166 1-120 1 80 1-82 1 84 1-10 1-111 1 239 1-219 1 198 1-154 1 109 1-150 1 3 1 97 1 63 1-150 1 159 1-95 1-27 1 86 1 73 1-303 1 15 1 203 1-128 1 102 1-91 1 176 1-91 1-255 1 195 1-57 1 154 1-111 1 77 1-86 1 46 1-69 1 110 1-101 1 89 1 83 1-133 1 82 1-124 1 195 1-160 1 64 1 32 1-107 1 15 1 123 1-51 1-61 1 75 1-158 1 138 1-45 1-21 1 41 1-27 1 56 1-56 1 20 1-44 1 138 1-148 1 101 1-23 1-83 1 98 1-94 1 8 1 55 1-20 1 49 1-49 1 23 1 46 1-121 1 142 1-117 1-12 1 58 1-36 1 66 1-154 1 184 1-140 1 69 1-71 1 103 1-73 1 63 1-16 1 109 1-63 1-73 1 27 1-84 1 36 1 83 1-33 1-26 1-29 1 80 1-6 1-55 1-24 1 134 1-55 1-42 1 58 1-98 1 52 1-35 1 93 1-93 1 80 1-55 1 22 1 28 1 24 1-12 1-67 1 20 1 33 1-30 1 8 1-54 1 18 1 69 1-48 1 36 1-34 1 9 1 50 1-68 1-8 1 44 1-52 1 62 1-96 1 76 1-51 1 56 1 33 1-70 1-56 1 56 1-12 1 61 1-10 1-81 1 139 1-79 1 7 1-35 1 6 1 26 1-56 1 44 1 30 1-63 1 89 1-70 1 79 1-75 1 91 1-78 1 54 1-126 1 111 1-30 1-28 1 15 1 19 1 9 1-24 1-72 1 93 1-31 1-9 1 99 1-69 1-45 1 62 1-36 1-7 1 112 1-130 1 65 1-37 1 39 1-100 1 98 1 36 1-108 1 68 1-48 1-23 1 79 1-65 1 89 1-37 1-81 1 7 1 81 1-52 1 93 1-83 1 87 1-95 1 112 1-101 1 23 1-23 1-70 1 64 1 39 1-3 1-75 1 67 1 20 1-42 1 48 1-31 1-56 1 25 1 74 1-88 1-32 1 45 1-42 1 22 1 114 1-67 1 21 1 36 1-105 1 79 1-55 1-58 1 71 1 69 1-170 1 28 1 117 1-61 1 58 1-67 1 9 1-4 1-68 1 47 1 118 1 30 1-178 1 68 1 37 1 26 1-77 1 47 1-23 1-16 1 86 1 43 1-103 1-56 1 68 1 131 1-179 1 94 1-228 1 120 1 104 1-146 1 182 1-3 1-42 1-135 1 148 1-129 1 117 1 122 1-162 1-92 1 258 1-223 1-101 1 215 1-81 1-108 1 159 1 67 1-155 1 93 1-109 1 50 1 137 1 15 1-204 1 79 1-109 1 125 1 41 1 18 1-224 1 96 1-37 1 137 1-124 1-7 1 94 1 14 1-109 1 115 1-21 1-103 1 232 1-144 1-68 1-2 1 80 1-91 1 236 1-211 1 116 1-177 1 156 1-90 1 146 1-258 1 172 1 118 1-135 1 27 1-104 1 22 1 169 1-216 1 156 1-68 1 167 1-105 1-176 1 155 1-201 1 125 1 69 1 38 1 35 1-97 1-83 1 84 1-52 1-5 1 195 1-45 1-163 1 163 1-181 1 100 1-46 1-24 1 99 1-53 1 69 1 89 1-220 1 145 1-111 1 148 1-135 1-112 1 141 1-45 1 127 1-136 1 89 1 5 1-117 1 237 1-90 1-43 1 69 1-113 1 57 1-88 1 164 1-181 1 97 1-54 1 84 1 54 1-197 1 14 1 118 1-136 1 203 1-33 1-180 1 25 1 79 1 66 1-166 1 187 1-251 1 163 1 67 1-66 1 22 1 36 1-156 1 36 1 130 1-123 1 50 1 75 1-133 1-61 1 270 1-153 1 126 1-132 1 102 1-171 1 99 1-29 1 82 1-89 1-46 1 54 1 91 1-112 1-11 1-22 1 112 1 78 1-189 1-147 1 146 1-47 1 77 1-45 1 81 1-79 1 77 1 2 1-142 1 97 1 87 1-117 1 80 1 65 1-159 1 110 1-104 1 2 1 156 1-234 1 151 1-60 1 103 1-5 1-112 1 59 1 121 1-20 1-228 1 74 1 146 1-53 1-94 1 134 1-154 1-49 1 211 1-76 1 213 1-210 1-56 1 84 1 72 1-198 1 81 1 17 1 48 1-114 1 154 1-101 1-35 1 98 1-55 1-43 1 49 1-115 1 119 1-8 1-84 1 161 1-162 1 66 1 29 1 69 1-97 1 17 1-45 1-4 1 174 1-256 1 180 1-74 1 7 1 126 1-132 1 74 1-141 1 101 1 33 1-86 1 110 1 13 1-108 1 100 1-133 1 29 1 56 1-119 1 111 1 27 1-135 1 199 1-177 1-21 1 133 1-83 1 81 1-73 1 65 1 99 1-128 1-82 1 198 1-211 1 287 1-278 1 81 1 81 1-121 1-88 1 225 1 2 1-163 1 135 1-136 1 85 1-53 1 97 1-103 1-4 1 115 1-19 1-105 1 73 1-88 1 36 1 87 1 31 1-172 1 21 1 155 1-22 1-75 1 2 1 59 1 5 1-106 1 124 1-133 1 113 1-110 1 32 1 64 1 81 1-81 1-4 1 53 1-51 1-57 1 63 1-51 1 43 1-47 1 17 1-80 1 32 1 69 1-27 1-14 1 16 1-104 1 154 1-95 1 29 1 139 1-184 1 100 1-4 1-158 1 126 1-48 1 105 1-69 1-75 1 160 1 33 1-196 1 77 1 84 1-87 1 84 1-6 1-64 1-116 1 148 1-120 1 117 1-9 1-52 1 29 1 37 1 23 1-118 1 21 1 36 1-50 1 168 1-64 1-172 1 188 1-128 1-38 1 230 1-161 1 120 1-31 1-133 1 175 1-181 1 47 1 151 1-54 1-100 1 20 1 38 1-92 1 227 1-148 1 153 1 19 1-235 1 210 1-197 1-17 1 161 1-112 1-70 1 100 1-91 1 115 1-70 1-3 1 22 1-16 1 48 1-178 1 250 1-110 1-85 1 76 1-44 1 30 1 58 1-36 1 31 1 45 1-129 1 13 1 78 1-124 1 154 1-77 1 50 1-48 1 39 1-48 1 123 1-160 1 111 1 16 1-60 1-47 1 125 1-53 1-109 1 5 1 131 1 85 1-109 1 85 1-214 1 56 1-13 1 77 1-96 1 29 1-31 1 45 1 53 1 63 1-161 1 56 1 40 1-61 1 77 1 43 1-90 1 59 1 34 1-14 1-163 1 186 1-151 1 110 1 88 1-158 1 105 1-52 1-176 1 251 1-129 1-2 1-137 1 125 1 43 1-100 1 118 1-72 1 99 1-136 1 109 1 12 1 24 1-14 1-99 1 164 1-214 1 93 1 72 1-7 1-101 1 31 1 100 1-216 1 193 1-131 1 105 1 17 1-105 1 53 1-52 1 100 1-88 1 46 1 45 1 102 1-307 1 226 1-194 1 207 1-139 1 45 1 52 1-58 1-87 1 89 1-57 1 167 1-200 1 133 1-69 1-33 1 94 1-104 1 88 1-61 1-83 1-37 1 255 1-159 1 147 1-115 1 122 1-210 1 138 1 90 1-179 1 3 1 106 1-44 1 107 1-96 1-42 1 105 1-123 1 83 1-148 1 235 1-213 1 135 1-147 1 264 1-185 1 91 1-78 1 51 1-143 1 57 1 78 1-91 1 210 1-47 1-99 1 38 1-106 1 137 1-186 1 230 1-198 1 98 1 125 1-103 1-113 1 37 1 80 1-88 1 132 1-82 1 47 1-64 1 125 1-88 1 21 1-54 1-27 1 81 1-24 1 47 1-63 1 77 1-44 1-75 1 133 1 19 1-65 1 38 1-49 1-83 1 171 1-136 1 268 1-235 1 64 1-197 1 176 1-77 1 62 1 73 1-152 1 73 1-42 1 34 1 107 1-207 1 67 1 129 1-127 1-42 1 141 1-75 1 58 1 56 1-126 1-9 1 113 1-114 1 175 1-133 1-108 1 8 1 112 1-19 1-151 1 63 1 84 1-74 1 48 1 111 1-108 1 28 1-128 1-77 1 291 1-106 1-94 1-27 1 222 1-134 1 42 1 55 1-190 1 57 1 125 1 9 1-97 1 151 1-107 1-108 1 176 1 67 1-177 1 52 1-115 1-61 1 201 1-209 1 117 1-71 1 244 1-9 1-131 1 111 1-236 1 31 1 123 1 131 1-295 1 69 1 125 1-87 1 67 1-17 1-54 1 6 1 93 1 20 1-128 1 60 1-144 1 173 1-155 1 210 1-176 1 117 1-45 1 11 1 55 1 106 1-210 1 219 1-200 1 59 1-95 1 134 1-178 1-47 1 150 1 93 1-82 1-111 1 124 1-21 1-33 1-10 1 68 1-51 1 61 1-12 1-72 1 102 1-84 1 82 1-75 1 49 1-91 1 45 1 75 1-91 1 47 1 18 1-100 1 120 1-112 1 20 1 92 1-106 1 15 1 51 1-74 1 108 1-71 1 75 1-78 1-23 1 134 1-62 1 46 1-30 1 18 1-81 1 56 1-17 1 51 1-85 1 81 1-48 1-25 1 69 1-181 1 207 1-99 1 164 1-133 1-72 1 68 1 88 1-150 1 102 1-21 1 8 1-91" fill="none" stroke="#0000ff" stroke-width="0.42" vector-effect="non-scaling-stroke"/>
<path d="M390.50 437.9v-2.9M390.50 378.6v2.9M438.33 437.9v-2.9M438.33 378.6v2.9M486.17 437.9v-2.9M486.17 378.6v2.9M534.00 437.9v-2.9M534.00 378.6v2.9M581.83 437.9v-2.9M581.83 378.6v2.9M629.67 437.9v-2.9M629.67 378.6v2.9M677.50 437.9v-2.9M677.50 378.6v2.9M390.5 431.59h2.9M677.5 431.59h-2.9M390.5 407.15h2.9M677.5 407.15h-2.9M390.5 382.71h2.9M677.5 382.71h-2.9" fill="none" stroke="#747474" stroke-width="1"/>
<rect x="390.5" y="378.6" width="287.0" height="59.30" fill="none" stroke="#747474" stroke-width="1"/>
<text x="390.50" y="450.40" font-size="8.3" text-anchor="middle">0</text>
<text x="438.33" y="450.40" font-size="8.3" text-anchor="middle">20</text>
<text x="486.17" y="450.40" font-size="8.3" text-anchor="middle">40</text>
<text x="534.00" y="450.40" font-size="8.3" text-anchor="middle">60</text>
<text x="581.83" y="450.40" font-size="8.3" text-anchor="middle">80</text>
<text x="629.67" y="450.40" font-size="8.3" text-anchor="middle">100</text>
<text x="677.50" y="450.40" font-size="8.3" text-anchor="middle">120</text>
<text x="387.30" y="435.19" font-size="8.3" text-anchor="end">-1000</text>
<text x="387.30" y="410.75" font-size="8.3" text-anchor="end">0</text>
<text x="387.30" y="386.31" font-size="8.3" text-anchor="end">1000</text>
<text transform="translate(361.60,408.25) rotate(-90)" font-size="9.3" text-anchor="middle">pitch (deg/s/s)</text>
<path transform="translate(390.75 0) scale(0.5 0.1)" d="M0 4891l1 22 1-15 1-2 1-6 1 10 1 9 1 2 1-9 1-7 1 14 1-17 1 9 1-7 1 19 1-5 1-3 1-11 1-3 1 6 1 8 1-7 1 8 1 2 1 7 1-6 1-6 1-1 1 8 1-9 1-1 1 2 1 4 1-7 1 3 1 3 1 1 1 2 1 1 1-8 1-6 1 8 1-7 1 11 1-9 1 10 1-4 1-1 1 8 1-17 1 5 1 3 1-7 1 8 1-6 1 10 1 9 1 0 1-19 1 11 1-7 1-1 1 2 1 16 1-9 1-17 1 9 1 5 1 2 1-3 1 3 1-13 1 5 1 6 1-3 1 7 1-10 1 0 1 1 1-10 1 16 1 0 1-17 1 19 1-7 1 4 1-5 1 4 1-4 1 4 1-13 1 7 1 9 1-11 1 4 1 1 1 8 1-6 1-8 1-9 1 31 1-36 1 6 1-1 1 3 1 10 1-15 1 13 1-45 1 25 1 14 1-67 1 57 1-18 1 9 1-9 1 37 1 14 1-4 1-38 1 53 1-39 1-25 1 41 1-20 1-46 1 23 1 6 1 24 1-31 1 16 1-4 1-90 1 46 1 31 1 31 1-16 1 14 1 7 1-24 1-22 1-81 1 72 1 29 1-64 1 80 1-53 1 32 1-8 1 40 1-37 1-4 1-36 1 56 1 33 1-50 1 6 1 28 1-55 1 85 1-118 1 29 1-19 1 143 1-45 1-45 1-65 1 73 1 7 1-3 1-14 1-31 1-12 1 70 1-20 1-19 1-53 1 38 1 3 1-1 1 38 1-32 1 75 1-27 1-12 1 13 1-73 1 58 1 4 1-89 1 50 1 17 1 38 1-8 1-64 1-25 1 48 1 31 1-45 1 91 1-145 1 91 1 37 1-1 1-45 1 34 1-69 1 25 1 7 1-23 1-33 1 91 1-43 1 31 1 22 1-28 1 96 1-152 1 44 1 19 1-35 1 25 1 4 1-7 1 47 1-28 1-33 1 37 1-24 1 33 1-26 1 5 1-2 1-37 1 27 1 12 1-46 1 38 1 28 1-118 1 81 1 1 1-60 1 25 1 33 1 4 1 2 1-14 1-30 1 78 1-44 1-29 1 53 1-36 1-32 1 78 1-10 1-56 1 63 1-9 1-95 1 97 1-36 1-20 1 18 1 31 1-12 1 17 1 17 1-29 1-9 1 2 1 14 1-7 1-77 1 9 1 80 1 33 1-49 1 58 1-60 1 54 1-46 1-29 1 67 1-50 1 41 1-52 1 2 1 40 1-31 1-18 1 18 1-40 1 80 1-25 1 40 1-58 1 1 1 11 1 24 1-12 1-87 1 84 1 0 1-49 1 26 1 0 1-12 1 45 1-7 1-74 1 60 1-94 1 100 1-8 1 18 1 11 1-22 1 33 1-25 1 23 1-80 1 70 1-48 1 36 1 18 1-15 1-19 1 10 1 26 1-74 1-8 1 67 1 48 1-83 1 35 1-21 1 15 1-27 1 20 1 16 1-16 1 5 1 20 1 12 1-39 1 41 1-30 1-20 1 55 1-32 1-22 1 36 1 6 1-6 1-14 1-7 1 25 1 5 1-16 1-19 1 14 1 14 1-8 1 9 1-8 1-16 1-2 1-44 1 55 1 10 1-6 1 1 1-23 1-24 1 38 1-15 1 21 1-99 1 31 1 46 1 24 1-13 1-14 1-1 1 39 1-84 1 48 1 0 1-31 1 82 1-46 1-31 1 8 1 7 1 8 1-8 1 26 1 2 1-10 1 7 1 3 1 34 1 7 1-97 1 36 1 34 1-36 1-9 1 50 1-43 1 2 1-1 1-2 1 35 1-3 1-35 1 28 1 1 1 32 1-64 1 42 1-32 1 22 1-12 1 8 1-19 1-41 1 72 1-7 1-33 1 21 1-25 1 39 1-15 1-31 1-4 1 28 1-23 1 21 1 14 1 24 1-63 1 12 1 29 1-9 1 34 1-9 1 14 1-12 1-67 1 24 1 19 1 2 1 20 1-40 1 50 1-60 1 56 1-16 1 14 1-22 1-10 1-52 1 59 1-73 1 85 1 21 1-43 1 5 1 24 1-18 1 0 1 4 1 0 1 32 1-17 1-31 1 33 1-39 1 65 1-31 1-13 1 7 1-2 1-29 1 0 1 15 1-33 1 66 1-45 1 21 1 12 1 12 1-48 1 41 1-39 1 14 1 7 1 8 1-17 1 27 1-40 1 42 1-31 1-35 1 61 1 28V4937l-1 21 -1-35 -1 49 -1-47 -1 5 -1 2 -1 8 -1 51 -1-42 -1-2 -1-12 -1 36 -1-32 -1 11 -1 10 -1 20 -1-33 -1 7 -1-45 -1 47 -1-22 -1 7 -1-13 -1 53 -1-59 -1 16 -1 2 -1-25 -1 37 -1-23 -1 25 -1 29 -1-53 -1-4 -1-6 -1 33 -1-13 -1 2 -1-3 -1 35 -1-8 -1-62 -1 51 -1-12 -1 28 -1-62 -1 55 -1-37 -1 43 -1 16 -1-38 -1 25 -1-18 -1-3 -1 22 -1-26 -1-29 -1 11 -1 11 -1-16 -1 4 -1 35 -1-5 -1-20 -1 6 -1 7 -1-6 -1-36 -1 8 -1 26 -1-23 -1 39 -1-24 -1 28 -1 0 -1 27 -1-54 -1 27 -1-33 -1 26 -1-28 -1 24 -1 7 -1-28 -1 54 -1-4 -1 5 -1-10 -1 9 -1-26 -1-4 -1-9 -1 14 -1 2 -1 31 -1-29 -1-15 -1-2 -1 10 -1-36 -1 18 -1 3 -1-30 -1 27 -1 59 -1-42 -1 17 -1-30 -1 31 -1 11 -1-51 -1 40 -1-34 -1-5 -1-1 -1-8 -1 83 -1-100 -1 33 -1 23 -1-67 -1 47 -1 4 -1 12 -1 1 -1-14 -1-8 -1 2 -1-67 -1 106 -1-45 -1 26 -1-31 -1 14 -1-4 -1-7 -1-19 -1 9 -1 4 -1-11 -1 8 -1 11 -1-1 -1 10 -1 20 -1-24 -1-17 -1-9 -1 13 -1 5 -1-9 -1 10 -1 1 -1-6 -1 6 -1-14 -1-4 -1 38 -1 2 -1-25 -1 15 -1-16 -1 11 -1 59 -1-53 -1-7 -1 34 -1-35 -1 2 -1 6 -1 34 -1 15 -1-63 -1 34 -1-32 -1 25 -1 2 -1-5 -1-9 -1-10 -1 9 -1 18 -1-24 -1-9 -1 44 -1-22 -1-17 -1 11 -1 0 -1-21 -1 88 -1-59 -1 23 -1-27 -1-14 -1 1 -1 50 -1-30 -1 1 -1-1 -1 4 -1 2 -1 9 -1-12 -1-18 -1-25 -1 22 -1 44 -1 14 -1-52 -1-35 -1 47 -1 0 -1-2 -1-40 -1 49 -1 2 -1-37 -1-5 -1 9 -1 41 -1-2 -1-51 -1 49 -1 14 -1-18 -1 2 -1 22 -1-21 -1 18 -1-24 -1 2 -1-12 -1-14 -1-6 -1-2 -1 38 -1-43 -1 27 -1 17 -1 20 -1-70 -1 16 -1 25 -1 23 -1-86 -1 45 -1 25 -1-61 -1 42 -1-12 -1 17 -1 25 -1-41 -1 95 -1-108 -1 77 -1-27 -1-34 -1 38 -1-34 -1 44 -1-17 -1-66 -1 47 -1-5 -1-17 -1 27 -1-23 -1 80 -1-55 -1-60 -1 75 -1 3 -1-54 -1 17 -1 19 -1-11 -1 17 -1 38 -1 6 -1-23 -1-52 -1 45 -1-11 -1-37 -1 16 -1 3 -1-5 -1-10 -1 5 -1 65 -1-49 -1 29 -1-25 -1-19 -1 34 -1-47 -1 10 -1 37 -1 30 -1 19 -1-71 -1-51 -1 80 -1-40 -1 32 -1-14 -1 72 -1-86 -1 27 -1 5 -1-43 -1 32 -1-41 -1 61 -1-4 -1 9 -1-67 -1 45 -1 18 -1-22 -1-43 -1-7 -1 63 -1-33 -1 22 -1-27 -1-51 -1 56 -1-31 -1 6 -1 26 -1 70 -1-66 -1 36 -1-62 -1 4 -1 0 -1 96 -1-51 -1-71 -1 12 -1 97 -1 8 -1-54 -1-72 -1 32 -1 33 -1 22 -1-37 -1-17 -1 79 -1-39 -1 3 -1-16 -1 75 -1-14 -1 3 -1-89 -1 50 -1-15 -1-52 -1-4 -1 84 -1-71 -1 112 -1-23 -1-4 -1-22 -1-43 -1-34 -1 40 -1-8 -1-54 -1 99 -1-36 -1-4 -1 24 -1 30 -1-77 -1 31 -1-18 -1 18 -1 25 -1-42 -1 18 -1 79 -1-13 -1-70 -1 50 -1-24 -1-16 -1-25 -1-8 -1-10 -1-6 -1 32 -1 11 -1-33 -1 13 -1 36 -1-29 -1 16 -1-14 -1 8 -1-25 -1 4 -1-12 -1 4 -1 8 -1-5 -1-3 -1-3 -1 1 -1-8 -1 2 -1 15 -1-6 -1-5 -1 1 -1 13 -1-19 -1-2 -1 10 -1-4 -1-6 -1 7 -1-4 -1-9 -1 26 -1-23 -1 15 -1-8 -1 7 -1-3 -1-6 -1 3 -1 6 -1-9 -1 5 -1 3 -1-9 -1 1 -1 9 -1-8 -1 10 -1-5 -1 2 -1-9 -1 21 -1-10 -1-11 -1 7 -1-5 -1 1 -1 0 -1 3 -1-15 -1 14 -1-3 -1 17 -1-10 -1-10 -1 0 -1 0 -1 10 -1-8 -1 6 -1-5 -1 7 -1-6 -1 2 -1-9 -1-4 -1 20 -1-10 -1-1 -1 6 -1-1 -1-1 -1 2 -1 9 -1-4 -1 1 -1 10 -1-24 -1 3 -1 12 -1-10 -1-1 -1 0 -1 12 -1-4 -1-16 -1 10 -1-2 -1 14 -1-9 -1-10 -1 13 -1-5 -1-5 -1 5 -1 2 -1 5 -1 9 -1-17z" fill="#0000ff"/>
<path transform="scale(0.08333333333333333 0.1)" d="M4686 4942l1-68 1 44 1-20 1-7 1 36 1-24 1 49 1-42 1 15 1-9 1 30 1-48 1 34 1-39 1 39 1-9 1-35 1 48 1-40 1-16 1 64 1-50 1 30 1-42 1 40 1 2 1-47 1 55 1-31 1 23 1-10 1-32 1 37 1-18 1 16 1-27 1 37 1-18 1 22 1-27 1 16 1-4 1 23 1 1 1-41 1 15 1-6 1-8 1 14 1 9 1-21 1-16 1 28 1-19 1 14 1-24 1 61 1-22 1-34 1 17 1 31 1-5 1-19 1 42 1-70 1-3 1 28 1 8 1-27 1 64 1-54 1 19 1-22 1 2 1 16 1 7 1-32 1 2 1 28 1-50 1 30 1 12 1-20 1 17 1 29 1-8 1-19 1-19 1 25 1 6 1-35 1 41 1 9 1-26 1-10 1-4 1 12 1 7 1-10 1 22 1-26 1 21 1-27 1 31 1-36 1 25 1-27 1-4 1 67 1-28 1-56 1 48 1-28 1 25 1-21 1 41 1-39 1 36 1-39 1 21 1-13 1 20 1-24 1 33 1-26 1 10 1-25 1 12 1 24 1-55 1 38 1-30 1 60 1-32 1 45 1-4 1-45 1 35 1-30 1 26 1-28 1 16 1-23 1 31 1-9 1-12 1 8 1-2 1 13 1 7 1-26 1-3 1 40 1-14 1-35 1 7 1 19 1-28 1 16 1 21 1-36 1 23 1-25 1 27 1-19 1-6 1 44 1-12 1-26 1 10 1 11 1-1 1-22 1-2 1 25 1 3 1-25 1-10 1 35 1-7 1-36 1 17 1 13 1 18 1-36 1 0 1 11 1 16 1-19 1-7 1 36 1-25 1-7 1 40 1-35 1 23 1-17 1-8 1 14 1-22 1 11 1 22 1-34 1 31 1-24 1-5 1 23 1-8 1-9 1 18 1-18 1-4 1 29 1-3 1-19 1-5 1 18 1-7 1 23 1-38 1 14 1 21 1-25 1 5 1-3 1-2 1 22 1-11 1 17 1-16 1-11 1-5 1 14 1 7 1-26 1 38 1-40 1 32 1-26 1 16 1-28 1 5 1 43 1-10 1-32 1 8 1 32 1-10 1-24 1 13 1-14 1 25 1-29 1-32 1 67 1-16 1-15 1 14 1-4 1-2 1 27 1-27 1-6 1 19 1-27 1 9 1-23 1 22 1 29 1 1 1-24 1 17 1-16 1 3 1-14 1 6 1 43 1-56 1 45 1-33 1 24 1-20 1 28 1-43 1 26 1-30 1 32 1-9 1 35 1-45 1 22 1-8 1-18 1 4 1-5 1-4 1 29 1-34 1 39 1-15 1-16 1 27 1-26 1 32 1-14 1 5 1-17 1 28 1-41 1 41 1-29 1 18 1-27 1 2 1 19 1 8 1-18 1 11 1-9 1-2 1-21 1 33 1 19 1-9 1-15 1-4 1-15 1 10 1 32 1-24 1 8 1-18 1 10 1 4 1-6 1 21 1-9 1 9 1-33 1 23 1-2 1 21 1-44 1 19 1 24 1-20 1 32 1-32 1-35 1 12 1 23 1 10 1-29 1-6 1 48 1-31 1 14 1 5 1-34 1 0 1 40 1-6 1-30 1 22 1-7 1-23 1 39 1 8 1-36 1 11 1 34 1-18 1-25 1-13 1 33 1-17 1 13 1 19 1-19 1 9 1-19 1 11 1 7 1-14 1-4 1-7 1 33 1-15 1-8 1 11 1-46 1 40 1-24 1-8 1 19 1-28 1 50 1-15 1 41 1-13 1-39 1 42 1-38 1 2 1 8 1 9 1-14 1 9 1-9 1 10 1-20 1 39 1-40 1 20 1-22 1 2 1 29 1 6 1-27 1-2 1 30 1-23 1-2 1-16 1 28 1-12 1 13 1-1 1-27 1 24 1-24 1 28 1-21 1 41 1-35 1 17 1-49 1 24 1 37 1-45 1 28 1 28 1-24 1 11 1-17 1 3 1-27 1 17 1-9 1 10 1 22 1-1 1-39 1 6 1 29 1-37 1 17 1-7 1 28 1 8 1-40 1 4 1 39 1-57 1 46 1-28 1 40 1-19 1-24 1 11 1-7 1 23 1-22 1-24 1 50 1 9 1-42 1 20 1-41 1 49 1-13 1-7 1 45 1-36 1-14 1 16 1-11 1 6 1 19 1-12 1-29 1 3 1 45 1-46 1 32 1-11 1-20 1 51 1-34 1-9 1 26 1-8 1 10 1-25 1 14 1-30 1 48 1-13 1-8 1-4 1 9 1-15 1 14 1-10 1 22 1-43 1 30 1-11 1 36 1-4 1-35 1 34 1-32 1 21 1-19 1 18 1-28 1-4 1 47 1-32 1 22 1-7 1-31 1 29 1-14 1 4 1 25 1-49 1 36 1-1 1 13 1-18 1-43 1 20 1 44 1-37 1 34 1-15 1-20 1 9 1 14 1 1 1-16 1 9 1-7 1 9 1-10 1-11 1 28 1-31 1 41 1-37 1 33 1-29 1 22 1-22 1 47 1-53 1 17 1 8 1 31 1-18 1-50 1 43 1-24 1-25 1 47 1 32 1-62 1 24 1 38 1-12 1-41 1 45 1-66 1 29 1 23 1-8 1-14 1-37 1 59 1 1 1-40 1-8 1 43 1-8 1-37 1 55 1-78 1 72 1-6 1 6 1-48 1 21 1 54 1-30 1-49 1 73 1-91 1 13 1 47 1-17 1-69 1 49 1 44 1 54 1-30 1 6 1-43 1-53 1 26 1-13 1 84 1-64 1 68 1 28 1-120 1 87 1-110 1 99 1-56 1 78 1-72 1-2 1 34 1-33 1 75 1 19 1-163 1 102 1-48 1 68 1-53 1-3 1 44 1-45 1 43 1-86 1 73 1 16 1-88 1-17 1 142 1-116 1 109 1-122 1 109 1 21 1-38 1-12 1-58 1 76 1-91 1 37 1 115 1-188 1 79 1 104 1-114 1-4 1-71 1 87 1 60 1-100 1 45 1-46 1 61 1 42 1-77 1-15 1-36 1 188 1-131 1 14 1-105 1 164 1-71 1 74 1-95 1-10 1 101 1 42 1-182 1 122 1-30 1-39 1 127 1-103 1 90 1-11 1-60 1 84 1-86 1-35 1 148 1 21 1-206 1 65 1 78 1-43 1-74 1 63 1 72 1 17 1-181 1 194 1-143 1 87 1-158 1 91 1 123 1 41 1-124 1-104 1 99 1 9 1-81 1 15 1 44 1 88 1-139 1-16 1 73 1 5 1-103 1 18 1-99 1 276 1-136 1 18 1-77 1 61 1 78 1 33 1-133 1-9 1 83 1 13 1-92 1 49 1-103 1 171 1-169 1 49 1 158 1-76 1-103 1 110 1-161 1 157 1-50 1-72 1 109 1-41 1-37 1-45 1 103 1-37 1 97 1-117 1 154 1-11 1-132 1-24 1 116 1-114 1 241 1-322 1 197 1-15 1-83 1-2 1 74 1 19 1-99 1 29 1-49 1-79 1 259 1-76 1-18 1-233 1 287 1 100 1-308 1 24 1 208 1-123 1-63 1 110 1-129 1 132 1-162 1 57 1 148 1-164 1 101 1-33 1 109 1-125 1 102 1-7 1-118 1 41 1 45 1-76 1 208 1-154 1-37 1 23 1-38 1 124 1-134 1 21 1 79 1-63 1 47 1-1 1 29 1-101 1 183 1-230 1 236 1-127 1 99 1-152 1 229 1-88 1-286 1 61 1 234 1-67 1-155 1 224 1-140 1-190 1 355 1-280 1 273 1-283 1 197 1 60 1-194 1 97 1-125 1 47 1 156 1-93 1 95 1-129 1-169 1 231 1 159 1-179 1-118 1 202 1-228 1 85 1-47 1 76 1 98 1-108 1 123 1-104 1 28 1 19 1 57 1-213 1 191 1-231 1 229 1-96 1 111 1-176 1 239 1-188 1 104 1-134 1 146 1-30 1-235 1 180 1 44 1-10 1 132 1-33 1-256 1 144 1-17 1-83 1 157 1-176 1 352 1-94 1-192 1 190 1-180 1 219 1-331 1 61 1 46 1 76 1-190 1 281 1-205 1-7 1 176 1-111 1 113 1-30 1-151 1 191 1-118 1 19 1 65 1-114 1 207 1-136 1 68 1-278 1 292 1-94 1 166 1-90 1-136 1-28 1 58 1-114 1 169 1-50 1 71 1-72 1 58 1-87 1 115 1-136 1 114 1-178 1 209 1-167 1 273 1-256 1 176 1-28 1-38 1 2 1-62 1 109 1-192 1-21 1 99 1 56 1-135 1 1 1 128 1 24 1-113 1 76 1-143 1 57 1 41 1 111 1-37 1-134 1 158 1-242 1 218 1 51 1-237 1 268 1-12 1-61 1 127 1-52 1-100 1-93 1 179 1-48 1-30 1-132 1 197 1-138 1 10 1 74 1-220 1 44 1 134 1-207 1 298 1-78 1-105 1 91 1-38 1-4 1 237 1-114 1-81 1 27 1 156 1-65 1-239 1 302 1-279 1 3 1 299 1-233 1 55 1-21 1 22 1-76 1 100 1-199 1 175 1-70 1 79 1-138 1 105 1-135 1 158 1 58 1-96 1-181 1 296 1-18 1-171 1 186 1-220 1 168 1-108 1 44 1 117 1-52 1-103 1-22 1 193 1-10 1-133 1 144 1-201 1-18 1 151 1-121 1 96 1 87 1-167 1-55 1 104 1 49 1-151 1-14 1 148 1-108 1 95 1-14 1-121 1 205 1-131 1-105 1 145 1-59 1 214 1-172 1 77 1 35 1-133 1-22 1 140 1-150 1 56 1 159 1-285 1 158 1-40 1-45 1 114 1-156 1 235 1-212 1 160 1-128 1 80 1-5 1 55 1 59 1-131 1 32 1-77 1 154 1-245 1 137 1 119 1-56 1-118 1 32 1 91 1 29 1-95 1 2 1-69 1 68 1 29 1-30 1-45 1-9 1 199 1-120 1-110 1 192 1-91 1-122 1 291 1-234 1 149 1-105 1 92 1-223 1 182 1-55 1 78 1-87 1 169 1-174 1-56 1-139 1 363 1-314 1 187 1 206 1-251 1 222 1-188 1 136 1-232 1-7 1 83 1-55 1 218 1-58 1-80 1-87 1 105 1 22 1-59 1 90 1 33 1-196 1 209 1-110 1-27 1 164 1-196 1 49 1-70 1 30 1 115 1-179 1 118 1 86 1-220 1 95 1 35 1 106 1-280 1 51 1 138 1 43 1-184 1-19 1 271 1-201 1 133 1-5 1-150 1 142 1-89 1 39 1 64 1-148 1 148 1-33 1-127 1 143 1-138 1 98 1 89 1-161 1 234 1-169 1 270 1-573 1 426 1-108 1-30 1-200 1 262 1-131 1 91 1-24 1 99 1-23 1-131 1 247 1-265 1 137 1-40 1 14 1-38 1 84 1-173 1 182 1-66 1 98 1-147 1-17 1-16 1 59 1-25 1 145 1-136 1 83 1-51 1-71 1 106 1-110 1 149 1-44 1-162 1 38 1 222 1-287 1 310 1-296 1 232 1 103 1-182 1-153 1 258 1-29 1-146 1-58 1 186 1-9 1-33 1-136 1 296 1-277 1 109 1 153 1-203 1 44 1-129 1-184 1 430 1-151 1-94 1 21 1 145 1 30 1-103 1-2 1 85 1 1 1-36 1-93 1 28 1 57 1-138 1 91 1 170 1-308 1 246 1-89 1-73 1 74 1 79 1-84 1 86 1-138 1 167 1-262 1 183 1-116 1 138 1 109 1-135 1 36 1 46 1-24 1-144 1 193 1-270 1 120 1 100 1-242 1 366 1-297 1 123 1 13 1-72 1 38 1-105 1 204 1-178 1 39 1 66 1-65 1 149 1-181 1 87 1-90 1 83 1 14 1 39 1-31 1-206 1 161 1 44 1-122 1 206 1-264 1 131 1 50 1-89 1 68 1 20 1-53 1-22 1 173 1-88 1-39 1-99 1 35 1 127 1 1 1-70 1-18 1 90 1-32 1-169 1 44 1 99 1 140 1-181 1 174 1-240 1 32 1-72 1 266 1-181 1 193 1-199 1 31 1-25 1 30 1 113 1 22 1-86 1-65 1 110 1 32 1-158 1 136 1-160 1 12 1 86 1 72 1-49 1 13 1-92 1-9 1 88 1-13 1-88 1 97 1-153 1 164 1-129 1 95 1-171 1 115 1 94 1-31 1-55 1-68 1 243 1-200 1 78 1-228 1 248 1-48 1 32 1-114 1 82 1-45 1 126 1 55 1-198 1 128 1-183 1 92 1-62 1 173 1-119 1 0 1 124 1-103 1-106 1 36 1 158 1-155 1 168 1-192 1 151 1-90 1 125 1-17 1-107 1 20 1 126 1-118 1 94 1 40 1-204 1-57 1 196 1-192 1 107 1-33 1 211 1-305 1 240 1-134 1 37 1-60 1 181 1-159 1 66 1 165 1-222 1-57 1 158 1-199 1 211 1-36 1-146 1 147 1-145 1 113 1 37 1 61 1-186 1 78 1-114 1 56 1 88 1-31 1-37 1 102 1-122 1 62 1 88 1-143 1 117 1 11 1-138 1 9 1 148 1-90 1-93 1 221 1-151 1-37 1 108 1-105 1 46 1-136 1 216 1 93 1-178 1 111 1-184 1-40 1 192 1-50 1 67 1 2 1-227 1 170 1-59 1 48 1 121 1-179 1 107 1-152 1 34 1-38 1 83 1-95 1 177 1 63 1-88 1-34 1-44 1 8 1 133 1-234 1 181 1-37 1-133 1 46 1 206 1-223 1 241 1-256 1 181 1-218 1 209 1-209 1 121 1 21 1-77 1 162 1-112 1 96 1-29 1-138 1 144 1-51 1-79 1 57 1 63 1-124 1-128 1 86 1 268 1-145 1-76 1 166 1-290 1 231 1-54 1 87 1-197 1 311 1-210 1 10 1 18 1-47 1 22 1 126 1-183 1 143 1-206 1 22 1 241 1-46 1-128 1 30 1 78 1-89 1 23 1-4 1-44 1-64 1 102 1 115 1-184 1 11 1 159 1-78 1 107 1-273 1 140 1 21 1-98 1 158 1 45 1-163 1 113 1-135 1 115 1-127 1 236 1-171 1 55 1-20 1-47 1 123 1-193 1 140 1-31 1-64 1 84 1-45 1 80 1-66 1 186 1-105 1-75 1 68 1-92 1-2 1 144 1-49 1-146 1 32 1 167 1-149 1 82 1-66 1 95 1-150 1 190 1-113 1-80 1 33 1 126 1-71 1-81 1 247 1-320 1 201 1-143 1 123 1-42 1 29 1-165 1 147 1-44 1 36 1 97 1-174 1 122 1-34 1-30 1-139 1 266 1-72 1-149 1 163 1-65 1-119 1 161 1 45 1-237 1 227 1-86 1 57 1-95 1 186 1-171 1 134 1-155 1-3 1 201 1-119 1 49 1 24 1-177 1-95 1 322 1-114 1-23 1 87 1-189 1 184 1-183 1 122 1 36 1 33 1-146 1 133 1-31 1 87 1-185 1 89 1 58 1 44 1-191 1-5 1 84 1-39 1 29 1 49 1-177 1 229 1-149 1 72 1-101 1-29 1 216 1-191 1 181 1-47 1-212 1 218 1-55 1-50 1 203 1-165 1 107 1-363 1 268 1-129 1 100 1-10 1 119 1-132 1 138 1-41 1-68 1-154 1 303 1-161 1 170 1-118 1-175 1 167 1-115 1-63 1 303 1-207 1 109 1-64 1 77 1-83 1 37 1 17 1-78 1-18 1 21 1-9 1 72 1-3 1 20 1 86 1-199 1 161 1-184 1 114 1-12 1 36 1-104 1 226 1-164 1 52 1-108 1 164 1-179 1-54 1 116 1-173 1 191 1-83 1 76 1 54 1-30 1 58 1-99 1 43 1-135 1 53 1 109 1-66 1 209 1-118 1-127 1 111 1-158 1 130 1-25 1-85 1 210 1-257 1 107 1-38 1 34 1-33 1 172 1-172 1 90 1 27 1-120 1 156 1-86 1 98 1-157 1 134 1-154 1 225 1-178 1 85 1 61 1-211 1 106 1-53 1 61 1-96 1 224 1-265 1 118 1-158 1 164 1-135 1 126 1-134 1 123 1 74 1-105 1 3 1 64 1-150 1 92 1 79 1-88 1 16 1 69 1 47 1-223 1 193 1-72 1 67 1-152 1-60 1 293 1-89 1-112 1-22 1 52 1 2 1 178 1-210 1 16 1 28 1 86 1-77 1-77 1 74 1-70 1 125 1-117 1-5 1 184 1-32 1-185 1 83 1 28 1-46 1 93 1-80 1 59 1-72 1 108 1-17 1-154 1-59 1 242 1 67 1-206 1-55 1 240 1-73 1-120 1 94 1-70 1-23 1 136 1-232 1 235 1-44 1-195 1 212 1-91 1 88 1-80 1 129 1-137 1 113 1-128 1 116 1-147 1 91 1 79 1-124 1 133 1-124 1 60 1 57 1-108 1 113 1-197 1 218 1-152 1 20 1 163 1-79 1 47 1-238 1 158 1-36 1 62 1-197 1 163 1 62 1-283 1 242 1-39 1-87 1 246 1-193 1 73 1-87 1 73 1 103 1-147 1 48 1-34 1 48 1-156 1 52 1 63 1-106 1 149 1 58 1-147 1-35 1 91 1-13 1 120 1-45 1-91 1-47 1 92 1-50 1 97 1-52 1-105 1 103 1-86 1 93 1-57 1-67 1 128 1-72 1 178 1-149 1 62 1-56 1-79 1 273 1-143 1-63 1 52 1 3 1-140 1 165 1-89 1-52 1 118 1 39 1-209 1 107 1 40 1 29 1-100 1 154 1-177 1 90 1-48 1 11 1 65 1 7 1-57 1-131 1 203 1 7 1-153 1 93 1-147 1 61 1 158 1-56 1 127 1-244 1 177 1-235 1 155 1-114 1 116 1 54 1-86 1-32 1 97 1-75 1 87 1-12 1 34 1 14 1-217 1 16 1 180 1-52 1-123 1 48 1 170 1-53 1-105 1 23 1 27 1 84 1 30 1-214 1 169 1-18 1-18 1-86 1 137 1-21 1-100 1 51 1-80 1 153 1-111 1-72 1 130 1-94 1 74 1-11 1 47 1-110 1 89 1-21 1 32 1-36 1-66 1 98 1-95 1 143 1-205 1 151 1 60 1-141 1 83 1-121 1 117 1-60 1 84 1-17 1-105 1-10 1 130 1-33 1 18 1 57 1-107 1-87 1 190 1-37 1-86 1 93 1-100 1 39 1 32 1 84 1-138 1 43 1-137 1 151 1-62 1-12 1 107 1-102 1 66 1-125 1 165 1-35 1-19 1-78 1 101 1-3 1-165 1 135 1-36 1 75 1-49 1 116 1-162 1 39 1-47 1 154 1-91 1 23 1-111 1 126 1-86 1 16 1 29 1-78 1 75 1-7 1 66 1-114 1 82 1-75 1 58 1 27 1-92 1 2 1 77 1-21 1 6 1-28 1 62 1-44 1 19 1 29 1-69 1-2 1 20 1 34 1-25 1 19 1-36 1 27 1-93 1 95 1-69 1 94 1-102 1 91 1-31 1-41 1 71 1-29 1-34 1-2 1 48 1 11 1-32 1-44 1 75 1-31 1 30 1-25 1 49 1-47 1 24 1-12 1-43 1 43 1-32 1 25 1-33 1 26 1-15 1-20 1 46 1-64 1 69 1 6 1-37 1 54 1-78 1 30 1-2 1-32 1 76 1-46 1 39 1 58 1-91 1-4 1 68 1-20 1-66 1-11 1 94 1-69 1 78 1-4 1-100 1 35 1 52 1-62 1 43 1 1 1-42 1 55 1-74 1-5 1 85 1-18 1-59 1-3 1 37 1-16 1 32 1-4 1-35 1 31 1-44 1 0 1 40 1-28 1 94 1-54 1-101 1 107 1-122 1 121 1-80 1 105 1-74 1 3 1 36 1 2 1-38 1-24 1 52 1-18 1 43 1-6 1-43 1 7 1-20 1 33 1 34 1-32 1-44 1 23 1 29 1 15 1 27 1-18 1-86 1-1 1 92 1 40 1-118 1 124 1-151 1 118 1-128 1-73 1 169 1 49 1-90 1-79 1 123 1 39 1-97 1 171 1-179 1 53 1-38 1 56 1-91 1 108 1-98 1 29 1 185 1-183 1 92 1 40 1-231 1 12 1 63 1 103 1-224 1 280 1-203 1-49 1 182 1-59 1 47 1 2 1-95 1 86 1-99 1 132 1-97 1 102 1-61 1-21 1 57 1-99 1 71 1-46 1 101 1-119 1 60 1 58 1-81 1-32 1 111 1-151 1 149 1-22 1-81 1 66 1-90 1 145 1-162 1 99 1-62 1 104 1-112 1 195 1-148 1 43 1-55 1 50 1-122 1-18 1 84 1 21 1-40 1 118 1-117 1 99 1-93 1 106 1-142 1 106 1-108 1 22 1 175 1-160 1 130 1-207 1 176 1-61 1-74 1 32 1-19 1 69 1 92 1-71 1-72 1 72 1 82 1-117 1 79 1-3 1-108 1-120 1 156 1-93 1 186 1-191 1 88 1 61 1-103 1 58 1-97 1 3 1 116 1 90 1-155 1-47 1 68 1-43 1 97 1-79 1 84 1-199 1 213 1-125 1 192 1-57 1-111 1-38 1 109 1-75 1 77 1 33 1-139 1 187 1-102 1 73 1-149 1 146 1-104 1 212 1-127 1-64 1-160 1 232 1-106 1-32 1 107 1-11 1 96 1-155 1 40 1 23 1-139 1 181 1-108 1 42 1 107 1-47 1-43 1 6 1-113 1 143 1-60 1 49 1-55 1 18 1 88 1-6 1-61 1-7 1-51 1 0 1 185 1-95 1-46 1-112 1 80 1 20 1-91 1 37 1 85 1-1 1-116 1-37 1 218 1-144 1 55 1-21 1 52 1-56 1 49 1-112 1 87 1-71 1 75 1-61 1 54 1-46 1 141 1-185 1 141 1-121 1 113 1 45 1-150 1 95 1-45 1-47 1 122 1 7 1-128 1-7 1 64 1-54 1 164 1-65 1-99 1 150 1-85 1 40 1-103 1-19 1 62 1 56 1-102 1 162 1-193 1 37 1 139 1-41 1-111 1 135 1-160 1 138 1-90 1 35 1 114 1-193 1 85 1-38 1 83 1 81 1-147 1 82 1-127 1 97 1-69 1-27 1 110 1-59 1-52 1 142 1-110 1 97 1-98 1 79 1-76 1-4 1 128 1-234 1 235 1-148 1 136 1-11 1-74 1 26 1 36 1-115 1 127 1 16 1-85 1 70 1-132 1 241 1-297 1 210 1-283 1 192 1-74 1 169 1-118 1-36 1 157 1-43 1-77 1 90 1-232 1 268 1-159 1 77 1-55 1-109 1 156 1 19 1-65 1 126 1-93 1 41 1-111 1 150 1-166 1 157 1-136 1 99 1-72 1 71 1-88 1 153 1-148 1 60 1-67 1-23 1 133 1-8 1-188 1 128 1 102 1-195 1 146 1 53 1-162 1 7 1 76 1-38 1 22 1-51 1 177 1-77 1-120 1 163 1-116 1-38 1 150 1-66 1-48 1-40 1 70 1 97 1-144 1 25 1 94 1 34 1-267 1 185 1-144 1 28 1 188 1-28 1-122 1 81 1-41 1 83 1-194 1 60 1 134 1-34 1-29 1-82 1 104 1-57 1 23 1 15 1-149 1 203 1-140 1 166 1-151 1 64 1-87 1 58 1-151 1 97 1 138 1-32 1-78 1 127 1-167 1 19 1 97 1-74 1 116 1-60 1-70 1 23 1-62 1 95 1-46 1-85 1 174 1 8 1-108 1 126 1-130 1 35 1 62 1 33 1-166 1 89 1 50 1 32 1-80 1-31 1 116 1-44 1-117 1 48 1 136 1-20 1-159 1-52 1 166 1-118 1 110 1-88 1 88 1-94 1 111 1-49 1 60 1 4 1-91 1 35 1 111 1-155 1 78 1 20 1-142 1 108 1-87 1 90 1-76 1 67 1-20 1-19 1 27 1 8 1 14 1-23 1-21 1 59 1-78 1 146 1-112 1 27 1-29 1-32 1 101 1-163 1 86 1 32 1-23 1 45 1-139 1-1 1 105 1-8 1-15 1 42 1-83 1-2 1 170 1-189 1 114 1-100 1 126 1-65 1 101 1-10 1-126 1 80 1-78 1 166 1-104 1 14 1-122 1 111 1-69 1 86 1-62 1 79 1-44 1 20 1-111 1 140 1-138 1 132 1-33 1 7 1-95 1 53 1 27 1 43 1-66 1 163 1-275 1 188 1-178 1 249 1-211 1 141 1-137 1 120 1-73 1 9 1 77 1-66 1 76 1-159 1 93 1-41 1 69 1 17 1-73 1 2 1 63 1 17 1-101 1 13 1 35 1-50 1 80 1-99 1 50 1-58 1 111 1 24 1-118 1 24 1 180 1-267 1 125 1 75 1-178 1 116 1-127 1 59 1 95 1 0 1-55 1 36 1-166 1 119 1-157 1 34 1 179 1-144 1 88 1 105 1-131 1 74 1-51 1 109 1-123 1 77 1-66 1 20 1 113 1-26 1-126 1 61 1-77 1 96 1-94 1 74 1-184 1 110 1 79 1-2 1-46 1-38 1 171 1-173 1 122 1-45 1-48 1 76 1-61 1 12 1-78 1 145 1-71 1 49 1-75 1-6 1 144 1-65 1-68 1 33 1-56 1 72 1-81 1 67 1-60 1 66 1-35 1 62 1-104 1 21 1 58 1 41 1-91 1 32 1 105 1-11 1-69 1-124 1 113 1-25 1 97 1-86 1-105 1 172 1-84 1 12 1 175 1-166 1-17 1-120 1 85 1 154 1-159 1 150 1-112 1 2 1 53 1-95 1 38 1 79 1-140 1 79 1-17 1 52 1-91 1 5 1 102 1-24 1-16 1-40 1 91 1-83 1 71 1-25 1-84 1 109 1-87 1 3 1 27 1 46 1-130 1 162 1-98 1 153 1-257 1 129 1-26 1 2 1 137 1-112 1-72 1 18 1 123 1-175 1 68 1 127 1-173 1 68 1 63 1-106 1 40 1 20 1 44 1-23 1-81 1 15 1 110 1 3 1-147 1 38 1 47 1-10 1-133 1 39 1 156 1-75 1 47 1 11 1-49 1-2 1 12 1-101 1 162 1 18 1-136 1-6 1 91 1 23 1-110 1 51 1 73 1-188 1 153 1 96 1-162 1-51 1 132 1 18 1-78 1-46 1 53 1 43 1-80 1 48 1 98 1-113 1 82 1-130 1 137 1-53 1-96 1-8 1 154 1-126 1 108 1-49 1 66 1-92 1 112 1 19 1-274 1 221 1-104 1-15 1 78 1 14 1-133 1 157 1-80 1 41 1-61 1 78 1-159 1 108 1-22 1 126 1-94 1 144 1-166 1-51 1 156 1 1 1-83 1 32 1-95 1 99 1-45 1-82 1 122 1 3 1-79 1 68 1-36 1 1 1 80 1-22 1-99 1 74 1-20 1-68 1 31 1 52 1-27 1 30 1-40 1 10 1 89 1-82 1-116 1 132 1 51 1-63 1 100 1-68 1-54 1-158 1 238 1-98 1-58 1 147 1-88 1 110 1-87 1 127 1-115 1-12 1 102 1-55 1-19" fill="none" stroke="#0000ff" stroke-width="0.42" vector-effect="non-scaling-stroke"/>
<path d="M390.50 520.8v-2.9M390.50 461.7v2.9M438.33 520.8v-2.9M438.33 461.7v2.9M486.17 520.8v-2.9M486.17 461.7v2.9M534.00 520.8v-2.9M534.00 461.7v2.9M581.83 520.8v-2.9M581.83 461.7v2.9M629.67 520.8v-2.9M629.67 461.7v2.9M677.50 520.8v-2.9M677.50 461.7v2.9M390.5 520.80h2.9M677.5 520.80h-2.9M390.5 491.25h2.9M677.5 491.25h-2.9M390.5 461.70h2.9M677.5 461.70h-2.9" fill="none" stroke="#747474" stroke-width="1"/>
<rect x="390.5" y="461.7" width="287.0" height="59.10" fill="none" stroke="#747474" stroke-width="1"/>
<text x="390.50" y="533.30" font-size="8.3" text-anchor="middle">0</text>
<text x="438.33" y="533.30" font-size="8.3" text-anchor="middle">20</text>
<text x="486.17" y="533.30" font-size="8.3" text-anchor="middle">40</text>
<text x="534.00" y="533.30" font-size="8.3" text-anchor="middle">60</text>
<text x="581.83" y="533.30" font-size="8.3" text-anchor="middle">80</text>
<text x="629.67" y="533.30" font-size="8.3" text-anchor="middle">100</text>
<text x="677.50" y="533.30" font-size="8.3" text-anchor="middle">120</text>
<text x="387.30" y="524.40" font-size="8.3" text-anchor="end">-2000</text>
<text x="387.30" y="494.85" font-size="8.3" text-anchor="end">0</text>
<text x="387.30" y="465.30" font-size="8.3" text-anchor="end">2000</text>
<text transform="translate(361.60,491.25) rotate(-90)" font-size="9.3" text-anchor="middle">roll (deg/s/s)</text>
<text x="534.00" y="545.40" font-size="9" text-anchor="middle">time (s)</text>
</svg></body></html>
